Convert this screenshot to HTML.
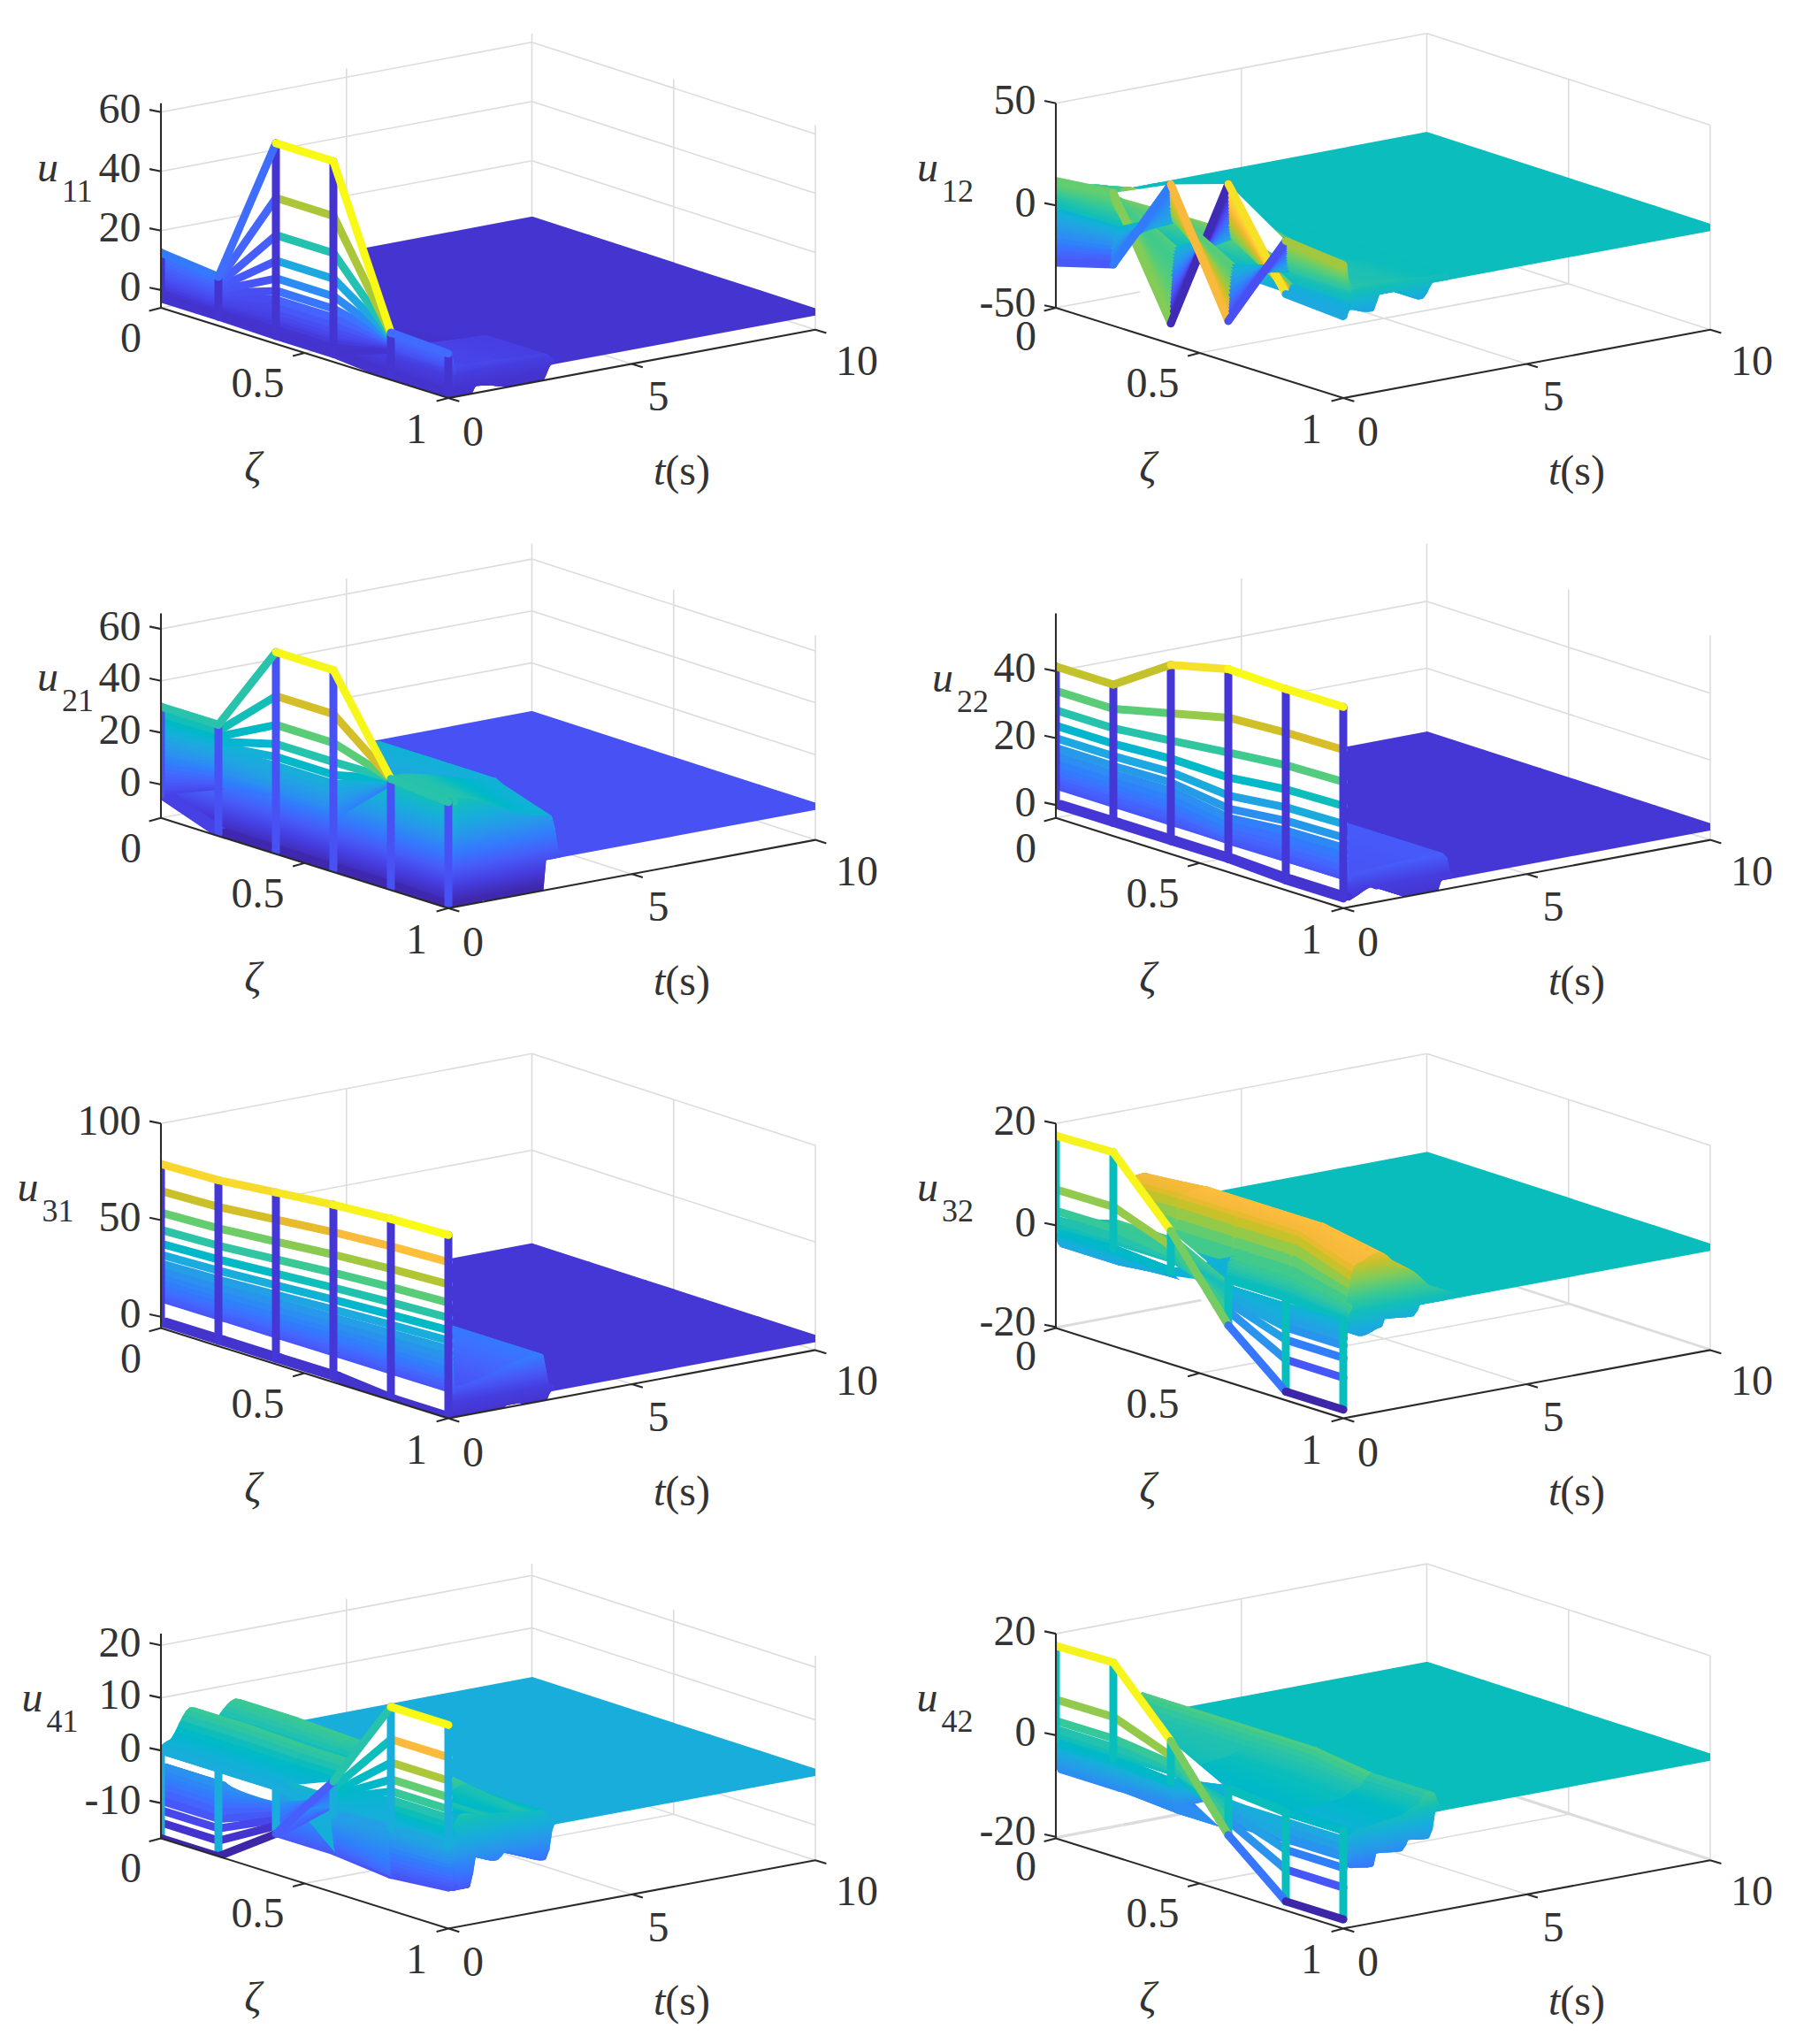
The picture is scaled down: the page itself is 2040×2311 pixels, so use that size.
<!DOCTYPE html><html><head><meta charset="utf-8"><title>figure</title><style>html,body{margin:0;padding:0;background:#fff}svg{display:block}text{font-family:"Liberation Serif",serif;font-size:48px;fill:#333}.g{fill:none;stroke:#dcdcdc;stroke-width:1.6}.a{fill:none;stroke:#2a2a2a;stroke-width:2.1}.s path{fill:currentColor;stroke:currentColor;stroke-width:8;stroke-linejoin:round}.r path{fill:none;stroke:currentColor;stroke-width:9;stroke-linecap:round;stroke-linejoin:round}</style></head><body><svg width="2040" height="2311" viewBox="0 0 2040 2311"><rect width="2040" height="2311" fill="#fff"/><defs><clipPath id="c00"><path d="M182,348L507,450L922,372.8L922,141.5L601.5,37.7L182,116.7Z"/></clipPath><clipPath id="c10"><path d="M1194,348L1519,450L1934,372.8L1934,141.5L1613.5,37.7L1194,116.7Z"/></clipPath><clipPath id="c01"><path d="M182,924.8L507,1026.8L922,949.6L922,718.3L601.5,614.5L182,693.5Z"/></clipPath><clipPath id="c11"><path d="M1194,924.8L1519,1026.8L1934,949.6L1934,718.3L1613.5,614.5L1194,693.5Z"/></clipPath><clipPath id="c02"><path d="M182,1501.6L507,1603.6L922,1526.4L922,1295.1L601.5,1191.3L182,1270.3Z"/></clipPath><clipPath id="c12"><path d="M1194,1501.6L1519,1603.6L1934,1526.4L1934,1295.1L1613.5,1191.3L1194,1270.3Z"/></clipPath><clipPath id="c03"><path d="M182,2078.4L507,2180.4L922,2103.2L922,1871.9L601.5,1768.1L182,1847.1Z"/></clipPath><clipPath id="c13"><path d="M1194,2078.4L1519,2180.4L1934,2103.2L1934,1871.9L1613.5,1768.1L1194,1847.1Z"/></clipPath><linearGradient id="g004" gradientUnits="userSpaceOnUse" x1="442" y1="422.2" x2="402.2" y2="209.1"><stop offset="0%" stop-color="#4433cc"/><stop offset="8.3%" stop-color="#463de0"/><stop offset="16.7%" stop-color="#475bf9"/><stop offset="25%" stop-color="#347afd"/><stop offset="33.3%" stop-color="#2797eb"/><stop offset="41.7%" stop-color="#17aeda"/><stop offset="50%" stop-color="#12beb9"/><stop offset="58.3%" stop-color="#3dc990"/><stop offset="66.7%" stop-color="#81cc59"/><stop offset="75%" stop-color="#c8c129"/><stop offset="83.3%" stop-color="#fbbc3d"/><stop offset="91.7%" stop-color="#f7db2b"/><stop offset="100%" stop-color="#f9fb15"/></linearGradient><linearGradient id="g005" gradientUnits="userSpaceOnUse" x1="507" y1="442.6" x2="467.3" y2="229.4"><stop offset="0%" stop-color="#4433cc"/><stop offset="8.3%" stop-color="#463de0"/><stop offset="16.7%" stop-color="#475bf9"/><stop offset="25%" stop-color="#347afd"/><stop offset="33.3%" stop-color="#2797eb"/><stop offset="41.7%" stop-color="#17aeda"/><stop offset="50%" stop-color="#12beb9"/><stop offset="58.3%" stop-color="#3dc990"/><stop offset="66.7%" stop-color="#81cc59"/><stop offset="75%" stop-color="#c8c129"/><stop offset="83.3%" stop-color="#fbbc3d"/><stop offset="91.7%" stop-color="#f7db2b"/><stop offset="100%" stop-color="#f9fb15"/></linearGradient><linearGradient id="f003" gradientUnits="userSpaceOnUse" x1="377" y1="401.8" x2="440" y2="201"><stop offset="0%" stop-color="#4433cc"/><stop offset="8.3%" stop-color="#463de0"/><stop offset="16.7%" stop-color="#475bf9"/><stop offset="25%" stop-color="#347afd"/><stop offset="33.3%" stop-color="#2797eb"/><stop offset="41.7%" stop-color="#17aeda"/><stop offset="50%" stop-color="#12beb9"/><stop offset="58.3%" stop-color="#3dc990"/><stop offset="66.7%" stop-color="#81cc59"/><stop offset="75%" stop-color="#c8c129"/><stop offset="83.3%" stop-color="#fbbc3d"/><stop offset="91.7%" stop-color="#f7db2b"/><stop offset="100%" stop-color="#f9fb15"/></linearGradient><linearGradient id="f004" gradientUnits="userSpaceOnUse" x1="442" y1="422.2" x2="505" y2="221.4"><stop offset="0%" stop-color="#4433cc"/><stop offset="8.3%" stop-color="#463de0"/><stop offset="16.7%" stop-color="#475bf9"/><stop offset="25%" stop-color="#347afd"/><stop offset="33.3%" stop-color="#2797eb"/><stop offset="41.7%" stop-color="#17aeda"/><stop offset="50%" stop-color="#12beb9"/><stop offset="58.3%" stop-color="#3dc990"/><stop offset="66.7%" stop-color="#81cc59"/><stop offset="75%" stop-color="#c8c129"/><stop offset="83.3%" stop-color="#fbbc3d"/><stop offset="91.7%" stop-color="#f7db2b"/><stop offset="100%" stop-color="#f9fb15"/></linearGradient><linearGradient id="g100" gradientUnits="userSpaceOnUse" x1="1194" y1="328.6" x2="1158.4" y2="139.6"><stop offset="0%" stop-color="#3e26a8"/><stop offset="8.3%" stop-color="#463de0"/><stop offset="16.7%" stop-color="#475bf9"/><stop offset="25%" stop-color="#347afd"/><stop offset="33.3%" stop-color="#2797eb"/><stop offset="41.7%" stop-color="#17aeda"/><stop offset="50%" stop-color="#12beb9"/><stop offset="58.3%" stop-color="#3dc990"/><stop offset="66.7%" stop-color="#81cc59"/><stop offset="75%" stop-color="#c8c129"/><stop offset="83.3%" stop-color="#fbbc3d"/><stop offset="91.7%" stop-color="#f7db2b"/><stop offset="100%" stop-color="#f9fb15"/></linearGradient><linearGradient id="g101" gradientUnits="userSpaceOnUse" x1="1259" y1="349" x2="1223.5" y2="160"><stop offset="0%" stop-color="#3e26a8"/><stop offset="8.3%" stop-color="#463de0"/><stop offset="16.7%" stop-color="#475bf9"/><stop offset="25%" stop-color="#347afd"/><stop offset="33.3%" stop-color="#2797eb"/><stop offset="41.7%" stop-color="#17aeda"/><stop offset="50%" stop-color="#12beb9"/><stop offset="58.3%" stop-color="#3dc990"/><stop offset="66.7%" stop-color="#81cc59"/><stop offset="75%" stop-color="#c8c129"/><stop offset="83.3%" stop-color="#fbbc3d"/><stop offset="91.7%" stop-color="#f7db2b"/><stop offset="100%" stop-color="#f9fb15"/></linearGradient><linearGradient id="g102" gradientUnits="userSpaceOnUse" x1="1324" y1="369.4" x2="1288.6" y2="180.3"><stop offset="0%" stop-color="#3e26a8"/><stop offset="8.3%" stop-color="#463de0"/><stop offset="16.7%" stop-color="#475bf9"/><stop offset="25%" stop-color="#347afd"/><stop offset="33.3%" stop-color="#2797eb"/><stop offset="41.7%" stop-color="#17aeda"/><stop offset="50%" stop-color="#12beb9"/><stop offset="58.3%" stop-color="#3dc990"/><stop offset="66.7%" stop-color="#81cc59"/><stop offset="75%" stop-color="#c8c129"/><stop offset="83.3%" stop-color="#fbbc3d"/><stop offset="91.7%" stop-color="#f7db2b"/><stop offset="100%" stop-color="#f9fb15"/></linearGradient><linearGradient id="g103" gradientUnits="userSpaceOnUse" x1="1389" y1="389.8" x2="1353.7" y2="200.7"><stop offset="0%" stop-color="#3e26a8"/><stop offset="8.3%" stop-color="#463de0"/><stop offset="16.7%" stop-color="#475bf9"/><stop offset="25%" stop-color="#347afd"/><stop offset="33.3%" stop-color="#2797eb"/><stop offset="41.7%" stop-color="#17aeda"/><stop offset="50%" stop-color="#12beb9"/><stop offset="58.3%" stop-color="#3dc990"/><stop offset="66.7%" stop-color="#81cc59"/><stop offset="75%" stop-color="#c8c129"/><stop offset="83.3%" stop-color="#fbbc3d"/><stop offset="91.7%" stop-color="#f7db2b"/><stop offset="100%" stop-color="#f9fb15"/></linearGradient><linearGradient id="g104" gradientUnits="userSpaceOnUse" x1="1454" y1="410.2" x2="1418.7" y2="221.1"><stop offset="0%" stop-color="#3e26a8"/><stop offset="8.3%" stop-color="#463de0"/><stop offset="16.7%" stop-color="#475bf9"/><stop offset="25%" stop-color="#347afd"/><stop offset="33.3%" stop-color="#2797eb"/><stop offset="41.7%" stop-color="#17aeda"/><stop offset="50%" stop-color="#12beb9"/><stop offset="58.3%" stop-color="#3dc990"/><stop offset="66.7%" stop-color="#81cc59"/><stop offset="75%" stop-color="#c8c129"/><stop offset="83.3%" stop-color="#fbbc3d"/><stop offset="91.7%" stop-color="#f7db2b"/><stop offset="100%" stop-color="#f9fb15"/></linearGradient><linearGradient id="g105" gradientUnits="userSpaceOnUse" x1="1519" y1="430.6" x2="1483.8" y2="241.4"><stop offset="0%" stop-color="#3e26a8"/><stop offset="8.3%" stop-color="#463de0"/><stop offset="16.7%" stop-color="#475bf9"/><stop offset="25%" stop-color="#347afd"/><stop offset="33.3%" stop-color="#2797eb"/><stop offset="41.7%" stop-color="#17aeda"/><stop offset="50%" stop-color="#12beb9"/><stop offset="58.3%" stop-color="#3dc990"/><stop offset="66.7%" stop-color="#81cc59"/><stop offset="75%" stop-color="#c8c129"/><stop offset="83.3%" stop-color="#fbbc3d"/><stop offset="91.7%" stop-color="#f7db2b"/><stop offset="100%" stop-color="#f9fb15"/></linearGradient><linearGradient id="f100" gradientUnits="userSpaceOnUse" x1="1194" y1="328.6" x2="1249.9" y2="150.4"><stop offset="0%" stop-color="#3e26a8"/><stop offset="8.3%" stop-color="#463de0"/><stop offset="16.7%" stop-color="#475bf9"/><stop offset="25%" stop-color="#347afd"/><stop offset="33.3%" stop-color="#2797eb"/><stop offset="41.7%" stop-color="#17aeda"/><stop offset="50%" stop-color="#12beb9"/><stop offset="58.3%" stop-color="#3dc990"/><stop offset="66.7%" stop-color="#81cc59"/><stop offset="75%" stop-color="#c8c129"/><stop offset="83.3%" stop-color="#fbbc3d"/><stop offset="91.7%" stop-color="#f7db2b"/><stop offset="100%" stop-color="#f9fb15"/></linearGradient><linearGradient id="f101" gradientUnits="userSpaceOnUse" x1="1259" y1="349" x2="1314.9" y2="170.8"><stop offset="0%" stop-color="#3e26a8"/><stop offset="8.3%" stop-color="#463de0"/><stop offset="16.7%" stop-color="#475bf9"/><stop offset="25%" stop-color="#347afd"/><stop offset="33.3%" stop-color="#2797eb"/><stop offset="41.7%" stop-color="#17aeda"/><stop offset="50%" stop-color="#12beb9"/><stop offset="58.3%" stop-color="#3dc990"/><stop offset="66.7%" stop-color="#81cc59"/><stop offset="75%" stop-color="#c8c129"/><stop offset="83.3%" stop-color="#fbbc3d"/><stop offset="91.7%" stop-color="#f7db2b"/><stop offset="100%" stop-color="#f9fb15"/></linearGradient><linearGradient id="f102" gradientUnits="userSpaceOnUse" x1="1324" y1="369.4" x2="1379.9" y2="191.2"><stop offset="0%" stop-color="#3e26a8"/><stop offset="8.3%" stop-color="#463de0"/><stop offset="16.7%" stop-color="#475bf9"/><stop offset="25%" stop-color="#347afd"/><stop offset="33.3%" stop-color="#2797eb"/><stop offset="41.7%" stop-color="#17aeda"/><stop offset="50%" stop-color="#12beb9"/><stop offset="58.3%" stop-color="#3dc990"/><stop offset="66.7%" stop-color="#81cc59"/><stop offset="75%" stop-color="#c8c129"/><stop offset="83.3%" stop-color="#fbbc3d"/><stop offset="91.7%" stop-color="#f7db2b"/><stop offset="100%" stop-color="#f9fb15"/></linearGradient><linearGradient id="f103" gradientUnits="userSpaceOnUse" x1="1389" y1="389.8" x2="1444.9" y2="211.6"><stop offset="0%" stop-color="#3e26a8"/><stop offset="8.3%" stop-color="#463de0"/><stop offset="16.7%" stop-color="#475bf9"/><stop offset="25%" stop-color="#347afd"/><stop offset="33.3%" stop-color="#2797eb"/><stop offset="41.7%" stop-color="#17aeda"/><stop offset="50%" stop-color="#12beb9"/><stop offset="58.3%" stop-color="#3dc990"/><stop offset="66.7%" stop-color="#81cc59"/><stop offset="75%" stop-color="#c8c129"/><stop offset="83.3%" stop-color="#fbbc3d"/><stop offset="91.7%" stop-color="#f7db2b"/><stop offset="100%" stop-color="#f9fb15"/></linearGradient><linearGradient id="f104" gradientUnits="userSpaceOnUse" x1="1454" y1="410.2" x2="1509.9" y2="232"><stop offset="0%" stop-color="#3e26a8"/><stop offset="8.3%" stop-color="#463de0"/><stop offset="16.7%" stop-color="#475bf9"/><stop offset="25%" stop-color="#347afd"/><stop offset="33.3%" stop-color="#2797eb"/><stop offset="41.7%" stop-color="#17aeda"/><stop offset="50%" stop-color="#12beb9"/><stop offset="58.3%" stop-color="#3dc990"/><stop offset="66.7%" stop-color="#81cc59"/><stop offset="75%" stop-color="#c8c129"/><stop offset="83.3%" stop-color="#fbbc3d"/><stop offset="91.7%" stop-color="#f7db2b"/><stop offset="100%" stop-color="#f9fb15"/></linearGradient><linearGradient id="g010" gradientUnits="userSpaceOnUse" x1="182" y1="919.2" x2="140.9" y2="701.2"><stop offset="0%" stop-color="#3f28ad"/><stop offset="8.3%" stop-color="#463de0"/><stop offset="16.7%" stop-color="#475bf9"/><stop offset="25%" stop-color="#347afd"/><stop offset="33.3%" stop-color="#2797eb"/><stop offset="41.7%" stop-color="#17aeda"/><stop offset="50%" stop-color="#12beb9"/><stop offset="58.3%" stop-color="#3dc990"/><stop offset="66.7%" stop-color="#81cc59"/><stop offset="75%" stop-color="#c8c129"/><stop offset="83.3%" stop-color="#fbbc3d"/><stop offset="91.7%" stop-color="#f7db2b"/><stop offset="100%" stop-color="#f9fb15"/></linearGradient><linearGradient id="g011" gradientUnits="userSpaceOnUse" x1="247" y1="939.6" x2="206" y2="721.6"><stop offset="0%" stop-color="#3f28ad"/><stop offset="8.3%" stop-color="#463de0"/><stop offset="16.7%" stop-color="#475bf9"/><stop offset="25%" stop-color="#347afd"/><stop offset="33.3%" stop-color="#2797eb"/><stop offset="41.7%" stop-color="#17aeda"/><stop offset="50%" stop-color="#12beb9"/><stop offset="58.3%" stop-color="#3dc990"/><stop offset="66.7%" stop-color="#81cc59"/><stop offset="75%" stop-color="#c8c129"/><stop offset="83.3%" stop-color="#fbbc3d"/><stop offset="91.7%" stop-color="#f7db2b"/><stop offset="100%" stop-color="#f9fb15"/></linearGradient><linearGradient id="g012" gradientUnits="userSpaceOnUse" x1="312" y1="960" x2="271.1" y2="742"><stop offset="0%" stop-color="#3f28ad"/><stop offset="8.3%" stop-color="#463de0"/><stop offset="16.7%" stop-color="#475bf9"/><stop offset="25%" stop-color="#347afd"/><stop offset="33.3%" stop-color="#2797eb"/><stop offset="41.7%" stop-color="#17aeda"/><stop offset="50%" stop-color="#12beb9"/><stop offset="58.3%" stop-color="#3dc990"/><stop offset="66.7%" stop-color="#81cc59"/><stop offset="75%" stop-color="#c8c129"/><stop offset="83.3%" stop-color="#fbbc3d"/><stop offset="91.7%" stop-color="#f7db2b"/><stop offset="100%" stop-color="#f9fb15"/></linearGradient><linearGradient id="g013" gradientUnits="userSpaceOnUse" x1="377" y1="980.4" x2="336.2" y2="762.3"><stop offset="0%" stop-color="#3f28ad"/><stop offset="8.3%" stop-color="#463de0"/><stop offset="16.7%" stop-color="#475bf9"/><stop offset="25%" stop-color="#347afd"/><stop offset="33.3%" stop-color="#2797eb"/><stop offset="41.7%" stop-color="#17aeda"/><stop offset="50%" stop-color="#12beb9"/><stop offset="58.3%" stop-color="#3dc990"/><stop offset="66.7%" stop-color="#81cc59"/><stop offset="75%" stop-color="#c8c129"/><stop offset="83.3%" stop-color="#fbbc3d"/><stop offset="91.7%" stop-color="#f7db2b"/><stop offset="100%" stop-color="#f9fb15"/></linearGradient><linearGradient id="g014" gradientUnits="userSpaceOnUse" x1="442" y1="1000.8" x2="401.3" y2="782.7"><stop offset="0%" stop-color="#3f28ad"/><stop offset="8.3%" stop-color="#463de0"/><stop offset="16.7%" stop-color="#475bf9"/><stop offset="25%" stop-color="#347afd"/><stop offset="33.3%" stop-color="#2797eb"/><stop offset="41.7%" stop-color="#17aeda"/><stop offset="50%" stop-color="#12beb9"/><stop offset="58.3%" stop-color="#3dc990"/><stop offset="66.7%" stop-color="#81cc59"/><stop offset="75%" stop-color="#c8c129"/><stop offset="83.3%" stop-color="#fbbc3d"/><stop offset="91.7%" stop-color="#f7db2b"/><stop offset="100%" stop-color="#f9fb15"/></linearGradient><linearGradient id="g015" gradientUnits="userSpaceOnUse" x1="507" y1="1021.2" x2="466.4" y2="803.1"><stop offset="0%" stop-color="#3f28ad"/><stop offset="8.3%" stop-color="#463de0"/><stop offset="16.7%" stop-color="#475bf9"/><stop offset="25%" stop-color="#347afd"/><stop offset="33.3%" stop-color="#2797eb"/><stop offset="41.7%" stop-color="#17aeda"/><stop offset="50%" stop-color="#12beb9"/><stop offset="58.3%" stop-color="#3dc990"/><stop offset="66.7%" stop-color="#81cc59"/><stop offset="75%" stop-color="#c8c129"/><stop offset="83.3%" stop-color="#fbbc3d"/><stop offset="91.7%" stop-color="#f7db2b"/><stop offset="100%" stop-color="#f9fb15"/></linearGradient><linearGradient id="f010" gradientUnits="userSpaceOnUse" x1="182" y1="919.2" x2="246.5" y2="713.7"><stop offset="0%" stop-color="#3f28ad"/><stop offset="8.3%" stop-color="#463de0"/><stop offset="16.7%" stop-color="#475bf9"/><stop offset="25%" stop-color="#347afd"/><stop offset="33.3%" stop-color="#2797eb"/><stop offset="41.7%" stop-color="#17aeda"/><stop offset="50%" stop-color="#12beb9"/><stop offset="58.3%" stop-color="#3dc990"/><stop offset="66.7%" stop-color="#81cc59"/><stop offset="75%" stop-color="#c8c129"/><stop offset="83.3%" stop-color="#fbbc3d"/><stop offset="91.7%" stop-color="#f7db2b"/><stop offset="100%" stop-color="#f9fb15"/></linearGradient><linearGradient id="f011" gradientUnits="userSpaceOnUse" x1="247" y1="939.6" x2="311.5" y2="734.1"><stop offset="0%" stop-color="#3f28ad"/><stop offset="8.3%" stop-color="#463de0"/><stop offset="16.7%" stop-color="#475bf9"/><stop offset="25%" stop-color="#347afd"/><stop offset="33.3%" stop-color="#2797eb"/><stop offset="41.7%" stop-color="#17aeda"/><stop offset="50%" stop-color="#12beb9"/><stop offset="58.3%" stop-color="#3dc990"/><stop offset="66.7%" stop-color="#81cc59"/><stop offset="75%" stop-color="#c8c129"/><stop offset="83.3%" stop-color="#fbbc3d"/><stop offset="91.7%" stop-color="#f7db2b"/><stop offset="100%" stop-color="#f9fb15"/></linearGradient><linearGradient id="f012" gradientUnits="userSpaceOnUse" x1="312" y1="960" x2="376.5" y2="754.5"><stop offset="0%" stop-color="#3f28ad"/><stop offset="8.3%" stop-color="#463de0"/><stop offset="16.7%" stop-color="#475bf9"/><stop offset="25%" stop-color="#347afd"/><stop offset="33.3%" stop-color="#2797eb"/><stop offset="41.7%" stop-color="#17aeda"/><stop offset="50%" stop-color="#12beb9"/><stop offset="58.3%" stop-color="#3dc990"/><stop offset="66.7%" stop-color="#81cc59"/><stop offset="75%" stop-color="#c8c129"/><stop offset="83.3%" stop-color="#fbbc3d"/><stop offset="91.7%" stop-color="#f7db2b"/><stop offset="100%" stop-color="#f9fb15"/></linearGradient><linearGradient id="f013" gradientUnits="userSpaceOnUse" x1="377" y1="980.4" x2="441.5" y2="774.9"><stop offset="0%" stop-color="#3f28ad"/><stop offset="8.3%" stop-color="#463de0"/><stop offset="16.7%" stop-color="#475bf9"/><stop offset="25%" stop-color="#347afd"/><stop offset="33.3%" stop-color="#2797eb"/><stop offset="41.7%" stop-color="#17aeda"/><stop offset="50%" stop-color="#12beb9"/><stop offset="58.3%" stop-color="#3dc990"/><stop offset="66.7%" stop-color="#81cc59"/><stop offset="75%" stop-color="#c8c129"/><stop offset="83.3%" stop-color="#fbbc3d"/><stop offset="91.7%" stop-color="#f7db2b"/><stop offset="100%" stop-color="#f9fb15"/></linearGradient><linearGradient id="f014" gradientUnits="userSpaceOnUse" x1="442" y1="1000.8" x2="506.5" y2="795.3"><stop offset="0%" stop-color="#3f28ad"/><stop offset="8.3%" stop-color="#463de0"/><stop offset="16.7%" stop-color="#475bf9"/><stop offset="25%" stop-color="#347afd"/><stop offset="33.3%" stop-color="#2797eb"/><stop offset="41.7%" stop-color="#17aeda"/><stop offset="50%" stop-color="#12beb9"/><stop offset="58.3%" stop-color="#3dc990"/><stop offset="66.7%" stop-color="#81cc59"/><stop offset="75%" stop-color="#c8c129"/><stop offset="83.3%" stop-color="#fbbc3d"/><stop offset="91.7%" stop-color="#f7db2b"/><stop offset="100%" stop-color="#f9fb15"/></linearGradient><linearGradient id="g110" gradientUnits="userSpaceOnUse" x1="1194" y1="924.8" x2="1152.1" y2="702.5"><stop offset="0%" stop-color="#4435d0"/><stop offset="8.3%" stop-color="#463de0"/><stop offset="16.7%" stop-color="#475bf9"/><stop offset="25%" stop-color="#347afd"/><stop offset="33.3%" stop-color="#2797eb"/><stop offset="41.7%" stop-color="#17aeda"/><stop offset="50%" stop-color="#12beb9"/><stop offset="58.3%" stop-color="#3dc990"/><stop offset="66.7%" stop-color="#81cc59"/><stop offset="75%" stop-color="#c8c129"/><stop offset="83.3%" stop-color="#fbbc3d"/><stop offset="91.7%" stop-color="#f7db2b"/><stop offset="100%" stop-color="#f9fb15"/></linearGradient><linearGradient id="g111" gradientUnits="userSpaceOnUse" x1="1259" y1="945.2" x2="1217.2" y2="722.9"><stop offset="0%" stop-color="#4435d0"/><stop offset="8.3%" stop-color="#463de0"/><stop offset="16.7%" stop-color="#475bf9"/><stop offset="25%" stop-color="#347afd"/><stop offset="33.3%" stop-color="#2797eb"/><stop offset="41.7%" stop-color="#17aeda"/><stop offset="50%" stop-color="#12beb9"/><stop offset="58.3%" stop-color="#3dc990"/><stop offset="66.7%" stop-color="#81cc59"/><stop offset="75%" stop-color="#c8c129"/><stop offset="83.3%" stop-color="#fbbc3d"/><stop offset="91.7%" stop-color="#f7db2b"/><stop offset="100%" stop-color="#f9fb15"/></linearGradient><linearGradient id="g112" gradientUnits="userSpaceOnUse" x1="1324" y1="965.6" x2="1282.3" y2="743.2"><stop offset="0%" stop-color="#4435d0"/><stop offset="8.3%" stop-color="#463de0"/><stop offset="16.7%" stop-color="#475bf9"/><stop offset="25%" stop-color="#347afd"/><stop offset="33.3%" stop-color="#2797eb"/><stop offset="41.7%" stop-color="#17aeda"/><stop offset="50%" stop-color="#12beb9"/><stop offset="58.3%" stop-color="#3dc990"/><stop offset="66.7%" stop-color="#81cc59"/><stop offset="75%" stop-color="#c8c129"/><stop offset="83.3%" stop-color="#fbbc3d"/><stop offset="91.7%" stop-color="#f7db2b"/><stop offset="100%" stop-color="#f9fb15"/></linearGradient><linearGradient id="g113" gradientUnits="userSpaceOnUse" x1="1389" y1="986" x2="1347.4" y2="763.6"><stop offset="0%" stop-color="#4435d0"/><stop offset="8.3%" stop-color="#463de0"/><stop offset="16.7%" stop-color="#475bf9"/><stop offset="25%" stop-color="#347afd"/><stop offset="33.3%" stop-color="#2797eb"/><stop offset="41.7%" stop-color="#17aeda"/><stop offset="50%" stop-color="#12beb9"/><stop offset="58.3%" stop-color="#3dc990"/><stop offset="66.7%" stop-color="#81cc59"/><stop offset="75%" stop-color="#c8c129"/><stop offset="83.3%" stop-color="#fbbc3d"/><stop offset="91.7%" stop-color="#f7db2b"/><stop offset="100%" stop-color="#f9fb15"/></linearGradient><linearGradient id="g114" gradientUnits="userSpaceOnUse" x1="1454" y1="1006.4" x2="1412.5" y2="784"><stop offset="0%" stop-color="#4435d0"/><stop offset="8.3%" stop-color="#463de0"/><stop offset="16.7%" stop-color="#475bf9"/><stop offset="25%" stop-color="#347afd"/><stop offset="33.3%" stop-color="#2797eb"/><stop offset="41.7%" stop-color="#17aeda"/><stop offset="50%" stop-color="#12beb9"/><stop offset="58.3%" stop-color="#3dc990"/><stop offset="66.7%" stop-color="#81cc59"/><stop offset="75%" stop-color="#c8c129"/><stop offset="83.3%" stop-color="#fbbc3d"/><stop offset="91.7%" stop-color="#f7db2b"/><stop offset="100%" stop-color="#f9fb15"/></linearGradient><linearGradient id="g115" gradientUnits="userSpaceOnUse" x1="1519" y1="1026.8" x2="1477.6" y2="804.3"><stop offset="0%" stop-color="#4435d0"/><stop offset="8.3%" stop-color="#463de0"/><stop offset="16.7%" stop-color="#475bf9"/><stop offset="25%" stop-color="#347afd"/><stop offset="33.3%" stop-color="#2797eb"/><stop offset="41.7%" stop-color="#17aeda"/><stop offset="50%" stop-color="#12beb9"/><stop offset="58.3%" stop-color="#3dc990"/><stop offset="66.7%" stop-color="#81cc59"/><stop offset="75%" stop-color="#c8c129"/><stop offset="83.3%" stop-color="#fbbc3d"/><stop offset="91.7%" stop-color="#f7db2b"/><stop offset="100%" stop-color="#f9fb15"/></linearGradient><linearGradient id="g020" gradientUnits="userSpaceOnUse" x1="182" y1="1501.6" x2="144.7" y2="1303.5"><stop offset="0%" stop-color="#4434ce"/><stop offset="8.3%" stop-color="#463de0"/><stop offset="16.7%" stop-color="#475bf9"/><stop offset="25%" stop-color="#347afd"/><stop offset="33.3%" stop-color="#2797eb"/><stop offset="41.7%" stop-color="#17aeda"/><stop offset="50%" stop-color="#12beb9"/><stop offset="58.3%" stop-color="#3dc990"/><stop offset="66.7%" stop-color="#81cc59"/><stop offset="75%" stop-color="#c8c129"/><stop offset="83.3%" stop-color="#fbbc3d"/><stop offset="91.7%" stop-color="#f7db2b"/><stop offset="100%" stop-color="#f9fb15"/></linearGradient><linearGradient id="g021" gradientUnits="userSpaceOnUse" x1="247" y1="1522" x2="209.8" y2="1323.9"><stop offset="0%" stop-color="#4434ce"/><stop offset="8.3%" stop-color="#463de0"/><stop offset="16.7%" stop-color="#475bf9"/><stop offset="25%" stop-color="#347afd"/><stop offset="33.3%" stop-color="#2797eb"/><stop offset="41.7%" stop-color="#17aeda"/><stop offset="50%" stop-color="#12beb9"/><stop offset="58.3%" stop-color="#3dc990"/><stop offset="66.7%" stop-color="#81cc59"/><stop offset="75%" stop-color="#c8c129"/><stop offset="83.3%" stop-color="#fbbc3d"/><stop offset="91.7%" stop-color="#f7db2b"/><stop offset="100%" stop-color="#f9fb15"/></linearGradient><linearGradient id="g022" gradientUnits="userSpaceOnUse" x1="312" y1="1542.4" x2="274.9" y2="1344.3"><stop offset="0%" stop-color="#4434ce"/><stop offset="8.3%" stop-color="#463de0"/><stop offset="16.7%" stop-color="#475bf9"/><stop offset="25%" stop-color="#347afd"/><stop offset="33.3%" stop-color="#2797eb"/><stop offset="41.7%" stop-color="#17aeda"/><stop offset="50%" stop-color="#12beb9"/><stop offset="58.3%" stop-color="#3dc990"/><stop offset="66.7%" stop-color="#81cc59"/><stop offset="75%" stop-color="#c8c129"/><stop offset="83.3%" stop-color="#fbbc3d"/><stop offset="91.7%" stop-color="#f7db2b"/><stop offset="100%" stop-color="#f9fb15"/></linearGradient><linearGradient id="g023" gradientUnits="userSpaceOnUse" x1="377" y1="1562.8" x2="340" y2="1364.6"><stop offset="0%" stop-color="#4434ce"/><stop offset="8.3%" stop-color="#463de0"/><stop offset="16.7%" stop-color="#475bf9"/><stop offset="25%" stop-color="#347afd"/><stop offset="33.3%" stop-color="#2797eb"/><stop offset="41.7%" stop-color="#17aeda"/><stop offset="50%" stop-color="#12beb9"/><stop offset="58.3%" stop-color="#3dc990"/><stop offset="66.7%" stop-color="#81cc59"/><stop offset="75%" stop-color="#c8c129"/><stop offset="83.3%" stop-color="#fbbc3d"/><stop offset="91.7%" stop-color="#f7db2b"/><stop offset="100%" stop-color="#f9fb15"/></linearGradient><linearGradient id="g024" gradientUnits="userSpaceOnUse" x1="442" y1="1583.2" x2="405" y2="1385"><stop offset="0%" stop-color="#4434ce"/><stop offset="8.3%" stop-color="#463de0"/><stop offset="16.7%" stop-color="#475bf9"/><stop offset="25%" stop-color="#347afd"/><stop offset="33.3%" stop-color="#2797eb"/><stop offset="41.7%" stop-color="#17aeda"/><stop offset="50%" stop-color="#12beb9"/><stop offset="58.3%" stop-color="#3dc990"/><stop offset="66.7%" stop-color="#81cc59"/><stop offset="75%" stop-color="#c8c129"/><stop offset="83.3%" stop-color="#fbbc3d"/><stop offset="91.7%" stop-color="#f7db2b"/><stop offset="100%" stop-color="#f9fb15"/></linearGradient><linearGradient id="g025" gradientUnits="userSpaceOnUse" x1="507" y1="1603.6" x2="470.1" y2="1405.4"><stop offset="0%" stop-color="#4434ce"/><stop offset="8.3%" stop-color="#463de0"/><stop offset="16.7%" stop-color="#475bf9"/><stop offset="25%" stop-color="#347afd"/><stop offset="33.3%" stop-color="#2797eb"/><stop offset="41.7%" stop-color="#17aeda"/><stop offset="50%" stop-color="#12beb9"/><stop offset="58.3%" stop-color="#3dc990"/><stop offset="66.7%" stop-color="#81cc59"/><stop offset="75%" stop-color="#c8c129"/><stop offset="83.3%" stop-color="#fbbc3d"/><stop offset="91.7%" stop-color="#f7db2b"/><stop offset="100%" stop-color="#f9fb15"/></linearGradient><linearGradient id="g120" gradientUnits="userSpaceOnUse" x1="1194" y1="1487.8" x2="1156" y2="1286.1"><stop offset="0%" stop-color="#3e26a8"/><stop offset="8.3%" stop-color="#463de0"/><stop offset="16.7%" stop-color="#475bf9"/><stop offset="25%" stop-color="#347afd"/><stop offset="33.3%" stop-color="#2797eb"/><stop offset="41.7%" stop-color="#17aeda"/><stop offset="50%" stop-color="#12beb9"/><stop offset="58.3%" stop-color="#3dc990"/><stop offset="66.7%" stop-color="#81cc59"/><stop offset="75%" stop-color="#c8c129"/><stop offset="83.3%" stop-color="#fbbc3d"/><stop offset="91.7%" stop-color="#f7db2b"/><stop offset="100%" stop-color="#f9fb15"/></linearGradient><linearGradient id="g121" gradientUnits="userSpaceOnUse" x1="1259" y1="1508.2" x2="1221.1" y2="1306.5"><stop offset="0%" stop-color="#3e26a8"/><stop offset="8.3%" stop-color="#463de0"/><stop offset="16.7%" stop-color="#475bf9"/><stop offset="25%" stop-color="#347afd"/><stop offset="33.3%" stop-color="#2797eb"/><stop offset="41.7%" stop-color="#17aeda"/><stop offset="50%" stop-color="#12beb9"/><stop offset="58.3%" stop-color="#3dc990"/><stop offset="66.7%" stop-color="#81cc59"/><stop offset="75%" stop-color="#c8c129"/><stop offset="83.3%" stop-color="#fbbc3d"/><stop offset="91.7%" stop-color="#f7db2b"/><stop offset="100%" stop-color="#f9fb15"/></linearGradient><linearGradient id="g122" gradientUnits="userSpaceOnUse" x1="1324" y1="1528.6" x2="1286.2" y2="1326.8"><stop offset="0%" stop-color="#3e26a8"/><stop offset="8.3%" stop-color="#463de0"/><stop offset="16.7%" stop-color="#475bf9"/><stop offset="25%" stop-color="#347afd"/><stop offset="33.3%" stop-color="#2797eb"/><stop offset="41.7%" stop-color="#17aeda"/><stop offset="50%" stop-color="#12beb9"/><stop offset="58.3%" stop-color="#3dc990"/><stop offset="66.7%" stop-color="#81cc59"/><stop offset="75%" stop-color="#c8c129"/><stop offset="83.3%" stop-color="#fbbc3d"/><stop offset="91.7%" stop-color="#f7db2b"/><stop offset="100%" stop-color="#f9fb15"/></linearGradient><linearGradient id="g123" gradientUnits="userSpaceOnUse" x1="1389" y1="1549" x2="1351.3" y2="1347.2"><stop offset="0%" stop-color="#3e26a8"/><stop offset="8.3%" stop-color="#463de0"/><stop offset="16.7%" stop-color="#475bf9"/><stop offset="25%" stop-color="#347afd"/><stop offset="33.3%" stop-color="#2797eb"/><stop offset="41.7%" stop-color="#17aeda"/><stop offset="50%" stop-color="#12beb9"/><stop offset="58.3%" stop-color="#3dc990"/><stop offset="66.7%" stop-color="#81cc59"/><stop offset="75%" stop-color="#c8c129"/><stop offset="83.3%" stop-color="#fbbc3d"/><stop offset="91.7%" stop-color="#f7db2b"/><stop offset="100%" stop-color="#f9fb15"/></linearGradient><linearGradient id="g124" gradientUnits="userSpaceOnUse" x1="1454" y1="1569.4" x2="1416.4" y2="1367.6"><stop offset="0%" stop-color="#3e26a8"/><stop offset="8.3%" stop-color="#463de0"/><stop offset="16.7%" stop-color="#475bf9"/><stop offset="25%" stop-color="#347afd"/><stop offset="33.3%" stop-color="#2797eb"/><stop offset="41.7%" stop-color="#17aeda"/><stop offset="50%" stop-color="#12beb9"/><stop offset="58.3%" stop-color="#3dc990"/><stop offset="66.7%" stop-color="#81cc59"/><stop offset="75%" stop-color="#c8c129"/><stop offset="83.3%" stop-color="#fbbc3d"/><stop offset="91.7%" stop-color="#f7db2b"/><stop offset="100%" stop-color="#f9fb15"/></linearGradient><linearGradient id="g125" gradientUnits="userSpaceOnUse" x1="1519" y1="1589.8" x2="1481.4" y2="1387.9"><stop offset="0%" stop-color="#3e26a8"/><stop offset="8.3%" stop-color="#463de0"/><stop offset="16.7%" stop-color="#475bf9"/><stop offset="25%" stop-color="#347afd"/><stop offset="33.3%" stop-color="#2797eb"/><stop offset="41.7%" stop-color="#17aeda"/><stop offset="50%" stop-color="#12beb9"/><stop offset="58.3%" stop-color="#3dc990"/><stop offset="66.7%" stop-color="#81cc59"/><stop offset="75%" stop-color="#c8c129"/><stop offset="83.3%" stop-color="#fbbc3d"/><stop offset="91.7%" stop-color="#f7db2b"/><stop offset="100%" stop-color="#f9fb15"/></linearGradient><linearGradient id="g030" gradientUnits="userSpaceOnUse" x1="182" y1="2071.9" x2="141.1" y2="1854.8"><stop offset="0%" stop-color="#3e26a8"/><stop offset="8.3%" stop-color="#463de0"/><stop offset="16.7%" stop-color="#475bf9"/><stop offset="25%" stop-color="#347afd"/><stop offset="33.3%" stop-color="#2797eb"/><stop offset="41.7%" stop-color="#17aeda"/><stop offset="50%" stop-color="#12beb9"/><stop offset="58.3%" stop-color="#3dc990"/><stop offset="66.7%" stop-color="#81cc59"/><stop offset="75%" stop-color="#c8c129"/><stop offset="83.3%" stop-color="#fbbc3d"/><stop offset="91.7%" stop-color="#f7db2b"/><stop offset="100%" stop-color="#f9fb15"/></linearGradient><linearGradient id="g031" gradientUnits="userSpaceOnUse" x1="247" y1="2092.3" x2="206.2" y2="1875.2"><stop offset="0%" stop-color="#3e26a8"/><stop offset="8.3%" stop-color="#463de0"/><stop offset="16.7%" stop-color="#475bf9"/><stop offset="25%" stop-color="#347afd"/><stop offset="33.3%" stop-color="#2797eb"/><stop offset="41.7%" stop-color="#17aeda"/><stop offset="50%" stop-color="#12beb9"/><stop offset="58.3%" stop-color="#3dc990"/><stop offset="66.7%" stop-color="#81cc59"/><stop offset="75%" stop-color="#c8c129"/><stop offset="83.3%" stop-color="#fbbc3d"/><stop offset="91.7%" stop-color="#f7db2b"/><stop offset="100%" stop-color="#f9fb15"/></linearGradient><linearGradient id="g032" gradientUnits="userSpaceOnUse" x1="312" y1="2112.7" x2="271.3" y2="1895.5"><stop offset="0%" stop-color="#3e26a8"/><stop offset="8.3%" stop-color="#463de0"/><stop offset="16.7%" stop-color="#475bf9"/><stop offset="25%" stop-color="#347afd"/><stop offset="33.3%" stop-color="#2797eb"/><stop offset="41.7%" stop-color="#17aeda"/><stop offset="50%" stop-color="#12beb9"/><stop offset="58.3%" stop-color="#3dc990"/><stop offset="66.7%" stop-color="#81cc59"/><stop offset="75%" stop-color="#c8c129"/><stop offset="83.3%" stop-color="#fbbc3d"/><stop offset="91.7%" stop-color="#f7db2b"/><stop offset="100%" stop-color="#f9fb15"/></linearGradient><linearGradient id="g033" gradientUnits="userSpaceOnUse" x1="377" y1="2133.1" x2="336.4" y2="1915.9"><stop offset="0%" stop-color="#3e26a8"/><stop offset="8.3%" stop-color="#463de0"/><stop offset="16.7%" stop-color="#475bf9"/><stop offset="25%" stop-color="#347afd"/><stop offset="33.3%" stop-color="#2797eb"/><stop offset="41.7%" stop-color="#17aeda"/><stop offset="50%" stop-color="#12beb9"/><stop offset="58.3%" stop-color="#3dc990"/><stop offset="66.7%" stop-color="#81cc59"/><stop offset="75%" stop-color="#c8c129"/><stop offset="83.3%" stop-color="#fbbc3d"/><stop offset="91.7%" stop-color="#f7db2b"/><stop offset="100%" stop-color="#f9fb15"/></linearGradient><linearGradient id="g034" gradientUnits="userSpaceOnUse" x1="442" y1="2153.5" x2="401.5" y2="1936.3"><stop offset="0%" stop-color="#3e26a8"/><stop offset="8.3%" stop-color="#463de0"/><stop offset="16.7%" stop-color="#475bf9"/><stop offset="25%" stop-color="#347afd"/><stop offset="33.3%" stop-color="#2797eb"/><stop offset="41.7%" stop-color="#17aeda"/><stop offset="50%" stop-color="#12beb9"/><stop offset="58.3%" stop-color="#3dc990"/><stop offset="66.7%" stop-color="#81cc59"/><stop offset="75%" stop-color="#c8c129"/><stop offset="83.3%" stop-color="#fbbc3d"/><stop offset="91.7%" stop-color="#f7db2b"/><stop offset="100%" stop-color="#f9fb15"/></linearGradient><linearGradient id="g035" gradientUnits="userSpaceOnUse" x1="507" y1="2173.9" x2="466.6" y2="1956.6"><stop offset="0%" stop-color="#3e26a8"/><stop offset="8.3%" stop-color="#463de0"/><stop offset="16.7%" stop-color="#475bf9"/><stop offset="25%" stop-color="#347afd"/><stop offset="33.3%" stop-color="#2797eb"/><stop offset="41.7%" stop-color="#17aeda"/><stop offset="50%" stop-color="#12beb9"/><stop offset="58.3%" stop-color="#3dc990"/><stop offset="66.7%" stop-color="#81cc59"/><stop offset="75%" stop-color="#c8c129"/><stop offset="83.3%" stop-color="#fbbc3d"/><stop offset="91.7%" stop-color="#f7db2b"/><stop offset="100%" stop-color="#f9fb15"/></linearGradient><linearGradient id="f032" gradientUnits="userSpaceOnUse" x1="312" y1="2112.7" x2="376.2" y2="1908.1"><stop offset="0%" stop-color="#3e26a8"/><stop offset="8.3%" stop-color="#463de0"/><stop offset="16.7%" stop-color="#475bf9"/><stop offset="25%" stop-color="#347afd"/><stop offset="33.3%" stop-color="#2797eb"/><stop offset="41.7%" stop-color="#17aeda"/><stop offset="50%" stop-color="#12beb9"/><stop offset="58.3%" stop-color="#3dc990"/><stop offset="66.7%" stop-color="#81cc59"/><stop offset="75%" stop-color="#c8c129"/><stop offset="83.3%" stop-color="#fbbc3d"/><stop offset="91.7%" stop-color="#f7db2b"/><stop offset="100%" stop-color="#f9fb15"/></linearGradient><linearGradient id="f033" gradientUnits="userSpaceOnUse" x1="377" y1="2133.1" x2="441.2" y2="1928.5"><stop offset="0%" stop-color="#3e26a8"/><stop offset="8.3%" stop-color="#463de0"/><stop offset="16.7%" stop-color="#475bf9"/><stop offset="25%" stop-color="#347afd"/><stop offset="33.3%" stop-color="#2797eb"/><stop offset="41.7%" stop-color="#17aeda"/><stop offset="50%" stop-color="#12beb9"/><stop offset="58.3%" stop-color="#3dc990"/><stop offset="66.7%" stop-color="#81cc59"/><stop offset="75%" stop-color="#c8c129"/><stop offset="83.3%" stop-color="#fbbc3d"/><stop offset="91.7%" stop-color="#f7db2b"/><stop offset="100%" stop-color="#f9fb15"/></linearGradient><linearGradient id="f034" gradientUnits="userSpaceOnUse" x1="442" y1="2153.5" x2="506.2" y2="1948.9"><stop offset="0%" stop-color="#3e26a8"/><stop offset="8.3%" stop-color="#463de0"/><stop offset="16.7%" stop-color="#475bf9"/><stop offset="25%" stop-color="#347afd"/><stop offset="33.3%" stop-color="#2797eb"/><stop offset="41.7%" stop-color="#17aeda"/><stop offset="50%" stop-color="#12beb9"/><stop offset="58.3%" stop-color="#3dc990"/><stop offset="66.7%" stop-color="#81cc59"/><stop offset="75%" stop-color="#c8c129"/><stop offset="83.3%" stop-color="#fbbc3d"/><stop offset="91.7%" stop-color="#f7db2b"/><stop offset="100%" stop-color="#f9fb15"/></linearGradient><linearGradient id="g130" gradientUnits="userSpaceOnUse" x1="1194" y1="2064.1" x2="1156.1" y2="1862.8"><stop offset="0%" stop-color="#3e26a8"/><stop offset="8.3%" stop-color="#463de0"/><stop offset="16.7%" stop-color="#475bf9"/><stop offset="25%" stop-color="#347afd"/><stop offset="33.3%" stop-color="#2797eb"/><stop offset="41.7%" stop-color="#17aeda"/><stop offset="50%" stop-color="#12beb9"/><stop offset="58.3%" stop-color="#3dc990"/><stop offset="66.7%" stop-color="#81cc59"/><stop offset="75%" stop-color="#c8c129"/><stop offset="83.3%" stop-color="#fbbc3d"/><stop offset="91.7%" stop-color="#f7db2b"/><stop offset="100%" stop-color="#f9fb15"/></linearGradient><linearGradient id="g131" gradientUnits="userSpaceOnUse" x1="1259" y1="2084.5" x2="1221.2" y2="1883.2"><stop offset="0%" stop-color="#3e26a8"/><stop offset="8.3%" stop-color="#463de0"/><stop offset="16.7%" stop-color="#475bf9"/><stop offset="25%" stop-color="#347afd"/><stop offset="33.3%" stop-color="#2797eb"/><stop offset="41.7%" stop-color="#17aeda"/><stop offset="50%" stop-color="#12beb9"/><stop offset="58.3%" stop-color="#3dc990"/><stop offset="66.7%" stop-color="#81cc59"/><stop offset="75%" stop-color="#c8c129"/><stop offset="83.3%" stop-color="#fbbc3d"/><stop offset="91.7%" stop-color="#f7db2b"/><stop offset="100%" stop-color="#f9fb15"/></linearGradient><linearGradient id="g132" gradientUnits="userSpaceOnUse" x1="1324" y1="2104.9" x2="1286.3" y2="1903.6"><stop offset="0%" stop-color="#3e26a8"/><stop offset="8.3%" stop-color="#463de0"/><stop offset="16.7%" stop-color="#475bf9"/><stop offset="25%" stop-color="#347afd"/><stop offset="33.3%" stop-color="#2797eb"/><stop offset="41.7%" stop-color="#17aeda"/><stop offset="50%" stop-color="#12beb9"/><stop offset="58.3%" stop-color="#3dc990"/><stop offset="66.7%" stop-color="#81cc59"/><stop offset="75%" stop-color="#c8c129"/><stop offset="83.3%" stop-color="#fbbc3d"/><stop offset="91.7%" stop-color="#f7db2b"/><stop offset="100%" stop-color="#f9fb15"/></linearGradient><linearGradient id="g133" gradientUnits="userSpaceOnUse" x1="1389" y1="2125.3" x2="1351.4" y2="1923.9"><stop offset="0%" stop-color="#3e26a8"/><stop offset="8.3%" stop-color="#463de0"/><stop offset="16.7%" stop-color="#475bf9"/><stop offset="25%" stop-color="#347afd"/><stop offset="33.3%" stop-color="#2797eb"/><stop offset="41.7%" stop-color="#17aeda"/><stop offset="50%" stop-color="#12beb9"/><stop offset="58.3%" stop-color="#3dc990"/><stop offset="66.7%" stop-color="#81cc59"/><stop offset="75%" stop-color="#c8c129"/><stop offset="83.3%" stop-color="#fbbc3d"/><stop offset="91.7%" stop-color="#f7db2b"/><stop offset="100%" stop-color="#f9fb15"/></linearGradient><linearGradient id="g134" gradientUnits="userSpaceOnUse" x1="1454" y1="2145.7" x2="1416.5" y2="1944.3"><stop offset="0%" stop-color="#3e26a8"/><stop offset="8.3%" stop-color="#463de0"/><stop offset="16.7%" stop-color="#475bf9"/><stop offset="25%" stop-color="#347afd"/><stop offset="33.3%" stop-color="#2797eb"/><stop offset="41.7%" stop-color="#17aeda"/><stop offset="50%" stop-color="#12beb9"/><stop offset="58.3%" stop-color="#3dc990"/><stop offset="66.7%" stop-color="#81cc59"/><stop offset="75%" stop-color="#c8c129"/><stop offset="83.3%" stop-color="#fbbc3d"/><stop offset="91.7%" stop-color="#f7db2b"/><stop offset="100%" stop-color="#f9fb15"/></linearGradient><linearGradient id="g135" gradientUnits="userSpaceOnUse" x1="1519" y1="2166.1" x2="1481.5" y2="1964.7"><stop offset="0%" stop-color="#3e26a8"/><stop offset="8.3%" stop-color="#463de0"/><stop offset="16.7%" stop-color="#475bf9"/><stop offset="25%" stop-color="#347afd"/><stop offset="33.3%" stop-color="#2797eb"/><stop offset="41.7%" stop-color="#17aeda"/><stop offset="50%" stop-color="#12beb9"/><stop offset="58.3%" stop-color="#3dc990"/><stop offset="66.7%" stop-color="#81cc59"/><stop offset="75%" stop-color="#c8c129"/><stop offset="83.3%" stop-color="#fbbc3d"/><stop offset="91.7%" stop-color="#f7db2b"/><stop offset="100%" stop-color="#f9fb15"/></linearGradient></defs><g><path class="g" d="M182,327.9L601.5,248.9M601.5,248.9L922,352.7M182,260.8L601.5,181.8M601.5,181.8L922,285.6M182,193.8L601.5,114.8M601.5,114.8L922,218.6M182,126.8L601.5,47.8M601.5,47.8L922,151.6M391.8,308.5L391.8,77.2M601.5,269L601.5,37.7M761.8,320.9L761.8,89.6M922,372.8L922,141.5M391.8,308.5L714.5,411.4M601.5,269L922,372.8M182,348L601.5,269M344.5,399L761.8,320.9"/><g class="s" clip-path="url(#c00)"><path color="#4435d1" d="M299.5,305.8L364.2,326.3L665.6,269.6L601.5,248.9Z"/><path color="#4435d1" d="M296.9,306.2L361.7,326.7L364.2,326.3L299.5,305.8Z"/><path color="#4435d1" d="M293.6,306.9L358.3,327.4L361.7,326.7L296.9,306.2Z"/><path color="#4435d1" d="M290.2,307.5L355,328L358.3,327.4L293.6,306.9Z"/><path color="#4435d1" d="M286.9,308.1L351.7,328.6L355,328L290.2,307.5Z"/><path color="#4435d1" d="M283.5,308.8L348.3,329.3L351.7,328.6L286.9,308.1Z"/><path color="#4435d1" d="M280.2,309.4L345,329.9L348.3,329.3L283.5,308.8Z"/><path color="#4435d1" d="M276.8,310L341.6,330.5L345,329.9L280.2,309.4Z"/><path color="#4435d1" d="M273.5,310.7L338.3,331.1L341.6,330.5L276.8,310Z"/><path color="#4435d1" d="M270.1,311.3L334.9,331.8L338.3,331.1L273.5,310.7Z"/><path color="#4435d1" d="M266.7,311.9L331.6,332.4L334.9,331.8L270.1,311.3Z"/><path color="#4435d1" d="M263.4,312.6L328.2,333.1L331.6,332.4L266.7,311.9Z"/><path color="#4435d0" d="M260,313.6L324.9,334.1L328.2,333.1L263.4,312.6Z"/><path color="#4434ce" d="M256.7,314.9L321.5,335.3L324.9,334.1L260,313.6Z"/><path color="#4433cc" d="M253.3,316.3L318.2,336.7L321.5,335.3L256.7,314.9Z"/><path color="#4433cc" d="M250,317.8L314.8,338.3L318.2,336.7L253.3,316.3Z"/><path color="#4433cc" d="M246.6,319.4L311.5,339.9L314.8,338.3L250,317.8Z"/><path color="#4433cc" d="M243.2,321L308.1,341.5L311.5,339.9L246.6,319.4Z"/><path color="#4433cc" d="M239.9,322.7L304.8,343.1L308.1,341.5L243.2,321Z"/><path color="#4433cc" d="M236.5,324.2L301.4,344.6L304.8,343.1L239.9,322.7Z"/><path color="#4433cc" d="M233.2,325.6L298.1,346L301.4,344.6L236.5,324.2Z"/><path color="#4433cc" d="M229.8,326.8L294.7,347.3L298.1,346L233.2,325.6Z"/><path color="#4433cc" d="M226.5,327.8L291.4,348.2L294.7,347.3L229.8,326.8Z"/><path color="#4433cc" d="M223.1,328.5L288,349L291.4,348.2L226.5,327.8Z"/><path color="#4433cc" d="M219.8,329.2L284.7,349.6L288,349L223.1,328.5Z"/><path color="#4433cc" d="M216.4,329.9L281.3,350.3L284.7,349.6L219.8,329.2Z"/><path color="#4433cc" d="M213,330.6L278,351.1L281.3,350.3L216.4,329.9Z"/><path color="#4433cc" d="M209.7,331.4L274.6,351.8L278,351.1L213,330.6Z"/><path color="#4433cc" d="M206.3,332.2L271.3,352.6L274.6,351.8L209.7,331.4Z"/><path color="#4433cc" d="M203,333L267.9,353.4L271.3,352.6L206.3,332.2Z"/><path color="#4433cc" d="M199.6,333.8L264.6,354.2L267.9,353.4L203,333Z"/><path color="#4433cc" d="M197.9,334.2L262.9,354.6L264.6,354.2L199.6,333.8Z"/><path color="#4433cc" d="M196.3,334.6L261.2,355L262.9,354.6L197.9,334.2Z"/><path color="#4433cc" d="M194.6,334.9L259.6,355.3L261.2,355L196.3,334.6Z"/><path color="#4433cc" d="M192.9,335.3L257.9,355.7L259.6,355.3L194.6,334.9Z"/><path color="#4433cc" d="M191.2,335.5L256.2,356L257.9,355.7L192.9,335.3Z"/><path color="#4433cc" d="M189.6,335.6L254.5,356.1L256.2,356L191.2,335.5Z"/><path color="#4433cc" d="M187.9,335.1L252.9,355.7L254.5,356.1L189.6,335.6Z"/><path color="#4435d1" d="M364.2,326.3L429,346.8L729.7,290.4L665.6,269.6Z"/><path color="#4435d1" d="M361.7,326.7L426.4,347.2L429,346.8L364.2,326.3Z"/><path color="#4435d1" d="M358.3,327.4L423.1,347.9L426.4,347.2L361.7,326.7Z"/><path color="#4435d1" d="M355,328L419.8,348.5L423.1,347.9L358.3,327.4Z"/><path color="#4435d1" d="M351.7,328.6L416.4,349.1L419.8,348.5L355,328Z"/><path color="#4435d1" d="M348.3,329.3L413.1,349.7L416.4,349.1L351.7,328.6Z"/><path color="#4435d1" d="M345,329.9L409.7,350.4L413.1,349.7L348.3,329.3Z"/><path color="#4435d1" d="M341.6,330.5L406.4,351L409.7,350.4L345,329.9Z"/><path color="#4435d1" d="M338.3,331.1L403.1,351.6L406.4,351L341.6,330.5Z"/><path color="#4435d1" d="M334.9,331.8L399.7,352.2L403.1,351.6L338.3,331.1Z"/><path color="#4435d1" d="M331.6,332.4L396.4,352.9L399.7,352.2L334.9,331.8Z"/><path color="#4435d1" d="M328.2,333.1L393,353.6L396.4,352.9L331.6,332.4Z"/><path color="#4435d0" d="M324.9,334.1L389.7,354.7L393,353.6L328.2,333.1Z"/><path color="#4434ce" d="M321.5,335.3L386.4,356L389.7,354.7L324.9,334.1Z"/><path color="#4433cc" d="M318.2,336.7L383,357.6L386.4,356L321.5,335.3Z"/><path color="#4433cc" d="M314.8,338.3L379.7,359.3L383,357.6L318.2,336.7Z"/><path color="#4433cc" d="M311.5,339.9L376.3,361.1L379.7,359.3L314.8,338.3Z"/><path color="#4433cc" d="M308.1,341.5L373,362.9L376.3,361.1L311.5,339.9Z"/><path color="#4433cc" d="M304.8,343.1L369.6,364.7L373,362.9L308.1,341.5Z"/><path color="#4433cc" d="M301.4,344.6L366.3,366.4L369.6,364.7L304.8,343.1Z"/><path color="#4433cc" d="M298.1,346L363,367.9L366.3,366.4L301.4,344.6Z"/><path color="#4433cc" d="M294.7,347.3L359.6,369.3L363,367.9L298.1,346Z"/><path color="#4433cc" d="M291.4,348.2L356.3,370.3L359.6,369.3L294.7,347.3Z"/><path color="#4433cc" d="M288,349L352.9,371.1L356.3,370.3L291.4,348.2Z"/><path color="#4433cc" d="M284.7,349.6L349.6,371.7L352.9,371.1L288,349Z"/><path color="#4433cc" d="M281.3,350.3L346.3,372.4L349.6,371.7L284.7,349.6Z"/><path color="#4433cc" d="M278,351.1L342.9,373.1L346.3,372.4L281.3,350.3Z"/><path color="#4433cc" d="M274.6,351.8L339.6,373.8L342.9,373.1L278,351.1Z"/><path color="#4433cc" d="M271.3,352.6L336.2,374.6L339.6,373.8L274.6,351.8Z"/><path color="#4433cc" d="M267.9,353.4L332.9,375.3L336.2,374.6L271.3,352.6Z"/><path color="#4433cc" d="M264.6,354.2L329.5,376.1L332.9,375.3L267.9,353.4Z"/><path color="#4433cc" d="M262.9,354.6L327.9,376.4L329.5,376.1L264.6,354.2Z"/><path color="#4433cc" d="M261.2,355L326.2,376.8L327.9,376.4L262.9,354.6Z"/><path color="#4433cc" d="M259.6,355.3L324.5,377.2L326.2,376.8L261.2,355Z"/><path color="#4433cc" d="M257.9,355.7L322.9,377.5L324.5,377.2L259.6,355.3Z"/><path color="#4433cc" d="M256.2,356L321.2,377.7L322.9,377.5L257.9,355.7Z"/><path color="#4433cc" d="M254.5,356.1L319.5,377.8L321.2,377.7L256.2,356Z"/><path color="#4433cc" d="M252.9,355.7L317.8,377.3L319.5,377.8L254.5,356.1Z"/><path color="#4435d1" d="M429,346.8L493.7,367.3L793.8,311.2L729.7,290.4Z"/><path color="#4435d1" d="M426.4,347.2L491.2,367.7L493.7,367.3L429,346.8Z"/><path color="#4435d1" d="M423.1,347.9L487.9,368.4L491.2,367.7L426.4,347.2Z"/><path color="#4435d1" d="M419.8,348.5L484.5,369L487.9,368.4L423.1,347.9Z"/><path color="#4435d1" d="M416.4,349.1L481.2,369.6L484.5,369L419.8,348.5Z"/><path color="#4435d1" d="M413.1,349.7L477.9,370.2L481.2,369.6L416.4,349.1Z"/><path color="#4435d1" d="M409.7,350.4L474.5,370.9L477.9,370.2L413.1,349.7Z"/><path color="#4435d1" d="M406.4,351L471.2,371.5L474.5,370.9L409.7,350.4Z"/><path color="#4435d1" d="M403.1,351.6L467.9,372.1L471.2,371.5L406.4,351Z"/><path color="#4435d1" d="M399.7,352.2L464.5,372.7L467.9,372.1L403.1,351.6Z"/><path color="#4435d1" d="M396.4,352.9L461.2,373.3L464.5,372.7L399.7,352.2Z"/><path color="#4435d1" d="M393,353.6L457.9,374.1L461.2,373.3L396.4,352.9Z"/><path color="#4435d0" d="M389.7,354.7L454.5,375.1L457.9,374.1L393,353.6Z"/><path color="#4434ce" d="M386.4,356L451.2,376.5L454.5,375.1L389.7,354.7Z"/><path color="#4433cc" d="M383,357.6L447.9,378L451.2,376.5L386.4,356Z"/><path color="#4433cc" d="M379.7,359.3L444.5,379.7L447.9,378L383,357.6Z"/><path color="#4433cc" d="M376.3,361.1L441.2,381.5L444.5,379.7L379.7,359.3Z"/><path color="#4433cc" d="M373,362.9L437.9,383.3L441.2,381.5L376.3,361.1Z"/><path color="#4433cc" d="M369.6,364.7L434.5,385.1L437.9,383.3L373,362.9Z"/><path color="#4433cc" d="M366.3,366.4L431.2,386.8L434.5,385.1L369.6,364.7Z"/><path color="#4433cc" d="M363,367.9L427.8,388.4L431.2,386.8L366.3,366.4Z"/><path color="#4433cc" d="M359.6,369.3L424.5,389.7L427.8,388.4L363,367.9Z"/><path color="#4433cc" d="M356.3,370.3L421.2,390.8L424.5,389.7L359.6,369.3Z"/><path color="#4433cc" d="M352.9,371.1L417.8,391.5L421.2,390.8L356.3,370.3Z"/><path color="#4433cc" d="M349.6,371.7L414.5,392.2L417.8,391.5L352.9,371.1Z"/><path color="#4433cc" d="M346.3,372.4L411.2,392.8L414.5,392.2L349.6,371.7Z"/><path color="#4433cc" d="M342.9,373.1L407.8,393.5L411.2,392.8L346.3,372.4Z"/><path color="#4433cc" d="M339.6,373.8L404.5,394.3L407.8,393.5L342.9,373.1Z"/><path color="#4433cc" d="M336.2,374.6L401.2,395L404.5,394.3L339.6,373.8Z"/><path color="#4433cc" d="M332.9,375.3L397.8,395.8L401.2,395L336.2,374.6Z"/><path color="#4433cc" d="M329.5,376.1L394.5,396.5L397.8,395.8L332.9,375.3Z"/><path color="#4433cc" d="M327.9,376.4L392.8,396.9L394.5,396.5L329.5,376.1Z"/><path color="#4433cc" d="M326.2,376.8L391.2,397.2L392.8,396.9L327.9,376.4Z"/><path color="#4433cc" d="M324.5,377.2L389.5,397.6L391.2,397.2L326.2,376.8Z"/><path color="#4433cc" d="M322.9,377.5L387.8,397.9L389.5,397.6L324.5,377.2Z"/><path color="#4433cc" d="M321.2,377.7L386.2,398.2L387.8,397.9L322.9,377.5Z"/><path color="#4433cc" d="M319.5,377.8L384.5,398.2L386.2,398.2L321.2,377.7Z"/><path color="#4433cc" d="M317.8,377.3L382.8,397.7L384.5,398.2L319.5,377.8Z"/><path color="#4435d1" d="M487.9,368.4L552.6,393.2L556,388.3L491.2,367.7Z"/><path color="#4435d1" d="M484.5,369L549.3,401.5L552.6,393.2L487.9,368.4Z"/><path color="#4435d1" d="M481.2,369.6L546,408.7L549.3,401.5L484.5,369Z"/><path color="#4435d1" d="M477.9,370.2L542.6,410.8L546,408.7L481.2,369.6Z"/><path color="#4435d1" d="M474.5,370.9L539.3,411.5L542.6,410.8L477.9,370.2Z"/><path color="#4435d1" d="M471.2,371.5L536,412.1L539.3,411.5L474.5,370.9Z"/><path color="#4435d1" d="M467.9,372.1L532.7,412.7L536,412.1L471.2,371.5Z"/><path color="#4435d1" d="M464.5,372.7L529.3,413.2L532.7,412.7L467.9,372.1Z"/><path color="#4435d1" d="M461.2,373.3L526,413.5L529.3,413.2L464.5,372.7Z"/><path color="#4435d1" d="M457.9,374.1L522.7,413.6L526,413.5L461.2,373.3Z"/><path color="#4435d0" d="M454.5,375.1L519.4,413.6L522.7,413.6L457.9,374.1Z"/><path color="#4434ce" d="M451.2,376.5L516,413.5L519.4,413.6L454.5,375.1Z"/><path color="#4433cc" d="M447.9,378L512.7,413.4L516,413.5L451.2,376.5Z"/><path color="#4433cc" d="M444.5,379.7L509.4,413.1L512.7,413.4L447.9,378Z"/><path color="#4433cc" d="M441.2,381.5L506,412.8L509.4,413.1L444.5,379.7Z"/><path color="#4433cc" d="M437.9,383.3L502.7,412.5L506,412.8L441.2,381.5Z"/><path color="#4433cc" d="M434.5,385.1L499.4,412.2L502.7,412.5L437.9,383.3Z"/><path color="#4433cc" d="M431.2,386.8L496.1,411.9L499.4,412.2L434.5,385.1Z"/><path color="#4433cc" d="M427.8,388.4L492.7,411.7L496.1,411.9L431.2,386.8Z"/><path color="#4433cc" d="M424.5,389.7L489.4,411.5L492.7,411.7L427.8,388.4Z"/><path color="#4433cc" d="M421.2,390.8L486.1,411.3L489.4,411.5L424.5,389.7Z"/><path color="#4433cc" d="M417.8,391.5L482.8,411.3L486.1,411.3L421.2,390.8Z"/><path color="#4433cc" d="M414.5,392.2L479.4,411.5L482.8,411.3L417.8,391.5Z"/><path color="#4433cc" d="M411.2,392.8L476.1,411.7L479.4,411.5L414.5,392.2Z"/><path color="#4433cc" d="M407.8,393.5L472.8,412.2L476.1,411.7L411.2,392.8Z"/><path color="#4433cc" d="M404.5,394.3L469.4,414.2L472.8,412.2L407.8,393.5Z"/><path color="#4433cc" d="M401.2,395L466.1,420.9L469.4,414.2L404.5,394.3Z"/><path color="#4433cc" d="M397.8,395.8L462.8,422.4L466.1,420.9L401.2,395Z"/><path color="#4433cc" d="M394.5,396.5L459.5,423L462.8,422.4L397.8,395.8Z"/><path color="#4433cc" d="M392.8,396.9L457.8,423.3L459.5,423L394.5,396.5Z"/><path color="#4433cc" d="M391.2,397.2L456.1,423.6L457.8,423.3L392.8,396.9Z"/><path color="#4433cc" d="M389.5,397.6L454.5,423.9L456.1,423.6L391.2,397.2Z"/><path color="#4433cc" d="M387.8,398L452.8,424.2L454.5,423.9L389.5,397.6Z"/><path color="#4433cc" d="M386.2,398.3L451.1,424.5L452.8,424.2L387.8,398Z"/><path color="#4433cc" d="M384.5,398.7L449.5,424.9L451.1,424.5L386.2,398.3Z"/><path color="#4433cc" d="M382.8,399L447.8,425.2L449.5,424.9L384.5,398.7Z"/><path color="#4435d1" d="M493.7,367.3L558.5,387.8L857.9,331.9L793.8,311.2Z"/><path color="#4435d1" d="M491.2,367.7L556,387.4L558.5,387.8L493.7,367.3Z"/><path color="#4435d1" d="M487.9,368.4L552.6,383.9L556,387.4L491.2,367.7Z"/><path color="#4435d1" d="M484.5,369L549.3,382.8L552.6,383.9L487.9,368.4Z"/><path color="#4435d1" d="M481.2,369.6L546,383.4L549.3,382.8L484.5,369Z"/><path color="#4435d1" d="M477.9,370.2L542.6,383.9L546,383.4L481.2,369.6Z"/><path color="#4435d1" d="M474.5,370.9L539.3,384.5L542.6,383.9L477.9,370.2Z"/><path color="#4435d1" d="M471.2,371.5L536,385L539.3,384.5L474.5,370.9Z"/><path color="#4435d1" d="M467.9,372.1L532.7,385.5L536,385L471.2,371.5Z"/><path color="#4435d1" d="M464.5,372.7L529.3,386L532.7,385.5L467.9,372.1Z"/><path color="#4435d1" d="M461.2,373.3L526,386.4L529.3,386L464.5,372.7Z"/><path color="#4435d1" d="M457.9,374.1L522.7,386.9L526,386.4L461.2,373.3Z"/><path color="#4435d0" d="M454.5,375.1L519.4,387.3L522.7,386.9L457.9,374.1Z"/><path color="#4434ce" d="M451.2,376.5L516,387.7L519.4,387.3L454.5,375.1Z"/><path color="#4433cc" d="M447.9,378L512.7,388.2L516,387.7L451.2,376.5Z"/><path color="#4433cc" d="M444.5,379.7L509.4,388.6L512.7,388.2L447.9,378Z"/><path color="#4433cc" d="M441.2,381.5L506,389L509.4,388.6L444.5,379.7Z"/><path color="#4433cc" d="M437.9,383.3L502.7,389.4L506,389L441.2,381.5Z"/><path color="#4433cc" d="M434.5,385.1L499.4,389.9L502.7,389.4L437.9,383.3Z"/><path color="#4433cc" d="M431.2,386.8L496.1,390.3L499.4,389.9L434.5,385.1Z"/><path color="#4433cc" d="M427.8,388.4L492.7,390.7L496.1,390.3L431.2,386.8Z"/><path color="#4433cc" d="M424.5,389.7L489.4,391.2L492.7,390.7L427.8,388.4Z"/><path color="#4433cc" d="M421.2,390.8L486.1,391.7L489.4,391.2L424.5,389.7Z"/><path color="#4433cc" d="M417.8,391.5L482.8,392.1L486.1,391.7L421.2,390.8Z"/><path color="#4433cc" d="M414.5,392.2L479.4,392.7L482.8,392.1L417.8,391.5Z"/><path color="#4433cc" d="M411.2,392.8L476.1,393.2L479.4,392.7L414.5,392.2Z"/><path color="#4433cc" d="M407.8,393.5L472.8,393.7L476.1,393.2L411.2,392.8Z"/><path color="#4433cc" d="M404.5,394.3L469.4,394.3L472.8,393.7L407.8,393.5Z"/><path color="#4433cc" d="M401.2,395L466.1,394.9L469.4,394.3L404.5,394.3Z"/><path color="#4433cc" d="M397.8,395.8L462.8,395.3L466.1,394.9L401.2,395Z"/><path color="#4433cc" d="M394.5,396.5L459.5,395.4L462.8,395.3L397.8,395.8Z"/><path color="#4433cc" d="M392.8,396.9L457.8,395.5L459.5,395.4L394.5,396.5Z"/><path color="#4433cc" d="M391.2,397.2L456.1,395.4L457.8,395.5L392.8,396.9Z"/><path color="#4433cc" d="M389.5,397.6L454.5,395.4L456.1,395.4L391.2,397.2Z"/><path color="#4433cc" d="M387.8,397.9L452.8,395.4L454.5,395.4L389.5,397.6Z"/><path color="#4433cc" d="M386.2,398.2L451.1,395.3L452.8,395.4L387.8,397.9Z"/><path color="#4433cc" d="M384.5,398.2L449.5,395.2L451.1,395.3L386.2,398.2Z"/><path color="#4433cc" d="M382.8,397.7L447.8,395L449.5,395.2L384.5,398.2Z"/><path style="fill:url(#g004);stroke:url(#g004)" d="M447.8,395L449.5,395.2L451.1,395.3L452.8,395.4L454.5,395.4L456.1,395.4L457.8,395.5L459.5,395.4L462.8,395.3L466.1,394.9L469.4,394.3L472.8,393.7L476.1,393.2L479.4,392.7L482.8,392.1L486.1,391.7L489.4,391.2L492.7,390.7L496.1,390.3L499.4,389.9L502.7,389.4L506,389L509.4,388.6L512.7,388.2L516,387.7L519.4,387.3L522.7,386.9L526,386.4L529.3,386L532.7,385.5L536,385L539.3,384.5L542.6,383.9L546,383.4L549.3,382.8L552.6,383.9L556,387.4L558.5,387.8L558.5,387.8L556,388.3L552.6,393.2L549.3,401.5L546,408.7L542.6,410.8L539.3,411.5L536,412.1L532.7,412.7L529.3,413.2L526,413.5L522.7,413.6L519.4,413.6L516,413.5L512.7,413.4L509.4,413.1L506,412.8L502.7,412.5L499.4,412.2L496.1,411.9L492.7,411.7L489.4,411.5L486.1,411.3L482.8,411.3L479.4,411.5L476.1,411.7L472.8,412.2L469.4,414.2L466.1,420.9L462.8,422.4L459.5,423L457.8,423.3L456.1,423.6L454.5,423.9L452.8,424.2L451.1,424.5L449.5,424.9L447.8,425.2Z"/><path color="#4433cc" d="M552.6,393.2L617.4,413.7L620.7,408.8L556,388.3Z"/><path color="#4433cc" d="M549.3,401.5L614.1,422L617.4,413.7L552.6,393.2Z"/><path color="#4433cc" d="M546,408.7L610.8,429.2L614.1,422L549.3,401.5Z"/><path color="#4433cc" d="M542.6,410.8L607.4,431.3L610.8,429.2L546,408.7Z"/><path color="#4433cc" d="M539.3,411.5L604.1,431.9L607.4,431.3L542.6,410.8Z"/><path color="#4433cc" d="M536,412.1L600.8,432.6L604.1,431.9L539.3,411.5Z"/><path color="#4433cc" d="M532.7,412.7L597.5,433.2L600.8,432.6L536,412.1Z"/><path color="#4433cc" d="M529.3,413.2L594.2,433.6L597.5,433.2L532.7,412.7Z"/><path color="#4433cc" d="M526,413.5L590.8,433.9L594.2,433.6L529.3,413.2Z"/><path color="#4433cc" d="M522.7,413.6L587.5,434.1L590.8,433.9L526,413.5Z"/><path color="#4433cc" d="M519.4,413.6L584.2,434.1L587.5,434.1L522.7,413.6Z"/><path color="#4433cc" d="M516,413.5L580.9,434L584.2,434.1L519.4,413.6Z"/><path color="#4433cc" d="M512.7,413.4L577.6,433.8L580.9,434L516,413.5Z"/><path color="#4433cc" d="M509.4,413.1L574.2,433.6L577.6,433.8L512.7,413.4Z"/><path color="#4433cc" d="M506,412.8L570.9,433.3L574.2,433.6L509.4,413.1Z"/><path color="#4433cc" d="M502.7,412.5L567.6,433L570.9,433.3L506,412.8Z"/><path color="#4433cc" d="M499.4,412.2L564.3,432.7L567.6,433L502.7,412.5Z"/><path color="#4433cc" d="M496.1,411.9L560.9,432.4L564.3,432.7L499.4,412.2Z"/><path color="#4433cc" d="M492.7,411.7L557.6,432.1L560.9,432.4L496.1,411.9Z"/><path color="#4433cc" d="M489.4,411.5L554.3,431.9L557.6,432.1L492.7,411.7Z"/><path color="#4433cc" d="M486.1,411.3L551,431.8L554.3,431.9L489.4,411.5Z"/><path color="#4433cc" d="M482.8,411.3L547.7,431.8L551,431.8L486.1,411.3Z"/><path color="#4433cc" d="M479.4,411.5L544.4,431.9L547.7,431.8L482.8,411.3Z"/><path color="#4433cc" d="M476.1,411.7L541,432.2L544.4,431.9L479.4,411.5Z"/><path color="#4433cc" d="M472.8,412.2L537.7,432.6L541,432.2L476.1,411.7Z"/><path color="#4433cc" d="M469.4,414.2L534.4,434.6L537.7,432.6L472.8,412.2Z"/><path color="#4433cc" d="M466.1,420.9L531.1,441.3L534.4,434.6L469.4,414.2Z"/><path color="#4433cc" d="M462.8,422.4L527.8,442.8L531.1,441.3L466.1,420.9Z"/><path color="#4433cc" d="M459.5,423L524.4,443.4L527.8,442.8L462.8,422.4Z"/><path color="#4433cc" d="M457.8,423.3L522.8,443.7L524.4,443.4L459.5,423Z"/><path color="#4433cc" d="M456.1,423.6L521.1,444L522.8,443.7L457.8,423.3Z"/><path color="#4433cc" d="M454.5,423.9L519.4,444.3L521.1,444L456.1,423.6Z"/><path color="#4433cc" d="M452.8,424.2L517.8,444.6L519.4,444.3L454.5,423.9Z"/><path color="#4433cc" d="M451.1,424.5L516.1,444.9L517.8,444.6L452.8,424.2Z"/><path color="#4433cc" d="M449.5,424.9L514.5,445.3L516.1,444.9L451.1,424.5Z"/><path color="#4433cc" d="M447.8,425.2L512.8,445.6L514.5,445.3L449.5,424.9Z"/><path color="#4435d1" d="M558.5,387.8L623.2,408.3L922,352.7L857.9,331.9Z"/><path color="#4536d4" d="M556,387.4L620.7,407.9L623.2,408.3L558.5,387.8Z"/><path color="#463cdf" d="M552.6,383.9L617.4,404.4L620.7,407.9L556,387.4Z"/><path color="#473fe2" d="M549.3,382.8L614.1,403.3L617.4,404.4L552.6,383.9Z"/><path color="#473fe2" d="M546,383.4L610.8,403.9L614.1,403.3L549.3,382.8Z"/><path color="#473fe2" d="M542.6,383.9L607.4,404.4L610.8,403.9L546,383.4Z"/><path color="#473fe2" d="M539.3,384.5L604.1,405L607.4,404.4L542.6,383.9Z"/><path color="#473fe3" d="M536,385L600.8,405.5L604.1,405L539.3,384.5Z"/><path color="#473fe3" d="M532.7,385.5L597.5,406L600.8,405.5L536,385Z"/><path color="#4740e3" d="M529.3,386L594.2,406.4L597.5,406L532.7,385.5Z"/><path color="#4740e3" d="M526,386.4L590.8,406.9L594.2,406.4L529.3,386Z"/><path color="#4740e4" d="M522.7,386.9L587.5,407.4L590.8,406.9L526,386.4Z"/><path color="#4740e4" d="M519.4,387.3L584.2,407.8L587.5,407.4L522.7,386.9Z"/><path color="#4741e5" d="M516,387.7L580.9,408.2L584.2,407.8L519.4,387.3Z"/><path color="#4741e5" d="M512.7,388.2L577.6,408.6L580.9,408.2L516,387.7Z"/><path color="#4741e5" d="M509.4,388.6L574.2,409.1L577.6,408.6L512.7,388.2Z"/><path color="#4742e6" d="M506,389L570.9,409.5L574.2,409.1L509.4,388.6Z"/><path color="#4742e6" d="M502.7,389.4L567.6,409.9L570.9,409.5L506,389Z"/><path color="#4742e6" d="M499.4,389.9L564.3,410.3L567.6,409.9L502.7,389.4Z"/><path color="#4743e7" d="M496.1,390.3L560.9,410.7L564.3,410.3L499.4,389.9Z"/><path color="#4743e7" d="M492.7,390.7L557.6,411.2L560.9,410.7L496.1,390.3Z"/><path color="#4743e7" d="M489.4,391.2L554.3,411.6L557.6,411.2L492.7,390.7Z"/><path color="#4743e8" d="M486.1,391.7L551,412.1L554.3,411.6L489.4,391.2Z"/><path color="#4744e8" d="M482.8,392.1L547.7,412.6L551,412.1L486.1,391.7Z"/><path color="#4744e8" d="M479.4,392.7L544.4,413.1L547.7,412.6L482.8,392.1Z"/><path color="#4744e8" d="M476.1,393.2L541,413.6L544.4,413.1L479.4,392.7Z"/><path color="#4744e8" d="M472.8,393.7L537.7,414.2L541,413.6L476.1,393.2Z"/><path color="#4744e8" d="M469.4,394.3L534.4,414.7L537.7,414.2L472.8,393.7Z"/><path color="#4744e8" d="M466.1,394.9L531.1,415.3L534.4,414.7L469.4,394.3Z"/><path color="#4745e9" d="M462.8,395.3L527.8,415.7L531.1,415.3L466.1,394.9Z"/><path color="#4745e9" d="M459.5,395.4L524.4,415.9L527.8,415.7L462.8,395.3Z"/><path color="#4746ea" d="M457.8,395.5L522.8,415.9L524.4,415.9L459.5,395.4Z"/><path color="#4746eb" d="M456.1,395.4L521.1,415.9L522.8,415.9L457.8,395.5Z"/><path color="#4747eb" d="M454.5,395.4L519.4,415.8L521.1,415.9L456.1,395.4Z"/><path color="#4747ec" d="M452.8,395.4L517.8,415.8L519.4,415.8L454.5,395.4Z"/><path color="#4848ec" d="M451.1,395.3L516.1,415.8L517.8,415.8L452.8,395.4Z"/><path color="#4849ed" d="M449.5,395.2L514.5,415.7L516.1,415.8L451.1,395.3Z"/><path color="#484aed" d="M447.8,395L512.8,415.4L514.5,415.7L449.5,395.2Z"/><path style="fill:url(#g005);stroke:url(#g005)" d="M512.8,415.4L514.5,415.7L516.1,415.8L517.8,415.8L519.4,415.8L521.1,415.9L522.8,415.9L524.4,415.9L527.8,415.7L531.1,415.3L534.4,414.7L537.7,414.2L541,413.6L544.4,413.1L547.7,412.6L551,412.1L554.3,411.6L557.6,411.2L560.9,410.7L564.3,410.3L567.6,409.9L570.9,409.5L574.2,409.1L577.6,408.6L580.9,408.2L584.2,407.8L587.5,407.4L590.8,406.9L594.2,406.4L597.5,406L600.8,405.5L604.1,405L607.4,404.4L610.8,403.9L614.1,403.3L617.4,404.4L620.7,407.9L623.2,408.3L623.2,408.3L620.7,408.8L617.4,413.7L614.1,422L610.8,429.2L607.4,431.3L604.1,431.9L600.8,432.6L597.5,433.2L594.2,433.6L590.8,433.9L587.5,434.1L584.2,434.1L580.9,434L577.6,433.8L574.2,433.6L570.9,433.3L567.6,433L564.3,432.7L560.9,432.4L557.6,432.1L554.3,431.9L551,431.8L547.7,431.8L544.4,431.9L541,432.2L537.7,432.6L534.4,434.6L531.1,441.3L527.8,442.8L524.4,443.4L522.8,443.7L521.1,444L519.4,444.3L517.8,444.6L516.1,444.9L514.5,445.3L512.8,445.6Z"/></g><path fill="#fff" d="M182,337.6L247,358L247,312.8L182,285.6ZM247,358L312,379.7L312,161.9L247,312.8ZM312,379.7L377,400.1L377,182.3L312,161.9ZM377,400.1L442,426.2L442,376L377,182.3ZM442,426.2L507,446.6L507,399.7L442,376Z"/><path style="fill:url(#f003);stroke:url(#f003);stroke-width:8;stroke-linejoin:round" clip-path="url(#c00)" d="M377,400.1L442,426.2L447.8,395L382.8,397.7Z"/><path style="fill:url(#f004);stroke:url(#f004);stroke-width:8;stroke-linejoin:round" clip-path="url(#c00)" d="M442,426.2L507,446.6L512.8,415.4L447.8,395Z"/><g class="r" clip-path="url(#c00)"><path color="#4433cc" d="M187.9,336.4L252.9,356.8"/><path color="#4433cc" d="M252.9,356.8L317.8,378.6"/><path color="#4433cc" d="M317.8,378.6L382.8,399"/><path color="#4433cc" d="M382.8,399L447.8,425.2"/><path color="#4433cc" d="M447.8,425.2L512.8,445.6"/><path color="#4433cc" d="M182,337.6L247,358"/><path color="#4433cc" d="M247,358L312,379.7"/><path color="#4433cc" d="M312,379.7L377,400.1"/><path color="#4433cc" d="M377,400.1L442,426.2"/><path color="#4433cc" d="M442,426.2L507,446.6"/><path color="#4433cc" d="M187.9,335.1L252.9,355.7"/><path color="#4433cc" d="M252.9,355.7L317.8,377.3"/><path color="#4433cc" d="M317.8,377.3L382.8,397.7"/><path color="#4433cc" d="M382.8,397.7L447.8,395"/><path color="#484aed" d="M447.8,395L512.8,415.4"/><path color="#4433cc" d="M185.9,332.2L250.9,353.2"/><path color="#4433cc" d="M250.9,353.2L315.8,374.5"/><path color="#4433cc" d="M315.8,374.5L380.8,394.9"/><path color="#4433cc" d="M380.8,394.9L445.8,393.8"/><path color="#484cf0" d="M445.8,393.8L510.8,414.5"/><path color="#4433cc" d="M185,329.2L250,350.6"/><path color="#4433cc" d="M250,350.6L315,371.5"/><path color="#4433cc" d="M315,371.5L380,391.9"/><path color="#4433cc" d="M380,391.9L445,392.6"/><path color="#484ef1" d="M445,392.6L510,413.5"/><path color="#4536d4" d="M184.5,326.4L249.5,348.2"/><path color="#4435d0" d="M249.5,348.2L314.5,368.6"/><path color="#4435d0" d="M314.5,368.6L379.5,389"/><path color="#4435d0" d="M379.5,389L444.5,391.6"/><path color="#4850f3" d="M444.5,391.6L509.5,412.7"/><path color="#463cdf" d="M184,322.5L249,344.8"/><path color="#4639da" d="M249,344.8L314,364"/><path color="#463bdd" d="M314,364L379,384.4"/><path color="#463bdd" d="M379,384.4L444,390.1"/><path color="#4853f5" d="M444,390.1L509,411.4"/><path color="#4741e5" d="M183.7,319.2L248.7,341.9"/><path color="#463ee1" d="M248.7,341.9L313.7,359.3"/><path color="#4743e7" d="M313.7,359.3L378.7,379.7"/><path color="#4743e7" d="M378.7,379.7L443.7,388.8"/><path color="#4755f6" d="M443.7,388.8L508.7,410.4"/><path color="#4745e9" d="M183.5,317.2L248.5,340.2"/><path color="#4741e4" d="M248.5,340.2L313.5,356"/><path color="#4848ec" d="M313.5,356L378.5,376.4"/><path color="#4848ec" d="M378.5,376.4L443.5,388"/><path color="#4756f7" d="M443.5,388L508.5,409.7"/><path color="#4848ec" d="M183.3,315L248.3,338.3"/><path color="#4744e8" d="M248.3,338.3L313.3,351.8"/><path color="#484ff2" d="M313.3,351.8L378.3,372.2"/><path color="#484ff2" d="M378.3,372.2L443.3,387.2"/><path color="#4758f8" d="M443.3,387.2L508.3,409"/><path color="#484cf0" d="M183.2,312.5L248.2,336.1"/><path color="#4747eb" d="M248.2,336.1L313.2,346.3"/><path color="#4758f8" d="M313.2,346.3L378.2,366.7"/><path color="#4758f8" d="M378.2,366.7L443.2,386.3"/><path color="#4759f8" d="M443.2,386.3L508.2,408.3"/><path color="#4851f3" d="M183,309.8L248,333.8"/><path color="#484bef" d="M248,333.8L313,339"/><path color="#4564fd" d="M313,339L378,359.4"/><path color="#4564fd" d="M378,359.4L443,385.2"/><path color="#475bf9" d="M443,385.2L508,407.4"/><path color="#4756f6" d="M182.8,306.8L247.8,331.1"/><path color="#484ff2" d="M247.8,331.1L312.8,328.9"/><path color="#3975fe" d="M312.8,328.9L377.8,349.3"/><path color="#3975fe" d="M377.8,349.3L442.8,384.1"/><path color="#475dfa" d="M442.8,384.1L507.8,406.4"/><path color="#475bf9" d="M182.7,303.4L247.7,328.2"/><path color="#4854f5" d="M247.7,328.2L312.7,314.8"/><path color="#2d8cf3" d="M312.7,314.8L377.7,335.2"/><path color="#2d8cf3" d="M377.7,335.2L442.7,382.8"/><path color="#465ffb" d="M442.7,382.8L507.7,405.4"/><path color="#4561fc" d="M182.5,299.6L247.5,324.9"/><path color="#4759f9" d="M247.5,324.9L312.5,294.8"/><path color="#1da8e0" d="M312.5,294.8L377.5,315.2"/><path color="#1da8e0" d="M377.5,315.2L442.5,381.3"/><path color="#4561fc" d="M442.5,381.3L507.5,404.2"/><path color="#4368fe" d="M182.3,295.5L247.3,321.3"/><path color="#465ffb" d="M247.3,321.3L312.3,265.9"/><path color="#24c1af" d="M312.3,265.9L377.3,286.3"/><path color="#24c1af" d="M377.3,286.3L442.3,379.7"/><path color="#4564fd" d="M442.3,379.7L507.3,402.8"/><path color="#3d70ff" d="M182.2,290.8L247.2,317.2"/><path color="#4466fd" d="M247.2,317.2L312.2,223.8"/><path color="#abc739" d="M312.2,223.8L377.2,244.2"/><path color="#abc739" d="M377.2,244.2L442.2,377.9"/><path color="#4367fd" d="M442.2,377.9L507.2,401.4"/><path color="#4435d1" d="M182,337.6L182,285.6"/><path color="#4435d1" d="M247,358L247,312.8"/><path color="#4435d1" d="M312,379.7L312,161.9"/><path color="#4435d1" d="M377,400.1L377,182.3"/><path color="#4435d1" d="M442,426.2L442,376"/><path color="#4435d1" d="M507,446.6L507,399.7"/><path color="#347afd" d="M182,285.6L247,312.8"/><path color="#3f6efe" d="M247,312.8L312,161.9"/><path color="#f9f916" d="M312,161.9L377,182.3"/><path color="#f9f916" d="M377,182.3L442,376"/><path color="#416afe" d="M442,376L507,399.7"/></g><path class="a" d="M182,116.7L182,348L507,450L922,372.8M182,327.9l-12.9,-2.7M182,260.8l-12.9,-2.7M182,193.8l-12.9,-2.7M182,126.8l-12.9,-2.7M182,348l-13.4,3.6M344.5,399l-13.4,3.6M507,450l-13.4,3.6M507,450l12.4,3.8M714.5,411.4l12.4,3.8M922,372.8l12.4,3.8"/><text x="159.5" y="340.4" text-anchor="end">0</text><text x="159.5" y="273.3" text-anchor="end">20</text><text x="159.5" y="206.3" text-anchor="end">40</text><text x="159.5" y="139.3" text-anchor="end">60</text><text x="148" y="398" text-anchor="middle">0</text><text x="291.5" y="449" text-anchor="middle">0.5</text><text x="471" y="501" text-anchor="middle">1</text><text x="535" y="504" text-anchor="middle">0</text><text x="744.5" y="464.4" text-anchor="middle">5</text><text x="969" y="423.8" text-anchor="middle">10</text><text x="286" y="544" text-anchor="middle" font-style="italic">ζ</text><text x="771" y="548" text-anchor="middle"><tspan font-style="italic">t</tspan>(s)</text><text x="42" y="205"><tspan font-style="italic">u</tspan><tspan dx="4" dy="23" font-size="36">11</tspan></text></g><g><path class="g" d="M1194,348L1613.5,269M1613.5,269L1934,372.8M1194,232.3L1613.5,153.3M1613.5,153.3L1934,257.1M1194,116.7L1613.5,37.7M1613.5,37.7L1934,141.5M1403.8,308.5L1403.8,77.2M1613.5,269L1613.5,37.7M1773.8,320.9L1773.8,89.6M1934,372.8L1934,141.5M1403.8,308.5L1726.5,411.4M1613.5,269L1934,372.8M1194,348L1613.5,269M1356.5,399L1773.8,320.9"/><g class="s" clip-path="url(#c10)"><path style="fill:url(#g100);stroke:url(#g100)" d="M1200.5,215.9L1202.2,214.3L1203.9,212.8L1205.6,211.7L1207.3,211.3L1208.9,211.1L1210.6,211.1L1212.3,211.1L1215.6,211.3L1219,211.8L1222.4,212.4L1225.7,212.9L1229.1,213.2L1232.4,213.3L1235.8,212.9L1239.1,212.6L1242.5,212.8L1245.9,213.4L1249.2,214.4L1252.6,215.5L1255.9,216.5L1259.3,217.5L1262.6,218.2L1266,218.4L1269.3,218.2L1272.7,217.5L1276.1,216.9L1279.4,216.3L1282.8,215.6L1286.1,215L1289.5,214.4L1292.8,213.7L1296.2,213.1L1299.5,212.5L1302.9,211.8L1306.3,211.2L1309.6,210.6L1311.5,210.2L1311.5,210.2L1309.6,210.6L1306.3,211.2L1302.9,211.8L1299.5,212.5L1296.2,213.1L1292.8,213.8L1289.5,214.6L1286.1,215.6L1282.8,216.7L1279.4,217.9L1276.1,219.2L1272.7,220.4L1269.3,221.6L1266,222.7L1262.6,223.8L1259.3,224.6L1255.9,225.3L1252.6,226L1249.2,226.7L1245.9,227.4L1242.5,228.2L1239.1,228.9L1235.8,229.7L1232.4,230.5L1229.1,231.3L1225.7,232.1L1222.4,233L1219,233.8L1215.6,234.6L1212.3,235.4L1210.6,235.8L1208.9,236.2L1207.3,236.7L1205.6,237.3L1203.9,238.1L1202.2,239.3L1200.5,241.4Z"/><path color="#02bbc3" d="M1272.7,220.4L1337.5,240.9L1340.9,239.6L1276.1,219.2Z"/><path color="#02bac4" d="M1269.3,221.6L1334.2,242.1L1337.5,240.9L1272.7,220.4Z"/><path color="#01bac5" d="M1266,222.7L1330.8,243.2L1334.2,242.1L1269.3,221.6Z"/><path color="#01b9c6" d="M1262.6,223.8L1327.5,244.2L1330.8,243.2L1266,222.7Z"/><path color="#01b9c7" d="M1259.3,224.6L1324.1,245.1L1327.5,244.2L1262.6,223.8Z"/><path color="#01b9c7" d="M1255.9,225.3L1320.8,245.8L1324.1,245.1L1259.3,224.6Z"/><path color="#01b9c7" d="M1252.6,226L1317.4,246.4L1320.8,245.8L1255.9,225.3Z"/><path color="#01b9c7" d="M1249.2,226.7L1314.1,247.1L1317.4,246.4L1252.6,226Z"/><path color="#01b9c7" d="M1245.9,227.4L1310.7,247.8L1314.1,247.1L1249.2,226.7Z"/><path color="#01b9c7" d="M1242.5,228.2L1307.4,248.6L1310.7,247.8L1245.9,227.4Z"/><path color="#01b9c8" d="M1239.1,228.9L1304,249.4L1307.4,248.6L1242.5,228.2Z"/><path color="#01b8c8" d="M1235.8,229.7L1300.7,250.2L1304,249.4L1239.1,228.9Z"/><path color="#01b8c8" d="M1232.4,230.5L1297.3,251L1300.7,250.2L1235.8,229.7Z"/><path color="#01b8c9" d="M1229.1,231.3L1294,251.8L1297.3,251L1232.4,230.5Z"/><path color="#01b8c9" d="M1225.7,232.1L1290.6,252.6L1294,251.8L1229.1,231.3Z"/><path color="#01b8c9" d="M1222.4,233L1287.3,253.4L1290.6,252.6L1225.7,232.1Z"/><path color="#01b8ca" d="M1219,233.8L1283.9,254.2L1287.3,253.4L1222.4,233Z"/><path color="#01b8ca" d="M1215.6,234.6L1280.6,255L1283.9,254.2L1219,233.8Z"/><path color="#02b7cb" d="M1212.3,235.4L1277.3,255.8L1280.6,255L1215.6,234.6Z"/><path color="#02b7cb" d="M1210.6,235.8L1275.6,256.2L1277.3,255.8L1212.3,235.4Z"/><path color="#02b7cb" d="M1208.9,236.2L1273.9,256.6L1275.6,256.2L1210.6,235.8Z"/><path color="#02b7cb" d="M1207.3,236.7L1272.2,257.1L1273.9,256.6L1208.9,236.2Z"/><path color="#03b7cc" d="M1205.6,237.3L1270.6,257.6L1272.2,257.1L1207.3,236.7Z"/><path color="#04b6cd" d="M1203.9,238.1L1268.9,258.2L1270.6,257.6L1205.6,237.3Z"/><path color="#06b5cf" d="M1202.2,239.3L1267.2,259.2L1268.9,258.2L1203.9,238.1Z"/><path color="#0bb3d2" d="M1200.5,241.4L1265.5,260.7L1267.2,259.2L1202.2,239.3Z"/><path color="#0bbdbd" d="M1311.5,210.2L1376.2,230.7L1677.6,174.1L1613.5,153.3Z"/><path color="#0bbdbd" d="M1309.6,210.6L1374.4,231.1L1376.2,230.7L1311.5,210.2Z"/><path color="#0bbdbd" d="M1306.3,211.2L1371,231.7L1374.4,231.1L1309.6,210.6Z"/><path color="#0bbdbd" d="M1302.9,211.8L1367.7,232.3L1371,231.7L1306.3,211.2Z"/><path color="#0bbdbd" d="M1299.5,212.5L1364.3,233L1367.7,232.3L1302.9,211.8Z"/><path color="#0bbdbd" d="M1296.2,213.1L1361,233.6L1364.3,233L1299.5,212.5Z"/><path color="#0bbdbd" d="M1292.8,213.7L1357.6,234.2L1361,233.6L1296.2,213.1Z"/><path color="#0bbdbd" d="M1289.5,214.4L1354.3,234.9L1357.6,234.2L1292.8,213.7Z"/><path color="#0bbdbd" d="M1286.1,215L1350.9,235.5L1354.3,234.9L1289.5,214.4Z"/><path color="#0bbdbd" d="M1282.8,215.6L1347.6,236.1L1350.9,235.5L1286.1,215Z"/><path color="#0bbdbd" d="M1279.4,216.3L1344.2,236.7L1347.6,236.1L1282.8,215.6Z"/><path color="#0bbdbd" d="M1276.1,216.9L1340.9,237.4L1344.2,236.7L1279.4,216.3Z"/><path color="#0bbdbd" d="M1272.7,217.5L1337.5,238L1340.9,237.4L1276.1,216.9Z"/><path color="#0bbdbd" d="M1269.3,218.2L1334.2,238.6L1337.5,238L1272.7,217.5Z"/><path color="#0cbdbc" d="M1266,218.4L1330.8,238.5L1334.2,238.6L1269.3,218.2Z"/><path color="#10beba" d="M1262.6,218.2L1327.5,237.1L1330.8,238.5L1266,218.4Z"/><path color="#16bfb7" d="M1259.3,217.5L1324.1,234.9L1327.5,237.1L1262.6,218.2Z"/><path color="#1cc0b3" d="M1255.9,216.5L1320.8,232L1324.1,234.9L1259.3,217.5Z"/><path color="#22c1af" d="M1252.6,215.5L1317.4,228.9L1320.8,232L1255.9,216.5Z"/><path color="#27c2ab" d="M1249.2,214.4L1314.1,225.7L1317.4,228.9L1252.6,215.5Z"/><path color="#2bc3a8" d="M1245.9,213.4L1310.7,222.9L1314.1,225.7L1249.2,214.4Z"/><path color="#2ec4a5" d="M1242.5,212.8L1307.4,220.7L1310.7,222.9L1245.9,213.4Z"/><path color="#2fc5a2" d="M1239.1,212.6L1304,219.5L1307.4,220.7L1242.5,212.8Z"/><path color="#30c5a2" d="M1235.8,212.9L1300.7,219.5L1304,219.5L1239.1,212.6Z"/><path color="#30c5a1" d="M1232.4,213.3L1297.3,219.7L1300.7,219.5L1235.8,212.9Z"/><path color="#31c69f" d="M1229.1,213.2L1294,219.4L1297.3,219.7L1232.4,213.3Z"/><path color="#33c79d" d="M1225.7,212.9L1290.6,218.8L1294,219.4L1229.1,213.2Z"/><path color="#35c79a" d="M1222.4,212.4L1287.3,217.9L1290.6,218.8L1225.7,212.9Z"/><path color="#38c896" d="M1219,211.8L1283.9,216.9L1287.3,217.9L1222.4,212.4Z"/><path color="#3ac993" d="M1215.6,211.3L1280.6,216.1L1283.9,216.9L1219,211.8Z"/><path color="#3dc991" d="M1212.3,211.1L1277.3,215.5L1280.6,216.1L1215.6,211.3Z"/><path color="#3eca90" d="M1210.6,211.1L1275.6,215.4L1277.3,215.5L1212.3,211.1Z"/><path color="#3eca8f" d="M1208.9,211.1L1273.9,215.4L1275.6,215.4L1210.6,211.1Z"/><path color="#3fca8e" d="M1207.3,211.3L1272.2,215.5L1273.9,215.4L1208.9,211.1Z"/><path color="#3eca8f" d="M1205.6,211.7L1270.6,216.2L1272.2,215.5L1207.3,211.3Z"/><path color="#3cc991" d="M1203.9,212.8L1268.9,218.8L1270.6,216.2L1205.6,211.7Z"/><path color="#39c994" d="M1202.2,214.3L1267.2,222.8L1268.9,218.8L1203.9,212.8Z"/><path color="#36c898" d="M1200.5,215.9L1265.5,227.3L1267.2,222.8L1202.2,214.3Z"/><path style="fill:url(#g101);stroke:url(#g101)" d="M1265.5,227.3L1267.2,222.8L1268.9,218.8L1270.6,216.2L1272.2,215.5L1273.9,215.4L1275.6,215.4L1277.3,215.5L1280.6,216.1L1283.9,216.9L1287.3,217.9L1290.6,218.8L1294,219.4L1297.3,219.7L1300.7,219.5L1304,219.5L1307.4,220.7L1310.7,222.9L1314.1,225.7L1317.4,228.9L1320.8,232L1324.1,234.9L1327.5,237.1L1330.8,238.5L1334.2,238.6L1337.5,238L1340.9,237.4L1344.2,236.7L1347.6,236.1L1350.9,235.5L1354.3,234.9L1357.6,234.2L1361,233.6L1364.3,233L1367.7,232.3L1371,231.7L1374.4,231.1L1376.2,230.7L1376.2,230.7L1374.4,231.1L1371,231.7L1367.7,232.3L1364.3,233L1361,233.6L1357.6,234.3L1354.3,235.1L1350.9,236.1L1347.6,237.2L1344.2,238.4L1340.9,239.6L1337.5,240.9L1334.2,242.1L1330.8,243.2L1327.5,244.2L1324.1,245.1L1320.8,245.8L1317.4,246.4L1314.1,247.1L1310.7,247.8L1307.4,248.6L1304,249.4L1300.7,250.2L1297.3,251L1294,251.8L1290.6,252.6L1287.3,253.4L1283.9,254.2L1280.6,255L1277.3,255.8L1275.6,256.2L1273.9,256.6L1272.2,257.1L1270.6,257.6L1268.9,258.2L1267.2,259.2L1265.5,260.7Z"/><path color="#02bbc3" d="M1337.5,240.9L1402.4,261.3L1405.7,260.1L1340.9,239.6Z"/><path color="#02bac4" d="M1334.2,242.1L1399,262.5L1402.4,261.3L1337.5,240.9Z"/><path color="#01bac5" d="M1330.8,243.2L1395.7,263.7L1399,262.5L1334.2,242.1Z"/><path color="#01b9c6" d="M1327.5,244.2L1392.3,264.7L1395.7,263.7L1330.8,243.2Z"/><path color="#01b9c7" d="M1324.1,245.1L1389,265.5L1392.3,264.7L1327.5,244.2Z"/><path color="#01b9c7" d="M1320.8,245.8L1385.7,266.2L1389,265.5L1324.1,245.1Z"/><path color="#01b9c7" d="M1317.4,246.4L1382.3,266.9L1385.7,266.2L1320.8,245.8Z"/><path color="#01b9c7" d="M1314.1,247.1L1379,267.6L1382.3,266.9L1317.4,246.4Z"/><path color="#01b9c7" d="M1310.7,247.8L1375.6,268.3L1379,267.6L1314.1,247.1Z"/><path color="#01b9c7" d="M1307.4,248.6L1372.3,269L1375.6,268.3L1310.7,247.8Z"/><path color="#01b9c8" d="M1304,249.4L1368.9,269.8L1372.3,269L1307.4,248.6Z"/><path color="#01b8c8" d="M1300.7,250.2L1365.6,270.6L1368.9,269.8L1304,249.4Z"/><path color="#01b8c8" d="M1297.3,251L1362.3,271.4L1365.6,270.6L1300.7,250.2Z"/><path color="#01b8c9" d="M1294,251.8L1358.9,272.2L1362.3,271.4L1297.3,251Z"/><path color="#01b8c9" d="M1290.6,252.6L1355.6,273L1358.9,272.2L1294,251.8Z"/><path color="#01b8c9" d="M1287.3,253.4L1352.2,273.8L1355.6,273L1290.6,252.6Z"/><path color="#01b8ca" d="M1283.9,254.2L1348.9,274.6L1352.2,273.8L1287.3,253.4Z"/><path color="#01b8ca" d="M1280.6,255L1345.6,275.4L1348.9,274.6L1283.9,254.2Z"/><path color="#02b7cb" d="M1277.3,255.8L1342.2,276.2L1345.6,275.4L1280.6,255Z"/><path color="#02b7cb" d="M1275.6,256.2L1340.5,276.7L1342.2,276.2L1277.3,255.8Z"/><path color="#02b7cb" d="M1273.9,256.6L1338.9,277.1L1340.5,276.7L1275.6,256.2Z"/><path color="#02b7cb" d="M1272.2,257.1L1337.2,277.6L1338.9,277.1L1273.9,256.6Z"/><path color="#03b7cc" d="M1270.6,257.6L1335.5,278.3L1337.2,277.6L1272.2,257.1Z"/><path color="#03b7cc" d="M1268.9,258.2L1333.9,279.3L1335.5,278.3L1270.6,257.6Z"/><path color="#05b6ce" d="M1267.2,259.2L1332.2,280.9L1333.9,279.3L1268.9,258.2Z"/><path color="#07b5d0" d="M1265.5,260.7L1330.5,283.8L1332.2,280.9L1267.2,259.2Z"/><path color="#0bbdbd" d="M1376.2,230.7L1441,251.2L1741.7,194.9L1677.6,174.1Z"/><path color="#0bbdbd" d="M1374.4,231.1L1439.1,251.6L1441,251.2L1376.2,230.7Z"/><path color="#0bbdbd" d="M1371,231.7L1435.8,252.2L1439.1,251.6L1374.4,231.1Z"/><path color="#0bbdbd" d="M1367.7,232.3L1432.4,252.8L1435.8,252.2L1371,231.7Z"/><path color="#0bbdbd" d="M1364.3,233L1429.1,253.5L1432.4,252.8L1367.7,232.3Z"/><path color="#0bbdbd" d="M1361,233.6L1425.8,254.1L1429.1,253.5L1364.3,233Z"/><path color="#0bbdbd" d="M1357.6,234.2L1422.4,254.7L1425.8,254.1L1361,233.6Z"/><path color="#0bbdbd" d="M1354.3,234.9L1419.1,255.3L1422.4,254.7L1357.6,234.2Z"/><path color="#0bbdbd" d="M1350.9,235.5L1415.7,256L1419.1,255.3L1354.3,234.9Z"/><path color="#0bbdbd" d="M1347.6,236.1L1412.4,256.6L1415.7,256L1350.9,235.5Z"/><path color="#0bbdbd" d="M1344.2,236.7L1409,257.2L1412.4,256.6L1347.6,236.1Z"/><path color="#0bbdbd" d="M1340.9,237.4L1405.7,257.8L1409,257.2L1344.2,236.7Z"/><path color="#0bbdbd" d="M1337.5,238L1402.4,258.5L1405.7,257.8L1340.9,237.4Z"/><path color="#0bbdbd" d="M1334.2,238.6L1399,259.1L1402.4,258.5L1337.5,238Z"/><path color="#0ebebb" d="M1330.8,238.5L1395.7,258.9L1399,259.1L1334.2,238.6Z"/><path color="#17bfb6" d="M1327.5,237.1L1392.3,257.6L1395.7,258.9L1330.8,238.5Z"/><path color="#22c1b0" d="M1324.1,234.9L1389,255.3L1392.3,257.6L1327.5,237.1Z"/><path color="#2bc3a8" d="M1320.8,232L1385.7,252.5L1389,255.3L1324.1,234.9Z"/><path color="#32c69e" d="M1317.4,228.9L1382.3,249.3L1385.7,252.5L1320.8,232Z"/><path color="#3ac994" d="M1314.1,225.7L1379,246.2L1382.3,249.3L1317.4,228.9Z"/><path color="#44cb8a" d="M1310.7,222.9L1375.6,243.4L1379,246.2L1314.1,225.7Z"/><path color="#4fcc81" d="M1307.4,220.7L1372.3,241.2L1375.6,243.4L1310.7,222.9Z"/><path color="#56cc7b" d="M1304,219.5L1368.9,239.9L1372.3,241.2L1307.4,220.7Z"/><path color="#59cc78" d="M1300.7,219.5L1365.6,239.9L1368.9,239.9L1304,219.5Z"/><path color="#5bcc77" d="M1297.3,219.7L1362.3,240.2L1365.6,239.9L1300.7,219.5Z"/><path color="#5ecd74" d="M1294,219.4L1358.9,239.9L1362.3,240.2L1297.3,219.7Z"/><path color="#64cd6f" d="M1290.6,218.8L1355.6,239.2L1358.9,239.9L1294,219.4Z"/><path color="#6bcd69" d="M1287.3,217.9L1352.2,238.3L1355.6,239.2L1290.6,218.8Z"/><path color="#72cd64" d="M1283.9,216.9L1348.9,237.4L1352.2,238.3L1287.3,217.9Z"/><path color="#79cc5e" d="M1280.6,216.1L1345.6,236.5L1348.9,237.4L1283.9,216.9Z"/><path color="#7ecc5a" d="M1277.3,215.5L1342.2,235.9L1345.6,236.5L1280.6,216.1Z"/><path color="#81cc59" d="M1275.6,215.4L1340.5,235.8L1342.2,235.9L1277.3,215.5Z"/><path color="#82cc58" d="M1273.9,215.4L1338.9,235.7L1340.5,235.8L1275.6,215.4Z"/><path color="#83cc57" d="M1272.2,215.5L1337.2,235.8L1338.9,235.7L1273.9,215.4Z"/><path color="#81cc58" d="M1270.6,216.2L1335.5,236.4L1337.2,235.8L1272.2,215.5Z"/><path color="#76cc60" d="M1268.9,218.8L1333.9,238.8L1335.5,236.4L1270.6,216.2Z"/><path color="#65cd6e" d="M1267.2,222.8L1332.2,242.4L1333.9,238.8L1268.9,218.8Z"/><path color="#54cc7c" d="M1265.5,227.3L1330.5,245.9L1332.2,242.4L1267.2,222.8Z"/><path style="fill:url(#g102);stroke:url(#g102)" d="M1330.5,245.9L1332.2,242.4L1333.9,238.8L1335.5,236.4L1337.2,235.8L1338.9,235.7L1340.5,235.8L1342.2,235.9L1345.6,236.5L1348.9,237.4L1352.2,238.3L1355.6,239.2L1358.9,239.9L1362.3,240.2L1365.6,239.9L1368.9,239.9L1372.3,241.2L1375.6,243.4L1379,246.2L1382.3,249.3L1385.7,252.5L1389,255.3L1392.3,257.6L1395.7,258.9L1399,259.1L1402.4,258.5L1405.7,257.8L1409,257.2L1412.4,256.6L1415.7,256L1419.1,255.3L1422.4,254.7L1425.8,254.1L1429.1,253.5L1432.4,252.8L1435.8,252.2L1439.1,251.6L1441,251.2L1441,251.2L1439.1,251.6L1435.8,252.2L1432.4,252.8L1429.1,253.5L1425.8,254.1L1422.4,254.7L1419.1,255.6L1415.7,256.6L1412.4,257.7L1409,258.9L1405.7,260.1L1402.4,261.3L1399,262.5L1395.7,263.7L1392.3,264.7L1389,265.5L1385.7,266.2L1382.3,266.9L1379,267.6L1375.6,268.3L1372.3,269L1368.9,269.8L1365.6,270.6L1362.3,271.4L1358.9,272.2L1355.6,273L1352.2,273.8L1348.9,274.6L1345.6,275.4L1342.2,276.2L1340.5,276.7L1338.9,277.1L1337.2,277.6L1335.5,278.3L1333.9,279.3L1332.2,280.9L1330.5,283.8Z"/><path color="#02bbc3" d="M1402.4,261.3L1467.2,281.8L1470.5,280.6L1405.7,260.1Z"/><path color="#02bac4" d="M1399,262.5L1463.9,283L1467.2,281.8L1402.4,261.3Z"/><path color="#01bac5" d="M1395.7,263.7L1460.5,284.1L1463.9,283L1399,262.5Z"/><path color="#01b9c6" d="M1392.3,264.7L1457.2,285.1L1460.5,284.1L1395.7,263.7Z"/><path color="#01b9c7" d="M1389,265.5L1453.9,286L1457.2,285.1L1392.3,264.7Z"/><path color="#01b9c7" d="M1385.7,266.2L1450.5,286.7L1453.9,286L1389,265.5Z"/><path color="#01b9c7" d="M1382.3,266.9L1447.2,287.3L1450.5,286.7L1385.7,266.2Z"/><path color="#01b9c7" d="M1379,267.6L1443.9,288L1447.2,287.3L1382.3,266.9Z"/><path color="#01b9c7" d="M1375.6,268.3L1440.5,288.7L1443.9,288L1379,267.6Z"/><path color="#01b9c7" d="M1372.3,269L1437.2,289.5L1440.5,288.7L1375.6,268.3Z"/><path color="#01b9c8" d="M1368.9,269.8L1433.8,290.2L1437.2,289.5L1372.3,269Z"/><path color="#01b8c8" d="M1365.6,270.6L1430.5,291L1433.8,290.2L1368.9,269.8Z"/><path color="#01b8c8" d="M1362.3,271.4L1427.2,291.8L1430.5,291L1365.6,270.6Z"/><path color="#01b8c9" d="M1358.9,272.2L1423.8,292.6L1427.2,291.8L1362.3,271.4Z"/><path color="#01b8c9" d="M1355.6,273L1420.5,293.4L1423.8,292.6L1358.9,272.2Z"/><path color="#01b8c9" d="M1352.2,273.8L1417.2,294.2L1420.5,293.4L1355.6,273Z"/><path color="#01b8ca" d="M1348.9,274.6L1413.8,295L1417.2,294.2L1352.2,273.8Z"/><path color="#01b8ca" d="M1345.6,275.4L1410.5,295.8L1413.8,295L1348.9,274.6Z"/><path color="#02b7cb" d="M1342.2,276.2L1407.2,296.6L1410.5,295.8L1345.6,275.4Z"/><path color="#02b7cb" d="M1340.5,276.7L1405.5,297.1L1407.2,296.6L1342.2,276.2Z"/><path color="#02b7cb" d="M1338.9,277.1L1403.8,297.5L1405.5,297.1L1340.5,276.7Z"/><path color="#03b7cc" d="M1337.2,277.6L1402.2,298L1403.8,297.5L1338.9,277.1Z"/><path color="#03b7cc" d="M1335.5,278.3L1400.5,298.5L1402.2,298L1337.2,277.6Z"/><path color="#05b6ce" d="M1333.9,279.3L1398.8,299.4L1400.5,298.5L1335.5,278.3Z"/><path color="#08b5d0" d="M1332.2,280.9L1397.2,300.6L1398.8,299.4L1333.9,279.3Z"/><path color="#10b2d5" d="M1330.5,283.8L1395.5,302.9L1397.2,300.6L1332.2,280.9Z"/><path color="#0bbdbd" d="M1441,251.2L1505.7,271.7L1805.8,215.6L1741.7,194.9Z"/><path color="#0bbdbd" d="M1439.1,251.6L1503.9,272.1L1505.7,271.7L1441,251.2Z"/><path color="#0bbdbd" d="M1435.8,252.2L1500.5,272.7L1503.9,272.1L1439.1,251.6Z"/><path color="#0bbdbd" d="M1432.4,252.8L1497.2,273.3L1500.5,272.7L1435.8,252.2Z"/><path color="#0bbdbd" d="M1429.1,253.5L1493.9,273.9L1497.2,273.3L1432.4,252.8Z"/><path color="#0bbdbd" d="M1425.8,254.1L1490.5,274.6L1493.9,273.9L1429.1,253.5Z"/><path color="#0bbdbd" d="M1422.4,254.7L1487.2,275.2L1490.5,274.6L1425.8,254.1Z"/><path color="#0bbdbd" d="M1419.1,255.3L1483.9,275.8L1487.2,275.2L1422.4,254.7Z"/><path color="#0bbdbd" d="M1415.7,256L1480.5,276.4L1483.9,275.8L1419.1,255.3Z"/><path color="#0bbdbd" d="M1412.4,256.6L1477.2,277.1L1480.5,276.4L1415.7,256Z"/><path color="#0bbdbd" d="M1409,257.2L1473.9,277.7L1477.2,277.1L1412.4,256.6Z"/><path color="#0bbdbd" d="M1405.7,257.8L1470.5,278.3L1473.9,277.7L1409,257.2Z"/><path color="#0bbdbd" d="M1402.4,258.5L1467.2,278.9L1470.5,278.3L1405.7,257.8Z"/><path color="#0bbdbd" d="M1399,259.1L1463.9,279.6L1467.2,278.9L1402.4,258.5Z"/><path color="#0ebebb" d="M1395.7,258.9L1460.5,279.4L1463.9,279.6L1399,259.1Z"/><path color="#17bfb6" d="M1392.3,257.6L1457.2,278L1460.5,279.4L1395.7,258.9Z"/><path color="#22c1b0" d="M1389,255.3L1453.9,275.8L1457.2,278L1392.3,257.6Z"/><path color="#2bc3a8" d="M1385.7,252.5L1450.5,272.9L1453.9,275.8L1389,255.3Z"/><path color="#32c69e" d="M1382.3,249.3L1447.2,269.8L1450.5,272.9L1385.7,252.5Z"/><path color="#3ac994" d="M1379,246.2L1443.9,266.6L1447.2,269.8L1382.3,249.3Z"/><path color="#44cb8a" d="M1375.6,243.4L1440.5,263.8L1443.9,266.6L1379,246.2Z"/><path color="#4fcc81" d="M1372.3,241.2L1437.2,261.6L1440.5,263.8L1375.6,243.4Z"/><path color="#56cc7b" d="M1368.9,239.9L1433.8,260.4L1437.2,261.6L1372.3,241.2Z"/><path color="#59cc78" d="M1365.6,239.9L1430.5,260.3L1433.8,260.4L1368.9,239.9Z"/><path color="#5bcc77" d="M1362.3,240.2L1427.2,260.6L1430.5,260.3L1365.6,239.9Z"/><path color="#5ecd74" d="M1358.9,239.9L1423.8,260.3L1427.2,260.6L1362.3,240.2Z"/><path color="#64cd6f" d="M1355.6,239.2L1420.5,259.6L1423.8,260.3L1358.9,239.9Z"/><path color="#6bcd69" d="M1352.2,238.3L1417.2,258.7L1420.5,259.6L1355.6,239.2Z"/><path color="#72cd64" d="M1348.9,237.4L1413.8,257.8L1417.2,258.7L1352.2,238.3Z"/><path color="#79cc5e" d="M1345.6,236.5L1410.5,256.9L1413.8,257.8L1348.9,237.4Z"/><path color="#7fcc5a" d="M1342.2,235.9L1407.2,256.3L1410.5,256.9L1345.6,236.5Z"/><path color="#81cc59" d="M1340.5,235.8L1405.5,256.2L1407.2,256.3L1342.2,235.9Z"/><path color="#82cc57" d="M1338.9,235.7L1403.8,256.1L1405.5,256.2L1340.5,235.8Z"/><path color="#84cc56" d="M1337.2,235.8L1402.2,256.2L1403.8,256.1L1338.9,235.7Z"/><path color="#82cc57" d="M1335.5,236.4L1400.5,256.7L1402.2,256.2L1337.2,235.8Z"/><path color="#78cc5f" d="M1333.9,238.8L1398.8,258.9L1400.5,256.7L1335.5,236.4Z"/><path color="#69cd6b" d="M1332.2,242.4L1397.2,262.2L1398.8,258.9L1333.9,238.8Z"/><path color="#5bcc76" d="M1330.5,245.9L1395.5,265.1L1397.2,262.2L1332.2,242.4Z"/><path style="fill:url(#g103);stroke:url(#g103)" d="M1395.5,265.1L1397.2,262.2L1398.8,258.9L1400.5,256.7L1402.2,256.2L1403.8,256.1L1405.5,256.2L1407.2,256.3L1410.5,256.9L1413.8,257.8L1417.2,258.7L1420.5,259.6L1423.8,260.3L1427.2,260.6L1430.5,260.3L1433.8,260.4L1437.2,261.6L1440.5,263.8L1443.9,266.6L1447.2,269.8L1450.5,272.9L1453.9,275.8L1457.2,278L1460.5,279.4L1463.9,279.6L1467.2,278.9L1470.5,278.3L1473.9,277.7L1477.2,277.1L1480.5,276.4L1483.9,275.8L1487.2,275.2L1490.5,274.6L1493.9,273.9L1497.2,273.3L1500.5,272.7L1503.9,272.1L1505.7,271.7L1505.7,271.7L1503.9,272.1L1500.5,272.7L1497.2,273.3L1493.9,273.9L1490.5,274.6L1487.2,275.2L1483.9,276.1L1480.5,277L1477.2,278.2L1473.9,279.3L1470.5,280.6L1467.2,281.8L1463.9,283L1460.5,284.1L1457.2,285.1L1453.9,286L1450.5,286.7L1447.2,287.3L1443.9,288L1440.5,288.7L1437.2,289.5L1433.8,290.2L1430.5,291L1427.2,291.8L1423.8,292.6L1420.5,293.4L1417.2,294.2L1413.8,295L1410.5,295.8L1407.2,296.6L1405.5,297.1L1403.8,297.5L1402.2,298L1400.5,298.5L1398.8,299.4L1397.2,300.6L1395.5,302.9Z"/><path color="#0abdbd" d="M1483.9,276.1L1548.7,302.3L1552,296.6L1487.2,275.2Z"/><path color="#09bcbe" d="M1480.5,277L1545.3,309.2L1548.7,302.3L1483.9,276.1Z"/><path color="#08bcbf" d="M1477.2,278.2L1542,313.6L1545.3,309.2L1480.5,277Z"/><path color="#06bcc0" d="M1473.9,279.3L1538.7,313.9L1542,313.6L1477.2,278.2Z"/><path color="#04bbc2" d="M1470.5,280.6L1535.4,313L1538.7,313.9L1473.9,279.3Z"/><path color="#02bbc3" d="M1467.2,281.8L1532,311.2L1535.4,313L1470.5,280.6Z"/><path color="#02bac4" d="M1463.9,283L1528.7,309.1L1532,311.2L1467.2,281.8Z"/><path color="#01bac5" d="M1460.5,284.1L1525.4,307.1L1528.7,309.1L1463.9,283Z"/><path color="#01b9c6" d="M1457.2,285.1L1522,305.4L1525.4,307.1L1460.5,284.1Z"/><path color="#01b9c7" d="M1453.9,286L1518.7,304.5L1522,305.4L1457.2,285.1Z"/><path color="#01b9c7" d="M1450.5,286.7L1515.4,304.8L1518.7,304.5L1453.9,286Z"/><path color="#01b9c7" d="M1447.2,287.3L1512.1,305.4L1515.4,304.8L1450.5,286.7Z"/><path color="#01b9c7" d="M1443.9,288L1508.7,306.1L1512.1,305.4L1447.2,287.3Z"/><path color="#01b9c7" d="M1440.5,288.7L1505.4,306.7L1508.7,306.1L1443.9,288Z"/><path color="#01b9c7" d="M1437.2,289.5L1502.1,307.3L1505.4,306.7L1440.5,288.7Z"/><path color="#01b9c8" d="M1433.8,290.2L1498.8,307.9L1502.1,307.3L1437.2,289.5Z"/><path color="#01b8c8" d="M1430.5,291L1495.4,308.5L1498.8,307.9L1433.8,290.2Z"/><path color="#01b8c8" d="M1427.2,291.8L1492.1,309.2L1495.4,308.5L1430.5,291Z"/><path color="#01b8c9" d="M1423.8,292.6L1488.8,318.3L1492.1,309.2L1427.2,291.8Z"/><path color="#01b8c9" d="M1420.5,293.4L1485.4,327.7L1488.8,318.3L1423.8,292.6Z"/><path color="#01b8c9" d="M1417.2,294.2L1482.1,328.1L1485.4,327.7L1420.5,293.4Z"/><path color="#01b8ca" d="M1413.8,295L1478.8,328.1L1482.1,328.1L1417.2,294.2Z"/><path color="#01b8ca" d="M1410.5,295.8L1475.5,327.7L1478.8,328.1L1413.8,295Z"/><path color="#02b7cb" d="M1407.2,296.6L1472.1,327.2L1475.5,327.7L1410.5,295.8Z"/><path color="#02b7cb" d="M1405.5,297.1L1470.5,326.8L1472.1,327.2L1407.2,296.6Z"/><path color="#02b7cb" d="M1403.8,297.5L1468.8,326.5L1470.5,326.8L1405.5,297.1Z"/><path color="#02b7cb" d="M1402.2,298L1467.1,326.2L1468.8,326.5L1403.8,297.5Z"/><path color="#03b7cc" d="M1400.5,298.5L1465.5,325.9L1467.1,326.2L1402.2,298Z"/><path color="#04b6cd" d="M1398.8,299.4L1463.8,325.7L1465.5,325.9L1400.5,298.5Z"/><path color="#06b5cf" d="M1397.2,300.6L1462.2,325.6L1463.8,325.7L1398.8,299.4Z"/><path color="#0cb3d3" d="M1395.5,302.9L1460.5,325.6L1462.2,325.6L1397.2,300.6Z"/><path color="#0bbdbd" d="M1505.7,271.7L1570.5,292.2L1869.9,236.4L1805.8,215.6Z"/><path color="#0bbdbd" d="M1503.9,272.1L1568.6,292.6L1570.5,292.2L1505.7,271.7Z"/><path color="#0bbdbd" d="M1500.5,272.7L1565.3,293.2L1568.6,292.6L1503.9,272.1Z"/><path color="#0bbdbd" d="M1497.2,273.3L1562,293.8L1565.3,293.2L1500.5,272.7Z"/><path color="#0bbdbd" d="M1493.9,273.9L1558.6,294.4L1562,293.8L1497.2,273.3Z"/><path color="#0bbdbd" d="M1490.5,274.6L1555.3,295.1L1558.6,294.4L1493.9,273.9Z"/><path color="#0bbdbd" d="M1487.2,275.2L1552,295.7L1555.3,295.1L1490.5,274.6Z"/><path color="#0bbdbd" d="M1483.9,275.8L1548.7,296.2L1552,295.7L1487.2,275.2Z"/><path color="#0bbdbd" d="M1480.5,276.4L1545.3,296.7L1548.7,296.2L1483.9,275.8Z"/><path color="#0bbdbd" d="M1477.2,277.1L1542,297L1545.3,296.7L1480.5,276.4Z"/><path color="#0bbdbd" d="M1473.9,277.7L1538.7,297.4L1542,297L1477.2,277.1Z"/><path color="#0bbdbd" d="M1470.5,278.3L1535.4,297.7L1538.7,297.4L1473.9,277.7Z"/><path color="#0bbdbd" d="M1467.2,278.9L1532,297.9L1535.4,297.7L1470.5,278.3Z"/><path color="#0bbdbd" d="M1463.9,279.6L1528.7,298.2L1532,297.9L1467.2,278.9Z"/><path color="#0ebebb" d="M1460.5,279.4L1525.4,298.4L1528.7,298.2L1463.9,279.6Z"/><path color="#17bfb6" d="M1457.2,278L1522,298.6L1525.4,298.4L1460.5,279.4Z"/><path color="#22c1b0" d="M1453.9,275.8L1518.7,298.9L1522,298.6L1457.2,278Z"/><path color="#2bc3a8" d="M1450.5,272.9L1515.4,299.1L1518.7,298.9L1453.9,275.8Z"/><path color="#32c69e" d="M1447.2,269.8L1512.1,299.4L1515.4,299.1L1450.5,272.9Z"/><path color="#3ac994" d="M1443.9,266.6L1508.7,299.7L1512.1,299.4L1447.2,269.8Z"/><path color="#44cb8a" d="M1440.5,263.8L1505.4,300.1L1508.7,299.7L1443.9,266.6Z"/><path color="#4fcc81" d="M1437.2,261.6L1502.1,300.5L1505.4,300.1L1440.5,263.8Z"/><path color="#56cc7b" d="M1433.8,260.4L1498.8,301L1502.1,300.5L1437.2,261.6Z"/><path color="#59cc78" d="M1430.5,260.3L1495.4,301.6L1498.8,301L1433.8,260.4Z"/><path color="#5bcc77" d="M1427.2,260.6L1492.1,302.2L1495.4,301.6L1430.5,260.3Z"/><path color="#5ecd74" d="M1423.8,260.3L1488.8,302.7L1492.1,302.2L1427.2,260.6Z"/><path color="#64cd6f" d="M1420.5,259.6L1485.4,303.1L1488.8,302.7L1423.8,260.3Z"/><path color="#6bcd69" d="M1417.2,258.7L1482.1,303.5L1485.4,303.1L1420.5,259.6Z"/><path color="#72cd64" d="M1413.8,257.8L1478.8,303.9L1482.1,303.5L1417.2,258.7Z"/><path color="#79cc5e" d="M1410.5,256.9L1475.5,304.2L1478.8,303.9L1413.8,257.8Z"/><path color="#7fcc5a" d="M1407.2,256.3L1472.1,304.6L1475.5,304.2L1410.5,256.9Z"/><path color="#81cc59" d="M1405.5,256.2L1470.5,304.7L1472.1,304.6L1407.2,256.3Z"/><path color="#83cc57" d="M1403.8,256.1L1468.8,304.9L1470.5,304.7L1405.5,256.2Z"/><path color="#84cc56" d="M1402.2,256.2L1467.1,305L1468.8,304.9L1403.8,256.1Z"/><path color="#83cc57" d="M1400.5,256.7L1465.5,305.1L1467.1,305L1402.2,256.2Z"/><path color="#7acc5e" d="M1398.8,258.9L1463.8,305L1465.5,305.1L1400.5,256.7Z"/><path color="#6ccd68" d="M1397.2,262.2L1462.2,304.7L1463.8,305L1398.8,258.9Z"/><path color="#60cd72" d="M1395.5,265.1L1460.5,303.9L1462.2,304.7L1397.2,262.2Z"/><path style="fill:url(#g104);stroke:url(#g104)" d="M1460.5,303.9L1462.2,304.7L1463.8,305L1465.5,305.1L1467.1,305L1468.8,304.9L1470.5,304.7L1472.1,304.6L1475.5,304.2L1478.8,303.9L1482.1,303.5L1485.4,303.1L1488.8,302.7L1492.1,302.2L1495.4,301.6L1498.8,301L1502.1,300.5L1505.4,300.1L1508.7,299.7L1512.1,299.4L1515.4,299.1L1518.7,298.9L1522,298.6L1525.4,298.4L1528.7,298.2L1532,297.9L1535.4,297.7L1538.7,297.4L1542,297L1545.3,296.7L1548.7,296.2L1552,295.7L1555.3,295.1L1558.6,294.4L1562,293.8L1565.3,293.2L1568.6,292.6L1570.5,292.2L1570.5,292.2L1568.6,292.6L1565.3,293.2L1562,293.8L1558.6,294.4L1555.3,295.1L1552,296.6L1548.7,302.3L1545.3,309.2L1542,313.6L1538.7,313.9L1535.4,313L1532,311.2L1528.7,309.1L1525.4,307.1L1522,305.4L1518.7,304.5L1515.4,304.8L1512.1,305.4L1508.7,306.1L1505.4,306.7L1502.1,307.3L1498.8,307.9L1495.4,308.5L1492.1,309.2L1488.8,318.3L1485.4,327.7L1482.1,328.1L1478.8,328.1L1475.5,327.7L1472.1,327.2L1470.5,326.8L1468.8,326.5L1467.1,326.2L1465.5,325.9L1463.8,325.7L1462.2,325.6L1460.5,325.6Z"/><path color="#01b8ca" d="M1548.7,302.3L1613.5,322.8L1616.8,317.1L1552,296.6Z"/><path color="#11b1d6" d="M1545.3,309.2L1610.1,329.7L1613.5,322.8L1548.7,302.3Z"/><path color="#19addc" d="M1542,313.6L1606.8,334.1L1610.1,329.7L1545.3,309.2Z"/><path color="#19addc" d="M1538.7,313.9L1603.5,334.4L1606.8,334.1L1542,313.6Z"/><path color="#15afd9" d="M1535.4,313L1600.2,333.4L1603.5,334.4L1538.7,313.9Z"/><path color="#10b2d5" d="M1532,311.2L1596.9,331.7L1600.2,333.4L1535.4,313Z"/><path color="#07b5d0" d="M1528.7,309.1L1593.5,329.6L1596.9,331.7L1532,311.2Z"/><path color="#01b7ca" d="M1525.4,307.1L1590.2,327.5L1593.5,329.6L1528.7,309.1Z"/><path color="#01b9c6" d="M1522,305.4L1586.9,325.8L1590.2,327.5L1525.4,307.1Z"/><path color="#03bbc2" d="M1518.7,304.5L1583.6,325L1586.9,325.8L1522,305.4Z"/><path color="#04bbc2" d="M1515.4,304.8L1580.3,325.3L1583.6,325L1518.7,304.5Z"/><path color="#04bbc2" d="M1512.1,305.4L1576.9,325.9L1580.3,325.3L1515.4,304.8Z"/><path color="#04bbc2" d="M1508.7,306.1L1573.6,326.5L1576.9,325.9L1512.1,305.4Z"/><path color="#04bbc2" d="M1505.4,306.7L1570.3,327.1L1573.6,326.5L1508.7,306.1Z"/><path color="#04bbc2" d="M1502.1,307.3L1567,327.7L1570.3,327.1L1505.4,306.7Z"/><path color="#04bbc2" d="M1498.8,307.9L1563.7,328.4L1567,327.7L1502.1,307.3Z"/><path color="#04bbc2" d="M1495.4,308.5L1560.3,329L1563.7,328.4L1498.8,307.9Z"/><path color="#04bbc2" d="M1492.1,309.2L1557,329.6L1560.3,329L1495.4,308.5Z"/><path color="#0db3d3" d="M1488.8,318.3L1553.7,338.7L1557,329.6L1492.1,309.2Z"/><path color="#1ea8e0" d="M1485.4,327.7L1550.4,348.1L1553.7,338.7L1488.8,318.3Z"/><path color="#1da8e0" d="M1482.1,328.1L1547.1,348.6L1550.4,348.1L1485.4,327.7Z"/><path color="#1da9e0" d="M1478.8,328.1L1543.7,348.5L1547.1,348.6L1482.1,328.1Z"/><path color="#1baade" d="M1475.5,327.7L1540.4,348.2L1543.7,348.5L1478.8,328.1Z"/><path color="#1aacdd" d="M1472.1,327.2L1537.1,347.6L1540.4,348.2L1475.5,327.7Z"/><path color="#19addc" d="M1470.5,326.8L1535.4,347.3L1537.1,347.6L1472.1,327.2Z"/><path color="#18aedb" d="M1468.8,326.5L1533.8,346.9L1535.4,347.3L1470.5,326.8Z"/><path color="#17aeda" d="M1467.1,326.2L1532.1,346.6L1533.8,346.9L1468.8,326.5Z"/><path color="#15afd9" d="M1465.5,325.9L1530.5,346.3L1532.1,346.6L1467.1,326.2Z"/><path color="#14b0d8" d="M1463.8,325.7L1528.8,346.2L1530.5,346.3L1465.5,325.9Z"/><path color="#13b0d7" d="M1462.2,325.6L1527.1,346.1L1528.8,346.2L1463.8,325.7Z"/><path color="#13b1d7" d="M1460.5,325.6L1525.5,346.3L1527.1,346.1L1462.2,325.6Z"/><path color="#0bbdbd" d="M1570.5,292.2L1635.2,312.7L1934,257.1L1869.9,236.4Z"/><path color="#0bbdbd" d="M1568.6,292.6L1633.4,313.1L1635.2,312.7L1570.5,292.2Z"/><path color="#0bbdbd" d="M1565.3,293.2L1630.1,313.7L1633.4,313.1L1568.6,292.6Z"/><path color="#0bbdbd" d="M1562,293.8L1626.7,314.3L1630.1,313.7L1565.3,293.2Z"/><path color="#0bbdbd" d="M1558.6,294.4L1623.4,314.9L1626.7,314.3L1562,293.8Z"/><path color="#0bbdbd" d="M1555.3,295.1L1620.1,315.5L1623.4,314.9L1558.6,294.4Z"/><path color="#0bbdbd" d="M1552,295.7L1616.8,316.1L1620.1,315.5L1555.3,295.1Z"/><path color="#0bbdbc" d="M1548.7,296.2L1613.5,316.7L1616.8,316.1L1552,295.7Z"/><path color="#0cbdbc" d="M1545.3,296.7L1610.1,317.1L1613.5,316.7L1548.7,296.2Z"/><path color="#0dbdbc" d="M1542,297L1606.8,317.5L1610.1,317.1L1545.3,296.7Z"/><path color="#0ebdbb" d="M1538.7,297.4L1603.5,317.9L1606.8,317.5L1542,297Z"/><path color="#10beba" d="M1535.4,297.7L1600.2,318.1L1603.5,317.9L1538.7,297.4Z"/><path color="#11beb9" d="M1532,297.9L1596.9,318.4L1600.2,318.1L1535.4,297.7Z"/><path color="#13beb9" d="M1528.7,298.2L1593.5,318.6L1596.9,318.4L1532,297.9Z"/><path color="#14bfb8" d="M1525.4,298.4L1590.2,318.9L1593.5,318.6L1528.7,298.2Z"/><path color="#16bfb7" d="M1522,298.6L1586.9,319.1L1590.2,318.9L1525.4,298.4Z"/><path color="#18bfb6" d="M1518.7,298.9L1583.6,319.3L1586.9,319.1L1522,298.6Z"/><path color="#19bfb5" d="M1515.4,299.1L1580.3,319.6L1583.6,319.3L1518.7,298.9Z"/><path color="#1bc0b4" d="M1512.1,299.4L1576.9,319.8L1580.3,319.6L1515.4,299.1Z"/><path color="#1cc0b4" d="M1508.7,299.7L1573.6,320.2L1576.9,319.8L1512.1,299.4Z"/><path color="#1dc0b3" d="M1505.4,300.1L1570.3,320.5L1573.6,320.2L1508.7,299.7Z"/><path color="#1dc0b3" d="M1502.1,300.5L1567,321L1570.3,320.5L1505.4,300.1Z"/><path color="#1ec0b2" d="M1498.8,301L1563.7,321.5L1567,321L1502.1,300.5Z"/><path color="#1ec0b2" d="M1495.4,301.6L1560.3,322L1563.7,321.5L1498.8,301Z"/><path color="#1ec0b2" d="M1492.1,302.2L1557,322.6L1560.3,322L1495.4,301.6Z"/><path color="#1ec0b2" d="M1488.8,302.7L1553.7,323.1L1557,322.6L1492.1,302.2Z"/><path color="#1fc0b1" d="M1485.4,303.1L1550.4,323.5L1553.7,323.1L1488.8,302.7Z"/><path color="#20c1b1" d="M1482.1,303.5L1547.1,323.9L1550.4,323.5L1485.4,303.1Z"/><path color="#21c1b0" d="M1478.8,303.9L1543.7,324.3L1547.1,323.9L1482.1,303.5Z"/><path color="#22c1b0" d="M1475.5,304.2L1540.4,324.6L1543.7,324.3L1478.8,303.9Z"/><path color="#23c1af" d="M1472.1,304.6L1537.1,325L1540.4,324.6L1475.5,304.2Z"/><path color="#23c1af" d="M1470.5,304.7L1535.4,325.1L1537.1,325L1472.1,304.6Z"/><path color="#24c1ae" d="M1468.8,304.9L1533.8,325.3L1535.4,325.1L1470.5,304.7Z"/><path color="#24c2ae" d="M1467.1,305L1532.1,325.4L1533.8,325.3L1468.8,304.9Z"/><path color="#25c2ad" d="M1465.5,305.1L1530.5,325.5L1532.1,325.4L1467.1,305Z"/><path color="#26c2ad" d="M1463.8,305L1528.8,325.5L1530.5,325.5L1465.5,305.1Z"/><path color="#28c2ab" d="M1462.2,304.7L1527.1,325.3L1528.8,325.5L1463.8,305Z"/><path color="#2ac3a8" d="M1460.5,303.9L1525.5,324.7L1527.1,325.3L1462.2,304.7Z"/><path style="fill:url(#g105);stroke:url(#g105)" d="M1525.5,324.7L1527.1,325.3L1528.8,325.5L1530.5,325.5L1532.1,325.4L1533.8,325.3L1535.4,325.1L1537.1,325L1540.4,324.6L1543.7,324.3L1547.1,323.9L1550.4,323.5L1553.7,323.1L1557,322.6L1560.3,322L1563.7,321.5L1567,321L1570.3,320.5L1573.6,320.2L1576.9,319.8L1580.3,319.6L1583.6,319.3L1586.9,319.1L1590.2,318.9L1593.5,318.6L1596.9,318.4L1600.2,318.1L1603.5,317.9L1606.8,317.5L1610.1,317.1L1613.5,316.7L1616.8,316.1L1620.1,315.5L1623.4,314.9L1626.7,314.3L1630.1,313.7L1633.4,313.1L1635.2,312.7L1635.2,312.7L1633.4,313.1L1630.1,313.7L1626.7,314.3L1623.4,314.9L1620.1,315.5L1616.8,317.1L1613.5,322.8L1610.1,329.7L1606.8,334.1L1603.5,334.4L1600.2,333.4L1596.9,331.7L1593.5,329.6L1590.2,327.5L1586.9,325.8L1583.6,325L1580.3,325.3L1576.9,325.9L1573.6,326.5L1570.3,327.1L1567,327.7L1563.7,328.4L1560.3,329L1557,329.6L1553.7,338.7L1550.4,348.1L1547.1,348.6L1543.7,348.5L1540.4,348.2L1537.1,347.6L1535.4,347.3L1533.8,346.9L1532.1,346.6L1530.5,346.3L1528.8,346.2L1527.1,346.1L1525.5,346.3Z"/></g><path fill="#fff" d="M1194,297.1L1259,299L1259,218.1L1194,204.6ZM1259,299L1324,365.7L1324,208.4L1259,218.1ZM1324,365.7L1389,362.9L1389,208L1324,208.4ZM1389,362.9L1454,332.5L1454,272.3L1389,208ZM1454,332.5L1519,357.5L1519,299.7L1454,272.3Z"/><path style="fill:url(#f100);stroke:url(#f100);stroke-width:8;stroke-linejoin:round" clip-path="url(#c10)" d="M1194,242.6L1259,261.9L1265.5,227.3L1200.5,215.9Z"/><path style="fill:url(#f101);stroke:url(#f101);stroke-width:8;stroke-linejoin:round" clip-path="url(#c10)" d="M1259,261.9L1324,285.1L1330.5,245.9L1265.5,227.3Z"/><path style="fill:url(#f102);stroke:url(#f102);stroke-width:8;stroke-linejoin:round" clip-path="url(#c10)" d="M1324,285.1L1389,304.1L1395.5,265.1L1330.5,245.9Z"/><path style="fill:url(#f103);stroke:url(#f103);stroke-width:8;stroke-linejoin:round" clip-path="url(#c10)" d="M1389,304.1L1454,326.8L1460.5,303.9L1395.5,265.1Z"/><path style="fill:url(#f104);stroke:url(#f104);stroke-width:8;stroke-linejoin:round" clip-path="url(#c10)" d="M1454,326.8L1519,347.5L1525.5,324.7L1460.5,303.9Z"/><g class="r" clip-path="url(#c10)"><path color="#36c898" d="M1200.5,215.9L1265.5,227.3"/><path color="#54cc7c" d="M1265.5,227.3L1330.5,283.8"/><path color="#10b2d5" d="M1330.5,283.8L1395.5,265.1"/><path color="#60cd72" d="M1395.5,265.1L1460.5,325.6"/><path color="#13b1d7" d="M1460.5,325.6L1525.5,346.3"/><path color="#35c799" d="M1199.4,216.7L1264.4,230.1"/><path color="#4acb85" d="M1264.4,230.1L1329.3,287.4"/><path color="#18aedb" d="M1329.3,287.4L1394.3,265.9"/><path color="#5ecd74" d="M1394.3,265.9L1459.3,325.8"/><path color="#13b1d7" d="M1459.3,325.8L1524.3,346.7"/><path color="#35c79a" d="M1198.5,216.9L1263.5,231.5"/><path color="#45cb89" d="M1263.5,231.5L1328.5,291.3"/><path color="#1da9e0" d="M1328.5,291.3L1393.5,265.2"/><path color="#62cd71" d="M1393.5,265.2L1458.5,326.1"/><path color="#13b0d7" d="M1458.5,326.1L1523.5,347.2"/><path color="#36c799" d="M1197.9,216.8L1262.9,232.3"/><path color="#43ca8b" d="M1262.9,232.3L1327.8,295.5"/><path color="#21a3e4" d="M1327.8,295.5L1392.8,263.5"/><path color="#6acd6a" d="M1392.8,263.5L1457.8,326.4"/><path color="#13b0d7" d="M1457.8,326.4L1522.8,347.7"/><path color="#36c898" d="M1197.4,216.5L1262.3,232.4"/><path color="#42ca8b" d="M1262.3,232.4L1327.3,299.5"/><path color="#259de7" d="M1327.3,299.5L1392.3,261.3"/><path color="#74cc62" d="M1392.3,261.3L1457.3,326.8"/><path color="#14b0d8" d="M1457.3,326.8L1522.3,348.3"/><path color="#37c897" d="M1197,216.2L1262,232.3"/><path color="#43ca8a" d="M1262,232.3L1327,302.7"/><path color="#2798ea" d="M1327,302.7L1392,259.4"/><path color="#7ecc5b" d="M1392,259.4L1457,327"/><path color="#14b0d8" d="M1457,327L1522,348.7"/><path color="#38c895" d="M1196.7,215.7L1261.7,232"/><path color="#44cb89" d="M1261.7,232L1326.7,306.4"/><path color="#2b92ee" d="M1326.7,306.4L1391.7,256.9"/><path color="#8acb52" d="M1391.7,256.9L1456.7,327.4"/><path color="#15afd9" d="M1456.7,327.4L1521.7,349.2"/><path color="#3ac994" d="M1196.3,215.1L1261.3,231.5"/><path color="#46cb87" d="M1261.3,231.5L1326.3,310.6"/><path color="#2d8bf4" d="M1326.3,310.6L1391.3,253.9"/><path color="#98ca47" d="M1391.3,253.9L1456.3,327.7"/><path color="#16afd9" d="M1456.3,327.7L1521.3,349.8"/><path color="#3cc991" d="M1196,214.3L1261,230.7"/><path color="#4acb85" d="M1261,230.7L1326,315.5"/><path color="#2f83f9" d="M1326,315.5L1391,250.2"/><path color="#a9c73b" d="M1391,250.2L1456,328.1"/><path color="#16aeda" d="M1456,328.1L1521,350.5"/><path color="#3fca8e" d="M1195.7,213.4L1260.7,229.6"/><path color="#4ecc81" d="M1260.7,229.6L1325.7,321.2"/><path color="#3678fd" d="M1325.7,321.2L1390.7,245.8"/><path color="#bcc42f" d="M1390.7,245.8L1455.7,328.6"/><path color="#17aeda" d="M1455.7,328.6L1520.7,351.3"/><path color="#41ca8c" d="M1195.5,212.8L1260.5,229"/><path color="#51cc7f" d="M1260.5,229L1325.5,324.3"/><path color="#3c72ff" d="M1325.5,324.3L1390.5,243.3"/><path color="#c6c22a" d="M1390.5,243.3L1455.5,328.9"/><path color="#18aedb" d="M1455.5,328.9L1520.5,351.7"/><path color="#43ca8a" d="M1195.3,212.2L1260.3,228.2"/><path color="#54cc7c" d="M1260.3,228.2L1325.3,327.7"/><path color="#416bfe" d="M1325.3,327.7L1390.3,240.5"/><path color="#d1bf27" d="M1390.3,240.5L1455.3,329.2"/><path color="#18addb" d="M1455.3,329.2L1520.3,352.2"/><path color="#46cb88" d="M1195.2,211.5L1260.2,227.3"/><path color="#58cc79" d="M1260.2,227.3L1325.2,331.4"/><path color="#4464fd" d="M1325.2,331.4L1390.2,237.5"/><path color="#dcbd29" d="M1390.2,237.5L1455.2,329.5"/><path color="#19addc" d="M1455.2,329.5L1520.2,352.7"/><path color="#49cb86" d="M1195,210.8L1260,226.4"/><path color="#5ccc76" d="M1260,226.4L1325,335.3"/><path color="#465dfa" d="M1325,335.3L1390,234.3"/><path color="#e6bb2d" d="M1390,234.3L1455,329.8"/><path color="#19addc" d="M1455,329.8L1520,353.2"/><path color="#4ccb83" d="M1194.8,209.9L1259.8,225.3"/><path color="#61cd72" d="M1259.8,225.3L1324.8,339.5"/><path color="#4756f6" d="M1324.8,339.5L1389.8,230.7"/><path color="#f1ba37" d="M1389.8,230.7L1454.8,330.2"/><path color="#1aacdd" d="M1454.8,330.2L1519.8,353.8"/><path color="#50cc80" d="M1194.7,209.1L1259.7,224.1"/><path color="#66cd6d" d="M1259.7,224.1L1324.7,344"/><path color="#484df1" d="M1324.7,344L1389.7,226.9"/><path color="#fabc3d" d="M1389.7,226.9L1454.7,330.6"/><path color="#1aacdd" d="M1454.7,330.6L1519.7,354.5"/><path color="#54cc7d" d="M1194.5,208.1L1259.5,222.8"/><path color="#6ccd68" d="M1259.5,222.8L1324.5,348.8"/><path color="#4745e9" d="M1324.5,348.8L1389.5,222.7"/><path color="#fec239" d="M1389.5,222.7L1454.5,331"/><path color="#1babde" d="M1454.5,331L1519.5,355.1"/><path color="#58cc79" d="M1194.3,207L1259.3,221.4"/><path color="#73cd63" d="M1259.3,221.4L1324.3,354"/><path color="#463bdd" d="M1324.3,354L1389.3,218.2"/><path color="#fdcb33" d="M1389.3,218.2L1454.3,331.5"/><path color="#1babde" d="M1454.3,331.5L1519.3,355.9"/><path color="#5dcc75" d="M1194.2,205.9L1259.2,219.8"/><path color="#7acc5d" d="M1259.2,219.8L1324.2,359.6"/><path color="#4433cc" d="M1324.2,359.6L1389.2,213.3"/><path color="#fad52e" d="M1389.2,213.3L1454.2,331.9"/><path color="#1caadf" d="M1454.2,331.9L1519.2,356.6"/><path color="#63cd70" d="M1194,204.6L1259,218.1"/><path color="#83cc57" d="M1259,218.1L1324,365.7"/><path color="#402bb7" d="M1324,365.7L1389,208"/><path color="#f6e028" d="M1389,208L1454,332.5"/><path color="#1ca9df" d="M1454,332.5L1519,357.5"/><path color="#0bb3d2" d="M1200.5,241.4L1265.5,260.7"/><path color="#07b5d0" d="M1265.5,260.7L1330.5,245.9"/><path color="#5bcc76" d="M1330.5,245.9L1395.5,302.9"/><path color="#0cb3d3" d="M1395.5,302.9L1460.5,303.9"/><path color="#2ac3a8" d="M1460.5,303.9L1525.5,324.7"/><path color="#14b0d8" d="M1199,244.9L1264,263.2"/><path color="#0eb2d4" d="M1264,263.2L1329,247.7"/><path color="#55cc7b" d="M1329,247.7L1394,306.6"/><path color="#15afd9" d="M1394,306.6L1459,302.2"/><path color="#2ec5a4" d="M1459,302.2L1524,323.4"/><path color="#19acdc" d="M1198.2,247.9L1263.2,265.3"/><path color="#14b0d8" d="M1263.2,265.3L1328.2,247.5"/><path color="#57cc7a" d="M1328.2,247.5L1393.2,309.9"/><path color="#1aabdd" d="M1393.2,309.9L1458.2,300.6"/><path color="#31c69f" d="M1458.2,300.6L1523.2,322.2"/><path color="#1da8e0" d="M1197.5,251.2L1262.5,267.6"/><path color="#18addb" d="M1262.5,267.6L1327.5,246.3"/><path color="#5ccc75" d="M1327.5,246.3L1392.5,313.4"/><path color="#1fa6e1" d="M1392.5,313.4L1457.5,298.8"/><path color="#35c79a" d="M1457.5,298.8L1522.5,320.8"/><path color="#21a3e3" d="M1197,254.4L1262,269.8"/><path color="#1babde" d="M1262,269.8L1327,244.6"/><path color="#64cd6f" d="M1327,244.6L1392,316.8"/><path color="#22a1e4" d="M1392,316.8L1457,297.1"/><path color="#39c895" d="M1457,297.1L1522,319.4"/><path color="#249ee6" d="M1196.5,258.3L1261.5,272.4"/><path color="#1ea7e1" d="M1261.5,272.4L1326.5,242.1"/><path color="#6fcd66" d="M1326.5,242.1L1391.5,321"/><path color="#259be8" d="M1391.5,321L1456.5,294.9"/><path color="#3fca8e" d="M1456.5,294.9L1521.5,317.6"/><path color="#2699e9" d="M1196.2,261.4L1261.2,274.6"/><path color="#20a4e3" d="M1261.2,274.6L1326.2,239.9"/><path color="#7acc5d" d="M1326.2,239.9L1391.2,324.4"/><path color="#2896eb" d="M1391.2,324.4L1456.2,293.1"/><path color="#45cb89" d="M1456.2,293.1L1521.2,316.2"/><path color="#2a93ed" d="M1195.8,265L1260.8,277"/><path color="#23a0e5" d="M1260.8,277L1325.8,237.1"/><path color="#88cb53" d="M1325.8,237.1L1390.8,328.2"/><path color="#2c90f0" d="M1390.8,328.2L1455.8,291.1"/><path color="#4dcc82" d="M1455.8,291.1L1520.8,314.6"/><path color="#2d8df3" d="M1195.5,269.1L1260.5,279.9"/><path color="#259ce7" d="M1260.5,279.9L1325.5,233.7"/><path color="#98ca47" d="M1325.5,233.7L1390.5,332.7"/><path color="#2d88f6" d="M1390.5,332.7L1455.5,288.7"/><path color="#57cc7a" d="M1455.5,288.7L1520.5,312.7"/><path color="#2e84f8" d="M1195.2,273.9L1260.2,283.1"/><path color="#2797eb" d="M1260.2,283.1L1325.2,229.7"/><path color="#aac73a" d="M1325.2,229.7L1390.2,337.8"/><path color="#307ffb" d="M1390.2,337.8L1455.2,285.9"/><path color="#63cd70" d="M1455.2,285.9L1520.2,310.5"/><path color="#337afd" d="M1194.8,279.4L1259.8,286.9"/><path color="#2b91ef" d="M1259.8,286.9L1324.8,224.8"/><path color="#bfc32d" d="M1324.8,224.8L1389.8,343.8"/><path color="#3a74fe" d="M1389.8,343.8L1454.8,282.7"/><path color="#71cd64" d="M1454.8,282.7L1519.8,307.9"/><path color="#3974fe" d="M1194.7,282.4L1259.7,289"/><path color="#2c8ef2" d="M1259.7,289L1324.7,222"/><path color="#cac129" d="M1324.7,222L1389.7,347.1"/><path color="#3f6dfe" d="M1389.7,347.1L1454.7,280.9"/><path color="#7acc5d" d="M1454.7,280.9L1519.7,306.5"/><path color="#3f6efe" d="M1194.5,285.7L1259.5,291.2"/><path color="#2d8af5" d="M1259.5,291.2L1324.5,219"/><path color="#d5be28" d="M1324.5,219L1389.5,350.6"/><path color="#4367fd" d="M1389.5,350.6L1454.5,279"/><path color="#83cc57" d="M1454.5,279L1519.5,305"/><path color="#4367fd" d="M1194.3,289.2L1259.3,293.6"/><path color="#2e86f7" d="M1259.3,293.6L1324.3,215.8"/><path color="#e1bc2b" d="M1324.3,215.8L1389.3,354.4"/><path color="#4660fb" d="M1389.3,354.4L1454.3,276.9"/><path color="#8dcb4f" d="M1454.3,276.9L1519.3,303.3"/><path color="#4660fb" d="M1194.2,293L1259.2,296.2"/><path color="#2f81fa" d="M1259.2,296.2L1324.2,212.2"/><path color="#ecba32" d="M1324.2,212.2L1389.2,358.5"/><path color="#4758f8" d="M1389.2,358.5L1454.2,274.7"/><path color="#98ca47" d="M1454.2,274.7L1519.2,301.6"/><path color="#4759f8" d="M1194,297.1L1259,299"/><path color="#327cfc" d="M1259,299L1324,208.4"/><path color="#f7ba3c" d="M1324,208.4L1389,362.9"/><path color="#4850f3" d="M1389,362.9L1454,272.3"/><path color="#a3c83f" d="M1454,272.3L1519,299.7"/></g><path class="a" d="M1194,116.7L1194,348L1519,450L1934,372.8M1194,348l-12.9,-2.7M1194,232.3l-12.9,-2.7M1194,116.7l-12.9,-2.7M1194,348l-13.4,3.6M1356.5,399l-13.4,3.6M1519,450l-13.4,3.6M1519,450l12.4,3.8M1726.5,411.4l12.4,3.8M1934,372.8l12.4,3.8"/><text x="1171.5" y="357.5" text-anchor="end">-50</text><text x="1171.5" y="244.8" text-anchor="end">0</text><text x="1171.5" y="129.2" text-anchor="end">50</text><text x="1160" y="395.5" text-anchor="middle">0</text><text x="1303.5" y="449" text-anchor="middle">0.5</text><text x="1483" y="501" text-anchor="middle">1</text><text x="1547" y="504" text-anchor="middle">0</text><text x="1756.5" y="464.4" text-anchor="middle">5</text><text x="1981" y="423.8" text-anchor="middle">10</text><text x="1298" y="544" text-anchor="middle" font-style="italic">ζ</text><text x="1783" y="548" text-anchor="middle"><tspan font-style="italic">t</tspan>(s)</text><text x="1037" y="204.5"><tspan font-style="italic">u</tspan><tspan dx="4" dy="23" font-size="36">12</tspan></text></g><g><path class="g" d="M182,887L601.5,808M601.5,808L922,911.8M182,828.4L601.5,749.4M601.5,749.4L922,853.2M182,769.7L601.5,690.7M601.5,690.7L922,794.5M182,711.1L601.5,632.1M601.5,632.1L922,735.9M391.8,885.3L391.8,654M601.5,845.8L601.5,614.5M761.8,897.7L761.8,666.4M922,949.6L922,718.3M391.8,885.3L714.5,988.2M601.5,845.8L922,949.6M182,924.8L601.5,845.8M344.5,975.8L761.8,897.7"/><g class="s" clip-path="url(#c01)"><path style="fill:url(#g010);stroke:url(#g010)" d="M189.2,893.8L190.9,895.3L192.6,895.8L194.2,895.8L195.9,895.6L197.6,895.2L199.3,894.9L202.6,894.1L206,893.2L209.4,892.4L212.7,891.5L216.1,890.6L219.4,889.8L222.8,888.9L226.1,888.1L229.5,887.3L232.8,886.5L236.2,885.7L239.6,885L242.9,884.3L246.3,883.7L249.6,882.8L253,881.7L256.3,880.4L259.7,879L263,877.5L266.4,875.9L269.8,874.4L273.1,872.8L276.5,871.3L279.8,869.9L283.2,868.6L286.5,867.5L289.9,866.7L293.3,866L296.6,865.4L300,864.8L303.3,864.1L306.7,863.5L307.8,863.3L307.8,863.3L306.7,863.5L303.3,864.1L300,864.8L296.6,865.4L293.3,866L289.9,866.7L286.5,867.5L283.2,868.6L279.8,869.9L276.5,871.3L273.1,872.8L269.8,874.4L266.4,875.9L263,877.5L259.7,879L256.3,880.4L253,881.7L249.6,882.8L246.3,883.7L242.9,884.3L239.6,885L236.2,885.7L232.8,886.5L229.5,887.3L226.1,888.1L222.8,888.9L219.4,889.8L216.1,890.6L212.7,891.5L209.4,892.4L206,893.2L202.6,894.1L199.3,894.9L197.6,895.3L195.9,895.7L194.2,896.1L192.6,896.5L190.9,896.9L189.2,897.2Z"/><path color="#4852f4" d="M303.3,864.1L368.1,884.6L371.4,884L306.7,863.5Z"/><path color="#4852f4" d="M300,864.8L364.7,885.3L368.1,884.6L303.3,864.1Z"/><path color="#4852f4" d="M296.6,865.4L361.4,885.9L364.7,885.3L300,864.8Z"/><path color="#4852f4" d="M293.3,866L358,886.5L361.4,885.9L296.6,865.4Z"/><path color="#4852f4" d="M289.9,866.7L354.7,888L358,886.5L293.3,866Z"/><path color="#4852f4" d="M286.5,867.5L351.3,898.2L354.7,888L289.9,866.7Z"/><path color="#4851f3" d="M283.2,868.6L348,912.5L351.3,898.2L286.5,867.5Z"/><path color="#4850f3" d="M279.8,869.9L344.6,923.1L348,912.5L283.2,868.6Z"/><path color="#484ff2" d="M276.5,871.3L341.3,924.9L344.6,923.1L279.8,869.9Z"/><path color="#484ef1" d="M273.1,872.8L337.9,925.5L341.3,924.9L276.5,871.3Z"/><path color="#484cf0" d="M269.8,874.4L334.6,926.1L337.9,925.5L273.1,872.8Z"/><path color="#484bee" d="M266.4,875.9L331.2,926.7L334.6,926.1L269.8,874.4Z"/><path color="#4849ed" d="M263,877.5L327.9,927.4L331.2,926.7L266.4,875.9Z"/><path color="#4848ec" d="M259.7,879L324.5,928L327.9,927.4L263,877.5Z"/><path color="#4746eb" d="M256.3,880.4L321.2,928.6L324.5,928L259.7,879Z"/><path color="#4745ea" d="M253,881.7L317.8,929.3L321.2,928.6L256.3,880.4Z"/><path color="#4745e9" d="M249.6,882.8L314.5,929.9L317.8,929.3L253,881.7Z"/><path color="#4744e9" d="M246.3,883.7L311.1,930.5L314.5,929.9L249.6,882.8Z"/><path color="#4744e8" d="M242.9,884.3L307.8,931.1L311.1,930.5L246.3,883.7Z"/><path color="#4744e8" d="M239.6,885L304.4,931.8L307.8,931.1L242.9,884.3Z"/><path color="#4744e8" d="M236.2,885.7L301.1,932.4L304.4,931.8L239.6,885Z"/><path color="#4744e8" d="M232.8,886.5L297.7,933L301.1,932.4L236.2,885.7Z"/><path color="#4744e8" d="M229.5,887.3L294.4,933.7L297.7,933L232.8,886.5Z"/><path color="#4743e7" d="M226.1,888.1L291,934.3L294.4,933.7L229.5,887.3Z"/><path color="#4743e7" d="M222.8,888.9L287.7,934.9L291,934.3L226.1,888.1Z"/><path color="#4743e7" d="M219.4,889.8L284.3,935.5L287.7,934.9L222.8,888.9Z"/><path color="#4742e6" d="M216.1,890.6L281,936.2L284.3,935.5L219.4,889.8Z"/><path color="#4742e6" d="M212.7,891.5L277.6,936.8L281,936.2L216.1,890.6Z"/><path color="#4742e6" d="M209.4,892.4L274.3,937.4L277.6,936.8L212.7,891.5Z"/><path color="#4741e5" d="M206,893.2L270.9,938.1L274.3,937.4L209.4,892.4Z"/><path color="#4741e5" d="M202.6,894.1L267.6,938.7L270.9,938.1L206,893.2Z"/><path color="#4741e4" d="M199.3,894.9L264.2,939.3L267.6,938.7L202.6,894.1Z"/><path color="#4740e4" d="M197.6,895.3L262.6,939.6L264.2,939.3L199.3,894.9Z"/><path color="#4740e4" d="M195.9,895.7L260.9,940L262.6,939.6L197.6,895.3Z"/><path color="#4740e4" d="M194.2,896.1L259.2,940.3L260.9,940L195.9,895.7Z"/><path color="#4740e4" d="M192.6,896.5L257.5,940.6L259.2,940.3L194.2,896.1Z"/><path color="#4740e4" d="M190.9,896.9L255.9,940.9L257.5,940.6L192.6,896.5Z"/><path color="#4740e4" d="M189.2,897.2L254.2,941.2L255.9,940.9L190.9,896.9Z"/><path color="#4852f4" d="M307.8,863.3L372.6,883.8L665.6,828.7L601.5,808Z"/><path color="#4852f4" d="M306.7,863.5L371.4,884L372.6,883.8L307.8,863.3Z"/><path color="#4852f4" d="M303.3,864.1L368.1,874.9L371.4,884L306.7,863.5Z"/><path color="#4852f4" d="M300,864.8L364.7,856.5L368.1,874.9L303.3,864.1Z"/><path color="#4852f4" d="M296.6,865.4L361.4,856.6L364.7,856.5L300,864.8Z"/><path color="#4852f4" d="M293.3,866L358,857.3L361.4,856.6L296.6,865.4Z"/><path color="#4852f4" d="M289.9,866.7L354.7,858.1L358,857.3L293.3,866Z"/><path color="#4852f4" d="M286.5,867.5L351.3,858.9L354.7,858.1L289.9,866.7Z"/><path color="#4851f3" d="M283.2,868.6L348,859.8L351.3,858.9L286.5,867.5Z"/><path color="#4850f3" d="M279.8,869.9L344.6,860.7L348,859.8L283.2,868.6Z"/><path color="#484ff2" d="M276.5,871.3L341.3,861.7L344.6,860.7L279.8,869.9Z"/><path color="#484ef1" d="M273.1,872.8L337.9,862.6L341.3,861.7L276.5,871.3Z"/><path color="#484cf0" d="M269.8,874.4L334.6,863.6L337.9,862.6L273.1,872.8Z"/><path color="#484bee" d="M266.4,875.9L331.2,864.6L334.6,863.6L269.8,874.4Z"/><path color="#4849ed" d="M263,877.5L327.9,865.6L331.2,864.6L266.4,875.9Z"/><path color="#4848ec" d="M259.7,879L324.5,866.7L327.9,865.6L263,877.5Z"/><path color="#4746eb" d="M256.3,880.4L321.2,867.7L324.5,866.7L259.7,879Z"/><path color="#4745ea" d="M253,881.7L317.8,868.7L321.2,867.7L256.3,880.4Z"/><path color="#4745e9" d="M249.6,882.8L314.5,869.7L317.8,868.7L253,881.7Z"/><path color="#4744e9" d="M246.3,883.7L311.1,870.6L314.5,869.7L249.6,882.8Z"/><path color="#4744e8" d="M242.9,884.3L307.8,871.6L311.1,870.6L246.3,883.7Z"/><path color="#4744e8" d="M239.6,885L304.4,872.5L307.8,871.6L242.9,884.3Z"/><path color="#4744e8" d="M236.2,885.7L301.1,873.4L304.4,872.5L239.6,885Z"/><path color="#4744e8" d="M232.8,886.5L297.7,874.2L301.1,873.4L236.2,885.7Z"/><path color="#4744e8" d="M229.5,887.3L294.4,874.9L297.7,874.2L232.8,886.5Z"/><path color="#4743e7" d="M226.1,888.1L291,875.6L294.4,874.9L229.5,887.3Z"/><path color="#4743e7" d="M222.8,888.9L287.7,876.3L291,875.6L226.1,888.1Z"/><path color="#4743e7" d="M219.4,889.8L284.3,877.3L287.7,876.3L222.8,888.9Z"/><path color="#4742e6" d="M216.1,890.6L281,878.6L284.3,877.3L219.4,889.8Z"/><path color="#4742e6" d="M212.7,891.5L277.6,880.1L281,878.6L216.1,890.6Z"/><path color="#4742e6" d="M209.4,892.4L274.3,881.7L277.6,880.1L212.7,891.5Z"/><path color="#4741e5" d="M206,893.2L270.9,883.3L274.3,881.7L209.4,892.4Z"/><path color="#4741e5" d="M202.6,894.1L267.6,884.8L270.9,883.3L206,893.2Z"/><path color="#4741e4" d="M199.3,894.9L264.2,886.1L267.6,884.8L202.6,894.1Z"/><path color="#4741e4" d="M197.6,895.2L262.6,886.7L264.2,886.1L199.3,894.9Z"/><path color="#4741e4" d="M195.9,895.6L260.9,887.1L262.6,886.7L197.6,895.2Z"/><path color="#4741e5" d="M194.2,895.8L259.2,887.5L260.9,887.1L195.9,895.6Z"/><path color="#4741e5" d="M192.6,895.8L257.5,887.7L259.2,887.5L194.2,895.8Z"/><path color="#4742e7" d="M190.9,895.3L255.9,887.9L257.5,887.7L192.6,895.8Z"/><path color="#4745ea" d="M189.2,893.8L254.2,887.7L255.9,887.9L190.9,895.3Z"/><path style="fill:url(#g011);stroke:url(#g011)" d="M254.2,887.7L255.9,887.9L257.5,887.7L259.2,887.5L260.9,887.1L262.6,886.7L264.2,886.1L267.6,884.8L270.9,883.3L274.3,881.7L277.6,880.1L281,878.6L284.3,877.3L287.7,876.3L291,875.6L294.4,874.9L297.7,874.2L301.1,873.4L304.4,872.5L307.8,871.6L311.1,870.6L314.5,869.7L317.8,868.7L321.2,867.7L324.5,866.7L327.9,865.6L331.2,864.6L334.6,863.6L337.9,862.6L341.3,861.7L344.6,860.7L348,859.8L351.3,858.9L354.7,858.1L358,857.3L361.4,856.6L364.7,856.5L368.1,874.9L371.4,884L372.6,883.8L372.6,883.8L371.4,884L368.1,884.6L364.7,885.3L361.4,885.9L358,886.5L354.7,888L351.3,898.2L348,912.5L344.6,923.1L341.3,924.9L337.9,925.5L334.6,926.1L331.2,926.7L327.9,927.4L324.5,928L321.2,928.6L317.8,929.3L314.5,929.9L311.1,930.5L307.8,931.1L304.4,931.8L301.1,932.4L297.7,933L294.4,933.7L291,934.3L287.7,934.9L284.3,935.5L281,936.2L277.6,936.8L274.3,937.4L270.9,938.1L267.6,938.7L264.2,939.3L262.6,939.6L260.9,940L259.2,940.3L257.5,940.6L255.9,940.9L254.2,941.2Z"/><path color="#4852f4" d="M368.1,884.6L432.8,905.1L436.1,904.5L371.4,884Z"/><path color="#4852f4" d="M364.7,885.3L429.5,905.8L432.8,905.1L368.1,884.6Z"/><path color="#4852f4" d="M361.4,885.9L426.1,906.4L429.5,905.8L364.7,885.3Z"/><path color="#4852f4" d="M358,886.5L422.8,907L426.1,906.4L361.4,885.9Z"/><path color="#4851f3" d="M354.7,888L419.4,908.5L422.8,907L358,886.5Z"/><path color="#4742e6" d="M351.3,898.2L416.1,918.7L419.4,908.5L354.7,888Z"/><path color="#422fc3" d="M348,912.5L412.7,933L416.1,918.7L351.3,898.2Z"/><path color="#3f28ad" d="M344.6,923.1L409.4,943.6L412.7,933L348,912.5Z"/><path color="#3f28ad" d="M341.3,924.9L406.1,945.3L409.4,943.6L344.6,923.1Z"/><path color="#3f28ad" d="M337.9,925.5L402.7,946L406.1,945.3L341.3,924.9Z"/><path color="#3f28ad" d="M334.6,926.1L399.4,946.6L402.7,946L337.9,925.5Z"/><path color="#3f28ad" d="M331.2,926.7L396,947.2L399.4,946.6L334.6,926.1Z"/><path color="#3f28ad" d="M327.9,927.4L392.7,947.8L396,947.2L331.2,926.7Z"/><path color="#3f28ad" d="M324.5,928L389.4,948.5L392.7,947.8L327.9,927.4Z"/><path color="#3f28ad" d="M321.2,928.6L386,949.1L389.4,948.5L324.5,928Z"/><path color="#3f28ad" d="M317.8,929.3L382.7,949.7L386,949.1L321.2,928.6Z"/><path color="#3f28ad" d="M314.5,929.9L379.3,950.3L382.7,949.7L317.8,929.3Z"/><path color="#3f28ad" d="M311.1,930.5L376,951L379.3,950.3L314.5,929.9Z"/><path color="#3f28ad" d="M307.8,931.1L372.7,951.6L376,951L311.1,930.5Z"/><path color="#3f28ad" d="M304.4,931.8L369.3,952.2L372.7,951.6L307.8,931.1Z"/><path color="#3f28ad" d="M301.1,932.4L366,952.8L369.3,952.2L304.4,931.8Z"/><path color="#3f28ad" d="M297.7,933L362.6,953.5L366,952.8L301.1,932.4Z"/><path color="#3f28ad" d="M294.4,933.7L359.3,954.1L362.6,953.5L297.7,933Z"/><path color="#3f28ad" d="M291,934.3L355.9,954.7L359.3,954.1L294.4,933.7Z"/><path color="#3f28ad" d="M287.7,934.9L352.6,955.4L355.9,954.7L291,934.3Z"/><path color="#3f28ad" d="M284.3,935.5L349.3,956L352.6,955.4L287.7,934.9Z"/><path color="#3f28ad" d="M281,936.2L345.9,956.6L349.3,956L284.3,935.5Z"/><path color="#3f28ad" d="M277.6,936.8L342.6,957.2L345.9,956.6L281,936.2Z"/><path color="#3f28ad" d="M274.3,937.4L339.2,957.9L342.6,957.2L277.6,936.8Z"/><path color="#3f28ad" d="M270.9,938.1L335.9,958.5L339.2,957.9L274.3,937.4Z"/><path color="#3f28ad" d="M267.6,938.7L332.6,959.1L335.9,958.5L270.9,938.1Z"/><path color="#3f28ad" d="M264.2,939.3L329.2,959.7L332.6,959.1L267.6,938.7Z"/><path color="#3f28ad" d="M262.6,939.6L327.5,960L329.2,959.7L264.2,939.3Z"/><path color="#3f28ad" d="M260.9,940L325.9,960.4L327.5,960L262.6,939.6Z"/><path color="#3f28ad" d="M259.2,940.3L324.2,960.7L325.9,960.4L260.9,940Z"/><path color="#3f28ad" d="M257.5,940.6L322.5,961L324.2,960.7L259.2,940.3Z"/><path color="#3f28ad" d="M255.9,940.9L320.9,961.3L322.5,961L257.5,940.6Z"/><path color="#3f28ad" d="M254.2,941.2L319.2,961.6L320.9,961.3L255.9,940.9Z"/><path color="#4852f4" d="M372.6,883.8L437.3,904.3L729.7,849.5L665.6,828.7Z"/><path color="#4852f4" d="M371.4,884L436.1,904.5L437.3,904.3L372.6,883.8Z"/><path color="#4562fc" d="M368.1,874.9L432.8,883.7L436.1,904.5L371.4,884Z"/><path color="#2f82fa" d="M364.7,856.5L429.5,842.4L432.8,883.7L368.1,874.9Z"/><path color="#2f82f9" d="M361.4,856.6L426.1,842L429.5,842.4L364.7,856.5Z"/><path color="#2f82f9" d="M358,857.3L422.8,842.8L426.1,842L361.4,856.6Z"/><path color="#2f82fa" d="M354.7,858.1L419.4,843.7L422.8,842.8L358,857.3Z"/><path color="#2f82fa" d="M351.3,858.9L416.1,844.7L419.4,843.7L354.7,858.1Z"/><path color="#2f81fa" d="M348,859.8L412.7,845.8L416.1,844.7L351.3,858.9Z"/><path color="#2f81fa" d="M344.6,860.7L409.4,847L412.7,845.8L348,859.8Z"/><path color="#2f80fa" d="M341.3,861.7L406.1,848.3L409.4,847L344.6,860.7Z"/><path color="#3080fb" d="M337.9,862.6L402.7,849.6L406.1,848.3L341.3,861.7Z"/><path color="#307ffb" d="M334.6,863.6L399.4,850.9L402.7,849.6L337.9,862.6Z"/><path color="#307ffb" d="M331.2,864.6L396,852.3L399.4,850.9L334.6,863.6Z"/><path color="#317efb" d="M327.9,865.6L392.7,853.7L396,852.3L331.2,864.6Z"/><path color="#317dfc" d="M324.5,866.7L389.4,855.1L392.7,853.7L327.9,865.6Z"/><path color="#317dfc" d="M321.2,867.7L386,856.5L389.4,855.1L324.5,866.7Z"/><path color="#327cfc" d="M317.8,868.7L382.7,857.9L386,856.5L321.2,867.7Z"/><path color="#327cfc" d="M314.5,869.7L379.3,859.3L382.7,857.9L317.8,868.7Z"/><path color="#337bfc" d="M311.1,870.6L376,860.6L379.3,859.3L314.5,869.7Z"/><path color="#337afd" d="M307.8,871.6L372.7,861.8L376,860.6L311.1,870.6Z"/><path color="#347afd" d="M304.4,872.5L369.3,863L372.7,861.8L307.8,871.6Z"/><path color="#3479fd" d="M301.1,873.4L366,864.1L369.3,863L304.4,872.5Z"/><path color="#3479fd" d="M297.7,874.2L362.6,865.1L366,864.1L301.1,873.4Z"/><path color="#3579fd" d="M294.4,874.9L359.3,866L362.6,865.1L297.7,874.2Z"/><path color="#3579fd" d="M291,875.6L355.9,866.8L359.3,866L294.4,874.9Z"/><path color="#3579fd" d="M287.7,876.3L352.6,867.5L355.9,866.8L291,875.6Z"/><path color="#3678fd" d="M284.3,877.3L349.3,869.2L352.6,867.5L287.7,876.3Z"/><path color="#3777fe" d="M281,878.6L345.9,871.9L349.3,869.2L284.3,877.3Z"/><path color="#3875fe" d="M277.6,880.1L342.6,875.4L345.9,871.9L281,878.6Z"/><path color="#3a74fe" d="M274.3,881.7L339.2,879.4L342.6,875.4L277.6,880.1Z"/><path color="#3b72ff" d="M270.9,883.3L335.9,883.5L339.2,879.4L274.3,881.7Z"/><path color="#3d70ff" d="M267.6,884.8L332.6,887.5L335.9,883.5L270.9,883.3Z"/><path color="#3e6fff" d="M264.2,886.1L329.2,891.2L332.6,887.5L267.6,884.8Z"/><path color="#3e6fff" d="M262.6,886.7L327.5,892.8L329.2,891.2L264.2,886.1Z"/><path color="#3f6fff" d="M260.9,887.1L325.9,894.2L327.5,892.8L262.6,886.7Z"/><path color="#3f6fff" d="M259.2,887.5L324.2,895.3L325.9,894.2L260.9,887.1Z"/><path color="#3e6fff" d="M257.5,887.7L322.5,896.2L324.2,895.3L259.2,887.5Z"/><path color="#3e6fff" d="M255.9,887.9L320.9,896.8L322.5,896.2L257.5,887.7Z"/><path color="#3d70ff" d="M254.2,887.7L319.2,897.1L320.9,896.8L255.9,887.9Z"/><path style="fill:url(#g012);stroke:url(#g012)" d="M319.2,897.1L320.9,896.8L322.5,896.2L324.2,895.3L325.9,894.2L327.5,892.8L329.2,891.2L332.6,887.5L335.9,883.5L339.2,879.4L342.6,875.4L345.9,871.9L349.3,869.2L352.6,867.5L355.9,866.8L359.3,866L362.6,865.1L366,864.1L369.3,863L372.7,861.8L376,860.6L379.3,859.3L382.7,857.9L386,856.5L389.4,855.1L392.7,853.7L396,852.3L399.4,850.9L402.7,849.6L406.1,848.3L409.4,847L412.7,845.8L416.1,844.7L419.4,843.7L422.8,842.8L426.1,842L429.5,842.4L432.8,883.7L436.1,904.5L437.3,904.3L437.3,904.3L436.1,904.5L432.8,905.1L429.5,905.8L426.1,906.4L422.8,907L419.4,908.5L416.1,918.7L412.7,933L409.4,943.6L406.1,945.3L402.7,946L399.4,946.6L396,947.2L392.7,947.8L389.4,948.5L386,949.1L382.7,949.7L379.3,950.3L376,951L372.7,951.6L369.3,952.2L366,952.8L362.6,953.5L359.3,954.1L355.9,954.7L352.6,955.4L349.3,956L345.9,956.6L342.6,957.2L339.2,957.9L335.9,958.5L332.6,959.1L329.2,959.7L327.5,960L325.9,960.4L324.2,960.7L322.5,961L320.9,961.3L319.2,961.6Z"/><path color="#4852f4" d="M432.8,905.1L497.5,925.6L500.9,925L436.1,904.5Z"/><path color="#4852f4" d="M429.5,905.8L494.2,926.3L497.5,925.6L432.8,905.1Z"/><path color="#4852f4" d="M426.1,906.4L490.9,926.9L494.2,926.3L429.5,905.8Z"/><path color="#4852f4" d="M422.8,907L487.5,927.5L490.9,926.9L426.1,906.4Z"/><path color="#4851f3" d="M419.4,908.5L484.2,929L487.5,927.5L422.8,907Z"/><path color="#4742e6" d="M416.1,918.7L480.9,939.2L484.2,929L419.4,908.5Z"/><path color="#422fc3" d="M412.7,933L477.5,953.5L480.9,939.2L416.1,918.7Z"/><path color="#3f28ad" d="M409.4,943.6L474.2,964.1L477.5,953.5L412.7,933Z"/><path color="#3f28ad" d="M406.1,945.3L470.9,965.8L474.2,964.1L409.4,943.6Z"/><path color="#3f28ad" d="M402.7,946L467.5,966.4L470.9,965.8L406.1,945.3Z"/><path color="#3f28ad" d="M399.4,946.6L464.2,967.1L467.5,966.4L402.7,946Z"/><path color="#3f28ad" d="M396,947.2L460.9,967.7L464.2,967.1L399.4,946.6Z"/><path color="#3f28ad" d="M392.7,947.8L457.5,968.3L460.9,967.7L396,947.2Z"/><path color="#3f28ad" d="M389.4,948.5L454.2,968.9L457.5,968.3L392.7,947.8Z"/><path color="#3f28ad" d="M386,949.1L450.9,969.6L454.2,968.9L389.4,948.5Z"/><path color="#3f28ad" d="M382.7,949.7L447.5,970.2L450.9,969.6L386,949.1Z"/><path color="#3f28ad" d="M379.3,950.3L444.2,970.8L447.5,970.2L382.7,949.7Z"/><path color="#3f28ad" d="M376,951L440.9,971.4L444.2,970.8L379.3,950.3Z"/><path color="#3f28ad" d="M372.7,951.6L437.5,972L440.9,971.4L376,951Z"/><path color="#3f28ad" d="M369.3,952.2L434.2,972.7L437.5,972L372.7,951.6Z"/><path color="#3f28ad" d="M366,952.8L430.9,973.3L434.2,972.7L369.3,952.2Z"/><path color="#3f28ad" d="M362.6,953.5L427.5,973.9L430.9,973.3L366,952.8Z"/><path color="#3f28ad" d="M359.3,954.1L424.2,974.5L427.5,973.9L362.6,953.5Z"/><path color="#3f28ad" d="M355.9,954.7L420.8,975.2L424.2,974.5L359.3,954.1Z"/><path color="#3f28ad" d="M352.6,955.4L417.5,975.8L420.8,975.2L355.9,954.7Z"/><path color="#3f28ad" d="M349.3,956L414.2,976.4L417.5,975.8L352.6,955.4Z"/><path color="#3f28ad" d="M345.9,956.6L410.8,977L414.2,976.4L349.3,956Z"/><path color="#3f28ad" d="M342.6,957.2L407.5,977.7L410.8,977L345.9,956.6Z"/><path color="#3f28ad" d="M339.2,957.9L404.2,978.3L407.5,977.7L342.6,957.2Z"/><path color="#3f28ad" d="M335.9,958.5L400.8,978.9L404.2,978.3L339.2,957.9Z"/><path color="#3f28ad" d="M332.6,959.1L397.5,979.5L400.8,978.9L335.9,958.5Z"/><path color="#3f28ad" d="M329.2,959.7L394.2,980.2L397.5,979.5L332.6,959.1Z"/><path color="#3f28ad" d="M327.5,960L392.5,980.5L394.2,980.2L329.2,959.7Z"/><path color="#3f28ad" d="M325.9,960.4L390.8,980.8L392.5,980.5L327.5,960Z"/><path color="#3f28ad" d="M324.2,960.7L389.2,981.1L390.8,980.8L325.9,960.4Z"/><path color="#3f28ad" d="M322.5,961L387.5,981.4L389.2,981.1L324.2,960.7Z"/><path color="#3f28ad" d="M320.9,961.3L385.8,981.7L387.5,981.4L322.5,961Z"/><path color="#3f28ad" d="M319.2,961.6L384.2,982L385.8,981.7L320.9,961.3Z"/><path color="#4852f4" d="M437.3,904.3L502,924.8L793.8,870.3L729.7,849.5Z"/><path color="#4852f4" d="M436.1,904.5L500.9,925L502,924.8L437.3,904.3Z"/><path color="#3875fe" d="M432.8,883.7L497.5,904.2L500.9,925L436.1,904.5Z"/><path color="#14b0d8" d="M429.5,842.4L494.2,862.9L497.5,904.2L432.8,883.7Z"/><path color="#12b1d6" d="M426.1,842L490.9,862.4L494.2,862.9L429.5,842.4Z"/><path color="#12b1d6" d="M422.8,842.8L487.5,863.2L490.9,862.4L426.1,842Z"/><path color="#13b1d7" d="M419.4,843.7L484.2,864.2L487.5,863.2L422.8,842.8Z"/><path color="#13b0d7" d="M416.1,844.7L480.9,865.2L484.2,864.2L419.4,843.7Z"/><path color="#14b0d8" d="M412.7,845.8L477.5,866.3L480.9,865.2L416.1,844.7Z"/><path color="#15afd9" d="M409.4,847L474.2,867.5L477.5,866.3L412.7,845.8Z"/><path color="#16aeda" d="M406.1,848.3L470.9,868.7L474.2,867.5L409.4,847Z"/><path color="#18aedb" d="M402.7,849.6L467.5,870.1L470.9,868.7L406.1,848.3Z"/><path color="#19addc" d="M399.4,850.9L464.2,871.4L467.5,870.1L402.7,849.6Z"/><path color="#1aacdd" d="M396,852.3L460.9,872.8L464.2,871.4L399.4,850.9Z"/><path color="#1babde" d="M392.7,853.7L457.5,874.2L460.9,872.8L396,852.3Z"/><path color="#1baade" d="M389.4,855.1L454.2,875.6L457.5,874.2L392.7,853.7Z"/><path color="#1ca9df" d="M386,856.5L450.9,877L454.2,875.6L389.4,855.1Z"/><path color="#1da8e0" d="M382.7,857.9L447.5,878.4L450.9,877L386,856.5Z"/><path color="#1ea7e1" d="M379.3,859.3L444.2,879.7L447.5,878.4L382.7,857.9Z"/><path color="#1ea7e1" d="M376,860.6L440.9,881L444.2,879.7L379.3,859.3Z"/><path color="#1fa6e2" d="M372.7,861.8L437.5,882.3L440.9,881L376,860.6Z"/><path color="#20a5e2" d="M369.3,863L434.2,883.4L437.5,882.3L372.7,861.8Z"/><path color="#20a5e3" d="M366,864.1L430.9,884.5L434.2,883.4L369.3,863Z"/><path color="#20a4e3" d="M362.6,865.1L427.5,885.5L430.9,884.5L366,864.1Z"/><path color="#21a4e3" d="M359.3,866L424.2,886.4L427.5,885.5L362.6,865.1Z"/><path color="#21a3e3" d="M355.9,866.8L420.8,887.2L424.2,886.4L359.3,866Z"/><path color="#21a3e3" d="M352.6,867.5L417.5,887.9L420.8,887.2L355.9,866.8Z"/><path color="#22a2e4" d="M349.3,869.2L414.2,889.6L417.5,887.9L352.6,867.5Z"/><path color="#249fe5" d="M345.9,871.9L410.8,892.4L414.2,889.6L349.3,869.2Z"/><path color="#259be7" d="M342.6,875.4L407.5,895.8L410.8,892.4L345.9,871.9Z"/><path color="#2797eb" d="M339.2,879.4L404.2,899.8L407.5,895.8L342.6,875.4Z"/><path color="#2b92ee" d="M335.9,883.5L400.8,903.9L404.2,899.8L339.2,879.4Z"/><path color="#2d8df2" d="M332.6,887.5L397.5,907.9L400.8,903.9L335.9,883.5Z"/><path color="#2d89f6" d="M329.2,891.2L394.2,911.6L397.5,907.9L332.6,887.5Z"/><path color="#2e87f7" d="M327.5,892.8L392.5,913.2L394.2,911.6L329.2,891.2Z"/><path color="#2e85f8" d="M325.9,894.2L390.8,914.6L392.5,913.2L327.5,892.8Z"/><path color="#2e84f9" d="M324.2,895.3L389.2,915.7L390.8,914.6L325.9,894.2Z"/><path color="#2e83f9" d="M322.5,896.2L387.5,916.6L389.2,915.7L324.2,895.3Z"/><path color="#2f82f9" d="M320.9,896.8L385.8,917.2L387.5,916.6L322.5,896.2Z"/><path color="#2f82f9" d="M319.2,897.1L384.2,917.5L385.8,917.2L320.9,896.8Z"/><path style="fill:url(#g013);stroke:url(#g013)" d="M384.2,917.5L385.8,917.2L387.5,916.6L389.2,915.7L390.8,914.6L392.5,913.2L394.2,911.6L397.5,907.9L400.8,903.9L404.2,899.8L407.5,895.8L410.8,892.4L414.2,889.6L417.5,887.9L420.8,887.2L424.2,886.4L427.5,885.5L430.9,884.5L434.2,883.4L437.5,882.3L440.9,881L444.2,879.7L447.5,878.4L450.9,877L454.2,875.6L457.5,874.2L460.9,872.8L464.2,871.4L467.5,870.1L470.9,868.7L474.2,867.5L477.5,866.3L480.9,865.2L484.2,864.2L487.5,863.2L490.9,862.4L494.2,862.9L497.5,904.2L500.9,925L502,924.8L502,924.8L500.9,925L497.5,925.6L494.2,926.3L490.9,926.9L487.5,927.5L484.2,929L480.9,939.2L477.5,953.5L474.2,964.1L470.9,965.8L467.5,966.4L464.2,967.1L460.9,967.7L457.5,968.3L454.2,968.9L450.9,969.6L447.5,970.2L444.2,970.8L440.9,971.4L437.5,972L434.2,972.7L430.9,973.3L427.5,973.9L424.2,974.5L420.8,975.2L417.5,975.8L414.2,976.4L410.8,977L407.5,977.7L404.2,978.3L400.8,978.9L397.5,979.5L394.2,980.2L392.5,980.5L390.8,980.8L389.2,981.1L387.5,981.4L385.8,981.7L384.2,982Z"/><path color="#4852f4" d="M497.5,925.6L562.3,946.2L565.6,945.5L500.9,925Z"/><path color="#4852f4" d="M494.2,926.3L559,946.8L562.3,946.2L497.5,925.6Z"/><path color="#4852f4" d="M490.9,926.9L555.6,947.4L559,946.8L494.2,926.3Z"/><path color="#4852f4" d="M487.5,927.5L552.3,948L555.6,947.4L490.9,926.9Z"/><path color="#4851f3" d="M484.2,929L549,949.5L552.3,948L487.5,927.5Z"/><path color="#4742e6" d="M480.9,939.2L545.6,959.6L549,949.5L484.2,929Z"/><path color="#422fc3" d="M477.5,953.5L542.3,974L545.6,959.6L480.9,939.2Z"/><path color="#3f28ad" d="M474.2,964.1L539,984.6L542.3,974L477.5,953.5Z"/><path color="#3f28ad" d="M470.9,965.8L535.7,986.3L539,984.6L474.2,964.1Z"/><path color="#3f28ad" d="M467.5,966.4L532.3,986.9L535.7,986.3L470.9,965.8Z"/><path color="#3f28ad" d="M464.2,967.1L529,987.5L532.3,986.9L467.5,966.4Z"/><path color="#3f28ad" d="M460.9,967.7L525.7,988.2L529,987.5L464.2,967.1Z"/><path color="#3f28ad" d="M457.5,968.3L522.4,988.8L525.7,988.2L460.9,967.7Z"/><path color="#3f28ad" d="M454.2,968.9L519,989.4L522.4,988.8L457.5,968.3Z"/><path color="#3f28ad" d="M450.9,969.6L515.7,990L519,989.4L454.2,968.9Z"/><path color="#3f28ad" d="M447.5,970.2L512.4,990.6L515.7,990L450.9,969.6Z"/><path color="#3f28ad" d="M444.2,970.8L509,991.3L512.4,990.6L447.5,970.2Z"/><path color="#3f28ad" d="M440.9,971.4L505.7,991.9L509,991.3L444.2,970.8Z"/><path color="#3f28ad" d="M437.5,972L502.4,992.5L505.7,991.9L440.9,971.4Z"/><path color="#3f28ad" d="M434.2,972.7L499.1,993.1L502.4,992.5L437.5,972Z"/><path color="#3f28ad" d="M430.9,973.3L495.7,993.7L499.1,993.1L434.2,972.7Z"/><path color="#3f28ad" d="M427.5,973.9L492.4,994.4L495.7,993.7L430.9,973.3Z"/><path color="#3f28ad" d="M424.2,974.5L489.1,995L492.4,994.4L427.5,973.9Z"/><path color="#3f28ad" d="M420.8,975.2L485.8,995.6L489.1,995L424.2,974.5Z"/><path color="#3f28ad" d="M417.5,975.8L482.4,996.2L485.8,995.6L420.8,975.2Z"/><path color="#3f28ad" d="M414.2,976.4L479.1,996.8L482.4,996.2L417.5,975.8Z"/><path color="#3f28ad" d="M410.8,977L475.8,997.5L479.1,996.8L414.2,976.4Z"/><path color="#3f28ad" d="M407.5,977.7L472.4,998.1L475.8,997.5L410.8,977Z"/><path color="#3f28ad" d="M404.2,978.3L469.1,998.7L472.4,998.1L407.5,977.7Z"/><path color="#3f28ad" d="M400.8,978.9L465.8,999.3L469.1,998.7L404.2,978.3Z"/><path color="#3f28ad" d="M397.5,979.5L462.5,999.9L465.8,999.3L400.8,978.9Z"/><path color="#3f28ad" d="M394.2,980.2L459.1,1000.6L462.5,999.9L397.5,979.5Z"/><path color="#3f28ad" d="M392.5,980.5L457.5,1000.9L459.1,1000.6L394.2,980.2Z"/><path color="#3f28ad" d="M390.8,980.8L455.8,1001.2L457.5,1000.9L392.5,980.5Z"/><path color="#3f28ad" d="M389.2,981.1L454.1,1001.5L455.8,1001.2L390.8,980.8Z"/><path color="#3f28ad" d="M387.5,981.4L452.5,1001.8L454.1,1001.5L389.2,981.1Z"/><path color="#3f28ad" d="M385.8,981.7L450.8,1002.1L452.5,1001.8L387.5,981.4Z"/><path color="#3f28ad" d="M384.2,982L449.2,1002.4L450.8,1002.1L385.8,981.7Z"/><path color="#4852f4" d="M502,924.8L566.8,945.3L857.9,891L793.8,870.3Z"/><path color="#4852f4" d="M500.9,925L565.6,945.5L566.8,945.3L502,924.8Z"/><path color="#3875fe" d="M497.5,904.2L562.3,924.7L565.6,945.5L500.9,925Z"/><path color="#14b0d8" d="M494.2,862.9L559,883.5L562.3,924.7L497.5,904.2Z"/><path color="#12b1d6" d="M490.9,862.4L555.6,882.9L559,883.5L494.2,862.9Z"/><path color="#12b1d6" d="M487.5,863.2L552.3,883.3L555.6,882.9L490.9,862.4Z"/><path color="#13b1d7" d="M484.2,864.2L549,883.7L552.3,883.3L487.5,863.2Z"/><path color="#13b0d7" d="M480.9,865.2L545.6,884L549,883.7L484.2,864.2Z"/><path color="#14b0d8" d="M477.5,866.3L542.3,884.2L545.6,884L480.9,865.2Z"/><path color="#15afd9" d="M474.2,867.5L539,884.3L542.3,884.2L477.5,866.3Z"/><path color="#16aeda" d="M470.9,868.7L535.7,884.3L539,884.3L474.2,867.5Z"/><path color="#18aedb" d="M467.5,870.1L532.3,884.2L535.7,884.3L470.9,868.7Z"/><path color="#19addc" d="M464.2,871.4L529,884.1L532.3,884.2L467.5,870.1Z"/><path color="#1aacdd" d="M460.9,872.8L525.7,884L529,884.1L464.2,871.4Z"/><path color="#1babde" d="M457.5,874.2L522.4,883.7L525.7,884L460.9,872.8Z"/><path color="#1baade" d="M454.2,875.6L519,883.5L522.4,883.7L457.5,874.2Z"/><path color="#1ca9df" d="M450.9,877L515.7,883.2L519,883.5L454.2,875.6Z"/><path color="#1da8e0" d="M447.5,878.4L512.4,882.9L515.7,883.2L450.9,877Z"/><path color="#1ea7e1" d="M444.2,879.7L509,882.5L512.4,882.9L447.5,878.4Z"/><path color="#1ea7e1" d="M440.9,881L505.7,882.1L509,882.5L444.2,879.7Z"/><path color="#1fa6e2" d="M437.5,882.3L502.4,881.8L505.7,882.1L440.9,881Z"/><path color="#20a5e2" d="M434.2,883.4L499.1,881.4L502.4,881.8L437.5,882.3Z"/><path color="#20a5e3" d="M430.9,884.5L495.7,881L499.1,881.4L434.2,883.4Z"/><path color="#20a4e3" d="M427.5,885.5L492.4,880.6L495.7,881L430.9,884.5Z"/><path color="#21a4e3" d="M424.2,886.4L489.1,880.3L492.4,880.6L427.5,885.5Z"/><path color="#21a3e3" d="M420.8,887.2L485.8,879.9L489.1,880.3L424.2,886.4Z"/><path color="#21a3e3" d="M417.5,887.9L482.4,879.6L485.8,879.9L420.8,887.2Z"/><path color="#22a2e4" d="M414.2,889.6L479.1,879.3L482.4,879.6L417.5,887.9Z"/><path color="#249fe5" d="M410.8,892.4L475.8,879.1L479.1,879.3L414.2,889.6Z"/><path color="#259be7" d="M407.5,895.8L472.4,878.9L475.8,879.1L410.8,892.4Z"/><path color="#2797eb" d="M404.2,899.8L469.1,878.8L472.4,878.9L407.5,895.8Z"/><path color="#2b92ee" d="M400.8,903.9L465.8,878.7L469.1,878.8L404.2,899.8Z"/><path color="#2d8df2" d="M397.5,907.9L462.5,878.7L465.8,878.7L400.8,903.9Z"/><path color="#2d89f6" d="M394.2,911.6L459.1,878.8L462.5,878.7L397.5,907.9Z"/><path color="#2e87f7" d="M392.5,913.2L457.5,878.9L459.1,878.8L394.2,911.6Z"/><path color="#2e85f8" d="M390.8,914.6L455.8,879L457.5,878.9L392.5,913.2Z"/><path color="#2e84f9" d="M389.2,915.7L454.1,879.1L455.8,879L390.8,914.6Z"/><path color="#2e83f9" d="M387.5,916.6L452.5,879.2L454.1,879.1L389.2,915.7Z"/><path color="#2f82f9" d="M385.8,917.2L450.8,879.4L452.5,879.2L387.5,916.6Z"/><path color="#2f82f9" d="M384.2,917.5L449.2,879.6L450.8,879.4L385.8,917.2Z"/><path style="fill:url(#g014);stroke:url(#g014)" d="M449.2,879.6L450.8,879.4L452.5,879.2L454.1,879.1L455.8,879L457.5,878.9L459.1,878.8L462.5,878.7L465.8,878.7L469.1,878.8L472.4,878.9L475.8,879.1L479.1,879.3L482.4,879.6L485.8,879.9L489.1,880.3L492.4,880.6L495.7,881L499.1,881.4L502.4,881.8L505.7,882.1L509,882.5L512.4,882.9L515.7,883.2L519,883.5L522.4,883.7L525.7,884L529,884.1L532.3,884.2L535.7,884.3L539,884.3L542.3,884.2L545.6,884L549,883.7L552.3,883.3L555.6,882.9L559,883.5L562.3,924.7L565.6,945.5L566.8,945.3L566.8,945.3L565.6,945.5L562.3,946.2L559,946.8L555.6,947.4L552.3,948L549,949.5L545.6,959.6L542.3,974L539,984.6L535.7,986.3L532.3,986.9L529,987.5L525.7,988.2L522.4,988.8L519,989.4L515.7,990L512.4,990.6L509,991.3L505.7,991.9L502.4,992.5L499.1,993.1L495.7,993.7L492.4,994.4L489.1,995L485.8,995.6L482.4,996.2L479.1,996.8L475.8,997.5L472.4,998.1L469.1,998.7L465.8,999.3L462.5,999.9L459.1,1000.6L457.5,1000.9L455.8,1001.2L454.1,1001.5L452.5,1001.8L450.8,1002.1L449.2,1002.4Z"/><path color="#4852f4" d="M562.3,946.2L627,966.7L630.3,966L565.6,945.5Z"/><path color="#4852f4" d="M559,946.8L623.7,967.3L627,966.7L562.3,946.2Z"/><path color="#4852f4" d="M555.6,947.4L620.4,967.9L623.7,967.3L559,946.8Z"/><path color="#4852f4" d="M552.3,948L617.1,968.5L620.4,967.9L555.6,947.4Z"/><path color="#4851f3" d="M549,949.5L613.7,970.2L617.1,968.5L552.3,948Z"/><path color="#4742e6" d="M545.6,959.6L610.4,1007.6L613.7,970.2L549,949.5Z"/><path color="#422fc3" d="M542.3,974L607.1,1008.2L610.4,1007.6L545.6,959.6Z"/><path color="#3f28ad" d="M539,984.6L603.8,1008.8L607.1,1008.2L542.3,974Z"/><path color="#3f28ad" d="M535.7,986.3L600.5,1009.4L603.8,1008.8L539,984.6Z"/><path color="#3f28ad" d="M532.3,986.9L597.1,1010L600.5,1009.4L535.7,986.3Z"/><path color="#3f28ad" d="M529,987.5L593.8,1010.6L597.1,1010L532.3,986.9Z"/><path color="#3f28ad" d="M525.7,988.2L590.5,1011.3L593.8,1010.6L529,987.5Z"/><path color="#3f28ad" d="M522.4,988.8L587.2,1011.9L590.5,1011.3L525.7,988.2Z"/><path color="#3f28ad" d="M519,989.4L583.9,1012.5L587.2,1011.9L522.4,988.8Z"/><path color="#3f28ad" d="M515.7,990L580.5,1013.1L583.9,1012.5L519,989.4Z"/><path color="#3f28ad" d="M512.4,990.6L577.2,1013.7L580.5,1013.1L515.7,990Z"/><path color="#3f28ad" d="M509,991.3L573.9,1014.4L577.2,1013.7L512.4,990.6Z"/><path color="#3f28ad" d="M505.7,991.9L570.6,1015L573.9,1014.4L509,991.3Z"/><path color="#3f28ad" d="M502.4,992.5L567.3,1015.6L570.6,1015L505.7,991.9Z"/><path color="#3f28ad" d="M499.1,993.1L563.9,1016.2L567.3,1015.6L502.4,992.5Z"/><path color="#3f28ad" d="M495.7,993.7L560.6,1016.8L563.9,1016.2L499.1,993.1Z"/><path color="#3f28ad" d="M492.4,994.4L557.3,1017.4L560.6,1016.8L495.7,993.7Z"/><path color="#3f28ad" d="M489.1,995L554,1015.5L557.3,1017.4L492.4,994.4Z"/><path color="#3f28ad" d="M485.8,995.6L550.7,1009.3L554,1015.5L489.1,995Z"/><path color="#3f28ad" d="M482.4,996.2L547.3,1003.6L550.7,1009.3L485.8,995.6Z"/><path color="#3f28ad" d="M479.1,996.8L544,1010.4L547.3,1003.6L482.4,996.2Z"/><path color="#3f28ad" d="M475.8,997.5L540.7,1020.5L544,1010.4L479.1,996.8Z"/><path color="#3f28ad" d="M472.4,998.1L537.4,1021.1L540.7,1020.5L475.8,997.5Z"/><path color="#3f28ad" d="M469.1,998.7L534.1,1021.8L537.4,1021.1L472.4,998.1Z"/><path color="#3f28ad" d="M465.8,999.3L530.7,1022.4L534.1,1021.8L469.1,998.7Z"/><path color="#3f28ad" d="M462.5,999.9L527.4,1023L530.7,1022.4L465.8,999.3Z"/><path color="#3f28ad" d="M459.1,1000.6L524.1,1023.6L527.4,1023L462.5,999.9Z"/><path color="#3f28ad" d="M457.5,1000.9L522.4,1023.9L524.1,1023.6L459.1,1000.6Z"/><path color="#3f28ad" d="M455.8,1001.2L520.8,1024.2L522.4,1023.9L457.5,1000.9Z"/><path color="#3f28ad" d="M454.1,1001.5L519.1,1024.5L520.8,1024.2L455.8,1001.2Z"/><path color="#3f28ad" d="M452.5,1001.8L517.5,1024.9L519.1,1024.5L454.1,1001.5Z"/><path color="#3f28ad" d="M450.8,1002.1L515.8,1025.2L517.5,1024.9L452.5,1001.8Z"/><path color="#3f28ad" d="M449.2,1002.4L514.1,1025.5L515.8,1025.2L450.8,1002.1Z"/><path color="#4852f4" d="M566.8,945.3L631.5,965.8L922,911.8L857.9,891Z"/><path color="#4852f4" d="M565.6,945.5L630.3,966L631.5,965.8L566.8,945.3Z"/><path color="#3875fe" d="M562.3,924.7L627,963.6L630.3,966L565.6,945.5Z"/><path color="#14b0d8" d="M559,883.5L623.7,937.4L627,963.6L562.3,924.7Z"/><path color="#11b1d6" d="M555.6,882.9L620.4,925.1L623.7,937.4L559,883.5Z"/><path color="#11b1d6" d="M552.3,883.3L617.1,925.6L620.4,925.1L555.6,882.9Z"/><path color="#10b2d5" d="M549,883.7L613.7,925.9L617.1,925.6L552.3,883.3Z"/><path color="#0fb2d5" d="M545.6,884L610.4,926L613.7,925.9L549,883.7Z"/><path color="#0eb2d4" d="M542.3,884.2L607.1,925.9L610.4,926L545.6,884Z"/><path color="#0db3d3" d="M539,884.3L603.8,925.7L607.1,925.9L542.3,884.2Z"/><path color="#0bb3d2" d="M535.7,884.3L600.5,925.4L603.8,925.7L539,884.3Z"/><path color="#09b4d1" d="M532.3,884.2L597.1,924.9L600.5,925.4L535.7,884.3Z"/><path color="#07b5d0" d="M529,884.1L593.8,924.4L597.1,924.9L532.3,884.2Z"/><path color="#06b5cf" d="M525.7,884L590.5,923.7L593.8,924.4L529,884.1Z"/><path color="#04b6cd" d="M522.4,883.7L587.2,922.9L590.5,923.7L525.7,884Z"/><path color="#03b7cb" d="M519,883.5L583.9,922.1L587.2,922.9L522.4,883.7Z"/><path color="#01b8ca" d="M515.7,883.2L580.5,921.1L583.9,922.1L519,883.5Z"/><path color="#01b8c8" d="M512.4,882.9L577.2,920.2L580.5,921.1L515.7,883.2Z"/><path color="#01b9c6" d="M509,882.5L573.9,919.1L577.2,920.2L512.4,882.9Z"/><path color="#02bac5" d="M505.7,882.1L570.6,918.1L573.9,919.1L509,882.5Z"/><path color="#03bbc3" d="M502.4,881.8L567.3,917L570.6,918.1L505.7,882.1Z"/><path color="#05bbc1" d="M499.1,881.4L563.9,915.9L567.3,917L502.4,881.8Z"/><path color="#08bcbf" d="M495.7,881L560.6,914.8L563.9,915.9L499.1,881.4Z"/><path color="#0abdbd" d="M492.4,880.6L557.3,913.7L560.6,914.8L495.7,881Z"/><path color="#0ebdbb" d="M489.1,880.3L554,912.6L557.3,913.7L492.4,880.6Z"/><path color="#11beb9" d="M485.8,879.9L550.7,911.6L554,912.6L489.1,880.3Z"/><path color="#15bfb7" d="M482.4,879.6L547.3,910.6L550.7,911.6L485.8,879.9Z"/><path color="#18bfb6" d="M479.1,879.3L544,909.7L547.3,910.6L482.4,879.6Z"/><path color="#1bc0b4" d="M475.8,879.1L540.7,908.9L544,909.7L479.1,879.3Z"/><path color="#1ec0b2" d="M472.4,878.9L537.4,908.1L540.7,908.9L475.8,879.1Z"/><path color="#20c1b1" d="M469.1,878.8L534.1,907.4L537.4,908.1L472.4,878.9Z"/><path color="#22c1b0" d="M465.8,878.7L530.7,906.9L534.1,907.4L469.1,878.8Z"/><path color="#24c1ae" d="M462.5,878.7L527.4,906.4L530.7,906.9L465.8,878.7Z"/><path color="#25c2ad" d="M459.1,878.8L524.1,906.1L527.4,906.4L462.5,878.7Z"/><path color="#26c2ad" d="M457.5,878.9L522.4,906L524.1,906.1L459.1,878.8Z"/><path color="#26c2ac" d="M455.8,879L520.8,905.9L522.4,906L457.5,878.9Z"/><path color="#27c2ac" d="M454.1,879.1L519.1,905.9L520.8,905.9L455.8,879Z"/><path color="#27c2ac" d="M452.5,879.2L517.5,905.9L519.1,905.9L454.1,879.1Z"/><path color="#27c2ab" d="M450.8,879.4L515.8,905.9L517.5,905.9L452.5,879.2Z"/><path color="#28c2ab" d="M449.2,879.6L514.1,906L515.8,905.9L450.8,879.4Z"/><path style="fill:url(#g015);stroke:url(#g015)" d="M514.1,906L515.8,905.9L517.5,905.9L519.1,905.9L520.8,905.9L522.4,906L524.1,906.1L527.4,906.4L530.7,906.9L534.1,907.4L537.4,908.1L540.7,908.9L544,909.7L547.3,910.6L550.7,911.6L554,912.6L557.3,913.7L560.6,914.8L563.9,915.9L567.3,917L570.6,918.1L573.9,919.1L577.2,920.2L580.5,921.1L583.9,922.1L587.2,922.9L590.5,923.7L593.8,924.4L597.1,924.9L600.5,925.4L603.8,925.7L607.1,925.9L610.4,926L613.7,925.9L617.1,925.6L620.4,925.1L623.7,937.4L627,963.6L630.3,966L631.5,965.8L631.5,965.8L630.3,966L627,966.7L623.7,967.3L620.4,967.9L617.1,968.5L613.7,970.2L610.4,1007.6L607.1,1008.2L603.8,1008.8L600.5,1009.4L597.1,1010L593.8,1010.6L590.5,1011.3L587.2,1011.9L583.9,1012.5L580.5,1013.1L577.2,1013.7L573.9,1014.4L570.6,1015L567.3,1015.6L563.9,1016.2L560.6,1016.8L557.3,1017.4L554,1015.5L550.7,1009.3L547.3,1003.6L544,1010.4L540.7,1020.5L537.4,1021.1L534.1,1021.8L530.7,1022.4L527.4,1023L524.1,1023.6L522.4,1023.9L520.8,1024.2L519.1,1024.5L517.5,1024.9L515.8,1025.2L514.1,1025.5Z"/></g><path fill="#fff" d="M182,898.7L247,942.6L247,819.4L182,799ZM247,942.6L312,963L312,737.2L247,819.4ZM312,963L377,983.4L377,757.6L312,737.2ZM377,983.4L442,1003.8L442,880.6L377,757.6ZM442,1003.8L507,1026.8L507,906.9L442,880.6Z"/><path style="fill:url(#f010);stroke:url(#f010);stroke-width:8;stroke-linejoin:round" clip-path="url(#c01)" d="M182,898.6L247,942.6L254.2,887.7L189.2,893.8Z"/><path style="fill:url(#f011);stroke:url(#f011);stroke-width:8;stroke-linejoin:round" clip-path="url(#c01)" d="M247,942.6L312,963L319.2,897.1L254.2,887.7Z"/><path style="fill:url(#f012);stroke:url(#f012);stroke-width:8;stroke-linejoin:round" clip-path="url(#c01)" d="M312,963L377,983.4L384.2,917.5L319.2,897.1Z"/><path style="fill:url(#f013);stroke:url(#f013);stroke-width:8;stroke-linejoin:round" clip-path="url(#c01)" d="M377,983.4L442,1003.8L449.2,879.6L384.2,917.5Z"/><path style="fill:url(#f014);stroke:url(#f014);stroke-width:8;stroke-linejoin:round" clip-path="url(#c01)" d="M442,1003.8L507,1026.8L514.1,906L449.2,879.6Z"/><g class="r" clip-path="url(#c01)"><path color="#4740e4" d="M189.2,897.2L254.2,941.2"/><path color="#3f28ad" d="M254.2,941.2L319.2,961.6"/><path color="#3f28ad" d="M319.2,961.6L384.2,982"/><path color="#3f28ad" d="M384.2,982L449.2,1002.4"/><path color="#3f28ad" d="M449.2,1002.4L514.1,1025.5"/><path color="#4740e3" d="M182,898.7L247,942.6"/><path color="#3f28ad" d="M247,942.6L312,963"/><path color="#3f28ad" d="M312,963L377,983.4"/><path color="#3f28ad" d="M377,983.4L442,1003.8"/><path color="#3f28ad" d="M442,1003.8L507,1026.8"/><path color="#4745ea" d="M189.2,893.8L254.2,887.7"/><path color="#3d70ff" d="M254.2,887.7L319.2,897.1"/><path color="#2f82f9" d="M319.2,897.1L384.2,917.5"/><path color="#2f82f9" d="M384.2,917.5L449.2,879.6"/><path color="#28c2ab" d="M449.2,879.6L514.1,906"/><path color="#484bef" d="M187.7,890.5L252.7,886.8"/><path color="#3c72ff" d="M252.7,886.8L317.7,897.2"/><path color="#2e83f9" d="M317.7,897.2L382.7,917.6"/><path color="#2e83f9" d="M382.7,917.6L447.7,879.7"/><path color="#28c2ab" d="M447.7,879.7L512.6,906.1"/><path color="#4850f3" d="M186.9,887.4L251.9,885.6"/><path color="#3974fe" d="M251.9,885.6L316.8,897.1"/><path color="#2e83f9" d="M316.8,897.1L381.8,917.5"/><path color="#2e83f9" d="M381.8,917.5L446.8,879.9"/><path color="#28c3ab" d="M446.8,879.9L511.8,906.2"/><path color="#4756f7" d="M186.2,883.7L251.2,884"/><path color="#3677fe" d="M251.2,884L316.2,896.8"/><path color="#2e84f9" d="M316.2,896.8L381.2,917.2"/><path color="#2e84f9" d="M381.2,917.2L446.2,879.9"/><path color="#28c3ab" d="M446.2,879.9L511.2,906.3"/><path color="#475cfa" d="M185.7,880.1L250.7,882.2"/><path color="#337bfd" d="M250.7,882.2L315.7,896.4"/><path color="#2e85f8" d="M315.7,896.4L380.7,916.8"/><path color="#2e85f8" d="M380.7,916.8L445.7,880"/><path color="#28c3ab" d="M445.7,880L510.7,906.3"/><path color="#4561fc" d="M185.4,877.1L250.3,880.6"/><path color="#317dfc" d="M250.3,880.6L315.3,895.9"/><path color="#2e85f8" d="M315.3,895.9L380.3,916.3"/><path color="#2e85f8" d="M380.3,916.3L445.3,880.1"/><path color="#28c3ab" d="M445.3,880.1L510.3,906.4"/><path color="#4367fd" d="M185,873.6L250,878.7"/><path color="#2f81fa" d="M250,878.7L315,895.2"/><path color="#2e87f7" d="M315,895.2L380,915.6"/><path color="#2e87f7" d="M380,915.6L445,880.1"/><path color="#28c3ab" d="M445,880.1L510,906.4"/><path color="#3f6dfe" d="M184.7,869.6L249.7,876.3"/><path color="#2e84f8" d="M249.7,876.3L314.7,894.2"/><path color="#2d88f6" d="M314.7,894.2L379.7,914.6"/><path color="#2d88f6" d="M379.7,914.6L444.7,880.2"/><path color="#28c3ab" d="M444.7,880.2L509.7,906.5"/><path color="#3876fe" d="M184.3,864.8L249.3,873.3"/><path color="#2d89f5" d="M249.3,873.3L314.3,892.8"/><path color="#2d8af4" d="M314.3,892.8L379.3,913.2"/><path color="#2d8af4" d="M379.3,913.2L444.3,880.2"/><path color="#28c3ab" d="M444.3,880.2L509.3,906.5"/><path color="#307ffb" d="M184,859.2L249,869.5"/><path color="#2c8ff1" d="M249,869.5L314,890.6"/><path color="#2c8ef2" d="M314,890.6L379,911"/><path color="#2c8ef2" d="M379,911L444,880.3"/><path color="#28c3ab" d="M444,880.3L509,906.6"/><path color="#2e84f8" d="M183.8,856.1L248.8,867.4"/><path color="#2b92ee" d="M248.8,867.4L313.8,889.2"/><path color="#2c90f0" d="M313.8,889.2L378.8,909.6"/><path color="#2c90f0" d="M378.8,909.6L443.8,880.3"/><path color="#28c3ab" d="M443.8,880.3L508.8,906.6"/><path color="#2d89f5" d="M183.7,852.7L248.7,864.9"/><path color="#2895ec" d="M248.7,864.9L313.7,887.4"/><path color="#2a92ee" d="M313.7,887.4L378.7,907.8"/><path color="#2a92ee" d="M378.7,907.8L443.7,880.3"/><path color="#28c3aa" d="M443.7,880.3L508.7,906.6"/><path color="#2c8ff1" d="M183.5,849L248.5,862.3"/><path color="#2699e9" d="M248.5,862.3L313.5,885.1"/><path color="#2896ec" d="M313.5,885.1L378.5,905.5"/><path color="#2896ec" d="M378.5,905.5L443.5,880.4"/><path color="#28c3aa" d="M443.5,880.4L508.5,906.6"/><path color="#2995ec" d="M183.3,845L248.3,859.3"/><path color="#249de7" d="M248.3,859.3L313.3,882.2"/><path color="#269ae9" d="M313.3,882.2L378.3,902.6"/><path color="#269ae9" d="M378.3,902.6L443.3,880.4"/><path color="#28c3aa" d="M443.3,880.4L508.3,906.7"/><path color="#269be8" d="M183.2,840.7L248.2,855.9"/><path color="#22a1e4" d="M248.2,855.9L313.2,878.3"/><path color="#249fe6" d="M313.2,878.3L378.2,898.7"/><path color="#249fe6" d="M378.2,898.7L443.2,880.4"/><path color="#28c3aa" d="M443.2,880.4L508.2,906.7"/><path color="#23a1e4" d="M183,836.1L248,852.2"/><path color="#1fa6e1" d="M248,852.2L313,873.2"/><path color="#1fa6e2" d="M313,873.2L378,893.6"/><path color="#1fa6e2" d="M378,893.6L443,880.5"/><path color="#28c3aa" d="M443,880.5L508,906.7"/><path color="#1ea7e1" d="M182.8,831.1L247.8,848.1"/><path color="#1aabdd" d="M247.8,848.1L312.8,866"/><path color="#17aeda" d="M312.8,866L377.8,886.4"/><path color="#17aeda" d="M377.8,886.4L442.8,880.5"/><path color="#28c3aa" d="M442.8,880.5L507.8,906.8"/><path color="#18aedb" d="M182.7,825.6L247.7,843.5"/><path color="#13b0d7" d="M247.7,843.5L312.7,855.9"/><path color="#01b8ca" d="M312.7,855.9L377.7,876.3"/><path color="#01b8ca" d="M377.7,876.3L442.7,880.5"/><path color="#28c3aa" d="M442.7,880.5L507.7,906.8"/><path color="#0ab4d2" d="M182.5,819.7L247.5,838.4"/><path color="#06b5cf" d="M247.5,838.4L312.5,841.2"/><path color="#25c2ad" d="M312.5,841.2L377.5,861.6"/><path color="#25c2ad" d="M377.5,861.6L442.5,880.5"/><path color="#28c3aa" d="M442.5,880.5L507.5,906.8"/><path color="#01b9c6" d="M182.3,813.4L247.3,832.7"/><path color="#02bac5" d="M247.3,832.7L312.3,819.6"/><path color="#59cc78" d="M312.3,819.6L377.3,840"/><path color="#59cc78" d="M377.3,840L442.3,880.6"/><path color="#28c3aa" d="M442.3,880.6L507.3,906.8"/><path color="#11beb9" d="M182.2,806.5L247.2,826.4"/><path color="#13beb8" d="M247.2,826.4L312.2,787"/><path color="#d4bf28" d="M312.2,787L377.2,807.4"/><path color="#d4bf28" d="M377.2,807.4L442.2,880.6"/><path color="#28c3aa" d="M442.2,880.6L507.2,906.9"/><path color="#4852f4" d="M182,898.7L182,799"/><path color="#4852f4" d="M247,942.6L247,819.4"/><path color="#4852f4" d="M312,963L312,737.2"/><path color="#4852f4" d="M377,983.4L377,757.6"/><path color="#4852f4" d="M442,1003.8L442,880.6"/><path color="#4852f4" d="M507,1026.8L507,906.9"/><path color="#28c3aa" d="M182,799L247,819.4"/><path color="#28c3aa" d="M247,819.4L312,737.2"/><path color="#f7f61a" d="M312,737.2L377,757.6"/><path color="#f7f61a" d="M377,757.6L442,880.6"/><path color="#28c3aa" d="M442,880.6L507,906.9"/></g><path class="a" d="M182,693.5L182,924.8L507,1026.8L922,949.6M182,887l-12.9,-2.7M182,828.4l-12.9,-2.7M182,769.7l-12.9,-2.7M182,711.1l-12.9,-2.7M182,924.8l-13.4,3.6M344.5,975.8l-13.4,3.6M507,1026.8l-13.4,3.6M507,1026.8l12.4,3.8M714.5,988.2l12.4,3.8M922,949.6l12.4,3.8"/><text x="159.5" y="899.5" text-anchor="end">0</text><text x="159.5" y="840.9" text-anchor="end">20</text><text x="159.5" y="782.2" text-anchor="end">40</text><text x="159.5" y="723.6" text-anchor="end">60</text><text x="148" y="974.8" text-anchor="middle">0</text><text x="291.5" y="1025.8" text-anchor="middle">0.5</text><text x="471" y="1077.8" text-anchor="middle">1</text><text x="535" y="1080.8" text-anchor="middle">0</text><text x="744.5" y="1041.2" text-anchor="middle">5</text><text x="969" y="1000.6" text-anchor="middle">10</text><text x="286" y="1120.8" text-anchor="middle" font-style="italic">ζ</text><text x="771" y="1124.8" text-anchor="middle"><tspan font-style="italic">t</tspan>(s)</text><text x="42" y="781.4"><tspan font-style="italic">u</tspan><tspan dx="4" dy="23" font-size="36">21</tspan></text></g><g><path class="g" d="M1194,910.1L1613.5,831.1M1613.5,831.1L1934,934.9M1194,834.5L1613.5,755.5M1613.5,755.5L1934,859.3M1194,758.9L1613.5,679.9M1613.5,679.9L1934,783.7M1403.8,885.3L1403.8,654M1613.5,845.8L1613.5,614.5M1773.8,897.7L1773.8,666.4M1934,949.6L1934,718.3M1403.8,885.3L1726.5,988.2M1613.5,845.8L1934,949.6M1194,924.8L1613.5,845.8M1356.5,975.8L1773.8,897.7"/><g class="s" clip-path="url(#c11)"><path style="fill:url(#g110);stroke:url(#g110)" d="M1199.9,890L1201.6,889.7L1203.2,889.3L1204.9,889L1206.6,888.6L1208.3,888.3L1209.9,887.9L1211.6,887.6L1215,886.8L1218.3,886L1221.7,885.3L1225,884.5L1228.4,883.7L1231.8,882.9L1235.1,882.1L1238.5,881.2L1241.8,880.4L1245.2,879.6L1248.5,878.8L1251.9,877.9L1255.2,877.1L1258.6,876.3L1262,875.4L1265.3,874.6L1268.7,873.8L1272,873L1275.4,872.2L1278.7,871.4L1282.1,870.6L1285.5,869.8L1288.8,869.1L1292.2,868.4L1295.5,867.6L1298.9,866.9L1302.2,866.3L1305.6,865.6L1308.9,869.1L1312.3,885.3L1315.7,887.2L1315.7,887.2L1312.3,887.8L1308.9,888.4L1305.6,889L1302.2,889.7L1298.9,890.3L1295.5,890.9L1292.2,891.6L1288.8,892.2L1285.5,892.8L1282.1,893.5L1278.7,894.1L1275.4,894.7L1272,895.4L1268.7,896L1265.3,896.6L1262,897.3L1258.6,897.9L1255.2,898.5L1251.9,899.2L1248.5,899.8L1245.2,900.4L1241.8,901.1L1238.5,901.7L1235.1,902.3L1231.8,903L1228.4,903.6L1225,904.2L1221.7,904.8L1218.3,905.5L1215,906.1L1211.6,906.7L1209.9,907.1L1208.3,907.4L1206.6,907.7L1204.9,908L1203.2,908.3L1201.6,908.6L1199.9,909Z"/><path color="#4537d6" d="M1308.9,888.4L1373.7,908.9L1377,908.3L1312.3,887.8Z"/><path color="#4537d6" d="M1305.6,889L1370.3,909.5L1373.7,908.9L1308.9,888.4Z"/><path color="#4537d6" d="M1302.2,889.7L1367,910.2L1370.3,909.5L1305.6,889Z"/><path color="#4537d6" d="M1298.9,890.3L1363.7,910.8L1367,910.2L1302.2,889.7Z"/><path color="#4537d6" d="M1295.5,890.9L1360.3,911.4L1363.7,910.8L1298.9,890.3Z"/><path color="#4537d6" d="M1292.2,891.6L1357,912.1L1360.3,911.4L1295.5,890.9Z"/><path color="#4537d6" d="M1288.8,892.2L1353.6,912.7L1357,912.1L1292.2,891.6Z"/><path color="#4537d6" d="M1285.5,892.8L1350.3,913.3L1353.6,912.7L1288.8,892.2Z"/><path color="#4537d6" d="M1282.1,893.5L1346.9,913.9L1350.3,913.3L1285.5,892.8Z"/><path color="#4537d6" d="M1278.7,894.1L1343.6,914.6L1346.9,913.9L1282.1,893.5Z"/><path color="#4537d6" d="M1275.4,894.7L1340.2,915.2L1343.6,914.6L1278.7,894.1Z"/><path color="#4537d6" d="M1272,895.4L1336.9,915.8L1340.2,915.2L1275.4,894.7Z"/><path color="#4537d6" d="M1268.7,896L1333.5,916.5L1336.9,915.8L1272,895.4Z"/><path color="#4537d6" d="M1265.3,896.6L1330.2,917.1L1333.5,916.5L1268.7,896Z"/><path color="#4537d6" d="M1262,897.3L1326.8,917.7L1330.2,917.1L1265.3,896.6Z"/><path color="#4537d6" d="M1258.6,897.9L1323.5,918.3L1326.8,917.7L1262,897.3Z"/><path color="#4537d6" d="M1255.2,898.5L1320.1,919L1323.5,918.3L1258.6,897.9Z"/><path color="#4537d6" d="M1251.9,899.2L1316.8,919.6L1320.1,919L1255.2,898.5Z"/><path color="#4537d6" d="M1248.5,899.8L1313.4,920.2L1316.8,919.6L1251.9,899.2Z"/><path color="#4537d6" d="M1245.2,900.4L1310.1,920.9L1313.4,920.2L1248.5,899.8Z"/><path color="#4537d6" d="M1241.8,901.1L1306.7,921.5L1310.1,920.9L1245.2,900.4Z"/><path color="#4537d6" d="M1238.5,901.7L1303.4,922.1L1306.7,921.5L1241.8,901.1Z"/><path color="#4537d6" d="M1235.1,902.3L1300,922.8L1303.4,922.1L1238.5,901.7Z"/><path color="#4537d6" d="M1231.8,903L1296.7,923.4L1300,922.8L1235.1,902.3Z"/><path color="#4537d6" d="M1228.4,903.6L1293.3,924L1296.7,923.4L1231.8,903Z"/><path color="#4537d6" d="M1225,904.2L1290,924.6L1293.3,924L1228.4,903.6Z"/><path color="#4537d6" d="M1221.7,904.8L1286.6,925.3L1290,924.6L1225,904.2Z"/><path color="#4537d6" d="M1218.3,905.5L1283.3,925.9L1286.6,925.3L1221.7,904.8Z"/><path color="#4537d6" d="M1215,906.1L1279.9,926.5L1283.3,925.9L1218.3,905.5Z"/><path color="#4537d6" d="M1211.6,906.7L1276.6,927.2L1279.9,926.5L1215,906.1Z"/><path color="#4537d6" d="M1209.9,907.1L1274.9,927.5L1276.6,927.2L1211.6,906.7Z"/><path color="#4537d6" d="M1208.3,907.4L1273.2,927.8L1274.9,927.5L1209.9,907.1Z"/><path color="#4537d6" d="M1206.6,907.7L1271.6,928.1L1273.2,927.8L1208.3,907.4Z"/><path color="#4537d6" d="M1204.9,908L1269.9,928.4L1271.6,928.1L1206.6,907.7Z"/><path color="#4537d6" d="M1203.2,908.3L1268.2,928.7L1269.9,928.4L1204.9,908Z"/><path color="#4537d6" d="M1201.6,908.6L1266.5,929L1268.2,928.7L1203.2,908.3Z"/><path color="#4537d6" d="M1199.9,909L1264.9,929.4L1266.5,929L1201.6,908.6Z"/><path color="#4537d6" d="M1315.7,887.2L1380.4,907.7L1677.6,851.8L1613.5,831.1Z"/><path color="#463adb" d="M1312.3,885.3L1377,905.8L1380.4,907.7L1315.7,887.2Z"/><path color="#4854f5" d="M1308.9,869.1L1373.7,889.6L1377,905.8L1312.3,885.3Z"/><path color="#475af9" d="M1305.6,865.6L1370.3,886.1L1373.7,889.6L1308.9,869.1Z"/><path color="#475af9" d="M1302.2,866.3L1367,886.8L1370.3,886.1L1305.6,865.6Z"/><path color="#475af9" d="M1298.9,866.9L1363.7,887.4L1367,886.8L1302.2,866.3Z"/><path color="#475af9" d="M1295.5,867.6L1360.3,888.1L1363.7,887.4L1298.9,866.9Z"/><path color="#475af9" d="M1292.2,868.4L1357,888.8L1360.3,888.1L1295.5,867.6Z"/><path color="#475af9" d="M1288.8,869.1L1353.6,889.6L1357,888.8L1292.2,868.4Z"/><path color="#475af9" d="M1285.5,869.8L1350.3,890.3L1353.6,889.6L1288.8,869.1Z"/><path color="#475af9" d="M1282.1,870.6L1346.9,891.1L1350.3,890.3L1285.5,869.8Z"/><path color="#4759f9" d="M1278.7,871.4L1343.6,891.9L1346.9,891.1L1282.1,870.6Z"/><path color="#4759f8" d="M1275.4,872.2L1340.2,892.6L1343.6,891.9L1278.7,871.4Z"/><path color="#4759f8" d="M1272,873L1336.9,893.4L1340.2,892.6L1275.4,872.2Z"/><path color="#4759f8" d="M1268.7,873.8L1333.5,894.3L1336.9,893.4L1272,873Z"/><path color="#4758f8" d="M1265.3,874.6L1330.2,895.1L1333.5,894.3L1268.7,873.8Z"/><path color="#4758f8" d="M1262,875.4L1326.8,895.9L1330.2,895.1L1265.3,874.6Z"/><path color="#4758f8" d="M1258.6,876.3L1323.5,896.7L1326.8,895.9L1262,875.4Z"/><path color="#4757f7" d="M1255.2,877.1L1320.1,897.5L1323.5,896.7L1258.6,876.3Z"/><path color="#4757f7" d="M1251.9,877.9L1316.8,898.4L1320.1,897.5L1255.2,877.1Z"/><path color="#4757f7" d="M1248.5,878.8L1313.4,899.2L1316.8,898.4L1251.9,877.9Z"/><path color="#4756f7" d="M1245.2,879.6L1310.1,900L1313.4,899.2L1248.5,878.8Z"/><path color="#4756f7" d="M1241.8,880.4L1306.7,900.9L1310.1,900L1245.2,879.6Z"/><path color="#4756f6" d="M1238.5,881.2L1303.4,901.7L1306.7,900.9L1241.8,880.4Z"/><path color="#4756f6" d="M1235.1,882.1L1300,902.5L1303.4,901.7L1238.5,881.2Z"/><path color="#4755f6" d="M1231.8,882.9L1296.7,903.3L1300,902.5L1235.1,882.1Z"/><path color="#4755f6" d="M1228.4,883.7L1293.3,904.1L1296.7,903.3L1231.8,882.9Z"/><path color="#4755f6" d="M1225,884.5L1290,904.9L1293.3,904.1L1228.4,883.7Z"/><path color="#4855f6" d="M1221.7,885.3L1286.6,905.7L1290,904.9L1225,884.5Z"/><path color="#4854f6" d="M1218.3,886L1283.3,906.5L1286.6,905.7L1221.7,885.3Z"/><path color="#4854f5" d="M1215,886.8L1279.9,907.2L1283.3,906.5L1218.3,886Z"/><path color="#4854f5" d="M1211.6,887.6L1276.6,908L1279.9,907.2L1215,886.8Z"/><path color="#4854f5" d="M1209.9,887.9L1274.9,908.3L1276.6,908L1211.6,887.6Z"/><path color="#4854f5" d="M1208.3,888.3L1273.2,908.7L1274.9,908.3L1209.9,887.9Z"/><path color="#4854f5" d="M1206.6,888.6L1271.6,909L1273.2,908.7L1208.3,888.3Z"/><path color="#4854f5" d="M1204.9,889L1269.9,909.4L1271.6,909L1206.6,888.6Z"/><path color="#4854f5" d="M1203.2,889.3L1268.2,909.7L1269.9,909.4L1204.9,889Z"/><path color="#4854f5" d="M1201.6,889.7L1266.5,910.1L1268.2,909.7L1203.2,889.3Z"/><path color="#4854f5" d="M1199.9,890L1264.9,910.4L1266.5,910.1L1201.6,889.7Z"/><path style="fill:url(#g111);stroke:url(#g111)" d="M1264.9,910.4L1266.5,910.1L1268.2,909.7L1269.9,909.4L1271.6,909L1273.2,908.7L1274.9,908.3L1276.6,908L1279.9,907.2L1283.3,906.5L1286.6,905.7L1290,904.9L1293.3,904.1L1296.7,903.3L1300,902.5L1303.4,901.7L1306.7,900.9L1310.1,900L1313.4,899.2L1316.8,898.4L1320.1,897.5L1323.5,896.7L1326.8,895.9L1330.2,895.1L1333.5,894.3L1336.9,893.4L1340.2,892.6L1343.6,891.9L1346.9,891.1L1350.3,890.3L1353.6,889.6L1357,888.8L1360.3,888.1L1363.7,887.4L1367,886.8L1370.3,886.1L1373.7,889.6L1377,905.8L1380.4,907.7L1380.4,907.7L1377,908.3L1373.7,908.9L1370.3,909.5L1367,910.2L1363.7,910.8L1360.3,911.4L1357,912.1L1353.6,912.7L1350.3,913.3L1346.9,913.9L1343.6,914.6L1340.2,915.2L1336.9,915.8L1333.5,916.5L1330.2,917.1L1326.8,917.7L1323.5,918.3L1320.1,919L1316.8,919.6L1313.4,920.2L1310.1,920.9L1306.7,921.5L1303.4,922.1L1300,922.8L1296.7,923.4L1293.3,924L1290,924.6L1286.6,925.3L1283.3,925.9L1279.9,926.5L1276.6,927.2L1274.9,927.5L1273.2,927.8L1271.6,928.1L1269.9,928.4L1268.2,928.7L1266.5,929L1264.9,929.4Z"/><path color="#4537d6" d="M1373.7,908.9L1438.4,929.4L1441.8,928.8L1377,908.3Z"/><path color="#4537d6" d="M1370.3,909.5L1435.1,930L1438.4,929.4L1373.7,908.9Z"/><path color="#4537d6" d="M1367,910.2L1431.8,930.7L1435.1,930L1370.3,909.5Z"/><path color="#4537d6" d="M1363.7,910.8L1428.4,931.3L1431.8,930.7L1367,910.2Z"/><path color="#4537d6" d="M1360.3,911.4L1425.1,931.9L1428.4,931.3L1363.7,910.8Z"/><path color="#4537d6" d="M1357,912.1L1421.7,932.5L1425.1,931.9L1360.3,911.4Z"/><path color="#4537d6" d="M1353.6,912.7L1418.4,933.2L1421.7,932.5L1357,912.1Z"/><path color="#4537d6" d="M1350.3,913.3L1415.1,933.8L1418.4,933.2L1353.6,912.7Z"/><path color="#4537d6" d="M1346.9,913.9L1411.7,934.4L1415.1,933.8L1350.3,913.3Z"/><path color="#4537d6" d="M1343.6,914.6L1408.4,935L1411.7,934.4L1346.9,913.9Z"/><path color="#4537d6" d="M1340.2,915.2L1405,935.7L1408.4,935L1343.6,914.6Z"/><path color="#4537d6" d="M1336.9,915.8L1401.7,936.3L1405,935.7L1340.2,915.2Z"/><path color="#4537d6" d="M1333.5,916.5L1398.4,936.9L1401.7,936.3L1336.9,915.8Z"/><path color="#4537d6" d="M1330.2,917.1L1395,937.6L1398.4,936.9L1333.5,916.5Z"/><path color="#4537d6" d="M1326.8,917.7L1391.7,938.2L1395,937.6L1330.2,917.1Z"/><path color="#4537d6" d="M1323.5,918.3L1388.3,938.8L1391.7,938.2L1326.8,917.7Z"/><path color="#4537d6" d="M1320.1,919L1385,939.4L1388.3,938.8L1323.5,918.3Z"/><path color="#4537d6" d="M1316.8,919.6L1381.6,940.1L1385,939.4L1320.1,919Z"/><path color="#4537d6" d="M1313.4,920.2L1378.3,940.7L1381.6,940.1L1316.8,919.6Z"/><path color="#4537d6" d="M1310.1,920.9L1375,941.3L1378.3,940.7L1313.4,920.2Z"/><path color="#4537d6" d="M1306.7,921.5L1371.6,941.9L1375,941.3L1310.1,920.9Z"/><path color="#4537d6" d="M1303.4,922.1L1368.3,942.6L1371.6,941.9L1306.7,921.5Z"/><path color="#4537d6" d="M1300,922.8L1364.9,943.2L1368.3,942.6L1303.4,922.1Z"/><path color="#4537d6" d="M1296.7,923.4L1361.6,943.8L1364.9,943.2L1300,922.8Z"/><path color="#4537d6" d="M1293.3,924L1358.3,944.4L1361.6,943.8L1296.7,923.4Z"/><path color="#4537d6" d="M1290,924.6L1354.9,945.1L1358.3,944.4L1293.3,924Z"/><path color="#4537d6" d="M1286.6,925.3L1351.6,945.7L1354.9,945.1L1290,924.6Z"/><path color="#4537d6" d="M1283.3,925.9L1348.2,946.3L1351.6,945.7L1286.6,925.3Z"/><path color="#4537d6" d="M1279.9,926.5L1344.9,946.9L1348.2,946.3L1283.3,925.9Z"/><path color="#4537d6" d="M1276.6,927.2L1341.5,947.6L1344.9,946.9L1279.9,926.5Z"/><path color="#4537d6" d="M1274.9,927.5L1339.9,947.9L1341.5,947.6L1276.6,927.2Z"/><path color="#4537d6" d="M1273.2,927.8L1338.2,948.2L1339.9,947.9L1274.9,927.5Z"/><path color="#4537d6" d="M1271.6,928.1L1336.5,948.5L1338.2,948.2L1273.2,927.8Z"/><path color="#4537d6" d="M1269.9,928.4L1334.9,948.8L1336.5,948.5L1271.6,928.1Z"/><path color="#4537d6" d="M1268.2,928.7L1333.2,949.1L1334.9,948.8L1269.9,928.4Z"/><path color="#4537d6" d="M1266.5,929L1331.5,949.5L1333.2,949.1L1268.2,928.7Z"/><path color="#4537d6" d="M1264.9,929.4L1329.8,949.8L1331.5,949.5L1266.5,929Z"/><path color="#4537d6" d="M1380.4,907.7L1445.1,928.2L1741.7,872.6L1677.6,851.8Z"/><path color="#463adb" d="M1377,905.8L1441.8,926.3L1445.1,928.2L1380.4,907.7Z"/><path color="#4854f5" d="M1373.7,889.6L1438.4,910.1L1441.8,926.3L1377,905.8Z"/><path color="#475af9" d="M1370.3,886.1L1435.1,906.6L1438.4,910.1L1373.7,889.6Z"/><path color="#475af9" d="M1367,886.8L1431.8,907.3L1435.1,906.6L1370.3,886.1Z"/><path color="#475af9" d="M1363.7,887.4L1428.4,907.9L1431.8,907.3L1367,886.8Z"/><path color="#475af9" d="M1360.3,888.1L1425.1,908.6L1428.4,907.9L1363.7,887.4Z"/><path color="#475af9" d="M1357,888.8L1421.7,909.3L1425.1,908.6L1360.3,888.1Z"/><path color="#475af9" d="M1353.6,889.6L1418.4,910.1L1421.7,909.3L1357,888.8Z"/><path color="#475af9" d="M1350.3,890.3L1415.1,910.8L1418.4,910.1L1353.6,889.6Z"/><path color="#475af9" d="M1346.9,891.1L1411.7,911.6L1415.1,910.8L1350.3,890.3Z"/><path color="#4759f9" d="M1343.6,891.9L1408.4,912.3L1411.7,911.6L1346.9,891.1Z"/><path color="#4759f8" d="M1340.2,892.6L1405,913.1L1408.4,912.3L1343.6,891.9Z"/><path color="#4759f8" d="M1336.9,893.4L1401.7,913.9L1405,913.1L1340.2,892.6Z"/><path color="#4759f8" d="M1333.5,894.3L1398.4,914.7L1401.7,913.9L1336.9,893.4Z"/><path color="#4758f8" d="M1330.2,895.1L1395,915.5L1398.4,914.7L1333.5,894.3Z"/><path color="#4758f8" d="M1326.8,895.9L1391.7,916.3L1395,915.5L1330.2,895.1Z"/><path color="#4758f8" d="M1323.5,896.7L1388.3,917.2L1391.7,916.3L1326.8,895.9Z"/><path color="#4757f7" d="M1320.1,897.5L1385,918L1388.3,917.2L1323.5,896.7Z"/><path color="#4757f7" d="M1316.8,898.4L1381.6,918.8L1385,918L1320.1,897.5Z"/><path color="#4757f7" d="M1313.4,899.2L1378.3,919.6L1381.6,918.8L1316.8,898.4Z"/><path color="#4756f7" d="M1310.1,900L1375,920.5L1378.3,919.6L1313.4,899.2Z"/><path color="#4756f7" d="M1306.7,900.9L1371.6,921.3L1375,920.5L1310.1,900Z"/><path color="#4756f6" d="M1303.4,901.7L1368.3,922.1L1371.6,921.3L1306.7,900.9Z"/><path color="#4756f6" d="M1300,902.5L1364.9,922.9L1368.3,922.1L1303.4,901.7Z"/><path color="#4755f6" d="M1296.7,903.3L1361.6,923.7L1364.9,922.9L1300,902.5Z"/><path color="#4755f6" d="M1293.3,904.1L1358.3,924.5L1361.6,923.7L1296.7,903.3Z"/><path color="#4755f6" d="M1290,904.9L1354.9,925.3L1358.3,924.5L1293.3,904.1Z"/><path color="#4855f6" d="M1286.6,905.7L1351.6,926.1L1354.9,925.3L1290,904.9Z"/><path color="#4854f6" d="M1283.3,906.5L1348.2,926.9L1351.6,926.1L1286.6,905.7Z"/><path color="#4854f5" d="M1279.9,907.2L1344.9,927.6L1348.2,926.9L1283.3,906.5Z"/><path color="#4854f5" d="M1276.6,908L1341.5,928.4L1344.9,927.6L1279.9,907.2Z"/><path color="#4854f5" d="M1274.9,908.3L1339.9,928.7L1341.5,928.4L1276.6,908Z"/><path color="#4854f5" d="M1273.2,908.7L1338.2,929.1L1339.9,928.7L1274.9,908.3Z"/><path color="#4854f5" d="M1271.6,909L1336.5,929.5L1338.2,929.1L1273.2,908.7Z"/><path color="#4854f5" d="M1269.9,909.4L1334.9,929.8L1336.5,929.5L1271.6,909Z"/><path color="#4854f5" d="M1268.2,909.7L1333.2,930.2L1334.9,929.8L1269.9,909.4Z"/><path color="#4854f5" d="M1266.5,910.1L1331.5,930.5L1333.2,930.2L1268.2,909.7Z"/><path color="#4854f5" d="M1264.9,910.4L1329.8,930.8L1331.5,930.5L1266.5,910.1Z"/><path style="fill:url(#g112);stroke:url(#g112)" d="M1329.8,930.8L1331.5,930.5L1333.2,930.2L1334.9,929.8L1336.5,929.5L1338.2,929.1L1339.9,928.7L1341.5,928.4L1344.9,927.6L1348.2,926.9L1351.6,926.1L1354.9,925.3L1358.3,924.5L1361.6,923.7L1364.9,922.9L1368.3,922.1L1371.6,921.3L1375,920.5L1378.3,919.6L1381.6,918.8L1385,918L1388.3,917.2L1391.7,916.3L1395,915.5L1398.4,914.7L1401.7,913.9L1405,913.1L1408.4,912.3L1411.7,911.6L1415.1,910.8L1418.4,910.1L1421.7,909.3L1425.1,908.6L1428.4,907.9L1431.8,907.3L1435.1,906.6L1438.4,910.1L1441.8,926.3L1445.1,928.2L1445.1,928.2L1441.8,928.8L1438.4,929.4L1435.1,930L1431.8,930.7L1428.4,931.3L1425.1,931.9L1421.7,932.5L1418.4,933.2L1415.1,933.8L1411.7,934.4L1408.4,935L1405,935.7L1401.7,936.3L1398.4,936.9L1395,937.6L1391.7,938.2L1388.3,938.8L1385,939.4L1381.6,940.1L1378.3,940.7L1375,941.3L1371.6,941.9L1368.3,942.6L1364.9,943.2L1361.6,943.8L1358.3,944.4L1354.9,945.1L1351.6,945.7L1348.2,946.3L1344.9,946.9L1341.5,947.6L1339.9,947.9L1338.2,948.2L1336.5,948.5L1334.9,948.8L1333.2,949.1L1331.5,949.5L1329.8,949.8Z"/><path color="#4537d6" d="M1438.4,929.4L1503.2,949.9L1506.5,949.3L1441.8,928.8Z"/><path color="#4537d6" d="M1435.1,930L1499.9,950.5L1503.2,949.9L1438.4,929.4Z"/><path color="#4537d6" d="M1431.8,930.7L1496.5,951.2L1499.9,950.5L1435.1,930Z"/><path color="#4537d6" d="M1428.4,931.3L1493.2,951.8L1496.5,951.2L1431.8,930.7Z"/><path color="#4537d6" d="M1425.1,931.9L1489.9,952.4L1493.2,951.8L1428.4,931.3Z"/><path color="#4537d6" d="M1421.7,932.5L1486.5,953L1489.9,952.4L1425.1,931.9Z"/><path color="#4537d6" d="M1418.4,933.2L1483.2,953.7L1486.5,953L1421.7,932.5Z"/><path color="#4537d6" d="M1415.1,933.8L1479.9,954.3L1483.2,953.7L1418.4,933.2Z"/><path color="#4537d6" d="M1411.7,934.4L1476.5,954.9L1479.9,954.3L1415.1,933.8Z"/><path color="#4537d6" d="M1408.4,935L1473.2,955.5L1476.5,954.9L1411.7,934.4Z"/><path color="#4537d6" d="M1405,935.7L1469.9,956.1L1473.2,955.5L1408.4,935Z"/><path color="#4537d6" d="M1401.7,936.3L1466.5,956.8L1469.9,956.1L1405,935.7Z"/><path color="#4537d6" d="M1398.4,936.9L1463.2,957.4L1466.5,956.8L1401.7,936.3Z"/><path color="#4537d6" d="M1395,937.6L1459.9,958L1463.2,957.4L1398.4,936.9Z"/><path color="#4537d6" d="M1391.7,938.2L1456.5,958.6L1459.9,958L1395,937.6Z"/><path color="#4537d6" d="M1388.3,938.8L1453.2,959.3L1456.5,958.6L1391.7,938.2Z"/><path color="#4537d6" d="M1385,939.4L1449.9,959.9L1453.2,959.3L1388.3,938.8Z"/><path color="#4537d6" d="M1381.6,940.1L1446.5,960.5L1449.9,959.9L1385,939.4Z"/><path color="#4537d6" d="M1378.3,940.7L1443.2,961.1L1446.5,960.5L1381.6,940.1Z"/><path color="#4537d6" d="M1375,941.3L1439.8,961.8L1443.2,961.1L1378.3,940.7Z"/><path color="#4537d6" d="M1371.6,941.9L1436.5,962.4L1439.8,961.8L1375,941.3Z"/><path color="#4537d6" d="M1368.3,942.6L1433.2,963L1436.5,962.4L1371.6,941.9Z"/><path color="#4537d6" d="M1364.9,943.2L1429.8,963.6L1433.2,963L1368.3,942.6Z"/><path color="#4537d6" d="M1361.6,943.8L1426.5,964.2L1429.8,963.6L1364.9,943.2Z"/><path color="#4537d6" d="M1358.3,944.4L1423.2,964.9L1426.5,964.2L1361.6,943.8Z"/><path color="#4537d6" d="M1354.9,945.1L1419.8,965.5L1423.2,964.9L1358.3,944.4Z"/><path color="#4537d6" d="M1351.6,945.7L1416.5,966.1L1419.8,965.5L1354.9,945.1Z"/><path color="#4537d6" d="M1348.2,946.3L1413.2,966.7L1416.5,966.1L1351.6,945.7Z"/><path color="#4537d6" d="M1344.9,946.9L1409.8,967.4L1413.2,966.7L1348.2,946.3Z"/><path color="#4537d6" d="M1341.5,947.6L1406.5,968L1409.8,967.4L1344.9,946.9Z"/><path color="#4537d6" d="M1339.9,947.9L1404.8,968.3L1406.5,968L1341.5,947.6Z"/><path color="#4537d6" d="M1338.2,948.2L1403.2,968.6L1404.8,968.3L1339.9,947.9Z"/><path color="#4537d6" d="M1336.5,948.5L1401.5,968.9L1403.2,968.6L1338.2,948.2Z"/><path color="#4537d6" d="M1334.9,948.8L1399.8,969.2L1401.5,968.9L1336.5,948.5Z"/><path color="#4537d6" d="M1333.2,949.1L1398.2,969.5L1399.8,969.2L1334.9,948.8Z"/><path color="#4537d6" d="M1331.5,949.5L1396.5,969.9L1398.2,969.5L1333.2,949.1Z"/><path color="#4537d6" d="M1329.8,949.8L1394.8,970.2L1396.5,969.9L1331.5,949.5Z"/><path color="#4537d6" d="M1445.1,928.2L1509.9,948.7L1805.8,893.3L1741.7,872.6Z"/><path color="#463adb" d="M1441.8,926.3L1506.5,946.8L1509.9,948.7L1445.1,928.2Z"/><path color="#4854f5" d="M1438.4,910.1L1503.2,930.6L1506.5,946.8L1441.8,926.3Z"/><path color="#475af9" d="M1435.1,906.6L1499.9,927.1L1503.2,930.6L1438.4,910.1Z"/><path color="#475af9" d="M1431.8,907.3L1496.5,927.8L1499.9,927.1L1435.1,906.6Z"/><path color="#475af9" d="M1428.4,907.9L1493.2,928.4L1496.5,927.8L1431.8,907.3Z"/><path color="#475af9" d="M1425.1,908.6L1489.9,929.1L1493.2,928.4L1428.4,907.9Z"/><path color="#475af9" d="M1421.7,909.3L1486.5,929.8L1489.9,929.1L1425.1,908.6Z"/><path color="#475af9" d="M1418.4,910.1L1483.2,930.5L1486.5,929.8L1421.7,909.3Z"/><path color="#475af9" d="M1415.1,910.8L1479.9,931.3L1483.2,930.5L1418.4,910.1Z"/><path color="#475af9" d="M1411.7,911.6L1476.5,932L1479.9,931.3L1415.1,910.8Z"/><path color="#4759f9" d="M1408.4,912.3L1473.2,932.8L1476.5,932L1411.7,911.6Z"/><path color="#4759f8" d="M1405,913.1L1469.9,933.6L1473.2,932.8L1408.4,912.3Z"/><path color="#4759f8" d="M1401.7,913.9L1466.5,934.4L1469.9,933.6L1405,913.1Z"/><path color="#4759f8" d="M1398.4,914.7L1463.2,935.2L1466.5,934.4L1401.7,913.9Z"/><path color="#4758f8" d="M1395,915.5L1459.9,936L1463.2,935.2L1398.4,914.7Z"/><path color="#4758f8" d="M1391.7,916.3L1456.5,936.8L1459.9,936L1395,915.5Z"/><path color="#4758f8" d="M1388.3,917.2L1453.2,937.6L1456.5,936.8L1391.7,916.3Z"/><path color="#4757f7" d="M1385,918L1449.9,938.4L1453.2,937.6L1388.3,917.2Z"/><path color="#4757f7" d="M1381.6,918.8L1446.5,939.3L1449.9,938.4L1385,918Z"/><path color="#4757f7" d="M1378.3,919.6L1443.2,940.1L1446.5,939.3L1381.6,918.8Z"/><path color="#4756f7" d="M1375,920.5L1439.8,940.9L1443.2,940.1L1378.3,919.6Z"/><path color="#4756f7" d="M1371.6,921.3L1436.5,941.7L1439.8,940.9L1375,920.5Z"/><path color="#4756f6" d="M1368.3,922.1L1433.2,942.6L1436.5,941.7L1371.6,921.3Z"/><path color="#4756f6" d="M1364.9,922.9L1429.8,943.4L1433.2,942.6L1368.3,922.1Z"/><path color="#4755f6" d="M1361.6,923.7L1426.5,944.2L1429.8,943.4L1364.9,922.9Z"/><path color="#4755f6" d="M1358.3,924.5L1423.2,945L1426.5,944.2L1361.6,923.7Z"/><path color="#4755f6" d="M1354.9,925.3L1419.8,945.8L1423.2,945L1358.3,924.5Z"/><path color="#4855f6" d="M1351.6,926.1L1416.5,946.5L1419.8,945.8L1354.9,925.3Z"/><path color="#4854f6" d="M1348.2,926.9L1413.2,947.3L1416.5,946.5L1351.6,926.1Z"/><path color="#4854f5" d="M1344.9,927.6L1409.8,948.1L1413.2,947.3L1348.2,926.9Z"/><path color="#4854f5" d="M1341.5,928.4L1406.5,948.8L1409.8,948.1L1344.9,927.6Z"/><path color="#4854f5" d="M1339.9,928.7L1404.8,949.2L1406.5,948.8L1341.5,928.4Z"/><path color="#4854f5" d="M1338.2,929.1L1403.2,949.5L1404.8,949.2L1339.9,928.7Z"/><path color="#4854f5" d="M1336.5,929.5L1401.5,949.9L1403.2,949.5L1338.2,929.1Z"/><path color="#4854f5" d="M1334.9,929.8L1399.8,950.2L1401.5,949.9L1336.5,929.5Z"/><path color="#4854f5" d="M1333.2,930.2L1398.2,950.6L1399.8,950.2L1334.9,929.8Z"/><path color="#4854f5" d="M1331.5,930.5L1396.5,950.9L1398.2,950.6L1333.2,930.2Z"/><path color="#4854f5" d="M1329.8,930.8L1394.8,951.2L1396.5,950.9L1331.5,930.5Z"/><path style="fill:url(#g113);stroke:url(#g113)" d="M1394.8,951.2L1396.5,950.9L1398.2,950.6L1399.8,950.2L1401.5,949.9L1403.2,949.5L1404.8,949.2L1406.5,948.8L1409.8,948.1L1413.2,947.3L1416.5,946.5L1419.8,945.8L1423.2,945L1426.5,944.2L1429.8,943.4L1433.2,942.6L1436.5,941.7L1439.8,940.9L1443.2,940.1L1446.5,939.3L1449.9,938.4L1453.2,937.6L1456.5,936.8L1459.9,936L1463.2,935.2L1466.5,934.4L1469.9,933.6L1473.2,932.8L1476.5,932L1479.9,931.3L1483.2,930.5L1486.5,929.8L1489.9,929.1L1493.2,928.4L1496.5,927.8L1499.9,927.1L1503.2,930.6L1506.5,946.8L1509.9,948.7L1509.9,948.7L1506.5,949.3L1503.2,949.9L1499.9,950.5L1496.5,951.2L1493.2,951.8L1489.9,952.4L1486.5,953L1483.2,953.7L1479.9,954.3L1476.5,954.9L1473.2,955.5L1469.9,956.1L1466.5,956.8L1463.2,957.4L1459.9,958L1456.5,958.6L1453.2,959.3L1449.9,959.9L1446.5,960.5L1443.2,961.1L1439.8,961.8L1436.5,962.4L1433.2,963L1429.8,963.6L1426.5,964.2L1423.2,964.9L1419.8,965.5L1416.5,966.1L1413.2,966.7L1409.8,967.4L1406.5,968L1404.8,968.3L1403.2,968.6L1401.5,968.9L1399.8,969.2L1398.2,969.5L1396.5,969.9L1394.8,970.2Z"/><path color="#4537d6" d="M1503.2,949.9L1568,970.4L1571.3,969.8L1506.5,949.3Z"/><path color="#4537d6" d="M1499.9,950.5L1564.6,971L1568,970.4L1503.2,949.9Z"/><path color="#4537d6" d="M1496.5,951.2L1561.3,973.7L1564.6,971L1499.9,950.5Z"/><path color="#4537d6" d="M1493.2,951.8L1558,983.9L1561.3,973.7L1496.5,951.2Z"/><path color="#4537d6" d="M1489.9,952.4L1554.6,987.6L1558,983.9L1493.2,951.8Z"/><path color="#4537d6" d="M1486.5,953L1551.3,988.3L1554.6,987.6L1489.9,952.4Z"/><path color="#4537d6" d="M1483.2,953.7L1548,988.9L1551.3,988.3L1486.5,953Z"/><path color="#4537d6" d="M1479.9,954.3L1544.7,989.5L1548,988.9L1483.2,953.7Z"/><path color="#4537d6" d="M1476.5,954.9L1541.3,990.1L1544.7,989.5L1479.9,954.3Z"/><path color="#4537d6" d="M1473.2,955.5L1538,990.7L1541.3,990.1L1476.5,954.9Z"/><path color="#4537d6" d="M1469.9,956.1L1534.7,991.2L1538,990.7L1473.2,955.5Z"/><path color="#4537d6" d="M1466.5,956.8L1531.4,991.2L1534.7,991.2L1469.9,956.1Z"/><path color="#4537d6" d="M1463.2,957.4L1528,990.7L1531.4,991.2L1466.5,956.8Z"/><path color="#4537d6" d="M1459.9,958L1524.7,989.8L1528,990.7L1463.2,957.4Z"/><path color="#4537d6" d="M1456.5,958.6L1521.4,988.7L1524.7,989.8L1459.9,958Z"/><path color="#4537d6" d="M1453.2,959.3L1518,987.4L1521.4,988.7L1456.5,958.6Z"/><path color="#4537d6" d="M1449.9,959.9L1514.7,986.1L1518,987.4L1453.2,959.3Z"/><path color="#4537d6" d="M1446.5,960.5L1511.4,984.7L1514.7,986.1L1449.9,959.9Z"/><path color="#4537d6" d="M1443.2,961.1L1508.1,983.4L1511.4,984.7L1446.5,960.5Z"/><path color="#4537d6" d="M1439.8,961.8L1504.7,982.2L1508.1,983.4L1443.2,961.1Z"/><path color="#4537d6" d="M1436.5,962.4L1501.4,981.3L1504.7,982.2L1439.8,961.8Z"/><path color="#4537d6" d="M1433.2,963L1498.1,980.7L1501.4,981.3L1436.5,962.4Z"/><path color="#4537d6" d="M1429.8,963.6L1494.8,980.6L1498.1,980.7L1433.2,963Z"/><path color="#4537d6" d="M1426.5,964.2L1491.4,980.9L1494.8,980.6L1429.8,963.6Z"/><path color="#4537d6" d="M1423.2,964.9L1488.1,978.1L1491.4,980.9L1426.5,964.2Z"/><path color="#4537d6" d="M1419.8,965.5L1484.8,978.5L1488.1,978.1L1423.2,964.9Z"/><path color="#4537d6" d="M1416.5,966.1L1481.4,979.9L1484.8,978.5L1419.8,965.5Z"/><path color="#4537d6" d="M1413.2,966.7L1478.1,981.7L1481.4,979.9L1416.5,966.1Z"/><path color="#4537d6" d="M1409.8,967.4L1474.8,983.8L1478.1,981.7L1413.2,966.7Z"/><path color="#4537d6" d="M1406.5,968L1471.5,986.1L1474.8,983.8L1409.8,967.4Z"/><path color="#4537d6" d="M1404.8,968.3L1469.8,987.2L1471.5,986.1L1406.5,968Z"/><path color="#4537d6" d="M1403.2,968.6L1468.1,988.4L1469.8,987.2L1404.8,968.3Z"/><path color="#4537d6" d="M1401.5,968.9L1466.5,989.5L1468.1,988.4L1403.2,968.6Z"/><path color="#4537d6" d="M1399.8,969.2L1464.8,990.6L1466.5,989.5L1401.5,968.9Z"/><path color="#4537d6" d="M1398.2,969.5L1463.1,991.6L1464.8,990.6L1399.8,969.2Z"/><path color="#4537d6" d="M1396.5,969.9L1461.5,992.6L1463.1,991.6L1398.2,969.5Z"/><path color="#4537d6" d="M1394.8,970.2L1459.8,993.4L1461.5,992.6L1396.5,969.9Z"/><path color="#4537d6" d="M1509.9,948.7L1574.6,969.2L1869.9,914.1L1805.8,893.3Z"/><path color="#463adb" d="M1506.5,946.8L1571.3,967.4L1574.6,969.2L1509.9,948.7Z"/><path color="#4854f5" d="M1503.2,930.6L1568,951.1L1571.3,967.4L1506.5,946.8Z"/><path color="#475af9" d="M1499.9,927.1L1564.6,947.6L1568,951.1L1503.2,930.6Z"/><path color="#475af9" d="M1496.5,927.8L1561.3,948.2L1564.6,947.6L1499.9,927.1Z"/><path color="#475af9" d="M1493.2,928.4L1558,948.9L1561.3,948.2L1496.5,927.8Z"/><path color="#475af9" d="M1489.9,929.1L1554.6,949.6L1558,948.9L1493.2,928.4Z"/><path color="#475af9" d="M1486.5,929.8L1551.3,950.3L1554.6,949.6L1489.9,929.1Z"/><path color="#475af9" d="M1483.2,930.5L1548,951L1551.3,950.3L1486.5,929.8Z"/><path color="#475af9" d="M1479.9,931.3L1544.7,951.8L1548,951L1483.2,930.5Z"/><path color="#475af9" d="M1476.5,932L1541.3,952.5L1544.7,951.8L1479.9,931.3Z"/><path color="#4759f9" d="M1473.2,932.8L1538,953.3L1541.3,952.5L1476.5,932Z"/><path color="#4759f8" d="M1469.9,933.6L1534.7,954.1L1538,953.3L1473.2,932.8Z"/><path color="#4759f8" d="M1466.5,934.4L1531.4,954.8L1534.7,954.1L1469.9,933.6Z"/><path color="#4759f8" d="M1463.2,935.2L1528,955.6L1531.4,954.8L1466.5,934.4Z"/><path color="#4758f8" d="M1459.9,936L1524.7,956.4L1528,955.6L1463.2,935.2Z"/><path color="#4758f8" d="M1456.5,936.8L1521.4,957.3L1524.7,956.4L1459.9,936Z"/><path color="#4758f8" d="M1453.2,937.6L1518,958.1L1521.4,957.3L1456.5,936.8Z"/><path color="#4757f7" d="M1449.9,938.4L1514.7,958.9L1518,958.1L1453.2,937.6Z"/><path color="#4757f7" d="M1446.5,939.3L1511.4,959.7L1514.7,958.9L1449.9,938.4Z"/><path color="#4757f7" d="M1443.2,940.1L1508.1,960.5L1511.4,959.7L1446.5,939.3Z"/><path color="#4756f7" d="M1439.8,940.9L1504.7,961.4L1508.1,960.5L1443.2,940.1Z"/><path color="#4756f7" d="M1436.5,941.7L1501.4,962.2L1504.7,961.4L1439.8,940.9Z"/><path color="#4756f6" d="M1433.2,942.6L1498.1,963L1501.4,962.2L1436.5,941.7Z"/><path color="#4756f6" d="M1429.8,943.4L1494.8,963.8L1498.1,963L1433.2,942.6Z"/><path color="#4755f6" d="M1426.5,944.2L1491.4,964.6L1494.8,963.8L1429.8,943.4Z"/><path color="#4755f6" d="M1423.2,945L1488.1,965.4L1491.4,964.6L1426.5,944.2Z"/><path color="#4755f6" d="M1419.8,945.8L1484.8,966.2L1488.1,965.4L1423.2,945Z"/><path color="#4855f6" d="M1416.5,946.5L1481.4,967L1484.8,966.2L1419.8,945.8Z"/><path color="#4854f6" d="M1413.2,947.3L1478.1,967.7L1481.4,967L1416.5,946.5Z"/><path color="#4854f5" d="M1409.8,948.1L1474.8,968.5L1478.1,967.7L1413.2,947.3Z"/><path color="#4854f5" d="M1406.5,948.8L1471.5,969.2L1474.8,968.5L1409.8,948.1Z"/><path color="#4854f5" d="M1404.8,949.2L1469.8,969.6L1471.5,969.2L1406.5,948.8Z"/><path color="#4854f5" d="M1403.2,949.5L1468.1,969.9L1469.8,969.6L1404.8,949.2Z"/><path color="#4854f5" d="M1401.5,949.9L1466.5,970.3L1468.1,969.9L1403.2,949.5Z"/><path color="#4854f5" d="M1399.8,950.2L1464.8,970.6L1466.5,970.3L1401.5,949.9Z"/><path color="#4854f5" d="M1398.2,950.6L1463.1,971L1464.8,970.6L1399.8,950.2Z"/><path color="#4854f5" d="M1396.5,950.9L1461.5,971.3L1463.1,971L1398.2,950.6Z"/><path color="#4854f5" d="M1394.8,951.2L1459.8,971.6L1461.5,971.3L1396.5,950.9Z"/><path style="fill:url(#g114);stroke:url(#g114)" d="M1459.8,971.6L1461.5,971.3L1463.1,971L1464.8,970.6L1466.5,970.3L1468.1,969.9L1469.8,969.6L1471.5,969.2L1474.8,968.5L1478.1,967.7L1481.4,967L1484.8,966.2L1488.1,965.4L1491.4,964.6L1494.8,963.8L1498.1,963L1501.4,962.2L1504.7,961.4L1508.1,960.5L1511.4,959.7L1514.7,958.9L1518,958.1L1521.4,957.3L1524.7,956.4L1528,955.6L1531.4,954.8L1534.7,954.1L1538,953.3L1541.3,952.5L1544.7,951.8L1548,951L1551.3,950.3L1554.6,949.6L1558,948.9L1561.3,948.2L1564.6,947.6L1568,951.1L1571.3,967.4L1574.6,969.2L1574.6,969.2L1571.3,969.8L1568,970.4L1564.6,971L1561.3,973.7L1558,983.9L1554.6,987.6L1551.3,988.3L1548,988.9L1544.7,989.5L1541.3,990.1L1538,990.7L1534.7,991.2L1531.4,991.2L1528,990.7L1524.7,989.8L1521.4,988.7L1518,987.4L1514.7,986.1L1511.4,984.7L1508.1,983.4L1504.7,982.2L1501.4,981.3L1498.1,980.7L1494.8,980.6L1491.4,980.9L1488.1,978.1L1484.8,978.5L1481.4,979.9L1478.1,981.7L1474.8,983.8L1471.5,986.1L1469.8,987.2L1468.1,988.4L1466.5,989.5L1464.8,990.6L1463.1,991.6L1461.5,992.6L1459.8,993.4Z"/><path color="#4537d6" d="M1568,970.4L1632.7,990.9L1636,990.3L1571.3,969.8Z"/><path color="#4537d6" d="M1564.6,971L1629.4,991.5L1632.7,990.9L1568,970.4Z"/><path color="#4435d0" d="M1561.3,973.7L1626.1,994.2L1629.4,991.5L1564.6,971Z"/><path color="#4435d0" d="M1558,983.9L1622.8,1004.4L1626.1,994.2L1561.3,973.7Z"/><path color="#4435d0" d="M1554.6,987.6L1619.4,1008.1L1622.8,1004.4L1558,983.9Z"/><path color="#4435d0" d="M1551.3,988.3L1616.1,1008.7L1619.4,1008.1L1554.6,987.6Z"/><path color="#4435d0" d="M1548,988.9L1612.8,1009.4L1616.1,1008.7L1551.3,988.3Z"/><path color="#4435d0" d="M1544.7,989.5L1609.5,1010L1612.8,1009.4L1548,988.9Z"/><path color="#4435d0" d="M1541.3,990.1L1606.2,1010.6L1609.5,1010L1544.7,989.5Z"/><path color="#4435d0" d="M1538,990.7L1602.8,1011.2L1606.2,1010.6L1541.3,990.1Z"/><path color="#4435d0" d="M1534.7,991.2L1599.5,1011.7L1602.8,1011.2L1538,990.7Z"/><path color="#4435d0" d="M1531.4,991.2L1596.2,1011.6L1599.5,1011.7L1534.7,991.2Z"/><path color="#4435d0" d="M1528,990.7L1592.9,1011.1L1596.2,1011.6L1531.4,991.2Z"/><path color="#4435d0" d="M1524.7,989.8L1589.6,1010.3L1592.9,1011.1L1528,990.7Z"/><path color="#4435d0" d="M1521.4,988.7L1586.2,1009.2L1589.6,1010.3L1524.7,989.8Z"/><path color="#4435d0" d="M1518,987.4L1582.9,1007.9L1586.2,1009.2L1521.4,988.7Z"/><path color="#4435d0" d="M1514.7,986.1L1579.6,1006.5L1582.9,1007.9L1518,987.4Z"/><path color="#4435d0" d="M1511.4,984.7L1576.3,1005.1L1579.6,1006.5L1514.7,986.1Z"/><path color="#4435d1" d="M1508.1,983.4L1572.9,1003.8L1576.3,1005.1L1511.4,984.7Z"/><path color="#4537d6" d="M1504.7,982.2L1569.6,1002.7L1572.9,1003.8L1508.1,983.4Z"/><path color="#4639d9" d="M1501.4,981.3L1566.3,1001.7L1569.6,1002.7L1504.7,982.2Z"/><path color="#463bdc" d="M1498.1,980.7L1563,1001.2L1566.3,1001.7L1501.4,981.3Z"/><path color="#463cde" d="M1494.8,980.6L1559.7,1001L1563,1001.2L1498.1,980.7Z"/><path color="#463cdf" d="M1491.4,980.9L1556.3,1001.3L1559.7,1001L1494.8,980.6Z"/><path color="#4741e5" d="M1488.1,978.1L1553,998.6L1556.3,1001.3L1491.4,980.9Z"/><path color="#4742e6" d="M1484.8,978.5L1549.7,999L1553,998.6L1488.1,978.1Z"/><path color="#4740e4" d="M1481.4,979.9L1546.4,1000.3L1549.7,999L1484.8,978.5Z"/><path color="#473fe2" d="M1478.1,981.7L1543.1,1002.1L1546.4,1000.3L1481.4,979.9Z"/><path color="#463cdf" d="M1474.8,983.8L1539.8,1004.2L1543.1,1002.1L1478.1,981.7Z"/><path color="#463adb" d="M1471.5,986.1L1536.4,1006.5L1539.8,1004.2L1474.8,983.8Z"/><path color="#4639d9" d="M1469.8,987.2L1534.8,1007.7L1536.4,1006.5L1471.5,986.1Z"/><path color="#4538d7" d="M1468.1,988.4L1533.1,1008.8L1534.8,1007.7L1469.8,987.2Z"/><path color="#4537d5" d="M1466.5,989.5L1531.4,1009.9L1533.1,1008.8L1468.1,988.4Z"/><path color="#4536d3" d="M1464.8,990.6L1529.8,1011L1531.4,1009.9L1466.5,989.5Z"/><path color="#4435d1" d="M1463.1,991.6L1528.1,1012L1529.8,1011L1464.8,990.6Z"/><path color="#4435d0" d="M1461.5,992.6L1526.5,1013L1528.1,1012L1463.1,991.6Z"/><path color="#4435d0" d="M1459.8,993.4L1524.8,1013.8L1526.5,1013L1461.5,992.6Z"/><path color="#4537d6" d="M1574.6,969.2L1639.3,989.7L1934,934.9L1869.9,914.1Z"/><path color="#463adb" d="M1571.3,967.4L1636,987.9L1639.3,989.7L1574.6,969.2Z"/><path color="#4854f5" d="M1568,951.1L1632.7,971.6L1636,987.9L1571.3,967.4Z"/><path color="#475af9" d="M1564.6,947.6L1629.4,968.1L1632.7,971.6L1568,951.1Z"/><path color="#475af9" d="M1561.3,948.2L1626.1,968.7L1629.4,968.1L1564.6,947.6Z"/><path color="#475af9" d="M1558,948.9L1622.8,969.4L1626.1,968.7L1561.3,948.2Z"/><path color="#475af9" d="M1554.6,949.6L1619.4,970.1L1622.8,969.4L1558,948.9Z"/><path color="#475af9" d="M1551.3,950.3L1616.1,970.8L1619.4,970.1L1554.6,949.6Z"/><path color="#475af9" d="M1548,951L1612.8,971.5L1616.1,970.8L1551.3,950.3Z"/><path color="#475af9" d="M1544.7,951.8L1609.5,972.2L1612.8,971.5L1548,951Z"/><path color="#475af9" d="M1541.3,952.5L1606.2,973L1609.5,972.2L1544.7,951.8Z"/><path color="#4759f9" d="M1538,953.3L1602.8,973.8L1606.2,973L1541.3,952.5Z"/><path color="#4759f8" d="M1534.7,954.1L1599.5,974.5L1602.8,973.8L1538,953.3Z"/><path color="#4759f8" d="M1531.4,954.8L1596.2,975.3L1599.5,974.5L1534.7,954.1Z"/><path color="#4759f8" d="M1528,955.6L1592.9,976.1L1596.2,975.3L1531.4,954.8Z"/><path color="#4758f8" d="M1524.7,956.4L1589.6,976.9L1592.9,976.1L1528,955.6Z"/><path color="#4758f8" d="M1521.4,957.3L1586.2,977.7L1589.6,976.9L1524.7,956.4Z"/><path color="#4758f8" d="M1518,958.1L1582.9,978.5L1586.2,977.7L1521.4,957.3Z"/><path color="#4757f7" d="M1514.7,958.9L1579.6,979.3L1582.9,978.5L1518,958.1Z"/><path color="#4757f7" d="M1511.4,959.7L1576.3,980.2L1579.6,979.3L1514.7,958.9Z"/><path color="#4757f7" d="M1508.1,960.5L1572.9,981L1576.3,980.2L1511.4,959.7Z"/><path color="#4756f7" d="M1504.7,961.4L1569.6,981.8L1572.9,981L1508.1,960.5Z"/><path color="#4756f7" d="M1501.4,962.2L1566.3,982.6L1569.6,981.8L1504.7,961.4Z"/><path color="#4756f6" d="M1498.1,963L1563,983.4L1566.3,982.6L1501.4,962.2Z"/><path color="#4756f6" d="M1494.8,963.8L1559.7,984.2L1563,983.4L1498.1,963Z"/><path color="#4755f6" d="M1491.4,964.6L1556.3,985L1559.7,984.2L1494.8,963.8Z"/><path color="#4755f6" d="M1488.1,965.4L1553,985.8L1556.3,985L1491.4,964.6Z"/><path color="#4755f6" d="M1484.8,966.2L1549.7,986.6L1553,985.8L1488.1,965.4Z"/><path color="#4855f6" d="M1481.4,967L1546.4,987.4L1549.7,986.6L1484.8,966.2Z"/><path color="#4854f6" d="M1478.1,967.7L1543.1,988.1L1546.4,987.4L1481.4,967Z"/><path color="#4854f5" d="M1474.8,968.5L1539.8,988.9L1543.1,988.1L1478.1,967.7Z"/><path color="#4854f5" d="M1471.5,969.2L1536.4,989.6L1539.8,988.9L1474.8,968.5Z"/><path color="#4854f5" d="M1469.8,969.6L1534.8,990L1536.4,989.6L1471.5,969.2Z"/><path color="#4854f5" d="M1468.1,969.9L1533.1,990.3L1534.8,990L1469.8,969.6Z"/><path color="#4854f5" d="M1466.5,970.3L1531.4,990.7L1533.1,990.3L1468.1,969.9Z"/><path color="#4854f5" d="M1464.8,970.6L1529.8,991L1531.4,990.7L1466.5,970.3Z"/><path color="#4854f5" d="M1463.1,971L1528.1,991.4L1529.8,991L1464.8,970.6Z"/><path color="#4854f5" d="M1461.5,971.3L1526.5,991.7L1528.1,991.4L1463.1,971Z"/><path color="#4854f5" d="M1459.8,971.6L1524.8,992L1526.5,991.7L1461.5,971.3Z"/><path style="fill:url(#g115);stroke:url(#g115)" d="M1524.8,992L1526.5,991.7L1528.1,991.4L1529.8,991L1531.4,990.7L1533.1,990.3L1534.8,990L1536.4,989.6L1539.8,988.9L1543.1,988.1L1546.4,987.4L1549.7,986.6L1553,985.8L1556.3,985L1559.7,984.2L1563,983.4L1566.3,982.6L1569.6,981.8L1572.9,981L1576.3,980.2L1579.6,979.3L1582.9,978.5L1586.2,977.7L1589.6,976.9L1592.9,976.1L1596.2,975.3L1599.5,974.5L1602.8,973.8L1606.2,973L1609.5,972.2L1612.8,971.5L1616.1,970.8L1619.4,970.1L1622.8,969.4L1626.1,968.7L1629.4,968.1L1632.7,971.6L1636,987.9L1639.3,989.7L1639.3,989.7L1636,990.3L1632.7,990.9L1629.4,991.5L1626.1,994.2L1622.8,1004.4L1619.4,1008.1L1616.1,1008.7L1612.8,1009.4L1609.5,1010L1606.2,1010.6L1602.8,1011.2L1599.5,1011.7L1596.2,1011.6L1592.9,1011.1L1589.6,1010.3L1586.2,1009.2L1582.9,1007.9L1579.6,1006.5L1576.3,1005.1L1572.9,1003.8L1569.6,1002.7L1566.3,1001.7L1563,1001.2L1559.7,1001L1556.3,1001.3L1553,998.6L1549.7,999L1546.4,1000.3L1543.1,1002.1L1539.8,1004.2L1536.4,1006.5L1534.8,1007.7L1533.1,1008.8L1531.4,1009.9L1529.8,1011L1528.1,1012L1526.5,1013L1524.8,1013.8Z"/></g><path fill="#fff" d="M1194,910.1L1259,930.5L1259,774L1194,753.6ZM1259,930.5L1324,950.9L1324,751.7L1259,774ZM1324,950.9L1389,971.3L1389,756.6L1324,751.7ZM1389,971.3L1454,995.4L1454,778.9L1389,756.6ZM1454,995.4L1519,1015.8L1519,799.3L1454,778.9Z"/><g class="r" clip-path="url(#c11)"><path color="#4537d6" d="M1199.9,909L1264.9,929.4"/><path color="#4537d6" d="M1264.9,929.4L1329.8,949.8"/><path color="#4537d6" d="M1329.8,949.8L1394.8,970.2"/><path color="#4537d6" d="M1394.8,970.2L1459.8,993.4"/><path color="#4435d0" d="M1459.8,993.4L1524.8,1013.8"/><path color="#4537d6" d="M1194,910.1L1259,930.5"/><path color="#4537d6" d="M1259,930.5L1324,950.9"/><path color="#4537d6" d="M1324,950.9L1389,971.3"/><path color="#4537d6" d="M1389,971.3L1454,995.4"/><path color="#4435d0" d="M1454,995.4L1519,1015.8"/><path color="#4854f5" d="M1199.9,890L1264.9,910.4"/><path color="#4854f5" d="M1264.9,910.4L1329.8,930.8"/><path color="#4854f5" d="M1329.8,930.8L1394.8,951.2"/><path color="#4854f5" d="M1394.8,951.2L1459.8,971.6"/><path color="#4854f5" d="M1459.8,971.6L1524.8,992"/><path color="#4758f8" d="M1196.9,887.5L1261.8,907.9"/><path color="#4758f8" d="M1261.8,907.9L1326.8,928.2"/><path color="#4758f8" d="M1326.8,928.2L1391.8,951.1"/><path color="#4755f6" d="M1391.8,951.1L1456.8,970.9"/><path color="#4755f6" d="M1456.8,970.9L1521.8,991.2"/><path color="#475dfa" d="M1196.3,884.7L1261.3,905.1"/><path color="#475dfa" d="M1261.3,905.1L1326.3,925.3"/><path color="#465dfa" d="M1326.3,925.3L1391.3,950"/><path color="#4756f7" d="M1391.3,950L1456.3,969.2"/><path color="#4758f8" d="M1456.3,969.2L1521.3,989.3"/><path color="#4562fc" d="M1196,881.3L1261,901.7"/><path color="#4562fc" d="M1261,901.7L1326,921.8"/><path color="#4563fc" d="M1326,921.8L1391,948.2"/><path color="#4759f8" d="M1391,948.2L1456,966.7"/><path color="#475cfa" d="M1456,966.7L1521,986.6"/><path color="#416bfe" d="M1195.7,876.1L1260.7,896.5"/><path color="#416bfe" d="M1260.7,896.5L1325.7,916.3"/><path color="#416cfe" d="M1325.7,916.3L1390.7,944.7"/><path color="#465ffb" d="M1390.7,944.7L1455.7,962.2"/><path color="#4563fd" d="M1455.7,962.2L1520.7,981.9"/><path color="#3d71ff" d="M1195.5,872.4L1260.5,892.8"/><path color="#3d71ff" d="M1260.5,892.8L1325.5,912.6"/><path color="#3c72ff" d="M1325.5,912.6L1390.5,941.9"/><path color="#4563fd" d="M1390.5,941.9L1455.5,958.8"/><path color="#4269fe" d="M1455.5,958.8L1520.5,978.3"/><path color="#3579fd" d="M1195.3,867.8L1260.3,888.2"/><path color="#3579fd" d="M1260.3,888.2L1325.3,907.8"/><path color="#347afd" d="M1325.3,907.8L1390.3,938"/><path color="#426afe" d="M1390.3,938L1455.3,954.1"/><path color="#3d71ff" d="M1455.3,954.1L1520.3,973.5"/><path color="#2f82fa" d="M1195.2,862.1L1260.2,882.5"/><path color="#2f82fa" d="M1260.2,882.5L1325.2,901.9"/><path color="#2e84f9" d="M1325.2,901.9L1390.2,932.5"/><path color="#3b73fe" d="M1390.2,932.5L1455.2,947.8"/><path color="#327bfc" d="M1455.2,947.8L1520.2,967.1"/><path color="#2d8df2" d="M1195,854.9L1260,875.3"/><path color="#2d8df2" d="M1260,875.3L1325,894.4"/><path color="#2c8ff1" d="M1325,894.4L1390,924.9"/><path color="#307ffb" d="M1390,924.9L1455,939.4"/><path color="#2d88f6" d="M1455,939.4L1520,958.5"/><path color="#2699e9" d="M1194.8,845.9L1259.8,866.3"/><path color="#2699e9" d="M1259.8,866.3L1324.8,885"/><path color="#259be7" d="M1324.8,885L1389.8,914.3"/><path color="#2c8ff0" d="M1389.8,914.3L1454.8,928.1"/><path color="#2698ea" d="M1454.8,928.1L1519.8,947"/><path color="#1ea8e1" d="M1194.7,834.7L1259.7,855.1"/><path color="#1ea8e1" d="M1259.7,855.1L1324.7,873.2"/><path color="#1baade" d="M1324.7,873.2L1389.7,899.6"/><path color="#21a3e3" d="M1389.7,899.6L1454.7,912.9"/><path color="#1aabdd" d="M1454.7,912.9L1519.7,931.7"/><path color="#04b6cd" d="M1194.5,820.6L1259.5,841"/><path color="#04b6cd" d="M1259.5,841L1324.5,857.9"/><path color="#01b9c7" d="M1324.5,857.9L1389.5,879.2"/><path color="#01b8c9" d="M1389.5,879.2L1454.5,892.5"/><path color="#0dbdbb" d="M1454.5,892.5L1519.5,911.3"/><path color="#26c2ac" d="M1194.3,803.1L1259.3,823.5"/><path color="#26c2ac" d="M1259.3,823.5L1324.3,837.3"/><path color="#32c69f" d="M1324.3,837.3L1389.3,850.8"/><path color="#3fca8e" d="M1389.3,850.8L1454.3,865.1"/><path color="#53cc7e" d="M1454.3,865.1L1519.3,884"/><path color="#5bcc76" d="M1194.2,781.1L1259.2,801.5"/><path color="#5bcc76" d="M1259.2,801.5L1324.2,806.6"/><path color="#96ca48" d="M1324.2,806.6L1389.2,811.4"/><path color="#cfc028" d="M1389.2,811.4L1454.2,828.3"/><path color="#d9bd28" d="M1454.2,828.3L1519.2,847.7"/><path color="#4537d6" d="M1194,910.1L1194,753.6"/><path color="#4537d6" d="M1259,930.5L1259,774"/><path color="#4537d6" d="M1324,950.9L1324,751.7"/><path color="#4537d6" d="M1389,971.3L1389,756.6"/><path color="#4537d6" d="M1454,995.4L1454,778.9"/><path color="#4537d6" d="M1519,1015.8L1519,799.3"/><path color="#c4c22b" d="M1194,753.6L1259,774"/><path color="#c4c22b" d="M1259,774L1324,751.7"/><path color="#f6e028" d="M1324,751.7L1389,756.6"/><path color="#f9fa16" d="M1389,756.6L1454,778.9"/><path color="#f8f719" d="M1454,778.9L1519,799.3"/></g><path class="a" d="M1194,693.5L1194,924.8L1519,1026.8L1934,949.6M1194,910.1l-12.9,-2.7M1194,834.5l-12.9,-2.7M1194,758.9l-12.9,-2.7M1194,924.8l-13.4,3.6M1356.5,975.8l-13.4,3.6M1519,1026.8l-13.4,3.6M1519,1026.8l12.4,3.8M1726.5,988.2l12.4,3.8M1934,949.6l12.4,3.8"/><text x="1171.5" y="922.6" text-anchor="end">0</text><text x="1171.5" y="847" text-anchor="end">20</text><text x="1171.5" y="771.4" text-anchor="end">40</text><text x="1160" y="974.8" text-anchor="middle">0</text><text x="1303.5" y="1025.8" text-anchor="middle">0.5</text><text x="1483" y="1077.8" text-anchor="middle">1</text><text x="1547" y="1080.8" text-anchor="middle">0</text><text x="1756.5" y="1041.2" text-anchor="middle">5</text><text x="1981" y="1000.6" text-anchor="middle">10</text><text x="1298" y="1120.8" text-anchor="middle" font-style="italic">ζ</text><text x="1783" y="1124.8" text-anchor="middle"><tspan font-style="italic">t</tspan>(s)</text><text x="1054" y="781.5"><tspan font-style="italic">u</tspan><tspan dx="4" dy="23" font-size="36">22</tspan></text></g><g><path class="g" d="M182,1488.7L601.5,1409.7M601.5,1409.7L922,1513.5M182,1379.5L601.5,1300.5M601.5,1300.5L922,1404.3M182,1270.3L601.5,1191.3M601.5,1191.3L922,1295.1M391.8,1462.1L391.8,1230.8M601.5,1422.6L601.5,1191.3M761.8,1474.5L761.8,1243.2M922,1526.4L922,1295.1M391.8,1462.1L714.5,1565M601.5,1422.6L922,1526.4M182,1501.6L601.5,1422.6M344.5,1552.6L761.8,1474.5"/><g class="s" clip-path="url(#c02)"><path style="fill:url(#g020);stroke:url(#g020)" d="M187.9,1469.6L189.6,1469.8L191.2,1469.5L192.9,1469.1L194.6,1468.8L196.3,1468.3L197.9,1467.9L199.6,1467.4L203,1466.4L206.3,1465.2L209.7,1464L213,1462.7L216.4,1461.2L219.8,1459.8L223.1,1458.2L226.5,1456.7L229.8,1455.1L233.2,1453.4L236.5,1451.8L239.9,1450.1L243.2,1448.5L246.6,1446.8L250,1445.2L253.3,1443.6L256.7,1442.1L260,1440.6L263.4,1439.2L266.7,1437.8L270.1,1436.6L273.5,1435.4L276.8,1434.3L280.2,1433.4L283.5,1432.5L286.9,1431.8L290.2,1449.8L293.6,1467.7L296.9,1467.1L299.5,1466.6L299.5,1473.1L296.9,1473.6L293.6,1474.3L290.2,1474.9L286.9,1475.5L283.5,1476.1L280.2,1476.8L276.8,1477.4L273.5,1478L270.1,1478.7L266.7,1479.3L263.4,1479.9L260,1480.6L256.7,1481.2L253.3,1481.8L250,1482.5L246.6,1483.1L243.2,1483.7L239.9,1484.4L236.5,1485L233.2,1485.6L229.8,1486.3L226.5,1486.9L223.1,1487.5L219.8,1488.2L216.4,1488.8L213,1489.4L209.7,1490.1L206.3,1490.7L203,1491.3L199.6,1491.9L197.9,1492.3L196.3,1492.6L194.6,1492.9L192.9,1493.2L191.2,1493.5L189.6,1493.8L187.9,1494.2Z"/><path color="#4434ce" d="M299.5,1473.1L364.2,1493.6L665.6,1437L601.5,1416.3Z"/><path color="#4434ce" d="M296.9,1473.6L361.7,1494.1L364.2,1493.6L299.5,1473.1Z"/><path color="#4434ce" d="M293.6,1474.3L358.3,1494.7L361.7,1494.1L296.9,1473.6Z"/><path color="#4434ce" d="M290.2,1474.9L355,1495.4L358.3,1494.7L293.6,1474.3Z"/><path color="#4434ce" d="M286.9,1475.5L351.7,1496L355,1495.4L290.2,1474.9Z"/><path color="#4434ce" d="M283.5,1476.1L348.3,1496.6L351.7,1496L286.9,1475.5Z"/><path color="#4434ce" d="M280.2,1476.8L345,1497.3L348.3,1496.6L283.5,1476.1Z"/><path color="#4434ce" d="M276.8,1477.4L341.6,1497.9L345,1497.3L280.2,1476.8Z"/><path color="#4434ce" d="M273.5,1478L338.3,1498.5L341.6,1497.9L276.8,1477.4Z"/><path color="#4434ce" d="M270.1,1478.7L334.9,1499.2L338.3,1498.5L273.5,1478Z"/><path color="#4434ce" d="M266.7,1479.3L331.6,1499.8L334.9,1499.2L270.1,1478.7Z"/><path color="#4434ce" d="M263.4,1479.9L328.2,1500.4L331.6,1499.8L266.7,1479.3Z"/><path color="#4434ce" d="M260,1480.6L324.9,1501L328.2,1500.4L263.4,1479.9Z"/><path color="#4434ce" d="M256.7,1481.2L321.5,1501.7L324.9,1501L260,1480.6Z"/><path color="#4434ce" d="M253.3,1481.8L318.2,1502.3L321.5,1501.7L256.7,1481.2Z"/><path color="#4434ce" d="M250,1482.5L314.8,1502.9L318.2,1502.3L253.3,1481.8Z"/><path color="#4434ce" d="M246.6,1483.1L311.5,1503.6L314.8,1502.9L250,1482.5Z"/><path color="#4434ce" d="M243.2,1483.7L308.1,1504.2L311.5,1503.6L246.6,1483.1Z"/><path color="#4434ce" d="M239.9,1484.4L304.8,1504.8L308.1,1504.2L243.2,1483.7Z"/><path color="#4434ce" d="M236.5,1485L301.4,1505.4L304.8,1504.8L239.9,1484.4Z"/><path color="#4434ce" d="M233.2,1485.6L298.1,1506.1L301.4,1505.4L236.5,1485Z"/><path color="#4434ce" d="M229.8,1486.3L294.7,1506.7L298.1,1506.1L233.2,1485.6Z"/><path color="#4434ce" d="M226.5,1486.9L291.4,1507.3L294.7,1506.7L229.8,1486.3Z"/><path color="#4434ce" d="M223.1,1487.5L288,1508L291.4,1507.3L226.5,1486.9Z"/><path color="#4434ce" d="M219.8,1488.2L284.7,1508.6L288,1508L223.1,1487.5Z"/><path color="#4434ce" d="M216.4,1488.8L281.3,1509.2L284.7,1508.6L219.8,1488.2Z"/><path color="#4434ce" d="M213,1489.4L278,1509.8L281.3,1509.2L216.4,1488.8Z"/><path color="#4434ce" d="M209.7,1490.1L274.6,1510.5L278,1509.8L213,1489.4Z"/><path color="#4434ce" d="M206.3,1490.7L271.3,1511.1L274.6,1510.5L209.7,1490.1Z"/><path color="#4434ce" d="M203,1491.3L267.9,1511.7L271.3,1511.1L206.3,1490.7Z"/><path color="#4434ce" d="M199.6,1491.9L264.6,1512.4L267.9,1511.7L203,1491.3Z"/><path color="#4434ce" d="M197.9,1492.3L262.9,1512.7L264.6,1512.4L199.6,1491.9Z"/><path color="#4434ce" d="M196.3,1492.6L261.2,1513L262.9,1512.7L197.9,1492.3Z"/><path color="#4434ce" d="M194.6,1492.9L259.6,1513.3L261.2,1513L196.3,1492.6Z"/><path color="#4434ce" d="M192.9,1493.2L257.9,1513.6L259.6,1513.3L194.6,1492.9Z"/><path color="#4434ce" d="M191.2,1493.5L256.2,1513.9L257.9,1513.6L192.9,1493.2Z"/><path color="#4434ce" d="M189.6,1493.8L254.5,1514.3L256.2,1513.9L191.2,1493.5Z"/><path color="#4434ce" d="M187.9,1494.2L252.9,1514.6L254.5,1514.3L189.6,1493.8Z"/><path color="#4537d5" d="M299.5,1466.6L364.2,1487.1L665.6,1430.5L601.5,1409.7Z"/><path color="#4537d5" d="M296.9,1467.1L361.7,1487.6L364.2,1487.1L299.5,1466.6Z"/><path color="#4537d5" d="M293.6,1467.7L358.3,1488.2L361.7,1487.6L296.9,1467.1Z"/><path color="#4756f7" d="M290.2,1449.8L355,1470.3L358.3,1488.2L293.6,1467.7Z"/><path color="#3678fe" d="M286.9,1431.8L351.7,1452.3L355,1470.3L290.2,1449.8Z"/><path color="#3678fe" d="M283.5,1432.5L348.3,1453L351.7,1452.3L286.9,1431.8Z"/><path color="#3777fe" d="M280.2,1433.4L345,1453.9L348.3,1453L283.5,1432.5Z"/><path color="#3777fe" d="M276.8,1434.3L341.6,1454.8L345,1453.9L280.2,1433.4Z"/><path color="#3876fe" d="M273.5,1435.4L338.3,1455.9L341.6,1454.8L276.8,1434.3Z"/><path color="#3975fe" d="M270.1,1436.6L334.9,1457L338.3,1455.9L273.5,1435.4Z"/><path color="#3a73fe" d="M266.7,1437.8L331.6,1458.3L334.9,1457L270.1,1436.6Z"/><path color="#3b72ff" d="M263.4,1439.2L328.2,1459.7L331.6,1458.3L266.7,1437.8Z"/><path color="#3d71ff" d="M260,1440.6L324.9,1461.1L328.2,1459.7L263.4,1439.2Z"/><path color="#3e6fff" d="M256.7,1442.1L321.5,1462.6L324.9,1461.1L260,1440.6Z"/><path color="#406dfe" d="M253.3,1443.6L318.2,1464.1L321.5,1462.6L256.7,1442.1Z"/><path color="#416bfe" d="M250,1445.2L314.8,1465.7L318.2,1464.1L253.3,1443.6Z"/><path color="#426afe" d="M246.6,1446.8L311.5,1467.3L314.8,1465.7L250,1445.2Z"/><path color="#4368fe" d="M243.2,1448.5L308.1,1468.9L311.5,1467.3L246.6,1446.8Z"/><path color="#4466fd" d="M239.9,1450.1L304.8,1470.6L308.1,1468.9L243.2,1448.5Z"/><path color="#4464fd" d="M236.5,1451.8L301.4,1472.2L304.8,1470.6L239.9,1450.1Z"/><path color="#4562fc" d="M233.2,1453.4L298.1,1473.9L301.4,1472.2L236.5,1451.8Z"/><path color="#4661fc" d="M229.8,1455.1L294.7,1475.5L298.1,1473.9L233.2,1453.4Z"/><path color="#465ffb" d="M226.5,1456.7L291.4,1477.1L294.7,1475.5L229.8,1455.1Z"/><path color="#465dfa" d="M223.1,1458.2L288,1478.7L291.4,1477.1L226.5,1456.7Z"/><path color="#475cfa" d="M219.8,1459.8L284.7,1480.2L288,1478.7L223.1,1458.2Z"/><path color="#475af9" d="M216.4,1461.2L281.3,1481.7L284.7,1480.2L219.8,1459.8Z"/><path color="#4759f8" d="M213,1462.7L278,1483.1L281.3,1481.7L216.4,1461.2Z"/><path color="#4758f8" d="M209.7,1464L274.6,1484.4L278,1483.1L213,1462.7Z"/><path color="#4757f7" d="M206.3,1465.2L271.3,1485.6L274.6,1484.4L209.7,1464Z"/><path color="#4756f6" d="M203,1466.4L267.9,1486.8L271.3,1485.6L206.3,1465.2Z"/><path color="#4755f6" d="M199.6,1467.4L264.6,1487.8L267.9,1486.8L203,1466.4Z"/><path color="#4755f6" d="M197.9,1467.9L262.9,1488.3L264.6,1487.8L199.6,1467.4Z"/><path color="#4854f6" d="M196.3,1468.3L261.2,1488.8L262.9,1488.3L197.9,1467.9Z"/><path color="#4854f6" d="M194.6,1468.8L259.6,1489.2L261.2,1488.8L196.3,1468.3Z"/><path color="#4854f5" d="M192.9,1469.1L257.9,1489.6L259.6,1489.2L194.6,1468.8Z"/><path color="#4854f5" d="M191.2,1469.5L256.2,1489.9L257.9,1489.6L192.9,1469.1Z"/><path color="#4854f5" d="M189.6,1469.8L254.5,1490.2L256.2,1489.9L191.2,1469.5Z"/><path color="#4755f6" d="M187.9,1469.6L252.9,1490L254.5,1490.2L189.6,1469.8Z"/><path style="fill:url(#g021);stroke:url(#g021)" d="M252.9,1490L254.5,1490.2L256.2,1489.9L257.9,1489.6L259.6,1489.2L261.2,1488.8L262.9,1488.3L264.6,1487.8L267.9,1486.8L271.3,1485.6L274.6,1484.4L278,1483.1L281.3,1481.7L284.7,1480.2L288,1478.7L291.4,1477.1L294.7,1475.5L298.1,1473.9L301.4,1472.2L304.8,1470.6L308.1,1468.9L311.5,1467.3L314.8,1465.7L318.2,1464.1L321.5,1462.6L324.9,1461.1L328.2,1459.7L331.6,1458.3L334.9,1457L338.3,1455.9L341.6,1454.8L345,1453.9L348.3,1453L351.7,1452.3L355,1470.3L358.3,1488.2L361.7,1487.6L364.2,1487.1L364.2,1493.6L361.7,1494.1L358.3,1494.7L355,1495.4L351.7,1496L348.3,1496.6L345,1497.3L341.6,1497.9L338.3,1498.5L334.9,1499.2L331.6,1499.8L328.2,1500.4L324.9,1501L321.5,1501.7L318.2,1502.3L314.8,1502.9L311.5,1503.6L308.1,1504.2L304.8,1504.8L301.4,1505.4L298.1,1506.1L294.7,1506.7L291.4,1507.3L288,1508L284.7,1508.6L281.3,1509.2L278,1509.8L274.6,1510.5L271.3,1511.1L267.9,1511.7L264.6,1512.4L262.9,1512.7L261.2,1513L259.6,1513.3L257.9,1513.6L256.2,1513.9L254.5,1514.3L252.9,1514.6Z"/><path color="#4434ce" d="M364.2,1493.6L429,1514.1L729.7,1457.8L665.6,1437Z"/><path color="#4434ce" d="M361.7,1494.1L426.4,1514.6L429,1514.1L364.2,1493.6Z"/><path color="#4434ce" d="M358.3,1494.7L423.1,1515.2L426.4,1514.6L361.7,1494.1Z"/><path color="#4434ce" d="M355,1495.4L419.8,1515.9L423.1,1515.2L358.3,1494.7Z"/><path color="#4434ce" d="M351.7,1496L416.4,1516.5L419.8,1515.9L355,1495.4Z"/><path color="#4434ce" d="M348.3,1496.6L413.1,1517.1L416.4,1516.5L351.7,1496Z"/><path color="#4434ce" d="M345,1497.3L409.7,1517.7L413.1,1517.1L348.3,1496.6Z"/><path color="#4434ce" d="M341.6,1497.9L406.4,1518.4L409.7,1517.7L345,1497.3Z"/><path color="#4434ce" d="M338.3,1498.5L403.1,1519L406.4,1518.4L341.6,1497.9Z"/><path color="#4434ce" d="M334.9,1499.2L399.7,1519.6L403.1,1519L338.3,1498.5Z"/><path color="#4434ce" d="M331.6,1499.8L396.4,1520.3L399.7,1519.6L334.9,1499.2Z"/><path color="#4434ce" d="M328.2,1500.4L393,1520.9L396.4,1520.3L331.6,1499.8Z"/><path color="#4434ce" d="M324.9,1501L389.7,1521.5L393,1520.9L328.2,1500.4Z"/><path color="#4434ce" d="M321.5,1501.7L386.4,1522.1L389.7,1521.5L324.9,1501Z"/><path color="#4434ce" d="M318.2,1502.3L383,1522.8L386.4,1522.1L321.5,1501.7Z"/><path color="#4434ce" d="M314.8,1502.9L379.7,1523.4L383,1522.8L318.2,1502.3Z"/><path color="#4434ce" d="M311.5,1503.6L376.3,1524L379.7,1523.4L314.8,1502.9Z"/><path color="#4434ce" d="M308.1,1504.2L373,1524.6L376.3,1524L311.5,1503.6Z"/><path color="#4434ce" d="M304.8,1504.8L369.6,1525.3L373,1524.6L308.1,1504.2Z"/><path color="#4434ce" d="M301.4,1505.4L366.3,1525.9L369.6,1525.3L304.8,1504.8Z"/><path color="#4434ce" d="M298.1,1506.1L363,1526.5L366.3,1525.9L301.4,1505.4Z"/><path color="#4434ce" d="M294.7,1506.7L359.6,1527.1L363,1526.5L298.1,1506.1Z"/><path color="#4434ce" d="M291.4,1507.3L356.3,1527.8L359.6,1527.1L294.7,1506.7Z"/><path color="#4434ce" d="M288,1508L352.9,1528.4L356.3,1527.8L291.4,1507.3Z"/><path color="#4434ce" d="M284.7,1508.6L349.6,1529L352.9,1528.4L288,1508Z"/><path color="#4434ce" d="M281.3,1509.2L346.3,1529.6L349.6,1529L284.7,1508.6Z"/><path color="#4434ce" d="M278,1509.8L342.9,1530.3L346.3,1529.6L281.3,1509.2Z"/><path color="#4434ce" d="M274.6,1510.5L339.6,1530.9L342.9,1530.3L278,1509.8Z"/><path color="#4434ce" d="M271.3,1511.1L336.2,1531.5L339.6,1530.9L274.6,1510.5Z"/><path color="#4434ce" d="M267.9,1511.7L332.9,1532.2L336.2,1531.5L271.3,1511.1Z"/><path color="#4434ce" d="M264.6,1512.4L329.5,1532.8L332.9,1532.2L267.9,1511.7Z"/><path color="#4434ce" d="M262.9,1512.7L327.9,1533.1L329.5,1532.8L264.6,1512.4Z"/><path color="#4434ce" d="M261.2,1513L326.2,1533.4L327.9,1533.1L262.9,1512.7Z"/><path color="#4434ce" d="M259.6,1513.3L324.5,1533.7L326.2,1533.4L261.2,1513Z"/><path color="#4434ce" d="M257.9,1513.6L322.9,1534L324.5,1533.7L259.6,1513.3Z"/><path color="#4434ce" d="M256.2,1513.9L321.2,1534.3L322.9,1534L257.9,1513.6Z"/><path color="#4434ce" d="M254.5,1514.3L319.5,1534.7L321.2,1534.3L256.2,1513.9Z"/><path color="#4434ce" d="M252.9,1514.6L317.8,1535L319.5,1534.7L254.5,1514.3Z"/><path color="#4537d5" d="M364.2,1487.1L429,1507.6L729.7,1451.2L665.6,1430.5Z"/><path color="#4537d5" d="M361.7,1487.6L426.4,1508.1L429,1507.6L364.2,1487.1Z"/><path color="#4537d5" d="M358.3,1488.2L423.1,1508.7L426.4,1508.1L361.7,1487.6Z"/><path color="#4756f7" d="M355,1470.3L419.8,1490.8L423.1,1508.7L358.3,1488.2Z"/><path color="#3678fe" d="M351.7,1452.3L416.4,1472.8L419.8,1490.8L355,1470.3Z"/><path color="#3678fe" d="M348.3,1453L413.1,1473.5L416.4,1472.8L351.7,1452.3Z"/><path color="#3777fe" d="M345,1453.9L409.7,1474.3L413.1,1473.5L348.3,1453Z"/><path color="#3777fe" d="M341.6,1454.8L406.4,1475.3L409.7,1474.3L345,1453.9Z"/><path color="#3876fe" d="M338.3,1455.9L403.1,1476.4L406.4,1475.3L341.6,1454.8Z"/><path color="#3975fe" d="M334.9,1457L399.7,1477.5L403.1,1476.4L338.3,1455.9Z"/><path color="#3a73fe" d="M331.6,1458.3L396.4,1478.8L399.7,1477.5L334.9,1457Z"/><path color="#3b72ff" d="M328.2,1459.7L393,1480.1L396.4,1478.8L331.6,1458.3Z"/><path color="#3d71ff" d="M324.9,1461.1L389.7,1481.5L393,1480.1L328.2,1459.7Z"/><path color="#3e6fff" d="M321.5,1462.6L386.4,1483L389.7,1481.5L324.9,1461.1Z"/><path color="#406dfe" d="M318.2,1464.1L383,1484.6L386.4,1483L321.5,1462.6Z"/><path color="#416bfe" d="M314.8,1465.7L379.7,1486.1L383,1484.6L318.2,1464.1Z"/><path color="#426afe" d="M311.5,1467.3L376.3,1487.7L379.7,1486.1L314.8,1465.7Z"/><path color="#4368fe" d="M308.1,1468.9L373,1489.4L376.3,1487.7L311.5,1467.3Z"/><path color="#4466fd" d="M304.8,1470.6L369.6,1491L373,1489.4L308.1,1468.9Z"/><path color="#4464fd" d="M301.4,1472.2L366.3,1492.7L369.6,1491L304.8,1470.6Z"/><path color="#4562fc" d="M298.1,1473.9L363,1494.3L366.3,1492.7L301.4,1472.2Z"/><path color="#4661fc" d="M294.7,1475.5L359.6,1496L363,1494.3L298.1,1473.9Z"/><path color="#465ffb" d="M291.4,1477.1L356.3,1497.6L359.6,1496L294.7,1475.5Z"/><path color="#465dfa" d="M288,1478.7L352.9,1499.1L356.3,1497.6L291.4,1477.1Z"/><path color="#475cfa" d="M284.7,1480.2L349.6,1500.6L352.9,1499.1L288,1478.7Z"/><path color="#475af9" d="M281.3,1481.7L346.3,1502.1L349.6,1500.6L284.7,1480.2Z"/><path color="#4759f8" d="M278,1483.1L342.9,1503.5L346.3,1502.1L281.3,1481.7Z"/><path color="#4758f8" d="M274.6,1484.4L339.6,1504.8L342.9,1503.5L278,1483.1Z"/><path color="#4757f7" d="M271.3,1485.6L336.2,1506.1L339.6,1504.8L274.6,1484.4Z"/><path color="#4756f6" d="M267.9,1486.8L332.9,1507.2L336.2,1506.1L271.3,1485.6Z"/><path color="#4755f6" d="M264.6,1487.8L329.5,1508.2L332.9,1507.2L267.9,1486.8Z"/><path color="#4755f6" d="M262.9,1488.3L327.9,1508.7L329.5,1508.2L264.6,1487.8Z"/><path color="#4854f6" d="M261.2,1488.8L326.2,1509.2L327.9,1508.7L262.9,1488.3Z"/><path color="#4854f6" d="M259.6,1489.2L324.5,1509.6L326.2,1509.2L261.2,1488.8Z"/><path color="#4854f5" d="M257.9,1489.6L322.9,1510L324.5,1509.6L259.6,1489.2Z"/><path color="#4854f5" d="M256.2,1489.9L321.2,1510.3L322.9,1510L257.9,1489.6Z"/><path color="#4854f5" d="M254.5,1490.2L319.5,1510.6L321.2,1510.3L256.2,1489.9Z"/><path color="#4755f6" d="M252.9,1490L317.8,1510.4L319.5,1510.6L254.5,1490.2Z"/><path style="fill:url(#g022);stroke:url(#g022)" d="M317.8,1510.4L319.5,1510.6L321.2,1510.3L322.9,1510L324.5,1509.6L326.2,1509.2L327.9,1508.7L329.5,1508.2L332.9,1507.2L336.2,1506.1L339.6,1504.8L342.9,1503.5L346.3,1502.1L349.6,1500.6L352.9,1499.1L356.3,1497.6L359.6,1496L363,1494.3L366.3,1492.7L369.6,1491L373,1489.4L376.3,1487.7L379.7,1486.1L383,1484.6L386.4,1483L389.7,1481.5L393,1480.1L396.4,1478.8L399.7,1477.5L403.1,1476.4L406.4,1475.3L409.7,1474.3L413.1,1473.5L416.4,1472.8L419.8,1490.8L423.1,1508.7L426.4,1508.1L429,1507.6L429,1514.1L426.4,1514.6L423.1,1515.2L419.8,1515.9L416.4,1516.5L413.1,1517.1L409.7,1517.7L406.4,1518.4L403.1,1519L399.7,1519.6L396.4,1520.3L393,1520.9L389.7,1521.5L386.4,1522.1L383,1522.8L379.7,1523.4L376.3,1524L373,1524.6L369.6,1525.3L366.3,1525.9L363,1526.5L359.6,1527.1L356.3,1527.8L352.9,1528.4L349.6,1529L346.3,1529.6L342.9,1530.3L339.6,1530.9L336.2,1531.5L332.9,1532.2L329.5,1532.8L327.9,1533.1L326.2,1533.4L324.5,1533.7L322.9,1534L321.2,1534.3L319.5,1534.7L317.8,1535Z"/><path color="#4434ce" d="M429,1514.1L493.7,1534.6L793.8,1478.5L729.7,1457.8Z"/><path color="#4434ce" d="M426.4,1514.6L491.2,1535.1L493.7,1534.6L429,1514.1Z"/><path color="#4434ce" d="M423.1,1515.2L487.9,1535.7L491.2,1535.1L426.4,1514.6Z"/><path color="#4434ce" d="M419.8,1515.9L484.5,1536.4L487.9,1535.7L423.1,1515.2Z"/><path color="#4434ce" d="M416.4,1516.5L481.2,1537L484.5,1536.4L419.8,1515.9Z"/><path color="#4434ce" d="M413.1,1517.1L477.9,1537.6L481.2,1537L416.4,1516.5Z"/><path color="#4434ce" d="M409.7,1517.7L474.5,1538.2L477.9,1537.6L413.1,1517.1Z"/><path color="#4434ce" d="M406.4,1518.4L471.2,1538.9L474.5,1538.2L409.7,1517.7Z"/><path color="#4434ce" d="M403.1,1519L467.9,1539.5L471.2,1538.9L406.4,1518.4Z"/><path color="#4434ce" d="M399.7,1519.6L464.5,1540.1L467.9,1539.5L403.1,1519Z"/><path color="#4434ce" d="M396.4,1520.3L461.2,1540.7L464.5,1540.1L399.7,1519.6Z"/><path color="#4434ce" d="M393,1520.9L457.9,1541.3L461.2,1540.7L396.4,1520.3Z"/><path color="#4434ce" d="M389.7,1521.5L454.5,1542L457.9,1541.3L393,1520.9Z"/><path color="#4434ce" d="M386.4,1522.1L451.2,1542.6L454.5,1542L389.7,1521.5Z"/><path color="#4434ce" d="M383,1522.8L447.9,1543.2L451.2,1542.6L386.4,1522.1Z"/><path color="#4434ce" d="M379.7,1523.4L444.5,1543.8L447.9,1543.2L383,1522.8Z"/><path color="#4434ce" d="M376.3,1524L441.2,1544.5L444.5,1543.8L379.7,1523.4Z"/><path color="#4434ce" d="M373,1524.6L437.9,1545.1L441.2,1544.5L376.3,1524Z"/><path color="#4434ce" d="M369.6,1525.3L434.5,1545.7L437.9,1545.1L373,1524.6Z"/><path color="#4434ce" d="M366.3,1525.9L431.2,1546.3L434.5,1545.7L369.6,1525.3Z"/><path color="#4434ce" d="M363,1526.5L427.8,1547L431.2,1546.3L366.3,1525.9Z"/><path color="#4434ce" d="M359.6,1527.1L424.5,1547.6L427.8,1547L363,1526.5Z"/><path color="#4434ce" d="M356.3,1527.8L421.2,1548.2L424.5,1547.6L359.6,1527.1Z"/><path color="#4434ce" d="M352.9,1528.4L417.8,1548.8L421.2,1548.2L356.3,1527.8Z"/><path color="#4434ce" d="M349.6,1529L414.5,1549.5L417.8,1548.8L352.9,1528.4Z"/><path color="#4434ce" d="M346.3,1529.6L411.2,1550.1L414.5,1549.5L349.6,1529Z"/><path color="#4434ce" d="M342.9,1530.3L407.8,1550.7L411.2,1550.1L346.3,1529.6Z"/><path color="#4434ce" d="M339.6,1530.9L404.5,1551.3L407.8,1550.7L342.9,1530.3Z"/><path color="#4434ce" d="M336.2,1531.5L401.2,1551.9L404.5,1551.3L339.6,1530.9Z"/><path color="#4434ce" d="M332.9,1532.2L397.8,1552.6L401.2,1551.9L336.2,1531.5Z"/><path color="#4434ce" d="M329.5,1532.8L394.5,1553.2L397.8,1552.6L332.9,1532.2Z"/><path color="#4434ce" d="M327.9,1533.1L392.8,1553.5L394.5,1553.2L329.5,1532.8Z"/><path color="#4434ce" d="M326.2,1533.4L391.2,1553.8L392.8,1553.5L327.9,1533.1Z"/><path color="#4434ce" d="M324.5,1533.7L389.5,1554.1L391.2,1553.8L326.2,1533.4Z"/><path color="#4434ce" d="M322.9,1534L387.8,1554.4L389.5,1554.1L324.5,1533.7Z"/><path color="#4434ce" d="M321.2,1534.3L386.2,1554.8L387.8,1554.4L322.9,1534Z"/><path color="#4434ce" d="M319.5,1534.7L384.5,1555.1L386.2,1554.8L321.2,1534.3Z"/><path color="#4434ce" d="M317.8,1535L382.8,1555.4L384.5,1555.1L319.5,1534.7Z"/><path color="#4537d5" d="M429,1507.6L493.7,1528.1L793.8,1472L729.7,1451.2Z"/><path color="#4537d5" d="M426.4,1508.1L491.2,1528.6L493.7,1528.1L429,1507.6Z"/><path color="#4537d5" d="M423.1,1508.7L487.9,1529.2L491.2,1528.6L426.4,1508.1Z"/><path color="#4756f7" d="M419.8,1490.8L484.5,1511.2L487.9,1529.2L423.1,1508.7Z"/><path color="#3678fe" d="M416.4,1472.8L481.2,1493.3L484.5,1511.2L419.8,1490.8Z"/><path color="#3678fe" d="M413.1,1473.5L477.9,1494L481.2,1493.3L416.4,1472.8Z"/><path color="#3777fe" d="M409.7,1474.3L474.5,1494.8L477.9,1494L413.1,1473.5Z"/><path color="#3777fe" d="M406.4,1475.3L471.2,1495.8L474.5,1494.8L409.7,1474.3Z"/><path color="#3876fe" d="M403.1,1476.4L467.9,1496.8L471.2,1495.8L406.4,1475.3Z"/><path color="#3975fe" d="M399.7,1477.5L464.5,1498L467.9,1496.8L403.1,1476.4Z"/><path color="#3a73fe" d="M396.4,1478.8L461.2,1499.3L464.5,1498L399.7,1477.5Z"/><path color="#3b72ff" d="M393,1480.1L457.9,1500.6L461.2,1499.3L396.4,1478.8Z"/><path color="#3d71ff" d="M389.7,1481.5L454.5,1502L457.9,1500.6L393,1480.1Z"/><path color="#3e6fff" d="M386.4,1483L451.2,1503.5L454.5,1502L389.7,1481.5Z"/><path color="#406dfe" d="M383,1484.6L447.9,1505L451.2,1503.5L386.4,1483Z"/><path color="#416bfe" d="M379.7,1486.1L444.5,1506.6L447.9,1505L383,1484.6Z"/><path color="#426afe" d="M376.3,1487.7L441.2,1508.2L444.5,1506.6L379.7,1486.1Z"/><path color="#4368fe" d="M373,1489.4L437.9,1509.8L441.2,1508.2L376.3,1487.7Z"/><path color="#4466fd" d="M369.6,1491L434.5,1511.5L437.9,1509.8L373,1489.4Z"/><path color="#4464fd" d="M366.3,1492.7L431.2,1513.1L434.5,1511.5L369.6,1491Z"/><path color="#4562fc" d="M363,1494.3L427.8,1514.8L431.2,1513.1L366.3,1492.7Z"/><path color="#4661fc" d="M359.6,1496L424.5,1516.4L427.8,1514.8L363,1494.3Z"/><path color="#465ffb" d="M356.3,1497.6L421.2,1518L424.5,1516.4L359.6,1496Z"/><path color="#465dfa" d="M352.9,1499.1L417.8,1519.6L421.2,1518L356.3,1497.6Z"/><path color="#475cfa" d="M349.6,1500.6L414.5,1521.1L417.8,1519.6L352.9,1499.1Z"/><path color="#475af9" d="M346.3,1502.1L411.2,1522.5L414.5,1521.1L349.6,1500.6Z"/><path color="#4759f8" d="M342.9,1503.5L407.8,1523.9L411.2,1522.5L346.3,1502.1Z"/><path color="#4758f8" d="M339.6,1504.8L404.5,1525.3L407.8,1523.9L342.9,1503.5Z"/><path color="#4757f7" d="M336.2,1506.1L401.2,1526.5L404.5,1525.3L339.6,1504.8Z"/><path color="#4756f6" d="M332.9,1507.2L397.8,1527.6L401.2,1526.5L336.2,1506.1Z"/><path color="#4755f6" d="M329.5,1508.2L394.5,1528.7L397.8,1527.6L332.9,1507.2Z"/><path color="#4755f6" d="M327.9,1508.7L392.8,1529.1L394.5,1528.7L329.5,1508.2Z"/><path color="#4854f6" d="M326.2,1509.2L391.2,1529.6L392.8,1529.1L327.9,1508.7Z"/><path color="#4854f6" d="M324.5,1509.6L389.5,1530L391.2,1529.6L326.2,1509.2Z"/><path color="#4854f5" d="M322.9,1510L387.8,1530.4L389.5,1530L324.5,1509.6Z"/><path color="#4854f5" d="M321.2,1510.3L386.2,1530.7L387.8,1530.4L322.9,1510Z"/><path color="#4854f5" d="M319.5,1510.6L384.5,1531L386.2,1530.7L321.2,1510.3Z"/><path color="#4755f6" d="M317.8,1510.4L382.8,1530.7L384.5,1531L319.5,1510.6Z"/><path style="fill:url(#g023);stroke:url(#g023)" d="M382.8,1530.7L384.5,1531L386.2,1530.7L387.8,1530.4L389.5,1530L391.2,1529.6L392.8,1529.1L394.5,1528.7L397.8,1527.6L401.2,1526.5L404.5,1525.3L407.8,1523.9L411.2,1522.5L414.5,1521.1L417.8,1519.6L421.2,1518L424.5,1516.4L427.8,1514.8L431.2,1513.1L434.5,1511.5L437.9,1509.8L441.2,1508.2L444.5,1506.6L447.9,1505L451.2,1503.5L454.5,1502L457.9,1500.6L461.2,1499.3L464.5,1498L467.9,1496.8L471.2,1495.8L474.5,1494.8L477.9,1494L481.2,1493.3L484.5,1511.2L487.9,1529.2L491.2,1528.6L493.7,1528.1L493.7,1534.6L491.2,1535.1L487.9,1535.7L484.5,1536.4L481.2,1537L477.9,1537.6L474.5,1538.2L471.2,1538.9L467.9,1539.5L464.5,1540.1L461.2,1540.7L457.9,1541.3L454.5,1542L451.2,1542.6L447.9,1543.2L444.5,1543.8L441.2,1544.5L437.9,1545.1L434.5,1545.7L431.2,1546.3L427.8,1547L424.5,1547.6L421.2,1548.2L417.8,1548.8L414.5,1549.5L411.2,1550.1L407.8,1550.7L404.5,1551.3L401.2,1551.9L397.8,1552.6L394.5,1553.2L392.8,1553.5L391.2,1553.8L389.5,1554.1L387.8,1554.4L386.2,1554.8L384.5,1555.1L382.8,1555.4Z"/><path color="#4434ce" d="M493.7,1534.6L558.5,1548.6L857.9,1492.8L793.8,1478.5Z"/><path color="#4434ce" d="M491.2,1535.1L556,1549.1L558.5,1548.6L493.7,1534.6Z"/><path color="#4434ce" d="M487.9,1535.7L552.6,1554.2L556,1549.1L491.2,1535.1Z"/><path color="#4434ce" d="M484.5,1536.4L549.3,1563.2L552.6,1554.2L487.9,1535.7Z"/><path color="#4434ce" d="M481.2,1537L546,1563.8L549.3,1563.2L484.5,1536.4Z"/><path color="#4434ce" d="M477.9,1537.6L542.6,1564.4L546,1563.8L481.2,1537Z"/><path color="#4434ce" d="M474.5,1538.2L539.3,1565.1L542.6,1564.4L477.9,1537.6Z"/><path color="#4434ce" d="M471.2,1538.9L536,1565.7L539.3,1565.1L474.5,1538.2Z"/><path color="#4434ce" d="M467.9,1539.5L532.7,1561.3L536,1565.7L471.2,1538.9Z"/><path color="#4434ce" d="M464.5,1540.1L529.3,1560.6L532.7,1561.3L467.9,1539.5Z"/><path color="#4434ce" d="M461.2,1540.7L526,1561.2L529.3,1560.6L464.5,1540.1Z"/><path color="#4434ce" d="M457.9,1541.3L522.7,1561.8L526,1561.2L461.2,1540.7Z"/><path color="#4434ce" d="M454.5,1542L519.4,1562.4L522.7,1561.8L457.9,1541.3Z"/><path color="#4434ce" d="M451.2,1542.6L516,1563.1L519.4,1562.4L454.5,1542Z"/><path color="#4434ce" d="M447.9,1543.2L512.7,1563.7L516,1563.1L451.2,1542.6Z"/><path color="#4434ce" d="M444.5,1543.8L509.4,1564.3L512.7,1563.7L447.9,1543.2Z"/><path color="#4434ce" d="M441.2,1544.5L506,1564.9L509.4,1564.3L444.5,1543.8Z"/><path color="#4434ce" d="M437.9,1545.1L502.7,1567.8L506,1564.9L441.2,1544.5Z"/><path color="#4434ce" d="M434.5,1545.7L499.4,1572.5L502.7,1567.8L437.9,1545.1Z"/><path color="#4434ce" d="M431.2,1546.3L496.1,1573.1L499.4,1572.5L434.5,1545.7Z"/><path color="#4434ce" d="M427.8,1547L492.7,1573.7L496.1,1573.1L431.2,1546.3Z"/><path color="#4434ce" d="M424.5,1547.6L489.4,1574.4L492.7,1573.7L427.8,1547Z"/><path color="#4434ce" d="M421.2,1548.2L486.1,1575L489.4,1574.4L424.5,1547.6Z"/><path color="#4434ce" d="M417.8,1548.8L482.8,1575.6L486.1,1575L421.2,1548.2Z"/><path color="#4434ce" d="M414.5,1549.5L479.4,1576.2L482.8,1575.6L417.8,1548.8Z"/><path color="#4434ce" d="M411.2,1550.1L476.1,1576.8L479.4,1576.2L414.5,1549.5Z"/><path color="#4434ce" d="M407.8,1550.7L472.8,1577.5L476.1,1576.8L411.2,1550.1Z"/><path color="#4434ce" d="M404.5,1551.3L469.4,1578.1L472.8,1577.5L407.8,1550.7Z"/><path color="#4434ce" d="M401.2,1551.9L466.1,1578.7L469.4,1578.1L404.5,1551.3Z"/><path color="#4434ce" d="M397.8,1552.6L462.8,1579.3L466.1,1578.7L401.2,1551.9Z"/><path color="#4434ce" d="M394.5,1553.2L459.5,1579.9L462.8,1579.3L397.8,1552.6Z"/><path color="#4434ce" d="M392.8,1553.5L457.8,1580.3L459.5,1579.9L394.5,1553.2Z"/><path color="#4434ce" d="M391.2,1553.8L456.1,1580.6L457.8,1580.3L392.8,1553.5Z"/><path color="#4434ce" d="M389.5,1554.1L454.5,1580.9L456.1,1580.6L391.2,1553.8Z"/><path color="#4434ce" d="M387.8,1554.4L452.8,1581.2L454.5,1580.9L389.5,1554.1Z"/><path color="#4434ce" d="M386.2,1554.8L451.1,1581.5L452.8,1581.2L387.8,1554.4Z"/><path color="#4434ce" d="M384.5,1555.1L449.5,1581.8L451.1,1581.5L386.2,1554.8Z"/><path color="#4434ce" d="M382.8,1555.4L447.8,1582.1L449.5,1581.8L384.5,1555.1Z"/><path color="#4537d5" d="M493.7,1528.1L558.5,1548.6L857.9,1492.8L793.8,1472Z"/><path color="#4537d5" d="M491.2,1528.6L556,1549.1L558.5,1548.6L493.7,1528.1Z"/><path color="#4537d5" d="M487.9,1529.2L552.6,1549.7L556,1549.1L491.2,1528.6Z"/><path color="#4756f7" d="M484.5,1511.2L549.3,1531.7L552.6,1549.7L487.9,1529.2Z"/><path color="#3678fe" d="M481.2,1493.3L546,1513.8L549.3,1531.7L484.5,1511.2Z"/><path color="#3678fe" d="M477.9,1494L542.6,1514.5L546,1513.8L481.2,1493.3Z"/><path color="#3777fe" d="M474.5,1494.8L539.3,1515.3L542.6,1514.5L477.9,1494Z"/><path color="#3777fe" d="M471.2,1495.8L536,1516.3L539.3,1515.3L474.5,1494.8Z"/><path color="#3876fe" d="M467.9,1496.8L532.7,1517.3L536,1516.3L471.2,1495.8Z"/><path color="#3975fe" d="M464.5,1498L529.3,1518.5L532.7,1517.3L467.9,1496.8Z"/><path color="#3a73fe" d="M461.2,1499.3L526,1519.7L529.3,1518.5L464.5,1498Z"/><path color="#3b72ff" d="M457.9,1500.6L522.7,1521.1L526,1519.7L461.2,1499.3Z"/><path color="#3d71ff" d="M454.5,1502L519.4,1522.5L522.7,1521.1L457.9,1500.6Z"/><path color="#3e6fff" d="M451.2,1503.5L516,1524L519.4,1522.5L454.5,1502Z"/><path color="#406dfe" d="M447.9,1505L512.7,1525.5L516,1524L451.2,1503.5Z"/><path color="#416bfe" d="M444.5,1506.6L509.4,1527L512.7,1525.5L447.9,1505Z"/><path color="#426afe" d="M441.2,1508.2L506,1528.7L509.4,1527L444.5,1506.6Z"/><path color="#4368fe" d="M437.9,1509.8L502.7,1530.3L506,1528.7L441.2,1508.2Z"/><path color="#4466fd" d="M434.5,1511.5L499.4,1531.9L502.7,1530.3L437.9,1509.8Z"/><path color="#4464fd" d="M431.2,1513.1L496.1,1533.6L499.4,1531.9L434.5,1511.5Z"/><path color="#4562fc" d="M427.8,1514.8L492.7,1535.2L496.1,1533.6L431.2,1513.1Z"/><path color="#4661fc" d="M424.5,1516.4L489.4,1536.8L492.7,1535.2L427.8,1514.8Z"/><path color="#465ffb" d="M421.2,1518L486.1,1538.4L489.4,1536.8L424.5,1516.4Z"/><path color="#465dfa" d="M417.8,1519.6L482.8,1540L486.1,1538.4L421.2,1518Z"/><path color="#475cfa" d="M414.5,1521.1L479.4,1541.5L482.8,1540L417.8,1519.6Z"/><path color="#475af9" d="M411.2,1522.5L476.1,1543L479.4,1541.5L414.5,1521.1Z"/><path color="#4759f8" d="M407.8,1523.9L472.8,1544.4L476.1,1543L411.2,1522.5Z"/><path color="#4758f8" d="M404.5,1525.3L469.4,1545.7L472.8,1544.4L407.8,1523.9Z"/><path color="#4757f7" d="M401.2,1526.5L466.1,1546.9L469.4,1545.7L404.5,1525.3Z"/><path color="#4756f6" d="M397.8,1527.6L462.8,1548L466.1,1546.9L401.2,1526.5Z"/><path color="#4755f6" d="M394.5,1528.7L459.5,1549.1L462.8,1548L397.8,1527.6Z"/><path color="#4755f6" d="M392.8,1529.1L457.8,1549.6L459.5,1549.1L394.5,1528.7Z"/><path color="#4854f6" d="M391.2,1529.6L456.1,1550L457.8,1549.6L392.8,1529.1Z"/><path color="#4854f6" d="M389.5,1530L454.5,1550.4L456.1,1550L391.2,1529.6Z"/><path color="#4854f5" d="M387.8,1530.4L452.8,1550.8L454.5,1550.4L389.5,1530Z"/><path color="#4854f5" d="M386.2,1530.7L451.1,1551.1L452.8,1550.8L387.8,1530.4Z"/><path color="#4854f5" d="M384.5,1531L449.5,1551.4L451.1,1551.1L386.2,1530.7Z"/><path color="#4755f6" d="M382.8,1530.7L447.8,1551.1L449.5,1551.4L384.5,1531Z"/><path style="fill:url(#g024);stroke:url(#g024)" d="M447.8,1551.1L449.5,1551.4L451.1,1551.1L452.8,1550.8L454.5,1550.4L456.1,1550L457.8,1549.6L459.5,1549.1L462.8,1548L466.1,1546.9L469.4,1545.7L472.8,1544.4L476.1,1543L479.4,1541.5L482.8,1540L486.1,1538.4L489.4,1536.8L492.7,1535.2L496.1,1533.6L499.4,1531.9L502.7,1530.3L506,1528.7L509.4,1527L512.7,1525.5L516,1524L519.4,1522.5L522.7,1521.1L526,1519.7L529.3,1518.5L532.7,1517.3L536,1516.3L539.3,1515.3L542.6,1514.5L546,1513.8L549.3,1531.7L552.6,1549.7L556,1549.1L558.5,1548.6L558.5,1548.6L556,1549.1L552.6,1554.2L549.3,1563.2L546,1563.8L542.6,1564.4L539.3,1565.1L536,1565.7L532.7,1561.3L529.3,1560.6L526,1561.2L522.7,1561.8L519.4,1562.4L516,1563.1L512.7,1563.7L509.4,1564.3L506,1564.9L502.7,1567.8L499.4,1572.5L496.1,1573.1L492.7,1573.7L489.4,1574.4L486.1,1575L482.8,1575.6L479.4,1576.2L476.1,1576.8L472.8,1577.5L469.4,1578.1L466.1,1578.7L462.8,1579.3L459.5,1579.9L457.8,1580.3L456.1,1580.6L454.5,1580.9L452.8,1581.2L451.1,1581.5L449.5,1581.8L447.8,1582.1Z"/><path color="#4434ce" d="M552.6,1554.2L617.4,1574.7L620.7,1569.6L556,1549.1Z"/><path color="#4434ce" d="M549.3,1563.2L614.1,1583.7L617.4,1574.7L552.6,1554.2Z"/><path color="#4434ce" d="M546,1563.8L610.8,1584.3L614.1,1583.7L549.3,1563.2Z"/><path color="#4434ce" d="M542.6,1564.4L607.4,1584.9L610.8,1584.3L546,1563.8Z"/><path color="#4434ce" d="M539.3,1565.1L604.1,1585.5L607.4,1584.9L542.6,1564.4Z"/><path color="#4434ce" d="M536,1565.7L600.8,1586.2L604.1,1585.5L539.3,1565.1Z"/><path color="#4434ce" d="M532.7,1561.3L597.5,1581.8L600.8,1586.2L536,1565.7Z"/><path color="#4434ce" d="M529.3,1560.6L594.2,1581.1L597.5,1581.8L532.7,1561.3Z"/><path color="#4434ce" d="M526,1561.2L590.8,1581.7L594.2,1581.1L529.3,1560.6Z"/><path color="#4434ce" d="M522.7,1561.8L587.5,1582.3L590.8,1581.7L526,1561.2Z"/><path color="#4434ce" d="M519.4,1562.4L584.2,1582.9L587.5,1582.3L522.7,1561.8Z"/><path color="#4434ce" d="M516,1563.1L580.9,1583.5L584.2,1582.9L519.4,1562.4Z"/><path color="#4434ce" d="M512.7,1563.7L577.6,1584.1L580.9,1583.5L516,1563.1Z"/><path color="#4434ce" d="M509.4,1564.3L574.2,1584.8L577.6,1584.1L512.7,1563.7Z"/><path color="#4434ce" d="M506,1564.9L570.9,1585.4L574.2,1584.8L509.4,1564.3Z"/><path color="#4434ce" d="M502.7,1567.8L567.6,1588.2L570.9,1585.4L506,1564.9Z"/><path color="#4434ce" d="M499.4,1572.5L564.3,1592.9L567.6,1588.2L502.7,1567.8Z"/><path color="#4434ce" d="M496.1,1573.1L560.9,1593.6L564.3,1592.9L499.4,1572.5Z"/><path color="#4434ce" d="M492.7,1573.7L557.6,1594.2L560.9,1593.6L496.1,1573.1Z"/><path color="#4434ce" d="M489.4,1574.4L554.3,1594.8L557.6,1594.2L492.7,1573.7Z"/><path color="#4434ce" d="M486.1,1575L551,1595.4L554.3,1594.8L489.4,1574.4Z"/><path color="#4434ce" d="M482.8,1575.6L547.7,1596L551,1595.4L486.1,1575Z"/><path color="#4434ce" d="M479.4,1576.2L544.4,1596.7L547.7,1596L482.8,1575.6Z"/><path color="#4434ce" d="M476.1,1576.8L541,1597.3L544.4,1596.7L479.4,1576.2Z"/><path color="#4434ce" d="M472.8,1577.5L537.7,1597.9L541,1597.3L476.1,1576.8Z"/><path color="#4434ce" d="M469.4,1578.1L534.4,1598.5L537.7,1597.9L472.8,1577.5Z"/><path color="#4434ce" d="M466.1,1578.7L531.1,1599.1L534.4,1598.5L469.4,1578.1Z"/><path color="#4434ce" d="M462.8,1579.3L527.8,1599.7L531.1,1599.1L466.1,1578.7Z"/><path color="#4434ce" d="M459.5,1579.9L524.4,1600.4L527.8,1599.7L462.8,1579.3Z"/><path color="#4434ce" d="M457.8,1580.3L522.8,1600.7L524.4,1600.4L459.5,1579.9Z"/><path color="#4434ce" d="M456.1,1580.6L521.1,1601L522.8,1600.7L457.8,1580.3Z"/><path color="#4434ce" d="M454.5,1580.9L519.4,1601.3L521.1,1601L456.1,1580.6Z"/><path color="#4434ce" d="M452.8,1581.2L517.8,1601.6L519.4,1601.3L454.5,1580.9Z"/><path color="#4434ce" d="M451.1,1581.5L516.1,1601.9L517.8,1601.6L452.8,1581.2Z"/><path color="#4434ce" d="M449.5,1581.8L514.5,1602.2L516.1,1601.9L451.1,1581.5Z"/><path color="#4434ce" d="M447.8,1582.1L512.8,1602.5L514.5,1602.2L449.5,1581.8Z"/><path color="#4537d5" d="M558.5,1548.6L623.2,1569.1L922,1513.5L857.9,1492.8Z"/><path color="#4537d5" d="M556,1549.1L620.7,1569.6L623.2,1569.1L558.5,1548.6Z"/><path color="#4537d5" d="M552.6,1549.7L617.4,1570.2L620.7,1569.6L556,1549.1Z"/><path color="#4756f7" d="M549.3,1531.7L614.1,1552.2L617.4,1570.2L552.6,1549.7Z"/><path color="#3678fe" d="M546,1513.8L610.8,1534.3L614.1,1552.2L549.3,1531.7Z"/><path color="#3678fe" d="M542.6,1514.5L607.4,1535L610.8,1534.3L546,1513.8Z"/><path color="#3777fe" d="M539.3,1515.3L604.1,1535.8L607.4,1535L542.6,1514.5Z"/><path color="#3777fe" d="M536,1516.3L600.8,1536.7L604.1,1535.8L539.3,1515.3Z"/><path color="#3876fe" d="M532.7,1517.3L597.5,1537.8L600.8,1536.7L536,1516.3Z"/><path color="#3975fe" d="M529.3,1518.5L594.2,1538.9L597.5,1537.8L532.7,1517.3Z"/><path color="#3a73fe" d="M526,1519.7L590.8,1540.2L594.2,1538.9L529.3,1518.5Z"/><path color="#3b72ff" d="M522.7,1521.1L587.5,1541.5L590.8,1540.2L526,1519.7Z"/><path color="#3d71ff" d="M519.4,1522.5L584.2,1542.9L587.5,1541.5L522.7,1521.1Z"/><path color="#3e6fff" d="M516,1524L580.9,1544.4L584.2,1542.9L519.4,1522.5Z"/><path color="#406dfe" d="M512.7,1525.5L577.6,1545.9L580.9,1544.4L516,1524Z"/><path color="#416bfe" d="M509.4,1527L574.2,1547.5L577.6,1545.9L512.7,1525.5Z"/><path color="#426afe" d="M506,1528.7L570.9,1549.1L574.2,1547.5L509.4,1527Z"/><path color="#4368fe" d="M502.7,1530.3L567.6,1550.7L570.9,1549.1L506,1528.7Z"/><path color="#4466fd" d="M499.4,1531.9L564.3,1552.4L567.6,1550.7L502.7,1530.3Z"/><path color="#4464fd" d="M496.1,1533.6L560.9,1554L564.3,1552.4L499.4,1531.9Z"/><path color="#4562fc" d="M492.7,1535.2L557.6,1555.7L560.9,1554L496.1,1533.6Z"/><path color="#4661fc" d="M489.4,1536.8L554.3,1557.3L557.6,1555.7L492.7,1535.2Z"/><path color="#465ffb" d="M486.1,1538.4L551,1558.9L554.3,1557.3L489.4,1536.8Z"/><path color="#465dfa" d="M482.8,1540L547.7,1560.4L551,1558.9L486.1,1538.4Z"/><path color="#475cfa" d="M479.4,1541.5L544.4,1561.9L547.7,1560.4L482.8,1540Z"/><path color="#475af9" d="M476.1,1543L541,1563.4L544.4,1561.9L479.4,1541.5Z"/><path color="#4759f8" d="M472.8,1544.4L537.7,1564.8L541,1563.4L476.1,1543Z"/><path color="#4758f8" d="M469.4,1545.7L534.4,1566.1L537.7,1564.8L472.8,1544.4Z"/><path color="#4757f7" d="M466.1,1546.9L531.1,1567.3L534.4,1566.1L469.4,1545.7Z"/><path color="#4756f6" d="M462.8,1548L527.8,1568.5L531.1,1567.3L466.1,1546.9Z"/><path color="#4755f6" d="M459.5,1549.1L524.4,1569.5L527.8,1568.5L462.8,1548Z"/><path color="#4755f6" d="M457.8,1549.6L522.8,1570L524.4,1569.5L459.5,1549.1Z"/><path color="#4854f6" d="M456.1,1550L521.1,1570.4L522.8,1570L457.8,1549.6Z"/><path color="#4854f6" d="M454.5,1550.4L519.4,1570.8L521.1,1570.4L456.1,1550Z"/><path color="#4854f5" d="M452.8,1550.8L517.8,1571.2L519.4,1570.8L454.5,1550.4Z"/><path color="#4854f5" d="M451.1,1551.1L516.1,1571.5L517.8,1571.2L452.8,1550.8Z"/><path color="#4854f6" d="M449.5,1551.4L514.5,1571.8L516.1,1571.5L451.1,1551.1Z"/><path color="#4755f6" d="M447.8,1551.1L512.8,1571.5L514.5,1571.8L449.5,1551.4Z"/><path style="fill:url(#g025);stroke:url(#g025)" d="M512.8,1571.5L514.5,1571.8L516.1,1571.5L517.8,1571.2L519.4,1570.8L521.1,1570.4L522.8,1570L524.4,1569.5L527.8,1568.5L531.1,1567.3L534.4,1566.1L537.7,1564.8L541,1563.4L544.4,1561.9L547.7,1560.4L551,1558.9L554.3,1557.3L557.6,1555.7L560.9,1554L564.3,1552.4L567.6,1550.7L570.9,1549.1L574.2,1547.5L577.6,1545.9L580.9,1544.4L584.2,1542.9L587.5,1541.5L590.8,1540.2L594.2,1538.9L597.5,1537.8L600.8,1536.7L604.1,1535.8L607.4,1535L610.8,1534.3L614.1,1552.2L617.4,1570.2L620.7,1569.6L623.2,1569.1L623.2,1569.1L620.7,1569.6L617.4,1574.7L614.1,1583.7L610.8,1584.3L607.4,1584.9L604.1,1585.5L600.8,1586.2L597.5,1581.8L594.2,1581.1L590.8,1581.7L587.5,1582.3L584.2,1582.9L580.9,1583.5L577.6,1584.1L574.2,1584.8L570.9,1585.4L567.6,1588.2L564.3,1592.9L560.9,1593.6L557.6,1594.2L554.3,1594.8L551,1595.4L547.7,1596L544.4,1596.7L541,1597.3L537.7,1597.9L534.4,1598.5L531.1,1599.1L527.8,1599.7L524.4,1600.4L522.8,1600.7L521.1,1601L519.4,1601.3L517.8,1601.6L516.1,1601.9L514.5,1602.2L512.8,1602.5Z"/></g><path fill="#fff" d="M182,1495.3L247,1515.7L247,1334.4L182,1316.2ZM247,1515.7L312,1536.1L312,1348.2L247,1334.4ZM312,1536.1L377,1556.5L377,1362.1L312,1348.2ZM377,1556.5L442,1583.2L442,1378.1L377,1362.1ZM442,1583.2L507,1603.6L507,1396.3L442,1378.1Z"/><g class="r" clip-path="url(#c02)"><path color="#4434ce" d="M187.9,1494.2L252.9,1514.6"/><path color="#4434ce" d="M252.9,1514.6L317.8,1535"/><path color="#4434ce" d="M317.8,1535L382.8,1555.4"/><path color="#4434ce" d="M382.8,1555.4L447.8,1582.1"/><path color="#4434ce" d="M447.8,1582.1L512.8,1602.5"/><path color="#4434ce" d="M182,1495.3L247,1515.7"/><path color="#4434ce" d="M247,1515.7L312,1536.1"/><path color="#4434ce" d="M312,1536.1L377,1556.5"/><path color="#4434ce" d="M377,1556.5L442,1583.2"/><path color="#4434ce" d="M442,1583.2L507,1603.6"/><path color="#4755f6" d="M187.9,1469.6L252.9,1490"/><path color="#4755f6" d="M252.9,1490L317.8,1510.4"/><path color="#4755f6" d="M317.8,1510.4L382.8,1530.7"/><path color="#4755f6" d="M382.8,1530.7L447.8,1551.1"/><path color="#4755f6" d="M447.8,1551.1L512.8,1571.5"/><path color="#4758f8" d="M185.7,1468.1L250.7,1488.3"/><path color="#4759f8" d="M250.7,1488.3L315.7,1508.5"/><path color="#4759f8" d="M315.7,1508.5L380.7,1528.6"/><path color="#475af9" d="M380.7,1528.6L445.7,1548.7"/><path color="#475af9" d="M445.7,1548.7L510.7,1568.7"/><path color="#475cfa" d="M185,1466.4L250,1486.4"/><path color="#475cfa" d="M250,1486.4L315,1506.3"/><path color="#465dfa" d="M315,1506.3L380,1526.1"/><path color="#465efb" d="M380,1526.1L445,1545.9"/><path color="#465ffb" d="M445,1545.9L510,1565.7"/><path color="#4660fc" d="M184.5,1463.7L249.5,1483.5"/><path color="#4561fc" d="M249.5,1483.5L314.5,1503"/><path color="#4563fd" d="M314.5,1503L379.5,1522.4"/><path color="#4465fd" d="M379.5,1522.4L444.5,1541.9"/><path color="#4367fd" d="M444.5,1541.9L509.5,1561.3"/><path color="#4466fd" d="M184.2,1460.6L249.2,1480.2"/><path color="#4368fd" d="M249.2,1480.2L314.2,1499.4"/><path color="#426afe" d="M314.2,1499.4L379.2,1518.4"/><path color="#406cfe" d="M379.2,1518.4L444.2,1537.5"/><path color="#3f6fff" d="M444.2,1537.5L509.2,1556.7"/><path color="#426afe" d="M184,1458.5L249,1477.9"/><path color="#416cfe" d="M249,1477.9L314,1496.9"/><path color="#3f6eff" d="M314,1496.9L379,1515.8"/><path color="#3c71ff" d="M379,1515.8L444,1534.7"/><path color="#3974fe" d="M444,1534.7L509,1553.6"/><path color="#3e6fff" d="M183.8,1455.8L248.8,1475.1"/><path color="#3c71ff" d="M248.8,1475.1L313.8,1493.9"/><path color="#3974fe" d="M313.8,1493.9L378.8,1512.5"/><path color="#3678fe" d="M378.8,1512.5L443.8,1531.1"/><path color="#337bfc" d="M443.8,1531.1L508.8,1549.9"/><path color="#3875fe" d="M183.7,1452.6L248.7,1471.6"/><path color="#3678fe" d="M248.7,1471.6L313.7,1490.1"/><path color="#327bfc" d="M313.7,1490.1L378.7,1508.4"/><path color="#307ffb" d="M378.7,1508.4L443.7,1526.9"/><path color="#2f83f9" d="M443.7,1526.9L508.7,1545.5"/><path color="#317dfc" d="M183.5,1448.4L248.5,1467.3"/><path color="#3080fb" d="M248.5,1467.3L313.5,1485.5"/><path color="#2e84f9" d="M313.5,1485.5L378.5,1503.5"/><path color="#2d88f6" d="M378.5,1503.5L443.5,1521.6"/><path color="#2d8bf3" d="M443.5,1521.6L508.5,1540"/><path color="#2e86f7" d="M183.3,1443.3L248.3,1462"/><path color="#2d89f5" d="M248.3,1462L313.3,1479.8"/><path color="#2d8df2" d="M313.3,1479.8L378.3,1497.4"/><path color="#2b91ef" d="M378.3,1497.4L443.3,1515.3"/><path color="#2895ec" d="M443.3,1515.3L508.3,1533.5"/><path color="#2b90ef" d="M183.2,1436.9L248.2,1455.4"/><path color="#2a93ed" d="M248.2,1455.4L313.2,1472.8"/><path color="#2798ea" d="M313.2,1472.8L378.2,1490"/><path color="#259de7" d="M378.2,1490L443.2,1507.5"/><path color="#23a1e4" d="M443.2,1507.5L508.2,1525.5"/><path color="#259de7" d="M183,1428.9L248,1447.2"/><path color="#23a0e5" d="M248,1447.2L313,1464.1"/><path color="#20a5e3" d="M313,1464.1L378,1480.9"/><path color="#1caadf" d="M378,1480.9L443,1498.1"/><path color="#18aedb" d="M443,1498.1L508,1515.9"/><path color="#1babde" d="M182.8,1418.9L247.8,1436.9"/><path color="#18aedb" d="M247.8,1436.9L312.8,1453.4"/><path color="#0fb2d4" d="M312.8,1453.4L377.8,1469.7"/><path color="#04b6cd" d="M377.8,1469.7L442.8,1486.6"/><path color="#01b9c6" d="M442.8,1486.6L507.8,1504.2"/><path color="#01b8c8" d="M182.7,1406.3L247.7,1424.2"/><path color="#02bac3" d="M247.7,1424.2L312.7,1440.2"/><path color="#10beba" d="M312.7,1440.2L377.7,1456"/><path color="#21c1b0" d="M377.7,1456L442.7,1472.6"/><path color="#2bc3a8" d="M442.7,1472.6L507.7,1490"/><path color="#2cc4a7" d="M182.5,1390.7L247.5,1408.5"/><path color="#31c5a1" d="M247.5,1408.5L312.5,1423.9"/><path color="#3ac994" d="M312.5,1423.9L377.5,1439.1"/><path color="#4acb85" d="M377.5,1439.1L442.5,1455.4"/><path color="#5acc78" d="M442.5,1455.4L507.5,1472.9"/><path color="#64cd6e" d="M182.3,1371.2L247.3,1388.9"/><path color="#70cd65" d="M247.3,1388.9L312.3,1403.8"/><path color="#89cb52" d="M312.3,1403.8L377.3,1418.5"/><path color="#a2c840" d="M377.3,1418.5L442.3,1434.6"/><path color="#b4c534" d="M442.3,1434.6L507.3,1452.1"/><path color="#ccc028" d="M182.2,1346.7L247.2,1364.6"/><path color="#d5be28" d="M247.2,1364.6L312.2,1378.9"/><path color="#e8bb2f" d="M312.2,1378.9L377.2,1393.2"/><path color="#f9ba3d" d="M377.2,1393.2L442.2,1409.1"/><path color="#fec03a" d="M442.2,1409.1L507.2,1426.9"/><path color="#4537d5" d="M182,1495.3L182,1316.2"/><path color="#4537d5" d="M247,1515.7L247,1334.4"/><path color="#4537d5" d="M312,1536.1L312,1348.2"/><path color="#4537d5" d="M377,1556.5L377,1362.1"/><path color="#4537d5" d="M442,1583.2L442,1378.1"/><path color="#4537d5" d="M507,1603.6L507,1396.3"/><path color="#fad62d" d="M182,1316.2L247,1334.4"/><path color="#f8da2b" d="M247,1334.4L312,1348.2"/><path color="#f5e725" d="M312,1348.2L377,1362.1"/><path color="#f7f31d" d="M377,1362.1L442,1378.1"/><path color="#f9fb15" d="M442,1378.1L507,1396.3"/></g><path class="a" d="M182,1270.3L182,1501.6L507,1603.6L922,1526.4M182,1488.7l-12.9,-2.7M182,1379.5l-12.9,-2.7M182,1270.3l-12.9,-2.7M182,1501.6l-13.4,3.6M344.5,1552.6l-13.4,3.6M507,1603.6l-13.4,3.6M507,1603.6l12.4,3.8M714.5,1565l12.4,3.8M922,1526.4l12.4,3.8"/><text x="159.5" y="1501.2" text-anchor="end">0</text><text x="159.5" y="1392" text-anchor="end">50</text><text x="159.5" y="1282.8" text-anchor="end">100</text><text x="148" y="1551.6" text-anchor="middle">0</text><text x="291.5" y="1602.6" text-anchor="middle">0.5</text><text x="471" y="1654.6" text-anchor="middle">1</text><text x="535" y="1657.6" text-anchor="middle">0</text><text x="744.5" y="1618" text-anchor="middle">5</text><text x="969" y="1577.4" text-anchor="middle">10</text><text x="286" y="1697.6" text-anchor="middle" font-style="italic">ζ</text><text x="771" y="1701.6" text-anchor="middle"><tspan font-style="italic">t</tspan>(s)</text><text x="19.5" y="1357.9"><tspan font-style="italic">u</tspan><tspan dx="4" dy="23" font-size="36">31</tspan></text></g><g><path class="g" d="M1194,1500.4L1613.5,1421.4M1613.5,1421.4L1934,1525.2M1194,1385.4L1613.5,1306.4M1613.5,1306.4L1934,1410.2M1194,1270.3L1613.5,1191.3M1613.5,1191.3L1934,1295.1M1403.8,1462.1L1403.8,1230.8M1613.5,1422.6L1613.5,1191.3M1773.8,1474.5L1773.8,1243.2M1934,1526.4L1934,1295.1M1403.8,1462.1L1726.5,1565M1613.5,1422.6L1934,1526.4M1194,1501.6L1613.5,1422.6M1356.5,1552.6L1773.8,1474.5"/><g class="s" clip-path="url(#c12)"><path style="fill:url(#g120);stroke:url(#g120)" d="M1199.9,1381.7L1201.6,1380.2L1203.2,1378.9L1204.9,1377.8L1206.6,1377.3L1208.3,1377L1209.9,1376.8L1211.6,1376.8L1215,1376.8L1218.3,1377.1L1221.7,1377.4L1225,1377.7L1228.4,1378L1231.8,1377.9L1235.1,1377.6L1238.5,1377L1241.8,1376.4L1245.2,1375.7L1248.5,1375.1L1251.9,1374.5L1255.2,1373.8L1258.6,1373.2L1262,1372.6L1265.3,1371.9L1268.7,1371.3L1272,1370.7L1275.4,1370L1278.7,1369.4L1282.1,1368.8L1285.5,1368.2L1288.8,1367.5L1292.2,1366.9L1295.5,1366.3L1298.9,1365.6L1302.2,1365L1305.6,1364.4L1308.9,1363.7L1312.3,1363.1L1315.7,1362.5L1319,1361.8L1319.8,1361.7L1319.8,1361.7L1319,1361.8L1315.7,1362.5L1312.3,1363.1L1308.9,1363.7L1305.6,1364.4L1302.2,1365L1298.9,1365.6L1295.5,1366.3L1292.2,1367.1L1288.8,1368.6L1285.5,1370.7L1282.1,1373.3L1278.7,1376L1275.4,1379L1272,1381.9L1268.7,1384.6L1265.3,1387L1262,1389L1258.6,1390.4L1255.2,1391.1L1251.9,1391.9L1248.5,1392.7L1245.2,1393.7L1241.8,1394.7L1238.5,1395.8L1235.1,1396.9L1231.8,1398.1L1228.4,1399.2L1225,1400.4L1221.7,1401.5L1218.3,1402.6L1215,1403.7L1211.6,1404.6L1209.9,1405.1L1208.3,1405.5L1206.6,1405.9L1204.9,1406.3L1203.2,1406.6L1201.6,1406.5L1199.9,1403.6Z"/><path color="#0abdbd" d="M1302.2,1365L1367,1385.5L1370.3,1384.9L1305.6,1364.4Z"/><path color="#0abdbd" d="M1298.9,1365.6L1363.7,1386.1L1367,1385.5L1302.2,1365Z"/><path color="#0abdbd" d="M1295.5,1366.3L1360.3,1386.7L1363.7,1386.1L1298.9,1365.6Z"/><path color="#09bdbe" d="M1292.2,1367.1L1357,1387.6L1360.3,1386.7L1295.5,1366.3Z"/><path color="#07bcc0" d="M1288.8,1368.6L1353.6,1389.1L1357,1387.6L1292.2,1367.1Z"/><path color="#03bbc3" d="M1285.5,1370.7L1350.3,1391.2L1353.6,1389.1L1288.8,1368.6Z"/><path color="#01b9c6" d="M1282.1,1373.3L1346.9,1393.7L1350.3,1391.2L1285.5,1370.7Z"/><path color="#02b7cb" d="M1278.7,1376L1343.6,1396.5L1346.9,1393.7L1282.1,1373.3Z"/><path color="#06b5cf" d="M1275.4,1379L1340.2,1399.4L1343.6,1396.5L1278.7,1376Z"/><path color="#0cb3d3" d="M1272,1381.9L1336.9,1402.3L1340.2,1399.4L1275.4,1379Z"/><path color="#12b1d7" d="M1268.7,1384.6L1333.5,1405.1L1336.9,1402.3L1272,1381.9Z"/><path color="#16afd9" d="M1265.3,1387L1330.2,1407.5L1333.5,1405.1L1268.7,1384.6Z"/><path color="#19addc" d="M1262,1389L1326.8,1409.5L1330.2,1407.5L1265.3,1387Z"/><path color="#19acdc" d="M1258.6,1390.4L1323.5,1410.8L1326.8,1409.5L1262,1389Z"/><path color="#1aacdd" d="M1255.2,1391.1L1320.1,1411.6L1323.5,1410.8L1258.6,1390.4Z"/><path color="#1aacdd" d="M1251.9,1391.9L1316.8,1412.3L1320.1,1411.6L1255.2,1391.1Z"/><path color="#1aacdd" d="M1248.5,1392.7L1313.4,1413.2L1316.8,1412.3L1251.9,1391.9Z"/><path color="#1aabdd" d="M1245.2,1393.7L1310.1,1414.1L1313.4,1413.2L1248.5,1392.7Z"/><path color="#1babde" d="M1241.8,1394.7L1306.7,1415.2L1310.1,1414.1L1245.2,1393.7Z"/><path color="#1baadf" d="M1238.5,1395.8L1303.4,1416.2L1306.7,1415.2L1241.8,1394.7Z"/><path color="#1caadf" d="M1235.1,1396.9L1300,1417.4L1303.4,1416.2L1238.5,1395.8Z"/><path color="#1da9e0" d="M1231.8,1398.1L1296.7,1418.5L1300,1417.4L1235.1,1396.9Z"/><path color="#1da8e0" d="M1228.4,1399.2L1293.3,1419.7L1296.7,1418.5L1231.8,1398.1Z"/><path color="#1ea7e1" d="M1225,1400.4L1290,1420.8L1293.3,1419.7L1228.4,1399.2Z"/><path color="#1ea7e1" d="M1221.7,1401.5L1286.6,1421.9L1290,1420.8L1225,1400.4Z"/><path color="#1fa6e2" d="M1218.3,1402.6L1283.3,1423L1286.6,1421.9L1221.7,1401.5Z"/><path color="#1fa6e2" d="M1215,1403.7L1279.9,1424.1L1283.3,1423L1218.3,1402.6Z"/><path color="#20a5e2" d="M1211.6,1404.6L1276.6,1425L1279.9,1424.1L1215,1403.7Z"/><path color="#20a5e2" d="M1209.9,1405.1L1274.9,1425.5L1276.6,1425L1211.6,1404.6Z"/><path color="#20a5e2" d="M1208.3,1405.5L1273.2,1425.9L1274.9,1425.5L1209.9,1405.1Z"/><path color="#20a5e3" d="M1206.6,1405.9L1271.6,1426.3L1273.2,1425.9L1208.3,1405.5Z"/><path color="#20a5e3" d="M1204.9,1406.3L1269.9,1426.7L1271.6,1426.3L1206.6,1405.9Z"/><path color="#20a4e3" d="M1203.2,1406.6L1268.2,1427.1L1269.9,1426.7L1204.9,1406.3Z"/><path color="#1fa5e2" d="M1201.6,1406.5L1266.5,1426.9L1268.2,1427.1L1203.2,1406.6Z"/><path color="#1caadf" d="M1199.9,1403.6L1264.9,1424L1266.5,1426.9L1201.6,1406.5Z"/><path color="#0abdbd" d="M1319.8,1361.7L1384.6,1382.2L1677.6,1327.1L1613.5,1306.4Z"/><path color="#0abdbd" d="M1319,1361.8L1383.7,1382.3L1384.6,1382.2L1319.8,1361.7Z"/><path color="#0abdbd" d="M1315.7,1362.5L1380.4,1383L1383.7,1382.3L1319,1361.8Z"/><path color="#0abdbd" d="M1312.3,1363.1L1377,1383.6L1380.4,1383L1315.7,1362.5Z"/><path color="#0abdbd" d="M1308.9,1363.7L1373.7,1383.9L1377,1383.6L1312.3,1363.1Z"/><path color="#0abdbd" d="M1305.6,1364.4L1370.3,1383.2L1373.7,1383.9L1308.9,1363.7Z"/><path color="#0abdbd" d="M1302.2,1365L1367,1382.2L1370.3,1383.2L1305.6,1364.4Z"/><path color="#0abdbd" d="M1298.9,1365.6L1363.7,1381.3L1367,1382.2L1302.2,1365Z"/><path color="#0abdbd" d="M1295.5,1366.3L1360.3,1381L1363.7,1381.3L1298.9,1365.6Z"/><path color="#0abdbd" d="M1292.2,1366.9L1357,1381L1360.3,1381L1295.5,1366.3Z"/><path color="#0abdbd" d="M1288.8,1367.5L1353.6,1379L1357,1381L1292.2,1366.9Z"/><path color="#0abdbd" d="M1285.5,1368.2L1350.3,1375.4L1353.6,1379L1288.8,1367.5Z"/><path color="#0abdbd" d="M1282.1,1368.8L1346.9,1370.8L1350.3,1375.4L1285.5,1368.2Z"/><path color="#0abdbd" d="M1278.7,1369.4L1343.6,1365.5L1346.9,1370.8L1282.1,1368.8Z"/><path color="#0abdbd" d="M1275.4,1370L1340.2,1360.1L1343.6,1365.5L1278.7,1369.4Z"/><path color="#0abdbd" d="M1272,1370.7L1336.9,1355.1L1340.2,1360.1L1275.4,1370Z"/><path color="#0abdbd" d="M1268.7,1371.3L1333.5,1350.9L1336.9,1355.1L1272,1370.7Z"/><path color="#0abdbd" d="M1265.3,1371.9L1330.2,1348.1L1333.5,1350.9L1268.7,1371.3Z"/><path color="#0abdbd" d="M1262,1372.6L1326.8,1347.1L1330.2,1348.1L1265.3,1371.9Z"/><path color="#0abdbd" d="M1258.6,1373.2L1323.5,1347.3L1326.8,1347.1L1262,1372.6Z"/><path color="#0abdbd" d="M1255.2,1373.8L1320.1,1346.4L1323.5,1347.3L1258.6,1373.2Z"/><path color="#0abdbd" d="M1251.9,1374.5L1316.8,1344.6L1320.1,1346.4L1255.2,1373.8Z"/><path color="#0abdbd" d="M1248.5,1375.1L1313.4,1342.2L1316.8,1344.6L1251.9,1374.5Z"/><path color="#0abdbd" d="M1245.2,1375.7L1310.1,1339.5L1313.4,1342.2L1248.5,1375.1Z"/><path color="#0abdbd" d="M1241.8,1376.4L1306.7,1336.7L1310.1,1339.5L1245.2,1375.7Z"/><path color="#0abdbd" d="M1238.5,1377L1303.4,1334.1L1306.7,1336.7L1241.8,1376.4Z"/><path color="#0abdbd" d="M1235.1,1377.6L1300,1332L1303.4,1334.1L1238.5,1377Z"/><path color="#0bbdbd" d="M1231.8,1377.9L1296.7,1330.6L1300,1332L1235.1,1377.6Z"/><path color="#0dbdbb" d="M1228.4,1378L1293.3,1330.3L1296.7,1330.6L1231.8,1377.9Z"/><path color="#11beba" d="M1225,1377.7L1290,1331.1L1293.3,1330.3L1228.4,1378Z"/><path color="#15bfb7" d="M1221.7,1377.4L1286.6,1332.2L1290,1331.1L1225,1377.7Z"/><path color="#19bfb5" d="M1218.3,1377.1L1283.3,1333.6L1286.6,1332.2L1221.7,1377.4Z"/><path color="#1cc0b4" d="M1215,1376.8L1279.9,1334.9L1283.3,1333.6L1218.3,1377.1Z"/><path color="#1ec0b2" d="M1211.6,1376.8L1276.6,1336.1L1279.9,1334.9L1215,1376.8Z"/><path color="#1fc0b2" d="M1209.9,1376.8L1274.9,1336.6L1276.6,1336.1L1211.6,1376.8Z"/><path color="#20c1b1" d="M1208.3,1377L1273.2,1337.2L1274.9,1336.6L1209.9,1376.8Z"/><path color="#20c1b1" d="M1206.6,1377.3L1271.6,1342.3L1273.2,1337.2L1208.3,1377Z"/><path color="#1fc0b2" d="M1204.9,1377.8L1269.9,1352L1271.6,1342.3L1206.6,1377.3Z"/><path color="#1cc0b3" d="M1203.2,1378.9L1268.2,1363.8L1269.9,1352L1204.9,1377.8Z"/><path color="#19bfb5" d="M1201.6,1380.2L1266.5,1375.3L1268.2,1363.8L1203.2,1378.9Z"/><path color="#14bfb8" d="M1199.9,1381.7L1264.9,1384.1L1266.5,1375.3L1201.6,1380.2Z"/><path style="fill:url(#g121);stroke:url(#g121)" d="M1264.9,1384.1L1266.5,1375.3L1268.2,1363.8L1269.9,1352L1271.6,1342.3L1273.2,1337.2L1274.9,1336.6L1276.6,1336.1L1279.9,1334.9L1283.3,1333.6L1286.6,1332.2L1290,1331.1L1293.3,1330.3L1296.7,1330.6L1300,1332L1303.4,1334.1L1306.7,1336.7L1310.1,1339.5L1313.4,1342.2L1316.8,1344.6L1320.1,1346.4L1323.5,1347.3L1326.8,1347.1L1330.2,1348.1L1333.5,1350.9L1336.9,1355.1L1340.2,1360.1L1343.6,1365.5L1346.9,1370.8L1350.3,1375.4L1353.6,1379L1357,1381L1360.3,1381L1363.7,1381.3L1367,1382.2L1370.3,1383.2L1373.7,1383.9L1377,1383.6L1380.4,1383L1383.7,1382.3L1384.6,1382.2L1384.6,1382.2L1383.7,1382.3L1380.4,1383L1377,1383.6L1373.7,1384.2L1370.3,1384.9L1367,1385.5L1363.7,1386.1L1360.3,1386.7L1357,1387.6L1353.6,1389.1L1350.3,1391.2L1346.9,1393.7L1343.6,1396.5L1340.2,1399.4L1336.9,1402.3L1333.5,1405.1L1330.2,1407.5L1326.8,1409.5L1323.5,1410.8L1320.1,1411.6L1316.8,1412.3L1313.4,1413.2L1310.1,1414.1L1306.7,1415.2L1303.4,1416.2L1300,1417.4L1296.7,1418.5L1293.3,1419.7L1290,1420.8L1286.6,1421.9L1283.3,1423L1279.9,1424.1L1276.6,1425L1274.9,1425.5L1273.2,1425.9L1271.6,1426.3L1269.9,1426.7L1268.2,1427.1L1266.5,1426.9L1264.9,1424Z"/><path color="#0abdbd" d="M1373.7,1384.2L1438.4,1404.7L1441.8,1404.1L1377,1383.6Z"/><path color="#0abdbd" d="M1370.3,1384.9L1435.1,1405.4L1438.4,1404.7L1373.7,1384.2Z"/><path color="#0abdbd" d="M1367,1385.5L1431.8,1406L1435.1,1405.4L1370.3,1384.9Z"/><path color="#0abdbd" d="M1363.7,1386.1L1428.4,1406.6L1431.8,1406L1367,1385.5Z"/><path color="#0abdbd" d="M1360.3,1386.7L1425.1,1407.2L1428.4,1406.6L1363.7,1386.1Z"/><path color="#09bdbe" d="M1357,1387.6L1421.7,1407.9L1425.1,1407.2L1360.3,1386.7Z"/><path color="#07bcc0" d="M1353.6,1389.1L1418.4,1408.5L1421.7,1407.9L1357,1387.6Z"/><path color="#03bbc3" d="M1350.3,1391.2L1415.1,1409.1L1418.4,1408.5L1353.6,1389.1Z"/><path color="#01b9c6" d="M1346.9,1393.7L1411.7,1409.7L1415.1,1409.1L1350.3,1391.2Z"/><path color="#02b7cb" d="M1343.6,1396.5L1408.4,1410.4L1411.7,1409.7L1346.9,1393.7Z"/><path color="#06b5cf" d="M1340.2,1399.4L1405,1418.4L1408.4,1410.4L1343.6,1396.5Z"/><path color="#0cb3d3" d="M1336.9,1402.3L1401.7,1423.1L1405,1418.4L1340.2,1399.4Z"/><path color="#12b1d7" d="M1333.5,1405.1L1398.4,1423.6L1401.7,1423.1L1336.9,1402.3Z"/><path color="#16afd9" d="M1330.2,1407.5L1395,1424L1398.4,1423.6L1333.5,1405.1Z"/><path color="#19addc" d="M1326.8,1409.5L1391.7,1424.3L1395,1424L1330.2,1407.5Z"/><path color="#19acdc" d="M1323.5,1410.8L1388.3,1424.5L1391.7,1424.3L1326.8,1409.5Z"/><path color="#1aacdd" d="M1320.1,1411.6L1385,1424.7L1388.3,1424.5L1323.5,1410.8Z"/><path color="#1aacdd" d="M1316.8,1412.3L1381.6,1425L1385,1424.7L1320.1,1411.6Z"/><path color="#1aacdd" d="M1313.4,1413.2L1378.3,1425.2L1381.6,1425L1316.8,1412.3Z"/><path color="#1aabdd" d="M1310.1,1414.1L1375,1425.6L1378.3,1425.2L1313.4,1413.2Z"/><path color="#1babde" d="M1306.7,1415.2L1371.6,1426L1375,1425.6L1310.1,1414.1Z"/><path color="#1baadf" d="M1303.4,1416.2L1368.3,1426.5L1371.6,1426L1306.7,1415.2Z"/><path color="#1caadf" d="M1300,1417.4L1364.9,1435.8L1368.3,1426.5L1303.4,1416.2Z"/><path color="#1da9e0" d="M1296.7,1418.5L1361.6,1437L1364.9,1435.8L1300,1417.4Z"/><path color="#1da8e0" d="M1293.3,1419.7L1358.3,1438.7L1361.6,1437L1296.7,1418.5Z"/><path color="#1ea7e1" d="M1290,1420.8L1354.9,1440.7L1358.3,1438.7L1293.3,1419.7Z"/><path color="#1ea7e1" d="M1286.6,1421.9L1351.6,1442.6L1354.9,1440.7L1290,1420.8Z"/><path color="#1fa6e2" d="M1283.3,1423L1348.2,1444.3L1351.6,1442.6L1286.6,1421.9Z"/><path color="#1fa6e2" d="M1279.9,1424.1L1344.9,1445.3L1348.2,1444.3L1283.3,1423Z"/><path color="#20a5e2" d="M1276.6,1425L1341.5,1445.1L1344.9,1445.3L1279.9,1424.1Z"/><path color="#20a5e2" d="M1274.9,1425.5L1339.9,1444.5L1341.5,1445.1L1276.6,1425Z"/><path color="#20a5e2" d="M1273.2,1425.9L1338.2,1443.7L1339.9,1444.5L1274.9,1425.5Z"/><path color="#20a5e3" d="M1271.6,1426.3L1336.5,1442.8L1338.2,1443.7L1273.2,1425.9Z"/><path color="#20a5e3" d="M1269.9,1426.7L1334.9,1441.7L1336.5,1442.8L1271.6,1426.3Z"/><path color="#20a4e3" d="M1268.2,1427.1L1333.2,1440.7L1334.9,1441.7L1269.9,1426.7Z"/><path color="#1fa5e2" d="M1266.5,1426.9L1331.5,1439.7L1333.2,1440.7L1268.2,1427.1Z"/><path color="#1caadf" d="M1264.9,1424L1329.8,1438.8L1331.5,1439.7L1266.5,1426.9Z"/><path color="#0abdbd" d="M1384.6,1382.2L1449.3,1402.7L1741.7,1347.9L1677.6,1327.1Z"/><path color="#0abdbd" d="M1383.7,1382.3L1448.5,1402.8L1449.3,1402.7L1384.6,1382.2Z"/><path color="#0abdbd" d="M1380.4,1383L1445.1,1403.5L1448.5,1402.8L1383.7,1382.3Z"/><path color="#0abdbd" d="M1377,1383.6L1441.8,1402.9L1445.1,1403.5L1380.4,1383Z"/><path color="#0bbdbd" d="M1373.7,1383.9L1438.4,1400.7L1441.8,1402.9L1377,1383.6Z"/><path color="#10beba" d="M1370.3,1383.2L1435.1,1397.9L1438.4,1400.7L1373.7,1383.9Z"/><path color="#17bfb6" d="M1367,1382.2L1431.8,1395.7L1435.1,1397.9L1370.3,1383.2Z"/><path color="#1dc0b3" d="M1363.7,1381.3L1428.4,1395.1L1431.8,1395.7L1367,1382.2Z"/><path color="#20c1b1" d="M1360.3,1381L1425.1,1394.8L1428.4,1395.1L1363.7,1381.3Z"/><path color="#22c1b0" d="M1357,1381L1421.7,1393L1425.1,1394.8L1360.3,1381Z"/><path color="#29c3aa" d="M1353.6,1379L1418.4,1389.9L1421.7,1393L1357,1381Z"/><path color="#31c6a0" d="M1350.3,1375.4L1415.1,1385.9L1418.4,1389.9L1353.6,1379Z"/><path color="#3bc993" d="M1346.9,1370.8L1411.7,1381.4L1415.1,1385.9L1350.3,1375.4Z"/><path color="#4dcc82" d="M1343.6,1365.5L1408.4,1376.7L1411.7,1381.4L1346.9,1370.8Z"/><path color="#65cd6e" d="M1340.2,1360.1L1405,1372.1L1408.4,1376.7L1343.6,1365.5Z"/><path color="#7dcc5b" d="M1336.9,1355.1L1401.7,1368L1405,1372.1L1340.2,1360.1Z"/><path color="#92ca4b" d="M1333.5,1350.9L1398.4,1364.6L1401.7,1368L1336.9,1355.1Z"/><path color="#a1c840" d="M1330.2,1348.1L1395,1362.5L1398.4,1364.6L1333.5,1350.9Z"/><path color="#a8c73b" d="M1326.8,1347.1L1391.7,1361.8L1395,1362.5L1330.2,1348.1Z"/><path color="#aac73a" d="M1323.5,1347.3L1388.3,1361.9L1391.7,1361.8L1326.8,1347.1Z"/><path color="#b0c636" d="M1320.1,1346.4L1385,1360.7L1388.3,1361.9L1323.5,1347.3Z"/><path color="#b9c430" d="M1316.8,1344.6L1381.6,1358.5L1385,1360.7L1320.1,1346.4Z"/><path color="#c5c22a" d="M1313.4,1342.2L1378.3,1355.6L1381.6,1358.5L1316.8,1344.6Z"/><path color="#d1bf27" d="M1310.1,1339.5L1375,1352.5L1378.3,1355.6L1313.4,1342.2Z"/><path color="#dcbd29" d="M1306.7,1336.7L1371.6,1349.6L1375,1352.5L1310.1,1339.5Z"/><path color="#e6bb2d" d="M1303.4,1334.1L1368.3,1347.1L1371.6,1349.6L1306.7,1336.7Z"/><path color="#eeba34" d="M1300,1332L1364.9,1345.6L1368.3,1347.1L1303.4,1334.1Z"/><path color="#f3ba39" d="M1296.7,1330.6L1361.6,1345.5L1364.9,1345.6L1300,1332Z"/><path color="#f6ba3b" d="M1293.3,1330.3L1358.3,1346.4L1361.6,1345.5L1296.7,1330.6Z"/><path color="#f5ba3b" d="M1290,1331.1L1354.9,1347.7L1358.3,1346.4L1293.3,1330.3Z"/><path color="#f4ba39" d="M1286.6,1332.2L1351.6,1349.2L1354.9,1347.7L1290,1331.1Z"/><path color="#f2ba38" d="M1283.3,1333.6L1348.2,1350.8L1351.6,1349.2L1286.6,1332.2Z"/><path color="#f0ba36" d="M1279.9,1334.9L1344.9,1352.4L1348.2,1350.8L1283.3,1333.6Z"/><path color="#efba35" d="M1276.6,1336.1L1341.5,1353.6L1344.9,1352.4L1279.9,1334.9Z"/><path color="#eeba34" d="M1274.9,1336.6L1339.9,1354.1L1341.5,1353.6L1276.6,1336.1Z"/><path color="#eeba34" d="M1273.2,1337.2L1338.2,1354.7L1339.9,1354.1L1274.9,1336.6Z"/><path color="#dfbc2a" d="M1271.6,1342.3L1336.5,1360.2L1338.2,1354.7L1273.2,1337.2Z"/><path color="#bfc32d" d="M1269.9,1352L1334.9,1370.4L1336.5,1360.2L1271.6,1342.3Z"/><path color="#90ca4d" d="M1268.2,1363.8L1333.2,1382.9L1334.9,1370.4L1269.9,1352Z"/><path color="#5fcd73" d="M1266.5,1375.3L1331.5,1395L1333.2,1382.9L1268.2,1363.8Z"/><path color="#40ca8d" d="M1264.9,1384.1L1329.8,1404.3L1331.5,1395L1266.5,1375.3Z"/><path style="fill:url(#g122);stroke:url(#g122)" d="M1329.8,1404.3L1331.5,1395L1333.2,1382.9L1334.9,1370.4L1336.5,1360.2L1338.2,1354.7L1339.9,1354.1L1341.5,1353.6L1344.9,1352.4L1348.2,1350.8L1351.6,1349.2L1354.9,1347.7L1358.3,1346.4L1361.6,1345.5L1364.9,1345.6L1368.3,1347.1L1371.6,1349.6L1375,1352.5L1378.3,1355.6L1381.6,1358.5L1385,1360.7L1388.3,1361.9L1391.7,1361.8L1395,1362.5L1398.4,1364.6L1401.7,1368L1405,1372.1L1408.4,1376.7L1411.7,1381.4L1415.1,1385.9L1418.4,1389.9L1421.7,1393L1425.1,1394.8L1428.4,1395.1L1431.8,1395.7L1435.1,1397.9L1438.4,1400.7L1441.8,1402.9L1445.1,1403.5L1448.5,1402.8L1449.3,1402.7L1449.3,1402.7L1448.5,1402.8L1445.1,1403.5L1441.8,1404.1L1438.4,1404.7L1435.1,1405.4L1431.8,1406L1428.4,1406.6L1425.1,1407.2L1421.7,1407.9L1418.4,1408.5L1415.1,1409.1L1411.7,1409.7L1408.4,1410.4L1405,1418.4L1401.7,1423.1L1398.4,1423.6L1395,1424L1391.7,1424.3L1388.3,1424.5L1385,1424.7L1381.6,1425L1378.3,1425.2L1375,1425.6L1371.6,1426L1368.3,1426.5L1364.9,1435.8L1361.6,1437L1358.3,1438.7L1354.9,1440.7L1351.6,1442.6L1348.2,1444.3L1344.9,1445.3L1341.5,1445.1L1339.9,1444.5L1338.2,1443.7L1336.5,1442.8L1334.9,1441.7L1333.2,1440.7L1331.5,1439.7L1329.8,1438.8Z"/><path color="#0abdbd" d="M1438.4,1404.7L1503.2,1425.2L1506.5,1424.6L1441.8,1404.1Z"/><path color="#0abdbd" d="M1435.1,1405.4L1499.9,1425.8L1503.2,1425.2L1438.4,1404.7Z"/><path color="#0abdbd" d="M1431.8,1406L1496.5,1426.5L1499.9,1425.8L1435.1,1405.4Z"/><path color="#0abdbd" d="M1428.4,1406.6L1493.2,1427.1L1496.5,1426.5L1431.8,1406Z"/><path color="#0abdbd" d="M1425.1,1407.2L1489.9,1427.7L1493.2,1427.1L1428.4,1406.6Z"/><path color="#0abdbd" d="M1421.7,1407.9L1486.5,1428.3L1489.9,1427.7L1425.1,1407.2Z"/><path color="#0abdbd" d="M1418.4,1408.5L1483.2,1429L1486.5,1428.3L1421.7,1407.9Z"/><path color="#0abdbd" d="M1415.1,1409.1L1479.9,1429.6L1483.2,1429L1418.4,1408.5Z"/><path color="#0abdbd" d="M1411.7,1409.7L1476.5,1430.2L1479.9,1429.6L1415.1,1409.1Z"/><path color="#0abdbd" d="M1408.4,1410.4L1473.2,1430.8L1476.5,1430.2L1411.7,1409.7Z"/><path color="#03b7cc" d="M1405,1418.4L1469.9,1438.9L1473.2,1430.8L1408.4,1410.4Z"/><path color="#0db3d4" d="M1401.7,1423.1L1466.5,1443.6L1469.9,1438.9L1405,1418.4Z"/><path color="#0db3d3" d="M1398.4,1423.6L1463.2,1444.1L1466.5,1443.6L1401.7,1423.1Z"/><path color="#0cb3d3" d="M1395,1424L1459.9,1444.4L1463.2,1444.1L1398.4,1423.6Z"/><path color="#0bb3d2" d="M1391.7,1424.3L1456.5,1444.7L1459.9,1444.4L1395,1424Z"/><path color="#0ab4d2" d="M1388.3,1424.5L1453.2,1445L1456.5,1444.7L1391.7,1424.3Z"/><path color="#09b4d1" d="M1385,1424.7L1449.9,1445.2L1453.2,1445L1388.3,1424.5Z"/><path color="#08b5d0" d="M1381.6,1425L1446.5,1445.4L1449.9,1445.2L1385,1424.7Z"/><path color="#07b5cf" d="M1378.3,1425.2L1443.2,1445.7L1446.5,1445.4L1381.6,1425Z"/><path color="#06b5cf" d="M1375,1425.6L1439.8,1446L1443.2,1445.7L1378.3,1425.2Z"/><path color="#06b5cf" d="M1371.6,1426L1436.5,1446.4L1439.8,1446L1375,1425.6Z"/><path color="#06b5ce" d="M1368.3,1426.5L1433.2,1446.9L1436.5,1446.4L1371.6,1426Z"/><path color="#1aacdd" d="M1364.9,1435.8L1429.8,1456.2L1433.2,1446.9L1368.3,1426.5Z"/><path color="#1aabdd" d="M1361.6,1437L1426.5,1457.4L1429.8,1456.2L1364.9,1435.8Z"/><path color="#1caadf" d="M1358.3,1438.7L1423.2,1459.1L1426.5,1457.4L1361.6,1437Z"/><path color="#1da8e0" d="M1354.9,1440.7L1419.8,1461.1L1423.2,1459.1L1358.3,1438.7Z"/><path color="#1fa6e1" d="M1351.6,1442.6L1416.5,1463.1L1419.8,1461.1L1354.9,1440.7Z"/><path color="#20a5e2" d="M1348.2,1444.3L1413.2,1464.7L1416.5,1463.1L1351.6,1442.6Z"/><path color="#20a4e3" d="M1344.9,1445.3L1409.8,1465.7L1413.2,1464.7L1348.2,1444.3Z"/><path color="#1fa6e2" d="M1341.5,1445.1L1406.5,1465.5L1409.8,1465.7L1344.9,1445.3Z"/><path color="#1ea7e1" d="M1339.9,1444.5L1404.8,1465L1406.5,1465.5L1341.5,1445.1Z"/><path color="#1da8e0" d="M1338.2,1443.7L1403.2,1464.2L1404.8,1465L1339.9,1444.5Z"/><path color="#1caadf" d="M1336.5,1442.8L1401.5,1463.2L1403.2,1464.2L1338.2,1443.7Z"/><path color="#1aacdd" d="M1334.9,1441.7L1399.8,1462.2L1401.5,1463.2L1336.5,1442.8Z"/><path color="#18addb" d="M1333.2,1440.7L1398.2,1461.1L1399.8,1462.2L1334.9,1441.7Z"/><path color="#16afd9" d="M1331.5,1439.7L1396.5,1460.1L1398.2,1461.1L1333.2,1440.7Z"/><path color="#13b0d7" d="M1329.8,1438.8L1394.8,1459.2L1396.5,1460.1L1331.5,1439.7Z"/><path color="#0abdbd" d="M1449.3,1402.7L1514,1423.2L1805.8,1368.7L1741.7,1347.9Z"/><path color="#0abdbd" d="M1448.5,1402.8L1513.2,1423.4L1514,1423.2L1449.3,1402.7Z"/><path color="#0abdbd" d="M1445.1,1403.5L1509.9,1424L1513.2,1423.4L1448.5,1402.8Z"/><path color="#0ebebb" d="M1441.8,1402.9L1506.5,1423.4L1509.9,1424L1445.1,1403.5Z"/><path color="#1abfb5" d="M1438.4,1400.7L1503.2,1421.2L1506.5,1423.4L1441.8,1402.9Z"/><path color="#25c2ad" d="M1435.1,1397.9L1499.9,1418.4L1503.2,1421.2L1438.4,1400.7Z"/><path color="#2cc4a7" d="M1431.8,1395.7L1496.5,1416.2L1499.9,1418.4L1435.1,1397.9Z"/><path color="#2ec4a4" d="M1428.4,1395.1L1493.2,1415.6L1496.5,1416.2L1431.8,1395.7Z"/><path color="#2fc5a2" d="M1425.1,1394.8L1489.9,1415.3L1493.2,1415.6L1428.4,1395.1Z"/><path color="#34c79c" d="M1421.7,1393L1486.5,1413.5L1489.9,1415.3L1425.1,1394.8Z"/><path color="#3bc993" d="M1418.4,1389.9L1483.2,1410.4L1486.5,1413.5L1421.7,1393Z"/><path color="#49cb85" d="M1415.1,1385.9L1479.9,1406.4L1483.2,1410.4L1418.4,1389.9Z"/><path color="#5ccc75" d="M1411.7,1381.4L1476.5,1401.9L1479.9,1406.4L1415.1,1385.9Z"/><path color="#72cd63" d="M1408.4,1376.7L1473.2,1397.2L1476.5,1401.9L1411.7,1381.4Z"/><path color="#8acb52" d="M1405,1372.1L1469.9,1392.6L1473.2,1397.2L1408.4,1376.7Z"/><path color="#9ec942" d="M1401.7,1368L1466.5,1388.4L1469.9,1392.6L1405,1372.1Z"/><path color="#afc637" d="M1398.4,1364.6L1463.2,1385.1L1466.5,1388.4L1401.7,1368Z"/><path color="#bac430" d="M1395,1362.5L1459.9,1382.9L1463.2,1385.1L1398.4,1364.6Z"/><path color="#bfc32d" d="M1391.7,1361.8L1456.5,1382.2L1459.9,1382.9L1395,1362.5Z"/><path color="#c1c32c" d="M1388.3,1361.9L1453.2,1382.3L1456.5,1382.2L1391.7,1361.8Z"/><path color="#c8c129" d="M1385,1360.7L1449.9,1381.1L1453.2,1382.3L1388.3,1361.9Z"/><path color="#d2bf27" d="M1381.6,1358.5L1446.5,1378.9L1449.9,1381.1L1385,1360.7Z"/><path color="#ddbd29" d="M1378.3,1355.6L1443.2,1376.1L1446.5,1378.9L1381.6,1358.5Z"/><path color="#e9bb2f" d="M1375,1352.5L1439.8,1373L1443.2,1376.1L1378.3,1355.6Z"/><path color="#f2ba38" d="M1371.6,1349.6L1436.5,1370L1439.8,1373L1375,1352.5Z"/><path color="#f9bb3d" d="M1368.3,1347.1L1433.2,1367.6L1436.5,1370L1371.6,1349.6Z"/><path color="#fdbd3d" d="M1364.9,1345.6L1429.8,1366.1L1433.2,1367.6L1368.3,1347.1Z"/><path color="#febe3c" d="M1361.6,1345.5L1426.5,1365.9L1429.8,1366.1L1364.9,1345.6Z"/><path color="#febe3c" d="M1358.3,1346.4L1423.2,1366.8L1426.5,1365.9L1361.6,1345.5Z"/><path color="#fdbd3d" d="M1354.9,1347.7L1419.8,1368.1L1423.2,1366.8L1358.3,1346.4Z"/><path color="#fbbc3d" d="M1351.6,1349.2L1416.5,1369.6L1419.8,1368.1L1354.9,1347.7Z"/><path color="#f9bb3d" d="M1348.2,1350.8L1413.2,1371.3L1416.5,1369.6L1351.6,1349.2Z"/><path color="#f8ba3d" d="M1344.9,1352.4L1409.8,1372.8L1413.2,1371.3L1348.2,1350.8Z"/><path color="#f6ba3b" d="M1341.5,1353.6L1406.5,1374.1L1409.8,1372.8L1344.9,1352.4Z"/><path color="#f6ba3b" d="M1339.9,1354.1L1404.8,1374.5L1406.5,1374.1L1341.5,1353.6Z"/><path color="#f5ba3a" d="M1338.2,1354.7L1403.2,1375.1L1404.8,1374.5L1339.9,1354.1Z"/><path color="#e7bb2e" d="M1336.5,1360.2L1401.5,1380.6L1403.2,1375.1L1338.2,1354.7Z"/><path color="#c7c12a" d="M1334.9,1370.4L1399.8,1390.8L1401.5,1380.6L1336.5,1360.2Z"/><path color="#95ca49" d="M1333.2,1382.9L1398.2,1403.3L1399.8,1390.8L1334.9,1370.4Z"/><path color="#62cd70" d="M1331.5,1395L1396.5,1415.4L1398.2,1403.3L1333.2,1382.9Z"/><path color="#41ca8c" d="M1329.8,1404.3L1394.8,1424.7L1396.5,1415.4L1331.5,1395Z"/><path style="fill:url(#g123);stroke:url(#g123)" d="M1394.8,1424.7L1396.5,1415.4L1398.2,1403.3L1399.8,1390.8L1401.5,1380.6L1403.2,1375.1L1404.8,1374.5L1406.5,1374.1L1409.8,1372.8L1413.2,1371.3L1416.5,1369.6L1419.8,1368.1L1423.2,1366.8L1426.5,1365.9L1429.8,1366.1L1433.2,1367.6L1436.5,1370L1439.8,1373L1443.2,1376.1L1446.5,1378.9L1449.9,1381.1L1453.2,1382.3L1456.5,1382.2L1459.9,1382.9L1463.2,1385.1L1466.5,1388.4L1469.9,1392.6L1473.2,1397.2L1476.5,1401.9L1479.9,1406.4L1483.2,1410.4L1486.5,1413.5L1489.9,1415.3L1493.2,1415.6L1496.5,1416.2L1499.9,1418.4L1503.2,1421.2L1506.5,1423.4L1509.9,1424L1513.2,1423.4L1514,1423.2L1514,1423.2L1513.2,1423.4L1509.9,1424L1506.5,1424.6L1503.2,1425.2L1499.9,1425.8L1496.5,1426.5L1493.2,1427.1L1489.9,1427.7L1486.5,1428.3L1483.2,1429L1479.9,1429.6L1476.5,1430.2L1473.2,1430.8L1469.9,1438.9L1466.5,1443.6L1463.2,1444.1L1459.9,1444.4L1456.5,1444.7L1453.2,1445L1449.9,1445.2L1446.5,1445.4L1443.2,1445.7L1439.8,1446L1436.5,1446.4L1433.2,1446.9L1429.8,1456.2L1426.5,1457.4L1423.2,1459.1L1419.8,1461.1L1416.5,1463.1L1413.2,1464.7L1409.8,1465.7L1406.5,1465.5L1404.8,1465L1403.2,1464.2L1401.5,1463.2L1399.8,1462.2L1398.2,1461.1L1396.5,1460.1L1394.8,1459.2Z"/><path color="#0abdbd" d="M1503.2,1425.2L1568,1445.7L1571.3,1445.1L1506.5,1424.6Z"/><path color="#0abdbd" d="M1499.9,1425.8L1564.6,1446.3L1568,1445.7L1503.2,1425.2Z"/><path color="#0abdbd" d="M1496.5,1426.5L1561.3,1447L1564.6,1446.3L1499.9,1425.8Z"/><path color="#0abdbd" d="M1493.2,1427.1L1558,1447.6L1561.3,1447L1496.5,1426.5Z"/><path color="#0abdbd" d="M1489.9,1427.7L1554.6,1448.2L1558,1447.6L1493.2,1427.1Z"/><path color="#0abdbd" d="M1486.5,1428.3L1551.3,1448.8L1554.6,1448.2L1489.9,1427.7Z"/><path color="#0abdbd" d="M1483.2,1429L1548,1449.4L1551.3,1448.8L1486.5,1428.3Z"/><path color="#0abdbd" d="M1479.9,1429.6L1544.7,1450.1L1548,1449.4L1483.2,1429Z"/><path color="#0abdbd" d="M1476.5,1430.2L1541.3,1450.7L1544.7,1450.1L1479.9,1429.6Z"/><path color="#0abdbd" d="M1473.2,1430.8L1538,1451.3L1541.3,1450.7L1476.5,1430.2Z"/><path color="#03b7cc" d="M1469.9,1438.9L1534.7,1459.4L1538,1451.3L1473.2,1430.8Z"/><path color="#0db3d4" d="M1466.5,1443.6L1531.4,1464L1534.7,1459.4L1469.9,1438.9Z"/><path color="#0db3d3" d="M1463.2,1444.1L1528,1464.5L1531.4,1464L1466.5,1443.6Z"/><path color="#0cb3d3" d="M1459.9,1444.4L1524.7,1464.9L1528,1464.5L1463.2,1444.1Z"/><path color="#0bb3d2" d="M1456.5,1444.7L1521.4,1465.2L1524.7,1464.9L1459.9,1444.4Z"/><path color="#0ab4d2" d="M1453.2,1445L1518,1465.4L1521.4,1465.2L1456.5,1444.7Z"/><path color="#09b4d1" d="M1449.9,1445.2L1514.7,1465.6L1518,1465.4L1453.2,1445Z"/><path color="#08b5d0" d="M1446.5,1445.4L1511.4,1465.9L1514.7,1465.6L1449.9,1445.2Z"/><path color="#07b5cf" d="M1443.2,1445.7L1508.1,1466.1L1511.4,1465.9L1446.5,1445.4Z"/><path color="#06b5cf" d="M1439.8,1446L1504.7,1466.4L1508.1,1466.1L1443.2,1445.7Z"/><path color="#06b5cf" d="M1436.5,1446.4L1501.4,1466.9L1504.7,1466.4L1439.8,1446Z"/><path color="#06b5ce" d="M1433.2,1446.9L1498.1,1467.4L1501.4,1466.9L1436.5,1446.4Z"/><path color="#1aacdd" d="M1429.8,1456.2L1494.8,1476.7L1498.1,1467.4L1433.2,1446.9Z"/><path color="#1aabdd" d="M1426.5,1457.4L1491.4,1477.9L1494.8,1476.7L1429.8,1456.2Z"/><path color="#1caadf" d="M1423.2,1459.1L1488.1,1479.6L1491.4,1477.9L1426.5,1457.4Z"/><path color="#1da8e0" d="M1419.8,1461.1L1484.8,1481.5L1488.1,1479.6L1423.2,1459.1Z"/><path color="#1fa6e1" d="M1416.5,1463.1L1481.4,1483.5L1484.8,1481.5L1419.8,1461.1Z"/><path color="#20a5e2" d="M1413.2,1464.7L1478.1,1485.1L1481.4,1483.5L1416.5,1463.1Z"/><path color="#20a4e3" d="M1409.8,1465.7L1474.8,1486.1L1478.1,1485.1L1413.2,1464.7Z"/><path color="#1fa6e2" d="M1406.5,1465.5L1471.5,1485.9L1474.8,1486.1L1409.8,1465.7Z"/><path color="#1ea7e1" d="M1404.8,1465L1469.8,1485.4L1471.5,1485.9L1406.5,1465.5Z"/><path color="#1da8e0" d="M1403.2,1464.2L1468.1,1484.6L1469.8,1485.4L1404.8,1465Z"/><path color="#1caadf" d="M1401.5,1463.2L1466.5,1483.6L1468.1,1484.6L1403.2,1464.2Z"/><path color="#1aacdd" d="M1399.8,1462.2L1464.8,1482.6L1466.5,1483.6L1401.5,1463.2Z"/><path color="#18addb" d="M1398.2,1461.1L1463.1,1481.5L1464.8,1482.6L1399.8,1462.2Z"/><path color="#16afd9" d="M1396.5,1460.1L1461.5,1480.5L1463.1,1481.5L1398.2,1461.1Z"/><path color="#13b0d7" d="M1394.8,1459.2L1459.8,1479.6L1461.5,1480.5L1396.5,1460.1Z"/><path color="#0abdbd" d="M1514,1423.2L1578.8,1443.7L1869.9,1389.4L1805.8,1368.7Z"/><path color="#0abdbd" d="M1513.2,1423.4L1577.9,1443.9L1578.8,1443.7L1514,1423.2Z"/><path color="#0abdbd" d="M1509.9,1424L1574.6,1444.5L1577.9,1443.9L1513.2,1423.4Z"/><path color="#0ebebb" d="M1506.5,1423.4L1571.3,1443.9L1574.6,1444.5L1509.9,1424Z"/><path color="#1abfb5" d="M1503.2,1421.2L1568,1441.7L1571.3,1443.9L1506.5,1423.4Z"/><path color="#25c2ad" d="M1499.9,1418.4L1564.6,1438.9L1568,1441.7L1503.2,1421.2Z"/><path color="#2cc4a7" d="M1496.5,1416.2L1561.3,1436.7L1564.6,1438.9L1499.9,1418.4Z"/><path color="#2ec4a4" d="M1493.2,1415.6L1558,1436.1L1561.3,1436.7L1496.5,1416.2Z"/><path color="#2fc5a2" d="M1489.9,1415.3L1554.6,1435.8L1558,1436.1L1493.2,1415.6Z"/><path color="#34c79c" d="M1486.5,1413.5L1551.3,1434L1554.6,1435.8L1489.9,1415.3Z"/><path color="#3bc993" d="M1483.2,1410.4L1548,1430.9L1551.3,1434L1486.5,1413.5Z"/><path color="#49cb85" d="M1479.9,1406.4L1544.7,1426.9L1548,1430.9L1483.2,1410.4Z"/><path color="#5ccc75" d="M1476.5,1401.9L1541.3,1422.4L1544.7,1426.9L1479.9,1406.4Z"/><path color="#72cd63" d="M1473.2,1397.2L1538,1417.7L1541.3,1422.4L1476.5,1401.9Z"/><path color="#8acb52" d="M1469.9,1392.6L1534.7,1413L1538,1417.7L1473.2,1397.2Z"/><path color="#9ec942" d="M1466.5,1388.4L1531.4,1408.9L1534.7,1413L1469.9,1392.6Z"/><path color="#afc637" d="M1463.2,1385.1L1528,1405.6L1531.4,1408.9L1466.5,1388.4Z"/><path color="#bac430" d="M1459.9,1382.9L1524.7,1403.4L1528,1405.6L1463.2,1385.1Z"/><path color="#bfc32d" d="M1456.5,1382.2L1521.4,1402.7L1524.7,1403.4L1459.9,1382.9Z"/><path color="#c1c32c" d="M1453.2,1382.3L1518,1402.8L1521.4,1402.7L1456.5,1382.2Z"/><path color="#c8c129" d="M1449.9,1381.1L1514.7,1401.6L1518,1402.8L1453.2,1382.3Z"/><path color="#d2bf27" d="M1446.5,1378.9L1511.4,1399.4L1514.7,1401.6L1449.9,1381.1Z"/><path color="#ddbd29" d="M1443.2,1376.1L1508.1,1396.5L1511.4,1399.4L1446.5,1378.9Z"/><path color="#e9bb2f" d="M1439.8,1373L1504.7,1393.4L1508.1,1396.5L1443.2,1376.1Z"/><path color="#f2ba38" d="M1436.5,1370L1501.4,1390.4L1504.7,1393.4L1439.8,1373Z"/><path color="#f9bb3d" d="M1433.2,1367.6L1498.1,1388L1501.4,1390.4L1436.5,1370Z"/><path color="#fdbd3d" d="M1429.8,1366.1L1494.8,1386.5L1498.1,1388L1433.2,1367.6Z"/><path color="#febe3c" d="M1426.5,1365.9L1491.4,1386.3L1494.8,1386.5L1429.8,1366.1Z"/><path color="#febe3c" d="M1423.2,1366.8L1488.1,1387.2L1491.4,1386.3L1426.5,1365.9Z"/><path color="#fdbd3d" d="M1419.8,1368.1L1484.8,1388.5L1488.1,1387.2L1423.2,1366.8Z"/><path color="#fbbc3d" d="M1416.5,1369.6L1481.4,1390.1L1484.8,1388.5L1419.8,1368.1Z"/><path color="#f9bb3d" d="M1413.2,1371.3L1478.1,1391.7L1481.4,1390.1L1416.5,1369.6Z"/><path color="#f8ba3d" d="M1409.8,1372.8L1474.8,1393.2L1478.1,1391.7L1413.2,1371.3Z"/><path color="#f6ba3b" d="M1406.5,1374.1L1471.5,1394.5L1474.8,1393.2L1409.8,1372.8Z"/><path color="#f6ba3b" d="M1404.8,1374.5L1469.8,1394.9L1471.5,1394.5L1406.5,1374.1Z"/><path color="#f5ba3a" d="M1403.2,1375.1L1468.1,1395.5L1469.8,1394.9L1404.8,1374.5Z"/><path color="#e7bb2e" d="M1401.5,1380.6L1466.5,1401L1468.1,1395.5L1403.2,1375.1Z"/><path color="#c7c12a" d="M1399.8,1390.8L1464.8,1411.2L1466.5,1401L1401.5,1380.6Z"/><path color="#95ca49" d="M1398.2,1403.3L1463.1,1423.7L1464.8,1411.2L1399.8,1390.8Z"/><path color="#62cd70" d="M1396.5,1415.4L1461.5,1435.8L1463.1,1423.7L1398.2,1403.3Z"/><path color="#41ca8c" d="M1394.8,1424.7L1459.8,1445.1L1461.5,1435.8L1396.5,1415.4Z"/><path style="fill:url(#g124);stroke:url(#g124)" d="M1459.8,1445.1L1461.5,1435.8L1463.1,1423.7L1464.8,1411.2L1466.5,1401L1468.1,1395.5L1469.8,1394.9L1471.5,1394.5L1474.8,1393.2L1478.1,1391.7L1481.4,1390.1L1484.8,1388.5L1488.1,1387.2L1491.4,1386.3L1494.8,1386.5L1498.1,1388L1501.4,1390.4L1504.7,1393.4L1508.1,1396.5L1511.4,1399.4L1514.7,1401.6L1518,1402.8L1521.4,1402.7L1524.7,1403.4L1528,1405.6L1531.4,1408.9L1534.7,1413L1538,1417.7L1541.3,1422.4L1544.7,1426.9L1548,1430.9L1551.3,1434L1554.6,1435.8L1558,1436.1L1561.3,1436.7L1564.6,1438.9L1568,1441.7L1571.3,1443.9L1574.6,1444.5L1577.9,1443.9L1578.8,1443.7L1578.8,1443.7L1577.9,1443.9L1574.6,1444.5L1571.3,1445.1L1568,1445.7L1564.6,1446.3L1561.3,1447L1558,1447.6L1554.6,1448.2L1551.3,1448.8L1548,1449.4L1544.7,1450.1L1541.3,1450.7L1538,1451.3L1534.7,1459.4L1531.4,1464L1528,1464.5L1524.7,1464.9L1521.4,1465.2L1518,1465.4L1514.7,1465.6L1511.4,1465.9L1508.1,1466.1L1504.7,1466.4L1501.4,1466.9L1498.1,1467.4L1494.8,1476.7L1491.4,1477.9L1488.1,1479.6L1484.8,1481.5L1481.4,1483.5L1478.1,1485.1L1474.8,1486.1L1471.5,1485.9L1469.8,1485.4L1468.1,1484.6L1466.5,1483.6L1464.8,1482.6L1463.1,1481.5L1461.5,1480.5L1459.8,1479.6Z"/><path color="#0abdbd" d="M1568,1445.7L1632.7,1466.2L1636,1465.6L1571.3,1445.1Z"/><path color="#0abdbd" d="M1564.6,1446.3L1629.4,1466.8L1632.7,1466.2L1568,1445.7Z"/><path color="#0abdbd" d="M1561.3,1447L1626.1,1467.5L1629.4,1466.8L1564.6,1446.3Z"/><path color="#0abdbd" d="M1558,1447.6L1622.8,1468.1L1626.1,1467.5L1561.3,1447Z"/><path color="#0abdbd" d="M1554.6,1448.2L1619.4,1468.7L1622.8,1468.1L1558,1447.6Z"/><path color="#0abdbd" d="M1551.3,1448.8L1616.1,1469.3L1619.4,1468.7L1554.6,1448.2Z"/><path color="#0abdbd" d="M1548,1449.4L1612.8,1469.9L1616.1,1469.3L1551.3,1448.8Z"/><path color="#0abdbd" d="M1544.7,1450.1L1609.5,1470.5L1612.8,1469.9L1548,1449.4Z"/><path color="#0abdbd" d="M1541.3,1450.7L1606.2,1471.2L1609.5,1470.5L1544.7,1450.1Z"/><path color="#0abdbd" d="M1538,1451.3L1602.8,1471.8L1606.2,1471.2L1541.3,1450.7Z"/><path color="#03b7cc" d="M1534.7,1459.4L1599.5,1479.9L1602.8,1471.8L1538,1451.3Z"/><path color="#0db3d4" d="M1531.4,1464L1596.2,1484.5L1599.5,1479.9L1534.7,1459.4Z"/><path color="#0db3d3" d="M1528,1464.5L1592.9,1485L1596.2,1484.5L1531.4,1464Z"/><path color="#0cb3d3" d="M1524.7,1464.9L1589.6,1485.4L1592.9,1485L1528,1464.5Z"/><path color="#0bb3d2" d="M1521.4,1465.2L1586.2,1485.6L1589.6,1485.4L1524.7,1464.9Z"/><path color="#0ab4d2" d="M1518,1465.4L1582.9,1485.9L1586.2,1485.6L1521.4,1465.2Z"/><path color="#09b4d1" d="M1514.7,1465.6L1579.6,1486.1L1582.9,1485.9L1518,1465.4Z"/><path color="#08b5d0" d="M1511.4,1465.9L1576.3,1486.3L1579.6,1486.1L1514.7,1465.6Z"/><path color="#07b5cf" d="M1508.1,1466.1L1572.9,1486.6L1576.3,1486.3L1511.4,1465.9Z"/><path color="#06b5cf" d="M1504.7,1466.4L1569.6,1486.9L1572.9,1486.6L1508.1,1466.1Z"/><path color="#06b5cf" d="M1501.4,1466.9L1566.3,1487.3L1569.6,1486.9L1504.7,1466.4Z"/><path color="#06b5ce" d="M1498.1,1467.4L1563,1487.8L1566.3,1487.3L1501.4,1466.9Z"/><path color="#1aacdd" d="M1494.8,1476.7L1559.7,1497.1L1563,1487.8L1498.1,1467.4Z"/><path color="#1aabdd" d="M1491.4,1477.9L1556.3,1498.3L1559.7,1497.1L1494.8,1476.7Z"/><path color="#1caadf" d="M1488.1,1479.6L1553,1500L1556.3,1498.3L1491.4,1477.9Z"/><path color="#1da8e0" d="M1484.8,1481.5L1549.7,1502L1553,1500L1488.1,1479.6Z"/><path color="#1fa6e1" d="M1481.4,1483.5L1546.4,1503.9L1549.7,1502L1484.8,1481.5Z"/><path color="#20a5e2" d="M1478.1,1485.1L1543.1,1505.5L1546.4,1503.9L1481.4,1483.5Z"/><path color="#20a4e3" d="M1474.8,1486.1L1539.8,1506.5L1543.1,1505.5L1478.1,1485.1Z"/><path color="#1fa6e2" d="M1471.5,1485.9L1536.4,1506.4L1539.8,1506.5L1474.8,1486.1Z"/><path color="#1ea7e1" d="M1469.8,1485.4L1534.8,1505.8L1536.4,1506.4L1471.5,1485.9Z"/><path color="#1da8e0" d="M1468.1,1484.6L1533.1,1505L1534.8,1505.8L1469.8,1485.4Z"/><path color="#1caadf" d="M1466.5,1483.6L1531.4,1504L1533.1,1505L1468.1,1484.6Z"/><path color="#1aacdd" d="M1464.8,1482.6L1529.8,1503L1531.4,1504L1466.5,1483.6Z"/><path color="#18addb" d="M1463.1,1481.5L1528.1,1501.9L1529.8,1503L1464.8,1482.6Z"/><path color="#16afd9" d="M1461.5,1480.5L1526.5,1500.9L1528.1,1501.9L1463.1,1481.5Z"/><path color="#13b0d7" d="M1459.8,1479.6L1524.8,1500L1526.5,1500.9L1461.5,1480.5Z"/><path color="#0abdbd" d="M1578.8,1443.7L1643.5,1464.2L1934,1410.2L1869.9,1389.4Z"/><path color="#0abdbd" d="M1577.9,1443.9L1642.7,1464.3L1643.5,1464.2L1578.8,1443.7Z"/><path color="#0abdbd" d="M1574.6,1444.5L1639.3,1464.1L1642.7,1464.3L1577.9,1443.9Z"/><path color="#0ebebb" d="M1571.3,1443.9L1636,1463.2L1639.3,1464.1L1574.6,1444.5Z"/><path color="#1abfb5" d="M1568,1441.7L1632.7,1462.1L1636,1463.2L1571.3,1443.9Z"/><path color="#25c2ad" d="M1564.6,1438.9L1629.4,1461.4L1632.7,1462.1L1568,1441.7Z"/><path color="#2cc4a7" d="M1561.3,1436.7L1626.1,1461.7L1629.4,1461.4L1564.6,1438.9Z"/><path color="#2ec4a4" d="M1558,1436.1L1622.8,1461.4L1626.1,1461.7L1561.3,1436.7Z"/><path color="#2fc5a2" d="M1554.6,1435.8L1619.4,1460.2L1622.8,1461.4L1558,1436.1Z"/><path color="#34c79c" d="M1551.3,1434L1616.1,1458.3L1619.4,1460.2L1554.6,1435.8Z"/><path color="#3bc993" d="M1548,1430.9L1612.8,1455.7L1616.1,1458.3L1551.3,1434Z"/><path color="#49cb85" d="M1544.7,1426.9L1609.5,1452.7L1612.8,1455.7L1548,1430.9Z"/><path color="#5ccc75" d="M1541.3,1422.4L1606.2,1449.6L1609.5,1452.7L1544.7,1426.9Z"/><path color="#72cd63" d="M1538,1417.7L1602.8,1446.4L1606.2,1449.6L1541.3,1422.4Z"/><path color="#8acb52" d="M1534.7,1413L1599.5,1443.5L1602.8,1446.4L1538,1417.7Z"/><path color="#9ec942" d="M1531.4,1408.9L1596.2,1440.9L1599.5,1443.5L1534.7,1413Z"/><path color="#afc637" d="M1528,1405.6L1592.9,1438.9L1596.2,1440.9L1531.4,1408.9Z"/><path color="#bac430" d="M1524.7,1403.4L1589.6,1437.7L1592.9,1438.9L1528,1405.6Z"/><path color="#bfc32d" d="M1521.4,1402.7L1586.2,1437.5L1589.6,1437.7L1524.7,1403.4Z"/><path color="#c1c32c" d="M1518,1402.8L1582.9,1437.5L1586.2,1437.5L1521.4,1402.7Z"/><path color="#c8c129" d="M1514.7,1401.6L1579.6,1436L1582.9,1437.5L1518,1402.8Z"/><path color="#d2bf27" d="M1511.4,1399.4L1576.3,1433.2L1579.6,1436L1514.7,1401.6Z"/><path color="#ddbd29" d="M1508.1,1396.5L1572.9,1429.8L1576.3,1433.2L1511.4,1399.4Z"/><path color="#e9bb2f" d="M1504.7,1393.4L1569.6,1426.2L1572.9,1429.8L1508.1,1396.5Z"/><path color="#f2ba38" d="M1501.4,1390.4L1566.3,1422.9L1569.6,1426.2L1504.7,1393.4Z"/><path color="#f9bb3d" d="M1498.1,1388L1563,1420.5L1566.3,1422.9L1501.4,1390.4Z"/><path color="#fdbd3d" d="M1494.8,1386.5L1559.7,1419.5L1563,1420.5L1498.1,1388Z"/><path color="#febe3c" d="M1491.4,1386.3L1556.3,1420.2L1559.7,1419.5L1494.8,1386.5Z"/><path color="#febe3c" d="M1488.1,1387.2L1553,1421.8L1556.3,1420.2L1491.4,1386.3Z"/><path color="#fdbd3d" d="M1484.8,1388.5L1549.7,1424.1L1553,1421.8L1488.1,1387.2Z"/><path color="#fbbc3d" d="M1481.4,1390.1L1546.4,1426.5L1549.7,1424.1L1484.8,1388.5Z"/><path color="#f9bb3d" d="M1478.1,1391.7L1543.1,1428.9L1546.4,1426.5L1481.4,1390.1Z"/><path color="#f8ba3d" d="M1474.8,1393.2L1539.8,1431L1543.1,1428.9L1478.1,1391.7Z"/><path color="#f6ba3b" d="M1471.5,1394.5L1536.4,1432.3L1539.8,1431L1474.8,1393.2Z"/><path color="#f6ba3b" d="M1469.8,1394.9L1534.8,1433.2L1536.4,1432.3L1471.5,1394.5Z"/><path color="#f5ba3a" d="M1468.1,1395.5L1533.1,1437.8L1534.8,1433.2L1469.8,1394.9Z"/><path color="#e7bb2e" d="M1466.5,1401L1531.4,1445.2L1533.1,1437.8L1468.1,1395.5Z"/><path color="#c7c12a" d="M1464.8,1411.2L1529.8,1454.3L1531.4,1445.2L1466.5,1401Z"/><path color="#95ca49" d="M1463.1,1423.7L1528.1,1463.7L1529.8,1454.3L1464.8,1411.2Z"/><path color="#62cd70" d="M1461.5,1435.8L1526.5,1472.2L1528.1,1463.7L1463.1,1423.7Z"/><path color="#41ca8c" d="M1459.8,1445.1L1524.8,1478.3L1526.5,1472.2L1461.5,1435.8Z"/><path style="fill:url(#g125);stroke:url(#g125)" d="M1524.8,1478.3L1526.5,1472.2L1528.1,1463.7L1529.8,1454.3L1531.4,1445.2L1533.1,1437.8L1534.8,1433.2L1536.4,1432.3L1539.8,1431L1543.1,1428.9L1546.4,1426.5L1549.7,1424.1L1553,1421.8L1556.3,1420.2L1559.7,1419.5L1563,1420.5L1566.3,1422.9L1569.6,1426.2L1572.9,1429.8L1576.3,1433.2L1579.6,1436L1582.9,1437.5L1586.2,1437.5L1589.6,1437.7L1592.9,1438.9L1596.2,1440.9L1599.5,1443.5L1602.8,1446.4L1606.2,1449.6L1609.5,1452.7L1612.8,1455.7L1616.1,1458.3L1619.4,1460.2L1622.8,1461.4L1626.1,1461.7L1629.4,1461.4L1632.7,1462.1L1636,1463.2L1639.3,1464.1L1642.7,1464.3L1643.5,1464.2L1643.5,1464.2L1642.7,1464.4L1639.3,1465L1636,1465.6L1632.7,1466.2L1629.4,1466.8L1626.1,1467.5L1622.8,1468.1L1619.4,1468.7L1616.1,1469.3L1612.8,1469.9L1609.5,1470.5L1606.2,1471.2L1602.8,1471.8L1599.5,1479.9L1596.2,1484.5L1592.9,1485L1589.6,1485.4L1586.2,1485.6L1582.9,1485.9L1579.6,1486.1L1576.3,1486.3L1572.9,1486.6L1569.6,1486.9L1566.3,1487.3L1563,1487.8L1559.7,1497.1L1556.3,1498.3L1553,1500L1549.7,1502L1546.4,1503.9L1543.1,1505.5L1539.8,1506.5L1536.4,1506.4L1534.8,1505.8L1533.1,1505L1531.4,1504L1529.8,1503L1528.1,1501.9L1526.5,1500.9L1524.8,1500Z"/></g><path fill="#fff" d="M1194,1391.1L1259,1411.5L1259,1302.8L1194,1284.1ZM1259,1411.5L1324,1437.7L1324,1391.7L1259,1302.8ZM1324,1437.7L1389,1498.4L1389,1446.6L1324,1391.7ZM1389,1498.4L1454,1573.4L1454,1467L1389,1446.6ZM1454,1573.4L1519,1593.8L1519,1493.1L1454,1467Z"/><g class="r" clip-path="url(#c12)"><path color="#1caadf" d="M1199.9,1403.6L1264.9,1424"/><path color="#1caadf" d="M1264.9,1424L1329.8,1438.8"/><path color="#13b0d7" d="M1329.8,1438.8L1394.8,1424.7"/><path color="#41ca8c" d="M1394.8,1424.7L1459.8,1445.1"/><path color="#41ca8c" d="M1459.8,1445.1L1524.8,1478.3"/><path color="#18aedb" d="M1198.7,1400.4L1263.7,1420.8"/><path color="#18aedb" d="M1263.7,1420.8L1328.7,1438.3"/><path color="#12b1d6" d="M1328.7,1438.3L1393.7,1428.1"/><path color="#39c895" d="M1393.7,1428.1L1458.7,1448.5"/><path color="#39c895" d="M1458.7,1448.5L1523.6,1480.5"/><path color="#11b1d6" d="M1197.7,1397.5L1262.7,1417.9"/><path color="#11b1d6" d="M1262.7,1417.9L1327.7,1437.9"/><path color="#10b2d5" d="M1327.7,1437.9L1392.7,1429.3"/><path color="#36c898" d="M1392.7,1429.3L1457.7,1449.7"/><path color="#36c898" d="M1457.7,1449.7L1522.7,1481.4"/><path color="#0ab4d2" d="M1196.9,1395.2L1261.8,1415.6"/><path color="#0ab4d2" d="M1261.8,1415.6L1326.8,1437.7"/><path color="#0fb2d5" d="M1326.8,1437.7L1391.8,1433"/><path color="#31c5a1" d="M1391.8,1433L1456.8,1453.4"/><path color="#31c5a1" d="M1456.8,1453.4L1521.8,1483.9"/><path color="#06b5ce" d="M1196.2,1393.6L1261.2,1414"/><path color="#06b5ce" d="M1261.2,1414L1326.2,1437.6"/><path color="#0eb2d4" d="M1326.2,1437.6L1391.2,1437"/><path color="#29c3aa" d="M1391.2,1437L1456.2,1457.4"/><path color="#29c3aa" d="M1456.2,1457.4L1521.2,1486.6"/><path color="#03b6cc" d="M1195.7,1392.6L1260.7,1413"/><path color="#03b6cc" d="M1260.7,1413L1325.7,1437.6"/><path color="#0eb2d4" d="M1325.7,1437.6L1390.7,1440.2"/><path color="#21c1b0" d="M1390.7,1440.2L1455.7,1460.6"/><path color="#21c1b0" d="M1455.7,1460.6L1520.7,1488.8"/><path color="#01b8ca" d="M1195,1391.6L1260,1412"/><path color="#01b8ca" d="M1260,1412L1325,1437.6"/><path color="#0eb3d4" d="M1325,1437.6L1390,1443.9"/><path color="#14beb8" d="M1390,1443.9L1455,1464.3"/><path color="#14beb8" d="M1455,1464.3L1520,1491.3"/><path color="#01b8c9" d="M1194,1391.1L1259,1411.5"/><path color="#01b8c9" d="M1259,1411.5L1324,1437.7"/><path color="#0db3d4" d="M1324,1437.7L1389,1446.6"/><path color="#0abdbd" d="M1389,1446.6L1454,1467"/><path color="#0abdbd" d="M1454,1467L1519,1493.1"/><path color="#14bfb8" d="M1199.9,1381.7L1264.9,1384.1"/><path color="#40ca8d" d="M1264.9,1384.1L1329.8,1404.3"/><path color="#41ca8c" d="M1329.8,1404.3L1394.8,1459.2"/><path color="#13b0d7" d="M1394.8,1459.2L1459.8,1479.6"/><path color="#13b0d7" d="M1459.8,1479.6L1524.8,1500"/><path color="#11beb9" d="M1198.7,1382.7L1263.7,1387.3"/><path color="#39c895" d="M1263.7,1387.3L1328.7,1407.7"/><path color="#39c895" d="M1328.7,1407.7L1393.7,1458.7"/><path color="#12b1d6" d="M1393.7,1458.7L1458.7,1479.1"/><path color="#12b1d6" d="M1458.7,1479.1L1523.6,1499.5"/><path color="#0dbdbc" d="M1197,1384L1262,1391.2"/><path color="#32c69f" d="M1262,1391.2L1327,1411.7"/><path color="#32c69f" d="M1327,1411.7L1392,1458.2"/><path color="#0fb2d5" d="M1392,1458.2L1457,1478.6"/><path color="#0fb2d5" d="M1457,1478.6L1522,1499"/><path color="#0cbdbc" d="M1196.3,1384.4L1261.3,1395.2"/><path color="#2bc4a7" d="M1261.3,1395.2L1326.3,1415.6"/><path color="#2bc4a7" d="M1326.3,1415.6L1391.3,1458.1"/><path color="#0fb2d4" d="M1391.3,1458.1L1456.3,1478.6"/><path color="#0fb2d4" d="M1456.3,1478.6L1521.3,1499"/><path color="#0bbdbd" d="M1195.8,1384.7L1260.8,1398.3"/><path color="#24c1ae" d="M1260.8,1398.3L1325.8,1418.7"/><path color="#24c1ae" d="M1325.8,1418.7L1390.8,1458.1"/><path color="#0fb2d4" d="M1390.8,1458.1L1455.8,1478.9"/><path color="#10b2d5" d="M1455.8,1478.9L1520.8,1499.3"/><path color="#0bbdbd" d="M1195.2,1384.8L1260.2,1402.1"/><path color="#18bfb6" d="M1260.2,1402.1L1325.2,1422.4"/><path color="#18bfb6" d="M1325.2,1422.4L1390.2,1459.1"/><path color="#11b1d6" d="M1390.2,1459.1L1455.2,1481.7"/><path color="#16afd9" d="M1455.2,1481.7L1520.2,1502.1"/><path color="#0ebdbb" d="M1194.8,1384.1L1259.8,1402.8"/><path color="#15bfb7" d="M1259.8,1402.8L1324.8,1423.1"/><path color="#15bfb7" d="M1324.8,1423.1L1389.8,1461.1"/><path color="#15afd9" d="M1389.8,1461.1L1454.8,1487.1"/><path color="#1da8e0" d="M1454.8,1487.1L1519.8,1507.5"/><path color="#14bfb8" d="M1194.7,1382.6L1259.7,1401.8"/><path color="#19bfb5" d="M1259.7,1401.8L1324.7,1422.7"/><path color="#17bfb6" d="M1324.7,1422.7L1389.7,1463.2"/><path color="#19addc" d="M1389.7,1463.2L1454.7,1492.4"/><path color="#23a1e4" d="M1454.7,1492.4L1519.7,1512.8"/><path color="#22c1af" d="M1194.5,1378.8L1259.5,1398.4"/><path color="#25c2ae" d="M1259.5,1398.4L1324.5,1421.1"/><path color="#1dc0b3" d="M1324.5,1421.1L1389.5,1466.7"/><path color="#1da8e0" d="M1389.5,1466.7L1454.5,1501"/><path color="#2994ed" d="M1454.5,1501L1519.5,1521.4"/><path color="#36c899" d="M1194.3,1369.1L1259.3,1388.9"/><path color="#37c897" d="M1259.3,1388.9L1324.3,1417.2"/><path color="#29c3aa" d="M1324.3,1417.2L1389.3,1472.5"/><path color="#23a0e5" d="M1389.3,1472.5L1454.3,1514.9"/><path color="#317efb" d="M1454.3,1514.9L1519.3,1535.3"/><path color="#91ca4c" d="M1194.2,1344.8L1259.2,1364.5"/><path color="#94ca4a" d="M1259.2,1364.5L1324.2,1408.8"/><path color="#38c896" d="M1324.2,1408.8L1389.2,1482.2"/><path color="#2b92ee" d="M1389.2,1482.2L1454.2,1537.3"/><path color="#4756f7" d="M1454.2,1537.3L1519.2,1557.7"/><path color="#0abdbd" d="M1194,1391.1L1194,1284.1"/><path color="#0abdbd" d="M1259,1411.5L1259,1302.8"/><path color="#0abdbd" d="M1324,1437.7L1324,1391.7"/><path color="#0abdbd" d="M1389,1446.6L1389,1498.4"/><path color="#0abdbd" d="M1454,1467L1454,1573.4"/><path color="#0abdbd" d="M1519,1493.1L1519,1593.8"/><path color="#f6f21e" d="M1194,1284.1L1259,1302.8"/><path color="#f7f51b" d="M1259,1302.8L1324,1391.7"/><path color="#76cc60" d="M1324,1391.7L1389,1498.4"/><path color="#3777fe" d="M1389,1498.4L1454,1573.4"/><path color="#3e26a8" d="M1454,1573.4L1519,1593.8"/></g><path class="a" d="M1194,1270.3L1194,1501.6L1519,1603.6L1934,1526.4M1194,1500.4l-12.9,-2.7M1194,1385.4l-12.9,-2.7M1194,1270.3l-12.9,-2.7M1194,1501.6l-13.4,3.6M1356.5,1552.6l-13.4,3.6M1519,1603.6l-13.4,3.6M1519,1603.6l12.4,3.8M1726.5,1565l12.4,3.8M1934,1526.4l12.4,3.8"/><text x="1171.5" y="1509.9" text-anchor="end">-20</text><text x="1171.5" y="1397.9" text-anchor="end">0</text><text x="1171.5" y="1282.8" text-anchor="end">20</text><text x="1160" y="1549.1" text-anchor="middle">0</text><text x="1303.5" y="1602.6" text-anchor="middle">0.5</text><text x="1483" y="1654.6" text-anchor="middle">1</text><text x="1547" y="1657.6" text-anchor="middle">0</text><text x="1756.5" y="1618" text-anchor="middle">5</text><text x="1981" y="1577.4" text-anchor="middle">10</text><text x="1298" y="1697.6" text-anchor="middle" font-style="italic">ζ</text><text x="1783" y="1701.6" text-anchor="middle"><tspan font-style="italic">t</tspan>(s)</text><text x="1037" y="1358.1"><tspan font-style="italic">u</tspan><tspan dx="4" dy="23" font-size="36">32</tspan></text></g><g><path class="g" d="M182,2038.6L601.5,1959.6M601.5,1959.6L922,2063.4M182,1979.1L601.5,1900.1M601.5,1900.1L922,2003.9M182,1919.6L601.5,1840.6M601.5,1840.6L922,1944.4M182,1860.2L601.5,1781.2M601.5,1781.2L922,1885M391.8,2038.9L391.8,1807.6M601.5,1999.4L601.5,1768.1M761.8,2051.3L761.8,1820M922,2103.2L922,1871.9M391.8,2038.9L714.5,2141.8M601.5,1999.4L922,2103.2M182,2078.4L601.5,1999.4M344.5,2129.4L761.8,2051.3"/><g class="s" clip-path="url(#c03)"><path style="fill:url(#g030);stroke:url(#g030)" d="M187.9,1974.5L189.6,1972.9L191.2,1971.7L192.9,1971.1L194.6,1970.1L196.3,1968.5L197.9,1966.2L199.6,1963.4L203,1956.9L206.3,1949.8L209.7,1943L213,1937.5L216.4,1934.2L219.8,1934.5L223.1,1939.4L226.5,1946.5L229.8,1953.2L233.2,1957.1L236.5,1956.6L239.9,1954.4L243.2,1951.1L246.6,1947L250,1942.5L253.3,1937.9L256.7,1933.5L260,1929.6L263.4,1926.5L266.7,1924.6L270.1,1924.9L273.5,1929.1L276.8,1935.4L280.2,1941.3L283.5,1944.7L286.9,1948.3L290.2,1958L293.6,1958.1L296.9,1957.5L300.3,1956.8L301.6,1956.6L301.6,1956.6L300.3,1956.8L296.9,1957.5L293.6,1958.1L290.2,1958.7L286.9,1959.4L283.5,1961.2L280.2,1964.9L276.8,1969.6L273.5,1974.4L270.1,1978.5L266.7,1980.9L263.4,1981.7L260,1982.5L256.7,1983.4L253.3,1984.4L250,1985.6L246.6,1986.8L243.2,1988L239.9,1989.3L236.5,1990.7L233.2,1992L229.8,1993.4L226.5,1994.7L223.1,1996L219.8,1997.2L216.4,1998.3L213,1999.4L209.7,2000.4L206.3,2001.2L203,2001.9L199.6,2002L197.9,2001.7L196.3,2001.3L194.6,2000.8L192.9,2000.2L191.2,1999.6L189.6,1999L187.9,1998.5Z"/><path color="#18addb" d="M286.9,1959.4L351.7,1979.8L355,1979.2L290.2,1958.7Z"/><path color="#1aacdd" d="M283.5,1961.2L348.3,1981.7L351.7,1979.8L286.9,1959.4Z"/><path color="#1da8e0" d="M280.2,1964.9L345,1985.4L348.3,1981.7L283.5,1961.2Z"/><path color="#21a3e3" d="M276.8,1969.6L341.6,1990.1L345,1985.4L280.2,1964.9Z"/><path color="#249ee6" d="M273.5,1974.4L338.3,1994.9L341.6,1990.1L276.8,1969.6Z"/><path color="#2699e9" d="M270.1,1978.5L334.9,1999L338.3,1994.9L273.5,1974.4Z"/><path color="#2797eb" d="M266.7,1980.9L331.6,2001.4L334.9,1999L270.1,1978.5Z"/><path color="#2796eb" d="M263.4,1981.7L328.2,2002.1L331.6,2001.4L266.7,1980.9Z"/><path color="#2796eb" d="M260,1982.5L324.9,2002.9L328.2,2002.1L263.4,1981.7Z"/><path color="#2896ec" d="M256.7,1983.4L321.5,2003.9L324.9,2002.9L260,1982.5Z"/><path color="#2895ec" d="M253.3,1984.4L318.2,2004.9L321.5,2003.9L256.7,1983.4Z"/><path color="#2994ec" d="M250,1985.6L314.8,2006L318.2,2004.9L253.3,1984.4Z"/><path color="#2994ed" d="M246.6,1986.8L311.5,2007.2L314.8,2006L250,1985.6Z"/><path color="#2a93ee" d="M243.2,1988L308.1,2008.5L311.5,2007.2L246.6,1986.8Z"/><path color="#2b92ee" d="M239.9,1989.3L304.8,2009.8L308.1,2008.5L243.2,1988Z"/><path color="#2b91ef" d="M236.5,1990.7L301.4,2011.1L304.8,2009.8L239.9,1989.3Z"/><path color="#2c90f0" d="M233.2,1992L298.1,2012.5L301.4,2011.1L236.5,1990.7Z"/><path color="#2c8ff1" d="M229.8,1993.4L294.7,2013.8L298.1,2012.5L233.2,1992Z"/><path color="#2c8ef2" d="M226.5,1994.7L291.4,2015.1L294.7,2013.8L229.8,1993.4Z"/><path color="#2d8df2" d="M223.1,1996L288,2016.4L291.4,2015.1L226.5,1994.7Z"/><path color="#2d8cf3" d="M219.8,1997.2L284.7,2017.6L288,2016.4L223.1,1996Z"/><path color="#2d8bf4" d="M216.4,1998.3L281.3,2018.8L284.7,2017.6L219.8,1997.2Z"/><path color="#2d8af4" d="M213,1999.4L278,2019.8L281.3,2018.8L216.4,1998.3Z"/><path color="#2d8af4" d="M209.7,2000.4L274.6,2020.8L278,2019.8L213,1999.4Z"/><path color="#2d8af5" d="M206.3,2001.2L271.3,2021.6L274.6,2020.8L209.7,2000.4Z"/><path color="#2d8af5" d="M203,2001.9L267.9,2022.3L271.3,2021.6L206.3,2001.2Z"/><path color="#2d8af4" d="M199.6,2002L264.6,2022.4L267.9,2022.3L203,2001.9Z"/><path color="#2d8bf4" d="M197.9,2001.7L262.9,2022.1L264.6,2022.4L199.6,2002Z"/><path color="#2d8cf3" d="M196.3,2001.3L261.2,2021.7L262.9,2022.1L197.9,2001.7Z"/><path color="#2c8ef2" d="M194.6,2000.8L259.6,2021.2L261.2,2021.7L196.3,2001.3Z"/><path color="#2c8ff1" d="M192.9,2000.2L257.9,2020.6L259.6,2021.2L194.6,2000.8Z"/><path color="#2b90f0" d="M191.2,1999.6L256.2,2020L257.9,2020.6L192.9,2000.2Z"/><path color="#2b92ef" d="M189.6,1999L254.5,2019.4L256.2,2020L191.2,1999.6Z"/><path color="#2a93ee" d="M187.9,1998.5L252.9,2018.9L254.5,2019.4L189.6,1999Z"/><path color="#18addb" d="M301.6,1956.6L366.3,1977.1L665.6,1920.9L601.5,1900.1Z"/><path color="#18addb" d="M300.3,1956.8L365,1977.3L366.3,1977.1L301.6,1956.6Z"/><path color="#18addb" d="M296.9,1957.5L361.7,1978L365,1977.3L300.3,1956.8Z"/><path color="#18addb" d="M293.6,1958.1L358.3,1978.6L361.7,1978L296.9,1957.5Z"/><path color="#17aeda" d="M290.2,1958L355,1978.5L358.3,1978.6L293.6,1958.1Z"/><path color="#01b8c9" d="M286.9,1948.3L351.7,1968.8L355,1978.5L290.2,1958Z"/><path color="#04bbc1" d="M283.5,1944.7L348.3,1965.2L351.7,1968.8L286.9,1948.3Z"/><path color="#10beba" d="M280.2,1941.3L345,1961.8L348.3,1965.2L283.5,1944.7Z"/><path color="#26c2ad" d="M276.8,1935.4L341.6,1955.9L345,1961.8L280.2,1941.3Z"/><path color="#32c69e" d="M273.5,1929.1L338.3,1949.6L341.6,1955.9L276.8,1935.4Z"/><path color="#3bc992" d="M270.1,1924.9L334.9,1945.4L338.3,1949.6L273.5,1929.1Z"/><path color="#3dca90" d="M266.7,1924.6L331.6,1945.1L334.9,1945.4L270.1,1924.9Z"/><path color="#3bc993" d="M263.4,1926.5L328.2,1947L331.6,1945.1L266.7,1924.6Z"/><path color="#36c799" d="M260,1929.6L324.9,1950L328.2,1947L263.4,1926.5Z"/><path color="#31c5a1" d="M256.7,1933.5L321.5,1953.9L324.9,1950L260,1929.6Z"/><path color="#2ac3a9" d="M253.3,1937.9L318.2,1958.4L321.5,1953.9L256.7,1933.5Z"/><path color="#20c1b1" d="M250,1942.5L314.8,1963L318.2,1958.4L253.3,1937.9Z"/><path color="#13beb9" d="M246.6,1947L311.5,1967.5L314.8,1963L250,1942.5Z"/><path color="#07bcbf" d="M243.2,1951.1L308.1,1971.6L311.5,1967.5L246.6,1947Z"/><path color="#02bac4" d="M239.9,1954.4L304.8,1974.9L308.1,1971.6L243.2,1951.1Z"/><path color="#01b9c7" d="M236.5,1956.6L301.4,1977.1L304.8,1974.9L239.9,1954.4Z"/><path color="#01b9c7" d="M233.2,1957.1L298.1,1977.6L301.4,1977.1L236.5,1956.6Z"/><path color="#08bcbe" d="M229.8,1953.2L294.7,1973.7L298.1,1977.6L233.2,1957.1Z"/><path color="#22c1b0" d="M226.5,1946.5L291.4,1966.9L294.7,1973.7L229.8,1953.2Z"/><path color="#31c6a0" d="M223.1,1939.4L288,1959.8L291.4,1966.9L226.5,1946.5Z"/><path color="#3bc992" d="M219.8,1934.5L284.7,1954.9L288,1959.8L223.1,1939.4Z"/><path color="#3dc990" d="M216.4,1934.2L281.3,1954.6L284.7,1954.9L219.8,1934.5Z"/><path color="#37c897" d="M213,1937.5L278,1957.9L281.3,1954.6L216.4,1934.2Z"/><path color="#2fc5a2" d="M209.7,1943L274.6,1963.4L278,1957.9L213,1937.5Z"/><path color="#23c1af" d="M206.3,1949.8L271.3,1970.2L274.6,1963.4L209.7,1943Z"/><path color="#0dbdbc" d="M203,1956.9L267.9,1977.3L271.3,1970.2L206.3,1949.8Z"/><path color="#01b9c7" d="M199.6,1963.4L264.6,1983.9L267.9,1977.3L203,1956.9Z"/><path color="#02b7cb" d="M197.9,1966.2L262.9,1986.6L264.6,1983.9L199.6,1963.4Z"/><path color="#06b5cf" d="M196.3,1968.5L261.2,1988.9L262.9,1986.6L197.9,1966.2Z"/><path color="#09b4d1" d="M194.6,1970.1L259.6,1990.6L261.2,1988.9L196.3,1968.5Z"/><path color="#0bb3d2" d="M192.9,1971.1L257.9,1991.5L259.6,1990.6L194.6,1970.1Z"/><path color="#0cb3d3" d="M191.2,1971.7L256.2,1992.1L257.9,1991.5L192.9,1971.1Z"/><path color="#0eb2d4" d="M189.6,1972.9L254.5,1993.3L256.2,1992.1L191.2,1971.7Z"/><path color="#12b1d6" d="M187.9,1974.5L252.9,1994.9L254.5,1993.3L189.6,1972.9Z"/><path style="fill:url(#g031);stroke:url(#g031)" d="M252.9,1994.9L254.5,1993.3L256.2,1992.1L257.9,1991.5L259.6,1990.6L261.2,1988.9L262.9,1986.6L264.6,1983.9L267.9,1977.3L271.3,1970.2L274.6,1963.4L278,1957.9L281.3,1954.6L284.7,1954.9L288,1959.8L291.4,1966.9L294.7,1973.7L298.1,1977.6L301.4,1977.1L304.8,1974.9L308.1,1971.6L311.5,1967.5L314.8,1963L318.2,1958.4L321.5,1953.9L324.9,1950L328.2,1947L331.6,1945.1L334.9,1945.4L338.3,1949.6L341.6,1955.9L345,1961.8L348.3,1965.2L351.7,1968.8L355,1978.5L358.3,1978.6L361.7,1978L365,1977.3L366.3,1977.1L366.3,1977.1L365,1977.3L361.7,1978L358.3,1978.6L355,1979.2L351.7,1979.8L348.3,1981.7L345,1985.4L341.6,1990.1L338.3,1994.9L334.9,1999L331.6,2001.4L328.2,2002.1L324.9,2002.9L321.5,2003.9L318.2,2004.9L314.8,2006L311.5,2007.2L308.1,2008.5L304.8,2009.8L301.4,2011.1L298.1,2012.5L294.7,2013.8L291.4,2015.1L288,2016.4L284.7,2017.6L281.3,2018.8L278,2019.8L274.6,2020.8L271.3,2021.6L267.9,2022.3L264.6,2022.4L262.9,2022.1L261.2,2021.7L259.6,2021.2L257.9,2020.6L256.2,2020L254.5,2019.4L252.9,2018.9Z"/><path color="#18addb" d="M351.7,1979.8L416.4,2000.3L419.8,1999.7L355,1979.2Z"/><path color="#1aacdd" d="M348.3,1981.7L413.1,2004.6L416.4,2000.3L351.7,1979.8Z"/><path color="#1da8e0" d="M345,1985.4L409.7,2014.5L413.1,2004.6L348.3,1981.7Z"/><path color="#21a3e3" d="M341.6,1990.1L406.4,2027.4L409.7,2014.5L345,1985.4Z"/><path color="#249ee6" d="M338.3,1994.9L403.1,2040.5L406.4,2027.4L341.6,1990.1Z"/><path color="#2699e9" d="M334.9,1999L399.7,2051.4L403.1,2040.5L338.3,1994.9Z"/><path color="#2797eb" d="M331.6,2001.4L396.4,2057.4L399.7,2051.4L334.9,1999Z"/><path color="#2796eb" d="M328.2,2002.1L393,2058.4L396.4,2057.4L331.6,2001.4Z"/><path color="#2796eb" d="M324.9,2002.9L389.7,2059.8L393,2058.4L328.2,2002.1Z"/><path color="#2896ec" d="M321.5,2003.9L386.4,2061.7L389.7,2059.8L324.9,2002.9Z"/><path color="#2895ec" d="M318.2,2004.9L383,2063.9L386.4,2061.7L321.5,2003.9Z"/><path color="#2994ec" d="M314.8,2006L379.7,2066.2L383,2063.9L318.2,2004.9Z"/><path color="#2994ed" d="M311.5,2007.2L376.3,2068.6L379.7,2066.2L314.8,2006Z"/><path color="#2a93ee" d="M308.1,2008.5L373,2070.9L376.3,2068.6L311.5,2007.2Z"/><path color="#2b92ee" d="M304.8,2009.8L369.6,2073L373,2070.9L308.1,2008.5Z"/><path color="#2b91ef" d="M301.4,2011.1L366.3,2074.6L369.6,2073L304.8,2009.8Z"/><path color="#2c90f0" d="M298.1,2012.5L363,2075.7L366.3,2074.6L301.4,2011.1Z"/><path color="#2c8ff1" d="M294.7,2013.8L359.6,2076.3L363,2075.7L298.1,2012.5Z"/><path color="#2c8ef2" d="M291.4,2015.1L356.3,2076.4L359.6,2076.3L294.7,2013.8Z"/><path color="#2d8df2" d="M288,2016.4L352.9,2076.3L356.3,2076.4L291.4,2015.1Z"/><path color="#2d8cf3" d="M284.7,2017.6L349.6,2075.9L352.9,2076.3L288,2016.4Z"/><path color="#2d8bf4" d="M281.3,2018.8L346.3,2075.3L349.6,2075.9L284.7,2017.6Z"/><path color="#2d8af4" d="M278,2019.8L342.9,2074.7L346.3,2075.3L281.3,2018.8Z"/><path color="#2d8af4" d="M274.6,2020.8L339.6,2073.9L342.9,2074.7L278,2019.8Z"/><path color="#2d8af5" d="M271.3,2021.6L336.2,2073.2L339.6,2073.9L274.6,2020.8Z"/><path color="#2d8af5" d="M267.9,2022.3L332.9,2072.6L336.2,2073.2L271.3,2021.6Z"/><path color="#2d8af4" d="M264.6,2022.4L329.5,2072.1L332.9,2072.6L267.9,2022.3Z"/><path color="#2d8bf4" d="M262.9,2022.1L327.9,2071.9L329.5,2072.1L264.6,2022.4Z"/><path color="#2d8cf3" d="M261.2,2021.7L326.2,2071.8L327.9,2071.9L262.9,2022.1Z"/><path color="#2c8ef2" d="M259.6,2021.2L324.5,2071.7L326.2,2071.8L261.2,2021.7Z"/><path color="#2c8ff1" d="M257.9,2020.6L322.9,2071.7L324.5,2071.7L259.6,2021.2Z"/><path color="#2b90f0" d="M256.2,2020L321.2,2071.8L322.9,2071.7L257.9,2020.6Z"/><path color="#2b92ef" d="M254.5,2019.4L319.5,2072L321.2,2071.8L256.2,2020Z"/><path color="#2a93ee" d="M252.9,2018.9L317.8,2071.8L319.5,2072L254.5,2019.4Z"/><path color="#18addb" d="M366.3,1977.1L431,1997.6L729.7,1941.6L665.6,1920.9Z"/><path color="#18addb" d="M365,1977.3L429.8,1997.8L431,1997.6L366.3,1977.1Z"/><path color="#18addb" d="M361.7,1978L426.4,1998.5L429.8,1997.8L365,1977.3Z"/><path color="#18addb" d="M358.3,1978.6L423.1,1999.1L426.4,1998.5L361.7,1978Z"/><path color="#17aeda" d="M355,1978.5L419.8,1999L423.1,1999.1L358.3,1978.6Z"/><path color="#01b8c9" d="M351.7,1968.8L416.4,1989.3L419.8,1999L355,1978.5Z"/><path color="#04bbc1" d="M348.3,1965.2L413.1,1985.8L416.4,1989.3L351.7,1968.8Z"/><path color="#10beba" d="M345,1961.8L409.7,1982.9L413.1,1985.8L348.3,1965.2Z"/><path color="#26c2ad" d="M341.6,1955.9L406.4,1977.7L409.7,1982.9L345,1961.8Z"/><path color="#32c69e" d="M338.3,1949.6L403.1,1972.3L406.4,1977.7L341.6,1955.9Z"/><path color="#3bc992" d="M334.9,1945.4L399.7,1968.7L403.1,1972.3L338.3,1949.6Z"/><path color="#3dca90" d="M331.6,1945.1L396.4,1968.5L399.7,1968.7L334.9,1945.4Z"/><path color="#3bc993" d="M328.2,1947L393,1970.3L396.4,1968.5L331.6,1945.1Z"/><path color="#36c799" d="M324.9,1950L389.7,1973.1L393,1970.3L328.2,1947Z"/><path color="#31c5a1" d="M321.5,1953.9L386.4,1976.6L389.7,1973.1L324.9,1950Z"/><path color="#2ac3a9" d="M318.2,1958.4L383,1980.6L386.4,1976.6L321.5,1953.9Z"/><path color="#20c1b1" d="M314.8,1963L379.7,1984.8L383,1980.6L318.2,1958.4Z"/><path color="#13beb9" d="M311.5,1967.5L376.3,1988.8L379.7,1984.8L314.8,1963Z"/><path color="#07bcbf" d="M308.1,1971.6L373,1992.5L376.3,1988.8L311.5,1967.5Z"/><path color="#02bac4" d="M304.8,1974.9L369.6,1995.5L373,1992.5L308.1,1971.6Z"/><path color="#01b9c7" d="M301.4,1977.1L366.3,1997.6L369.6,1995.5L304.8,1974.9Z"/><path color="#01b9c7" d="M298.1,1977.6L363,1998.1L366.3,1997.6L301.4,1977.1Z"/><path color="#08bcbe" d="M294.7,1973.7L359.6,1994.7L363,1998.1L298.1,1977.6Z"/><path color="#22c1b0" d="M291.4,1966.9L356.3,1988.7L359.6,1994.7L294.7,1973.7Z"/><path color="#31c6a0" d="M288,1959.8L352.9,1982.5L356.3,1988.7L291.4,1966.9Z"/><path color="#3bc992" d="M284.7,1954.9L349.6,1978.2L352.9,1982.5L288,1959.8Z"/><path color="#3dc990" d="M281.3,1954.6L346.3,1978L349.6,1978.2L284.7,1954.9Z"/><path color="#37c897" d="M278,1957.9L342.9,1981.1L346.3,1978L281.3,1954.6Z"/><path color="#2fc5a2" d="M274.6,1963.4L339.6,1986.1L342.9,1981.1L278,1957.9Z"/><path color="#23c1af" d="M271.3,1970.2L336.2,1992.3L339.6,1986.1L274.6,1963.4Z"/><path color="#0dbdbc" d="M267.9,1977.3L332.9,1998.9L336.2,1992.3L271.3,1970.2Z"/><path color="#01b9c7" d="M264.6,1983.9L329.5,2004.9L332.9,1998.9L267.9,1977.3Z"/><path color="#02b7cb" d="M262.9,1986.6L327.9,2007.4L329.5,2004.9L264.6,1983.9Z"/><path color="#06b5cf" d="M261.2,1988.9L326.2,2009.5L327.9,2007.4L262.9,1986.6Z"/><path color="#09b4d1" d="M259.6,1990.6L324.5,2011L326.2,2009.5L261.2,1988.9Z"/><path color="#0bb3d2" d="M257.9,1991.5L322.9,2011.9L324.5,2011L259.6,1990.6Z"/><path color="#0cb3d3" d="M256.2,1992.1L321.2,2012.5L322.9,2011.9L257.9,1991.5Z"/><path color="#0eb2d4" d="M254.5,1993.3L319.5,2013.7L321.2,2012.5L256.2,1992.1Z"/><path color="#12b1d6" d="M252.9,1994.9L317.8,2015.3L319.5,2013.7L254.5,1993.3Z"/><path style="fill:url(#g032);stroke:url(#g032)" d="M317.8,2015.3L319.5,2013.7L321.2,2012.5L322.9,2011.9L324.5,2011L326.2,2009.5L327.9,2007.4L329.5,2004.9L332.9,1998.9L336.2,1992.3L339.6,1986.1L342.9,1981.1L346.3,1978L349.6,1978.2L352.9,1982.5L356.3,1988.7L359.6,1994.7L363,1998.1L366.3,1997.6L369.6,1995.5L373,1992.5L376.3,1988.8L379.7,1984.8L383,1980.6L386.4,1976.6L389.7,1973.1L393,1970.3L396.4,1968.5L399.7,1968.7L403.1,1972.3L406.4,1977.7L409.7,1982.9L413.1,1985.8L416.4,1989.3L419.8,1999L423.1,1999.1L426.4,1998.5L429.8,1997.8L431,1997.6L431,1997.6L429.8,1997.8L426.4,1998.5L423.1,1999.1L419.8,1999.7L416.4,2000.3L413.1,2004.6L409.7,2014.5L406.4,2027.4L403.1,2040.5L399.7,2051.4L396.4,2057.4L393,2058.4L389.7,2059.8L386.4,2061.7L383,2063.9L379.7,2066.2L376.3,2068.6L373,2070.9L369.6,2073L366.3,2074.6L363,2075.7L359.6,2076.3L356.3,2076.4L352.9,2076.3L349.6,2075.9L346.3,2075.3L342.9,2074.7L339.6,2073.9L336.2,2073.2L332.9,2072.6L329.5,2072.1L327.9,2071.9L326.2,2071.8L324.5,2071.7L322.9,2071.7L321.2,2071.8L319.5,2072L317.8,2071.8Z"/><path color="#18addb" d="M416.4,2000.3L481.2,2020.8L484.5,2020.2L419.8,1999.7Z"/><path color="#1ca9e0" d="M413.1,2004.6L477.9,2025.1L481.2,2020.8L416.4,2000.3Z"/><path color="#249de7" d="M409.7,2014.5L474.5,2035L477.9,2025.1L413.1,2004.6Z"/><path color="#2d8cf3" d="M406.4,2027.4L471.2,2047.8L474.5,2035L409.7,2014.5Z"/><path color="#3678fd" d="M403.1,2040.5L467.9,2061L471.2,2047.8L406.4,2027.4Z"/><path color="#4367fd" d="M399.7,2051.4L464.5,2071.9L467.9,2061L403.1,2040.5Z"/><path color="#465efb" d="M396.4,2057.4L461.2,2077.8L464.5,2071.9L399.7,2051.4Z"/><path color="#465dfa" d="M393,2058.4L457.9,2078.9L461.2,2077.8L396.4,2057.4Z"/><path color="#475cfa" d="M389.7,2059.8L454.5,2080.3L457.9,2078.9L393,2058.4Z"/><path color="#475af9" d="M386.4,2061.7L451.2,2082.1L454.5,2080.3L389.7,2059.8Z"/><path color="#4758f8" d="M383,2063.9L447.9,2084.3L451.2,2082.1L386.4,2061.7Z"/><path color="#4755f6" d="M379.7,2066.2L444.5,2086.7L447.9,2084.3L383,2063.9Z"/><path color="#4852f4" d="M376.3,2068.6L441.2,2089.1L444.5,2086.7L379.7,2066.2Z"/><path color="#484ff2" d="M373,2070.9L437.9,2091.4L441.2,2089.1L376.3,2068.6Z"/><path color="#484df0" d="M369.6,2073L434.5,2093.4L437.9,2091.4L373,2070.9Z"/><path color="#484cef" d="M366.3,2074.6L431.2,2095.1L434.5,2093.4L369.6,2073Z"/><path color="#484bee" d="M363,2075.7L427.8,2096.2L431.2,2095.1L366.3,2074.6Z"/><path color="#484bef" d="M359.6,2076.3L424.5,2096.7L427.8,2096.2L363,2075.7Z"/><path color="#484cef" d="M356.3,2076.4L421.2,2096.9L424.5,2096.7L359.6,2076.3Z"/><path color="#484df0" d="M352.9,2076.3L417.8,2096.7L421.2,2096.9L356.3,2076.4Z"/><path color="#484ff1" d="M349.6,2075.9L414.5,2096.3L417.8,2096.7L352.9,2076.3Z"/><path color="#4850f3" d="M346.3,2075.3L411.2,2095.8L414.5,2096.3L349.6,2075.9Z"/><path color="#4852f4" d="M342.9,2074.7L407.8,2095.1L411.2,2095.8L346.3,2075.3Z"/><path color="#4855f6" d="M339.6,2073.9L404.5,2094.4L407.8,2095.1L342.9,2074.7Z"/><path color="#4757f7" d="M336.2,2073.2L401.2,2093.6L404.5,2094.4L339.6,2073.9Z"/><path color="#4759f8" d="M332.9,2072.6L397.8,2093L401.2,2093.6L336.2,2073.2Z"/><path color="#475af9" d="M329.5,2072.1L394.5,2092.5L397.8,2093L332.9,2072.6Z"/><path color="#475bf9" d="M327.9,2071.9L392.8,2092.3L394.5,2092.5L329.5,2072.1Z"/><path color="#475cfa" d="M326.2,2071.8L391.2,2092.2L392.8,2092.3L327.9,2071.9Z"/><path color="#475cfa" d="M324.5,2071.7L389.5,2092.1L391.2,2092.2L326.2,2071.8Z"/><path color="#465dfa" d="M322.9,2071.7L387.8,2092.2L389.5,2092.1L324.5,2071.7Z"/><path color="#465dfb" d="M321.2,2071.8L386.2,2092.3L387.8,2092.2L322.9,2071.7Z"/><path color="#465dfb" d="M319.5,2072L384.5,2092.4L386.2,2092.3L321.2,2071.8Z"/><path color="#465efb" d="M317.8,2071.8L382.8,2092.2L384.5,2092.4L319.5,2072Z"/><path color="#18addb" d="M431,1997.6L495.8,2018.1L793.8,1962.4L729.7,1941.6Z"/><path color="#18addb" d="M429.8,1997.8L494.5,2018.3L495.8,2018.1L431,1997.6Z"/><path color="#18addb" d="M426.4,1998.5L491.2,2019L494.5,2018.3L429.8,1997.8Z"/><path color="#18addb" d="M423.1,1999.1L487.9,2019.6L491.2,2019L426.4,1998.5Z"/><path color="#17aeda" d="M419.8,1999L484.5,2019.5L487.9,2019.6L423.1,1999.1Z"/><path color="#01b8c9" d="M416.4,1989.3L481.2,2009.8L484.5,2019.5L419.8,1999Z"/><path color="#04bbc2" d="M413.1,1985.8L477.9,2006.2L481.2,2009.8L416.4,1989.3Z"/><path color="#0ebebb" d="M409.7,1982.9L474.5,2003.3L477.9,2006.2L413.1,1985.8Z"/><path color="#22c1af" d="M406.4,1977.7L471.2,1998.2L474.5,2003.3L409.7,1982.9Z"/><path color="#2fc5a3" d="M403.1,1972.3L467.9,1992.8L471.2,1998.2L406.4,1977.7Z"/><path color="#36c799" d="M399.7,1968.7L464.5,1989.2L467.9,1992.8L403.1,1972.3Z"/><path color="#37c897" d="M396.4,1968.5L461.2,1989L464.5,1989.2L399.7,1968.7Z"/><path color="#35c79a" d="M393,1970.3L457.9,1990.7L461.2,1989L396.4,1968.5Z"/><path color="#32c69f" d="M389.7,1973.1L454.5,1993.5L457.9,1990.7L393,1970.3Z"/><path color="#2dc4a5" d="M386.4,1976.6L451.2,1997.1L454.5,1993.5L389.7,1973.1Z"/><path color="#26c2ac" d="M383,1980.6L447.9,2001.1L451.2,1997.1L386.4,1976.6Z"/><path color="#1cc0b3" d="M379.7,1984.8L444.5,2005.2L447.9,2001.1L383,1980.6Z"/><path color="#0fbeba" d="M376.3,1988.8L441.2,2009.3L444.5,2005.2L379.7,1984.8Z"/><path color="#06bcc0" d="M373,1992.5L437.9,2013L441.2,2009.3L376.3,1988.8Z"/><path color="#02bac5" d="M369.6,1995.5L434.5,2016L437.9,2013L373,1992.5Z"/><path color="#01b9c7" d="M366.3,1997.6L431.2,2018L434.5,2016L369.6,1995.5Z"/><path color="#01b9c7" d="M363,1998.1L427.8,2018.5L431.2,2018L366.3,1997.6Z"/><path color="#07bcbf" d="M359.6,1994.7L424.5,2015.1L427.8,2018.5L363,1998.1Z"/><path color="#1dc0b3" d="M356.3,1988.7L421.2,2009.1L424.5,2015.1L359.6,1994.7Z"/><path color="#2ec4a4" d="M352.9,1982.5L417.8,2002.9L421.2,2009.1L356.3,1988.7Z"/><path color="#35c799" d="M349.6,1978.2L414.5,1998.6L417.8,2002.9L352.9,1982.5Z"/><path color="#37c898" d="M346.3,1978L411.2,1998.5L414.5,1998.6L349.6,1978.2Z"/><path color="#33c69d" d="M342.9,1981.1L407.8,2001.5L411.2,1998.5L346.3,1978Z"/><path color="#2cc4a7" d="M339.6,1986.1L404.5,2006.5L407.8,2001.5L342.9,1981.1Z"/><path color="#1ec0b2" d="M336.2,1992.3L401.2,2012.7L404.5,2006.5L339.6,1986.1Z"/><path color="#09bcbe" d="M332.9,1998.9L397.8,2019.3L401.2,2012.7L336.2,1992.3Z"/><path color="#01b8c8" d="M329.5,2004.9L394.5,2025.3L397.8,2019.3L332.9,1998.9Z"/><path color="#03b7cc" d="M327.9,2007.4L392.8,2027.8L394.5,2025.3L329.5,2004.9Z"/><path color="#06b5cf" d="M326.2,2009.5L391.2,2029.9L392.8,2027.8L327.9,2007.4Z"/><path color="#09b4d1" d="M324.5,2011L389.5,2031.4L391.2,2029.9L326.2,2009.5Z"/><path color="#0bb3d2" d="M322.9,2011.9L387.8,2032.3L389.5,2031.4L324.5,2011Z"/><path color="#0cb3d3" d="M321.2,2012.5L386.2,2032.9L387.8,2032.3L322.9,2011.9Z"/><path color="#0eb2d4" d="M319.5,2013.7L384.5,2034.1L386.2,2032.9L321.2,2012.5Z"/><path color="#12b1d6" d="M317.8,2015.3L382.8,2035.7L384.5,2034.1L319.5,2013.7Z"/><path style="fill:url(#g033);stroke:url(#g033)" d="M382.8,2035.7L384.5,2034.1L386.2,2032.9L387.8,2032.3L389.5,2031.4L391.2,2029.9L392.8,2027.8L394.5,2025.3L397.8,2019.3L401.2,2012.7L404.5,2006.5L407.8,2001.5L411.2,1998.5L414.5,1998.6L417.8,2002.9L421.2,2009.1L424.5,2015.1L427.8,2018.5L431.2,2018L434.5,2016L437.9,2013L441.2,2009.3L444.5,2005.2L447.9,2001.1L451.2,1997.1L454.5,1993.5L457.9,1990.7L461.2,1989L464.5,1989.2L467.9,1992.8L471.2,1998.2L474.5,2003.3L477.9,2006.2L481.2,2009.8L484.5,2019.5L487.9,2019.6L491.2,2019L494.5,2018.3L495.8,2018.1L495.8,2018.1L494.5,2018.3L491.2,2019L487.9,2019.6L484.5,2020.2L481.2,2020.8L477.9,2025.1L474.5,2035L471.2,2047.8L467.9,2061L464.5,2071.9L461.2,2077.8L457.9,2078.9L454.5,2080.3L451.2,2082.1L447.9,2084.3L444.5,2086.7L441.2,2089.1L437.9,2091.4L434.5,2093.4L431.2,2095.1L427.8,2096.2L424.5,2096.7L421.2,2096.9L417.8,2096.7L414.5,2096.3L411.2,2095.8L407.8,2095.1L404.5,2094.4L401.2,2093.6L397.8,2093L394.5,2092.5L392.8,2092.3L391.2,2092.2L389.5,2092.1L387.8,2092.2L386.2,2092.3L384.5,2092.4L382.8,2092.2Z"/><path color="#18addb" d="M487.9,2019.6L552.6,2044.4L556,2039.5L491.2,2019Z"/><path color="#18addb" d="M484.5,2020.2L549.3,2067.7L552.6,2044.4L487.9,2019.6Z"/><path color="#18addb" d="M481.2,2020.8L546,2082.9L549.3,2067.7L484.5,2020.2Z"/><path color="#1ca9e0" d="M477.9,2025.1L542.6,2083.3L546,2082.9L481.2,2020.8Z"/><path color="#249de7" d="M474.5,2035L539.3,2083.4L542.6,2083.3L477.9,2025.1Z"/><path color="#2d8cf3" d="M471.2,2047.8L536,2083.1L539.3,2083.4L474.5,2035Z"/><path color="#3678fd" d="M467.9,2061L532.7,2082.5L536,2083.1L471.2,2047.8Z"/><path color="#4367fd" d="M464.5,2071.9L529.3,2081.9L532.7,2082.5L467.9,2061Z"/><path color="#465efb" d="M461.2,2077.8L526,2081.1L529.3,2081.9L464.5,2071.9Z"/><path color="#465dfa" d="M457.9,2078.9L522.7,2080.3L526,2081.1L461.2,2077.8Z"/><path color="#475cfa" d="M454.5,2080.3L519.4,2079.5L522.7,2080.3L457.9,2078.9Z"/><path color="#475af9" d="M451.2,2082.1L516,2078.9L519.4,2079.5L454.5,2080.3Z"/><path color="#4758f8" d="M447.9,2084.3L512.7,2078.5L516,2078.9L451.2,2082.1Z"/><path color="#4755f6" d="M444.5,2086.7L509.4,2078.3L512.7,2078.5L447.9,2084.3Z"/><path color="#4852f4" d="M441.2,2089.1L506,2078.5L509.4,2078.3L444.5,2086.7Z"/><path color="#484ff2" d="M437.9,2091.4L502.7,2079.1L506,2078.5L441.2,2089.1Z"/><path color="#484df0" d="M434.5,2093.4L499.4,2079.7L502.7,2079.1L437.9,2091.4Z"/><path color="#484cef" d="M431.2,2095.1L496.1,2080.3L499.4,2079.7L434.5,2093.4Z"/><path color="#484bee" d="M427.8,2096.2L492.7,2081L496.1,2080.3L431.2,2095.1Z"/><path color="#484bef" d="M424.5,2096.7L489.4,2081.6L492.7,2081L427.8,2096.2Z"/><path color="#484cef" d="M421.2,2096.9L486.1,2082.2L489.4,2081.6L424.5,2096.7Z"/><path color="#484df0" d="M417.8,2096.7L482.8,2082.8L486.1,2082.2L421.2,2096.9Z"/><path color="#484ff1" d="M414.5,2096.3L479.4,2083.5L482.8,2082.8L417.8,2096.7Z"/><path color="#4850f3" d="M411.2,2095.8L476.1,2084.1L479.4,2083.5L414.5,2096.3Z"/><path color="#4852f4" d="M407.8,2095.1L472.8,2084.7L476.1,2084.1L411.2,2095.8Z"/><path color="#4855f6" d="M404.5,2094.4L469.4,2095.8L472.8,2084.7L407.8,2095.1Z"/><path color="#4757f7" d="M401.2,2093.6L466.1,2115.7L469.4,2095.8L404.5,2094.4Z"/><path color="#4759f8" d="M397.8,2093L462.8,2116.3L466.1,2115.7L401.2,2093.6Z"/><path color="#475af9" d="M394.5,2092.5L459.5,2116.9L462.8,2116.3L397.8,2093Z"/><path color="#475bf9" d="M392.8,2092.3L457.8,2117.2L459.5,2116.9L394.5,2092.5Z"/><path color="#475cfa" d="M391.2,2092.2L456.1,2117.5L457.8,2117.2L392.8,2092.3Z"/><path color="#475cfa" d="M389.5,2092.1L454.5,2117.8L456.1,2117.5L391.2,2092.2Z"/><path color="#465dfa" d="M387.8,2092.2L452.8,2118.1L454.5,2117.8L389.5,2092.1Z"/><path color="#465dfb" d="M386.2,2092.3L451.1,2118.5L452.8,2118.1L387.8,2092.2Z"/><path color="#465dfb" d="M384.5,2092.4L449.5,2118.8L451.1,2118.5L386.2,2092.3Z"/><path color="#465efb" d="M382.8,2092.2L447.8,2119.1L449.5,2118.8L384.5,2092.4Z"/><path color="#18addb" d="M495.8,2018.1L560.5,2038.6L857.9,1983.1L793.8,1962.4Z"/><path color="#18addb" d="M494.5,2018.3L559.3,2038.8L560.5,2038.6L495.8,2018.1Z"/><path color="#18addb" d="M491.2,2019L556,2039.5L559.3,2038.8L494.5,2018.3Z"/><path color="#18addb" d="M487.9,2019.6L552.6,2038.8L556,2039.5L491.2,2019Z"/><path color="#17aeda" d="M484.5,2019.5L549.3,2033L552.6,2038.8L487.9,2019.6Z"/><path color="#01b8c9" d="M481.2,2009.8L546,2029.4L549.3,2033L484.5,2019.5Z"/><path color="#04bbc2" d="M477.9,2006.2L542.6,2029.2L546,2029.4L481.2,2009.8Z"/><path color="#0ebebb" d="M474.5,2003.3L539.3,2027.8L542.6,2029.2L477.9,2006.2Z"/><path color="#22c1af" d="M471.2,1998.2L536,2025.7L539.3,2027.8L474.5,2003.3Z"/><path color="#2fc5a3" d="M467.9,1992.8L532.7,2023.5L536,2025.7L471.2,1998.2Z"/><path color="#36c799" d="M464.5,1989.2L529.3,2021.9L532.7,2023.5L467.9,1992.8Z"/><path color="#37c897" d="M461.2,1989L526,2021.3L529.3,2021.9L464.5,1989.2Z"/><path color="#35c79a" d="M457.9,1990.7L522.7,2022.1L526,2021.3L461.2,1989Z"/><path color="#32c69f" d="M454.5,1993.5L519.4,2023.7L522.7,2022.1L457.9,1990.7Z"/><path color="#2dc4a5" d="M451.2,1997.1L516,2025.9L519.4,2023.7L454.5,1993.5Z"/><path color="#26c2ac" d="M447.9,2001.1L512.7,2028.4L516,2025.9L451.2,1997.1Z"/><path color="#1cc0b3" d="M444.5,2005.2L509.4,2031.1L512.7,2028.4L447.9,2001.1Z"/><path color="#0fbeba" d="M441.2,2009.3L506,2033.6L509.4,2031.1L444.5,2005.2Z"/><path color="#06bcc0" d="M437.9,2013L502.7,2035.9L506,2033.6L441.2,2009.3Z"/><path color="#02bac5" d="M434.5,2016L499.4,2037.7L502.7,2035.9L437.9,2013Z"/><path color="#01b9c7" d="M431.2,2018L496.1,2038.7L499.4,2037.7L434.5,2016Z"/><path color="#01b9c7" d="M427.8,2018.5L492.7,2038.1L496.1,2038.7L431.2,2018Z"/><path color="#07bcbf" d="M424.5,2015.1L489.4,2035.8L492.7,2038.1L427.8,2018.5Z"/><path color="#1dc0b3" d="M421.2,2009.1L486.1,2032.9L489.4,2035.8L424.5,2015.1Z"/><path color="#2ec4a4" d="M417.8,2002.9L482.8,2030.6L486.1,2032.9L421.2,2009.1Z"/><path color="#35c799" d="M414.5,1998.6L479.4,2029.9L482.8,2030.6L417.8,2002.9Z"/><path color="#37c898" d="M411.2,1998.5L476.1,2031.4L479.4,2029.9L414.5,1998.6Z"/><path color="#33c69d" d="M407.8,2001.5L472.8,2034.3L476.1,2031.4L411.2,1998.5Z"/><path color="#2cc4a7" d="M404.5,2006.5L469.4,2038.1L472.8,2034.3L407.8,2001.5Z"/><path color="#1ec0b2" d="M401.2,2012.7L466.1,2042.2L469.4,2038.1L404.5,2006.5Z"/><path color="#09bcbe" d="M397.8,2019.3L462.8,2046.3L466.1,2042.2L401.2,2012.7Z"/><path color="#01b8c8" d="M394.5,2025.3L459.5,2049.6L462.8,2046.3L397.8,2019.3Z"/><path color="#03b7cc" d="M392.8,2027.8L457.8,2050.9L459.5,2049.6L394.5,2025.3Z"/><path color="#06b5cf" d="M391.2,2029.9L456.1,2051.9L457.8,2050.9L392.8,2027.8Z"/><path color="#09b4d1" d="M389.5,2031.4L454.5,2052.4L456.1,2051.9L391.2,2029.9Z"/><path color="#0bb3d2" d="M387.8,2032.3L452.8,2053L454.5,2052.4L389.5,2031.4Z"/><path color="#0cb3d3" d="M386.2,2032.9L451.1,2054.1L452.8,2053L387.8,2032.3Z"/><path color="#0eb2d4" d="M384.5,2034.1L449.5,2055.5L451.1,2054.1L386.2,2032.9Z"/><path color="#12b1d6" d="M382.8,2035.7L447.8,2056.9L449.5,2055.5L384.5,2034.1Z"/><path style="fill:url(#g034);stroke:url(#g034)" d="M447.8,2056.9L449.5,2055.5L451.1,2054.1L452.8,2053L454.5,2052.4L456.1,2051.9L457.8,2050.9L459.5,2049.6L462.8,2046.3L466.1,2042.2L469.4,2038.1L472.8,2034.3L476.1,2031.4L479.4,2029.9L482.8,2030.6L486.1,2032.9L489.4,2035.8L492.7,2038.1L496.1,2038.7L499.4,2037.7L502.7,2035.9L506,2033.6L509.4,2031.1L512.7,2028.4L516,2025.9L519.4,2023.7L522.7,2022.1L526,2021.3L529.3,2021.9L532.7,2023.5L536,2025.7L539.3,2027.8L542.6,2029.2L546,2029.4L549.3,2033L552.6,2038.8L556,2039.5L559.3,2038.8L560.5,2038.6L560.5,2038.6L559.3,2038.8L556,2039.5L552.6,2044.4L549.3,2067.7L546,2082.9L542.6,2083.3L539.3,2083.4L536,2083.1L532.7,2082.5L529.3,2081.9L526,2081.1L522.7,2080.3L519.4,2079.5L516,2078.9L512.7,2078.5L509.4,2078.3L506,2078.5L502.7,2079.1L499.4,2079.7L496.1,2080.3L492.7,2081L489.4,2081.6L486.1,2082.2L482.8,2082.8L479.4,2083.5L476.1,2084.1L472.8,2084.7L469.4,2095.8L466.1,2115.7L462.8,2116.3L459.5,2116.9L457.8,2117.2L456.1,2117.5L454.5,2117.8L452.8,2118.1L451.1,2118.5L449.5,2118.8L447.8,2119.1Z"/><path color="#18addb" d="M556,2039.5L620.7,2068.2L624,2059.3L559.3,2038.8Z"/><path color="#1da8e0" d="M552.6,2044.4L617.4,2090.4L620.7,2068.2L556,2039.5Z"/><path color="#2d89f5" d="M549.3,2067.7L614.1,2099.2L617.4,2090.4L552.6,2044.4Z"/><path color="#3c71ff" d="M546,2082.9L610.8,2099.4L614.1,2099.2L549.3,2067.7Z"/><path color="#3c72ff" d="M542.6,2083.3L607.4,2099.1L610.8,2099.4L546,2082.9Z"/><path color="#3b73fe" d="M539.3,2083.4L604.1,2098.4L607.4,2099.1L542.6,2083.3Z"/><path color="#3974fe" d="M536,2083.1L600.8,2097.4L604.1,2098.4L539.3,2083.4Z"/><path color="#3776fe" d="M532.7,2082.5L597.5,2096.1L600.8,2097.4L536,2083.1Z"/><path color="#3579fd" d="M529.3,2081.9L594.2,2094.8L597.5,2096.1L532.7,2082.5Z"/><path color="#337bfc" d="M526,2081.1L590.8,2093.4L594.2,2094.8L529.3,2081.9Z"/><path color="#317dfc" d="M522.7,2080.3L587.5,2092L590.8,2093.4L526,2081.1Z"/><path color="#3080fb" d="M519.4,2079.5L584.2,2090.8L587.5,2092L522.7,2080.3Z"/><path color="#2f82fa" d="M516,2078.9L580.9,2089.8L584.2,2090.8L519.4,2079.5Z"/><path color="#2e83f9" d="M512.7,2078.5L577.6,2089.1L580.9,2089.8L516,2078.9Z"/><path color="#2e84f8" d="M509.4,2078.3L574.2,2088.9L577.6,2089.1L512.7,2078.5Z"/><path color="#2e85f8" d="M506,2078.5L570.9,2089.1L574.2,2088.9L509.4,2078.3Z"/><path color="#2e85f8" d="M502.7,2079.1L567.6,2091.3L570.9,2089.1L506,2078.5Z"/><path color="#2e85f8" d="M499.4,2079.7L564.3,2095.8L567.6,2091.3L502.7,2079.1Z"/><path color="#2e85f8" d="M496.1,2080.3L560.9,2099.2L564.3,2095.8L499.4,2079.7Z"/><path color="#2e85f8" d="M492.7,2081L557.6,2099.7L560.9,2099.2L496.1,2080.3Z"/><path color="#2e85f8" d="M489.4,2081.6L554.3,2099.5L557.6,2099.7L492.7,2081Z"/><path color="#2e85f8" d="M486.1,2082.2L551,2098.9L554.3,2099.5L489.4,2081.6Z"/><path color="#2e85f8" d="M482.8,2082.8L547.7,2098.1L551,2098.9L486.1,2082.2Z"/><path color="#2e85f8" d="M479.4,2083.5L544.4,2097.1L547.7,2098.1L482.8,2082.8Z"/><path color="#2e85f8" d="M476.1,2084.1L541,2096.3L544.4,2097.1L479.4,2083.5Z"/><path color="#2e85f8" d="M472.8,2084.7L537.7,2095.8L541,2096.3L476.1,2084.1Z"/><path color="#3a74fe" d="M469.4,2095.8L534.4,2095.7L537.7,2095.8L472.8,2084.7Z"/><path color="#4854f5" d="M466.1,2115.7L531.1,2116.8L534.4,2095.7L469.4,2095.8Z"/><path color="#4854f5" d="M462.8,2116.3L527.8,2130.8L531.1,2116.8L466.1,2115.7Z"/><path color="#4854f5" d="M459.5,2116.9L524.4,2131.4L527.8,2130.8L462.8,2116.3Z"/><path color="#4854f5" d="M457.8,2117.2L522.8,2131.7L524.4,2131.4L459.5,2116.9Z"/><path color="#4854f5" d="M456.1,2117.5L521.1,2132L522.8,2131.7L457.8,2117.2Z"/><path color="#4854f5" d="M454.5,2117.8L519.4,2132.3L521.1,2132L456.1,2117.5Z"/><path color="#4854f5" d="M452.8,2118.1L517.8,2132.6L519.4,2132.3L454.5,2117.8Z"/><path color="#4854f5" d="M451.1,2118.5L516.1,2132.9L517.8,2132.6L452.8,2118.1Z"/><path color="#4854f5" d="M449.5,2118.8L514.5,2133.2L516.1,2132.9L451.1,2118.5Z"/><path color="#4854f5" d="M447.8,2119.1L512.8,2133.5L514.5,2133.2L449.5,2118.8Z"/><path color="#18addb" d="M560.5,2038.6L625.3,2059.1L922,2003.9L857.9,1983.1Z"/><path color="#18addb" d="M559.3,2038.8L624,2059.3L625.3,2059.1L560.5,2038.6Z"/><path color="#18addb" d="M556,2039.5L620.7,2059.9L624,2059.3L559.3,2038.8Z"/><path color="#16afd9" d="M552.6,2038.8L617.4,2057.1L620.7,2059.9L556,2039.5Z"/><path color="#07b5cf" d="M549.3,2033L614.1,2052.2L617.4,2057.1L552.6,2038.8Z"/><path color="#01b9c8" d="M546,2029.4L610.8,2049.9L614.1,2052.2L549.3,2033Z"/><path color="#01b9c6" d="M542.6,2029.2L607.4,2050.5L610.8,2049.9L546,2029.4Z"/><path color="#03bbc2" d="M539.3,2027.8L604.1,2051L607.4,2050.5L542.6,2029.2Z"/><path color="#0abdbd" d="M536,2025.7L600.8,2051.4L604.1,2051L539.3,2027.8Z"/><path color="#14bfb8" d="M532.7,2023.5L597.5,2051.7L600.8,2051.4L536,2025.7Z"/><path color="#1cc0b3" d="M529.3,2021.9L594.2,2052L597.5,2051.7L532.7,2023.5Z"/><path color="#20c1b1" d="M526,2021.3L590.8,2052.2L594.2,2052L529.3,2021.9Z"/><path color="#1fc1b1" d="M522.7,2022.1L587.5,2052.4L590.8,2052.2L526,2021.3Z"/><path color="#1cc0b3" d="M519.4,2023.7L584.2,2052.5L587.5,2052.4L522.7,2022.1Z"/><path color="#17bfb6" d="M516,2025.9L580.9,2052.7L584.2,2052.5L519.4,2023.7Z"/><path color="#10beba" d="M512.7,2028.4L577.6,2052.8L580.9,2052.7L516,2025.9Z"/><path color="#09bcbe" d="M509.4,2031.1L574.2,2053L577.6,2052.8L512.7,2028.4Z"/><path color="#04bbc2" d="M506,2033.6L570.9,2053.1L574.2,2053L509.4,2031.1Z"/><path color="#02bac5" d="M502.7,2035.9L567.6,2053.3L570.9,2053.1L506,2033.6Z"/><path color="#01b9c7" d="M499.4,2037.7L564.3,2053.6L567.6,2053.3L502.7,2035.9Z"/><path color="#01b9c8" d="M496.1,2038.7L560.9,2053.8L564.3,2053.6L499.4,2037.7Z"/><path color="#01bac5" d="M492.7,2038.1L557.6,2054.2L560.9,2053.8L496.1,2038.7Z"/><path color="#06bcc0" d="M489.4,2035.8L554.3,2054.6L557.6,2054.2L492.7,2038.1Z"/><path color="#12beb9" d="M486.1,2032.9L551,2055.1L554.3,2054.6L489.4,2035.8Z"/><path color="#1cc0b3" d="M482.8,2030.6L547.7,2055.7L551,2055.1L486.1,2032.9Z"/><path color="#20c1b1" d="M479.4,2029.9L544.4,2055.9L547.7,2055.7L482.8,2030.6Z"/><path color="#1dc0b3" d="M476.1,2031.4L541,2055.6L544.4,2055.9L479.4,2029.9Z"/><path color="#16bfb7" d="M472.8,2034.3L537.7,2055.2L541,2055.6L476.1,2031.4Z"/><path color="#0abdbd" d="M469.4,2038.1L534.4,2054.6L537.7,2055.2L472.8,2034.3Z"/><path color="#02bac4" d="M466.1,2042.2L531.1,2054.1L534.4,2054.6L469.4,2038.1Z"/><path color="#01b8ca" d="M462.8,2046.3L527.8,2053.9L531.1,2054.1L466.1,2042.2Z"/><path color="#06b5cf" d="M459.5,2049.6L524.4,2054.1L527.8,2053.9L462.8,2046.3Z"/><path color="#08b4d1" d="M457.8,2050.9L522.8,2054.6L524.4,2054.1L459.5,2049.6Z"/><path color="#0ab4d2" d="M456.1,2051.9L521.1,2056.1L522.8,2054.6L457.8,2050.9Z"/><path color="#0bb3d2" d="M454.5,2052.4L519.4,2058.7L521.1,2056.1L456.1,2051.9Z"/><path color="#0cb3d3" d="M452.8,2053L517.8,2062L519.4,2058.7L454.5,2052.4Z"/><path color="#0eb2d4" d="M451.1,2054.1L516.1,2065.7L517.8,2062L452.8,2053Z"/><path color="#11b1d6" d="M449.5,2055.5L514.5,2069.6L516.1,2065.7L451.1,2054.1Z"/><path color="#13b0d7" d="M447.8,2056.9L512.8,2073.3L514.5,2069.6L449.5,2055.5Z"/><path style="fill:url(#g035);stroke:url(#g035)" d="M512.8,2073.3L514.5,2069.6L516.1,2065.7L517.8,2062L519.4,2058.7L521.1,2056.1L522.8,2054.6L524.4,2054.1L527.8,2053.9L531.1,2054.1L534.4,2054.6L537.7,2055.2L541,2055.6L544.4,2055.9L547.7,2055.7L551,2055.1L554.3,2054.6L557.6,2054.2L560.9,2053.8L564.3,2053.6L567.6,2053.3L570.9,2053.1L574.2,2053L577.6,2052.8L580.9,2052.7L584.2,2052.5L587.5,2052.4L590.8,2052.2L594.2,2052L597.5,2051.7L600.8,2051.4L604.1,2051L607.4,2050.5L610.8,2049.9L614.1,2052.2L617.4,2057.1L620.7,2059.9L624,2059.3L625.3,2059.1L625.3,2059.1L624,2059.3L620.7,2068.2L617.4,2090.4L614.1,2099.2L610.8,2099.4L607.4,2099.1L604.1,2098.4L600.8,2097.4L597.5,2096.1L594.2,2094.8L590.8,2093.4L587.5,2092L584.2,2090.8L580.9,2089.8L577.6,2089.1L574.2,2088.9L570.9,2089.1L567.6,2091.3L564.3,2095.8L560.9,2099.2L557.6,2099.7L554.3,2099.5L551,2098.9L547.7,2098.1L544.4,2097.1L541,2096.3L537.7,2095.8L534.4,2095.7L531.1,2116.8L527.8,2130.8L524.4,2131.4L522.8,2131.7L521.1,2132L519.4,2132.3L517.8,2132.6L516.1,2132.9L514.5,2133.2L512.8,2133.5Z"/></g><path fill="#fff" d="M182,2078.4L247,2098.8L247,1999.5L182,1979.1ZM247,2098.8L312,2073.4L312,2019.9L247,1999.5ZM312,2073.4L377,2052.2L377,2014.1L312,2019.9ZM377,2052.2L442,2066.6L442,1929.9L377,2014.1ZM442,2066.6L507,2087L507,1950.3L442,1929.9Z"/><path style="fill:url(#f032);stroke:url(#f032);stroke-width:8;stroke-linejoin:round" clip-path="url(#c03)" d="M312,2072.9L377,2093.3L382.8,2035.7L317.8,2015.3Z"/><path style="fill:url(#f033);stroke:url(#f033);stroke-width:8;stroke-linejoin:round" clip-path="url(#c03)" d="M377,2093.3L442,2120.2L447.8,2056.9L382.8,2035.7Z"/><path style="fill:url(#f034);stroke:url(#f034);stroke-width:8;stroke-linejoin:round" clip-path="url(#c03)" d="M442,2120.2L507,2134.6L512.8,2073.3L447.8,2056.9Z"/><g class="r" clip-path="url(#c03)"><path color="#12b1d6" d="M187.9,1974.5L252.9,1994.9"/><path color="#12b1d6" d="M252.9,1994.9L317.8,2015.3"/><path color="#12b1d6" d="M317.8,2015.3L382.8,2092.2"/><path color="#465efb" d="M382.8,2092.2L447.8,2119.1"/><path color="#4854f5" d="M447.8,2119.1L512.8,2133.5"/><path color="#13b0d7" d="M187,1975.4L252,1995.8"/><path color="#13b0d7" d="M252,1995.8L317,2016.2"/><path color="#13b0d7" d="M317,2016.2L382,2088.6"/><path color="#4465fd" d="M382,2088.6L447,2119.2"/><path color="#4854f5" d="M447,2119.2L512,2133.7"/><path color="#14b0d8" d="M186.5,1975.9L251.5,1996.3"/><path color="#14b0d8" d="M251.5,1996.3L316.5,2016.7"/><path color="#14b0d8" d="M316.5,2016.7L381.5,2085"/><path color="#416bfe" d="M381.5,2085L446.5,2117.8"/><path color="#4757f7" d="M446.5,2117.8L511.5,2132.5"/><path color="#15afd8" d="M186,1976.4L251,1996.8"/><path color="#15afd8" d="M251,1996.8L316,2017.2"/><path color="#15afd8" d="M316,2017.2L381,2080.8"/><path color="#3c72ff" d="M381,2080.8L446,2113.9"/><path color="#465dfa" d="M446,2113.9L511,2128.9"/><path color="#15afd9" d="M185.7,1976.7L250.7,1997.1"/><path color="#15afd9" d="M250.7,1997.1L315.7,2017.5"/><path color="#15afd9" d="M315.7,2017.5L380.7,2077.7"/><path color="#3677fe" d="M380.7,2077.7L445.7,2110.1"/><path color="#4563fd" d="M445.7,2110.1L510.7,2125.6"/><path color="#16afd9" d="M185.4,1977L250.3,1997.4"/><path color="#16afd9" d="M250.3,1997.4L315.3,2017.8"/><path color="#16afd9" d="M315.3,2017.8L380.3,2074.5"/><path color="#317dfc" d="M380.3,2074.5L445.3,2105.7"/><path color="#416afe" d="M445.3,2105.7L510.3,2121.7"/><path color="#16afda" d="M185,1977.3L250,1997.7"/><path color="#16afda" d="M250,1997.7L315,2018.1"/><path color="#16afda" d="M315,2018.1L380,2071.2"/><path color="#2f82f9" d="M380,2071.2L445,2100.8"/><path color="#3b73fe" d="M445,2100.8L510,2117.3"/><path color="#16aeda" d="M184.7,1977.6L249.7,1998"/><path color="#16aeda" d="M249.7,1998L314.7,2018.4"/><path color="#16aeda" d="M314.7,2018.4L379.7,2068"/><path color="#2d87f6" d="M379.7,2068L444.7,2095.6"/><path color="#327cfc" d="M444.7,2095.6L509.7,2112.7"/><path color="#17aeda" d="M184.3,1977.9L249.3,1998.3"/><path color="#17aeda" d="M249.3,1998.3L314.3,2018.7"/><path color="#17aeda" d="M314.3,2018.7L379.3,2064.8"/><path color="#2d8cf3" d="M379.3,2064.8L444.3,2090.3"/><path color="#2e85f8" d="M444.3,2090.3L509.3,2108"/><path color="#17aeda" d="M184,1978.1L249,1998.6"/><path color="#17aeda" d="M249,1998.6L314,2019"/><path color="#17aeda" d="M314,2019L379,2061.9"/><path color="#2b91ef" d="M379,2061.9L444,2085.1"/><path color="#2d8df3" d="M444,2085.1L509,2103.4"/><path color="#18aedb" d="M183.7,1978.4L248.7,1998.8"/><path color="#18aedb" d="M248.7,1998.8L313.7,2019.2"/><path color="#18aedb" d="M313.7,2019.2L378.7,2059.2"/><path color="#2995ec" d="M378.7,2059.2L443.7,2080.2"/><path color="#2994ed" d="M443.7,2080.2L508.7,2099.1"/><path color="#18aedb" d="M183.3,1978.6L248.3,1999"/><path color="#18aedb" d="M248.3,1999L313.3,2019.4"/><path color="#18aedb" d="M313.3,2019.4L378.3,2056.8"/><path color="#2798ea" d="M378.3,2056.8L443.3,2075.8"/><path color="#269ae9" d="M443.3,2075.8L508.3,2095.1"/><path color="#18aedb" d="M183,1978.8L248,1999.2"/><path color="#18aedb" d="M248,1999.2L313,2019.6"/><path color="#18aedb" d="M313,2019.6L378,2054.9"/><path color="#269be8" d="M378,2054.9L443,2072"/><path color="#249fe5" d="M443,2072L508,2091.8"/><path color="#18addb" d="M182.5,1979L247.5,1999.4"/><path color="#18addb" d="M247.5,1999.4L312.5,2019.8"/><path color="#18addb" d="M312.5,2019.8L377.5,2052.9"/><path color="#249de6" d="M377.5,2052.9L442.5,2068.1"/><path color="#20a4e3" d="M442.5,2068.1L507.5,2088.3"/><path color="#18addb" d="M182,1979.1L247,1999.5"/><path color="#18addb" d="M247,1999.5L312,2019.9"/><path color="#18addb" d="M312,2019.9L377,2052.2"/><path color="#249ee6" d="M377,2052.2L442,2066.6"/><path color="#1fa6e1" d="M442,2066.6L507,2087"/><path color="#2a93ee" d="M187.9,1998.5L252.9,2018.9"/><path color="#2a93ee" d="M252.9,2018.9L317.8,2071.8"/><path color="#465efb" d="M317.8,2071.8L382.8,2035.7"/><path color="#12b1d6" d="M382.8,2035.7L447.8,2056.9"/><path color="#13b0d7" d="M447.8,2056.9L512.8,2073.3"/><path color="#2a93ed" d="M187,1998.3L252,2018.8"/><path color="#2a93ed" d="M252,2018.8L317,2068.2"/><path color="#4464fd" d="M317,2068.2L382,2036.6"/><path color="#13b0d7" d="M382,2036.6L447,2057.7"/><path color="#14b0d8" d="M447,2057.7L512,2075"/><path color="#2a93ed" d="M186.5,1998.3L251.5,2018.7"/><path color="#2a93ed" d="M251.5,2018.7L316.5,2064.7"/><path color="#416afe" d="M316.5,2064.7L381.5,2037.1"/><path color="#14b0d8" d="M381.5,2037.1L446.5,2058.1"/><path color="#15afd9" d="M446.5,2058.1L511.5,2076"/><path color="#2a93ed" d="M186,1998.3L251,2018.7"/><path color="#2a93ed" d="M251,2018.7L316,2060.5"/><path color="#3c72ff" d="M316,2060.5L381,2037.6"/><path color="#15afd8" d="M381,2037.6L446,2058.5"/><path color="#15afd9" d="M446,2058.5L511,2076.9"/><path color="#2a93ed" d="M185.7,1998.4L250.7,2018.8"/><path color="#2a93ed" d="M250.7,2018.8L315.7,2057.4"/><path color="#3777fe" d="M315.7,2057.4L380.7,2037.9"/><path color="#15afd9" d="M380.7,2037.9L445.7,2058.7"/><path color="#16afd9" d="M445.7,2058.7L510.7,2077.4"/><path color="#2a93ed" d="M185.4,1998.6L250.3,2019"/><path color="#2a93ed" d="M250.3,2019L315.3,2054.3"/><path color="#317dfc" d="M315.3,2054.3L380.3,2038.2"/><path color="#16afd9" d="M380.3,2038.2L445.3,2058.9"/><path color="#16afd9" d="M445.3,2058.9L510.3,2077.8"/><path color="#2a93ee" d="M185,1998.9L250,2019.3"/><path color="#2a93ee" d="M250,2019.3L315,2051.3"/><path color="#2f82fa" d="M315,2051.3L380,2038.5"/><path color="#16afd9" d="M380,2038.5L445,2058.9"/><path color="#16afd9" d="M445,2058.9L510,2078.2"/><path color="#2b92ef" d="M184.5,1999.9L249.5,2020.3"/><path color="#2b92ef" d="M249.5,2020.3L314.5,2047"/><path color="#2d88f6" d="M314.5,2047L379.5,2038.8"/><path color="#16aeda" d="M379.5,2038.8L444.5,2058.7"/><path color="#15afd9" d="M444.5,2058.7L509.5,2078.2"/><path color="#2c8ff1" d="M184,2002L249,2022.4"/><path color="#2c8ff1" d="M249,2022.4L314,2043.6"/><path color="#2c8ef2" d="M314,2043.6L379,2038.8"/><path color="#16afda" d="M379,2038.8L444,2057.4"/><path color="#13b1d7" d="M444,2057.4L509,2077.2"/><path color="#2d88f6" d="M183.5,2006.5L248.5,2026.9"/><path color="#2d88f6" d="M248.5,2026.9L313.5,2042"/><path color="#2c90f0" d="M313.5,2042L378.5,2038.3"/><path color="#15afd9" d="M378.5,2038.3L443.5,2053.4"/><path color="#08b4d0" d="M443.5,2053.4L508.5,2073.5"/><path color="#3080fb" d="M183.2,2012.1L248.2,2032.5"/><path color="#3080fb" d="M248.2,2032.5L313.2,2042.7"/><path color="#2c8ff1" d="M313.2,2042.7L378.2,2037.3"/><path color="#13b0d7" d="M378.2,2037.3L443.2,2047.2"/><path color="#01bac5" d="M443.2,2047.2L508.2,2067.4"/><path color="#3579fd" d="M183,2016.1L248,2036.5"/><path color="#3579fd" d="M248,2036.5L313,2043.8"/><path color="#2d8df2" d="M313,2043.8L378,2036.3"/><path color="#11b1d6" d="M378,2036.3L443,2042.2"/><path color="#0dbdbc" d="M443,2042.2L508,2062.4"/><path color="#3d70ff" d="M182.8,2021.2L247.8,2041.6"/><path color="#3d70ff" d="M247.8,2041.6L312.8,2045.7"/><path color="#2d8bf4" d="M312.8,2045.7L377.8,2035"/><path color="#0db3d3" d="M377.8,2035L442.8,2035.2"/><path color="#25c2ae" d="M442.8,2035.2L507.8,2055.5"/><path color="#4465fd" d="M182.7,2027.7L247.7,2048.1"/><path color="#4465fd" d="M247.7,2048.1L312.7,2048.4"/><path color="#2e87f7" d="M312.7,2048.4L377.7,2033.1"/><path color="#08b5d0" d="M377.7,2033.1L442.7,2025.4"/><path color="#36c898" d="M442.7,2025.4L507.7,2045.7"/><path color="#4758f8" d="M182.5,2036.1L247.5,2056.5"/><path color="#4758f8" d="M247.5,2056.5L312.5,2052.2"/><path color="#2f81fa" d="M312.5,2052.2L377.5,2030.4"/><path color="#03b7cb" d="M377.5,2030.4L442.5,2011.8"/><path color="#60cd72" d="M442.5,2011.8L507.5,2032.1"/><path color="#4747eb" d="M182.3,2046.9L247.3,2067.3"/><path color="#4747eb" d="M247.3,2067.3L312.3,2057.4"/><path color="#3578fd" d="M312.3,2057.4L377.3,2026.7"/><path color="#02bac5" d="M377.3,2026.7L442.3,1992.8"/><path color="#acc739" d="M442.3,1992.8L507.3,2013.2"/><path color="#4433cc" d="M182.2,2060.7L247.2,2081.1"/><path color="#4433cc" d="M247.2,2081.1L312.2,2064.3"/><path color="#406cfe" d="M312.2,2064.3L377.2,2021.4"/><path color="#0fbebb" d="M377.2,2021.4L442.2,1966.5"/><path color="#fabb3d" d="M442.2,1966.5L507.2,1986.9"/><path color="#18addb" d="M182,1979.1L182,2078.4"/><path color="#18addb" d="M247,1999.5L247,2098.8"/><path color="#18addb" d="M312,2019.9L312,2073.4"/><path color="#18addb" d="M377,2052.2L377,2014.1"/><path color="#18addb" d="M442,2066.6L442,1929.9"/><path color="#18addb" d="M507,2087L507,1950.3"/><path color="#3e26a8" d="M182,2078.4L247,2098.8"/><path color="#3e26a8" d="M247,2098.8L312,2073.4"/><path color="#465efb" d="M312,2073.4L377,2014.1"/><path color="#27c2ac" d="M377,2014.1L442,1929.9"/><path color="#f8f917" d="M442,1929.9L507,1950.3"/></g><path class="a" d="M182,1847.1L182,2078.4L507,2180.4L922,2103.2M182,2038.6l-12.9,-2.7M182,1979.1l-12.9,-2.7M182,1919.6l-12.9,-2.7M182,1860.2l-12.9,-2.7M182,2078.4l-13.4,3.6M344.5,2129.4l-13.4,3.6M507,2180.4l-13.4,3.6M507,2180.4l12.4,3.8M714.5,2141.8l12.4,3.8M922,2103.2l12.4,3.8"/><text x="159.5" y="2051.1" text-anchor="end">-10</text><text x="159.5" y="1991.6" text-anchor="end">0</text><text x="159.5" y="1932.1" text-anchor="end">10</text><text x="159.5" y="1872.7" text-anchor="end">20</text><text x="148" y="2128.4" text-anchor="middle">0</text><text x="291.5" y="2179.4" text-anchor="middle">0.5</text><text x="471" y="2231.4" text-anchor="middle">1</text><text x="535" y="2234.4" text-anchor="middle">0</text><text x="744.5" y="2194.8" text-anchor="middle">5</text><text x="969" y="2154.2" text-anchor="middle">10</text><text x="286" y="2274.4" text-anchor="middle" font-style="italic">ζ</text><text x="771" y="2278.4" text-anchor="middle"><tspan font-style="italic">t</tspan>(s)</text><text x="24.5" y="1934.9"><tspan font-style="italic">u</tspan><tspan dx="4" dy="23" font-size="36">41</tspan></text></g><g><path class="g" d="M1194,2076.7L1613.5,1997.7M1613.5,1997.7L1934,2101.5M1194,1961.9L1613.5,1882.9M1613.5,1882.9L1934,1986.7M1194,1847.1L1613.5,1768.1M1613.5,1768.1L1934,1871.9M1403.8,2038.9L1403.8,1807.6M1613.5,1999.4L1613.5,1768.1M1773.8,2051.3L1773.8,1820M1934,2103.2L1934,1871.9M1403.8,2038.9L1726.5,2141.8M1613.5,1999.4L1934,2103.2M1194,2078.4L1613.5,1999.4M1356.5,2129.4L1773.8,2051.3"/><g class="s" clip-path="url(#c13)"><path style="fill:url(#g130);stroke:url(#g130)" d="M1199.9,1960.8L1201.6,1960.5L1203.2,1960.2L1204.9,1959.8L1206.6,1959.5L1208.3,1959.2L1209.9,1958.8L1211.6,1958.5L1215,1957.7L1218.3,1956.8L1221.7,1955.9L1225,1955L1228.4,1954L1231.8,1953L1235.1,1951.9L1238.5,1950.9L1241.8,1949.8L1245.2,1948.7L1248.5,1947.7L1251.9,1946.7L1255.2,1945.7L1258.6,1944.7L1262,1943.8L1265.3,1943L1268.7,1942.2L1272,1941.5L1275.4,1940.4L1278.7,1936.7L1282.1,1931.2L1285.5,1925.3L1288.8,1920.3L1292.2,1917.6L1295.5,1926.5L1298.9,1941.2L1302.2,1941.5L1303.1,1941.3L1303.1,1941.3L1302.2,1941.5L1298.9,1942.1L1295.5,1945.2L1292.2,1962.3L1288.8,1967.1L1285.5,1968.3L1282.1,1970.1L1278.7,1972.1L1275.4,1974.4L1272,1976.8L1268.7,1979L1265.3,1981.1L1262,1982.8L1258.6,1984.1L1255.2,1984.8L1251.9,1985.6L1248.5,1986.4L1245.2,1987.3L1241.8,1988.3L1238.5,1989.4L1235.1,1990.5L1231.8,1991.6L1228.4,1992.7L1225,1993.9L1221.7,1995L1218.3,1996.1L1215,1997.2L1211.6,1998.2L1209.9,1998.6L1208.3,1999.1L1206.6,1999.5L1204.9,1999.9L1203.2,2000.3L1201.6,2000.6L1199.9,2000.5Z"/><path color="#03bbc2" d="M1295.5,1945.2L1360.3,1965.6L1363.7,1962.6L1298.9,1942.1Z"/><path color="#1caadf" d="M1292.2,1962.3L1357,1982.8L1360.3,1965.6L1295.5,1945.2Z"/><path color="#20a4e3" d="M1288.8,1967.1L1353.6,1987.6L1357,1982.8L1292.2,1962.3Z"/><path color="#21a3e3" d="M1285.5,1968.3L1350.3,1988.8L1353.6,1987.6L1288.8,1967.1Z"/><path color="#22a2e4" d="M1282.1,1970.1L1346.9,1990.5L1350.3,1988.8L1285.5,1968.3Z"/><path color="#23a0e5" d="M1278.7,1972.1L1343.6,1992.6L1346.9,1990.5L1282.1,1970.1Z"/><path color="#249ee6" d="M1275.4,1974.4L1340.2,1994.9L1343.6,1992.6L1278.7,1972.1Z"/><path color="#259be8" d="M1272,1976.8L1336.9,1997.2L1340.2,1994.9L1275.4,1974.4Z"/><path color="#2699e9" d="M1268.7,1979L1333.5,1999.5L1336.9,1997.2L1272,1976.8Z"/><path color="#2797eb" d="M1265.3,1981.1L1330.2,2001.6L1333.5,1999.5L1268.7,1979Z"/><path color="#2895ec" d="M1262,1982.8L1326.8,2003.3L1330.2,2001.6L1265.3,1981.1Z"/><path color="#2994ed" d="M1258.6,1984.1L1323.5,2004.5L1326.8,2003.3L1262,1982.8Z"/><path color="#2994ed" d="M1255.2,1984.8L1320.1,2005.3L1323.5,2004.5L1258.6,1984.1Z"/><path color="#2994ed" d="M1251.9,1985.6L1316.8,2006L1320.1,2005.3L1255.2,1984.8Z"/><path color="#2a93ed" d="M1248.5,1986.4L1313.4,2006.8L1316.8,2006L1251.9,1985.6Z"/><path color="#2a93ee" d="M1245.2,1987.3L1310.1,2007.8L1313.4,2006.8L1248.5,1986.4Z"/><path color="#2a92ee" d="M1241.8,1988.3L1306.7,2008.8L1310.1,2007.8L1245.2,1987.3Z"/><path color="#2b92ee" d="M1238.5,1989.4L1303.4,2009.8L1306.7,2008.8L1241.8,1988.3Z"/><path color="#2b91ef" d="M1235.1,1990.5L1300,2010.9L1303.4,2009.8L1238.5,1989.4Z"/><path color="#2b90f0" d="M1231.8,1991.6L1296.7,2012L1300,2010.9L1235.1,1990.5Z"/><path color="#2c8ff0" d="M1228.4,1992.7L1293.3,2013.2L1296.7,2012L1231.8,1991.6Z"/><path color="#2c8ff1" d="M1225,1993.9L1290,2014.3L1293.3,2013.2L1228.4,1992.7Z"/><path color="#2c8ef2" d="M1221.7,1995L1286.6,2015.4L1290,2014.3L1225,1993.9Z"/><path color="#2d8df2" d="M1218.3,1996.1L1283.3,2016.5L1286.6,2015.4L1221.7,1995Z"/><path color="#2d8cf3" d="M1215,1997.2L1279.9,2017.6L1283.3,2016.5L1218.3,1996.1Z"/><path color="#2d8cf3" d="M1211.6,1998.2L1276.6,2018.6L1279.9,2017.6L1215,1997.2Z"/><path color="#2d8cf3" d="M1209.9,1998.6L1274.9,2019L1276.6,2018.6L1211.6,1998.2Z"/><path color="#2d8bf3" d="M1208.3,1999.1L1273.2,2019.5L1274.9,2019L1209.9,1998.6Z"/><path color="#2d8bf4" d="M1206.6,1999.5L1271.6,2019.9L1273.2,2019.5L1208.3,1999.1Z"/><path color="#2d8bf4" d="M1204.9,1999.9L1269.9,2020.3L1271.6,2019.9L1206.6,1999.5Z"/><path color="#2d8bf4" d="M1203.2,2000.3L1268.2,2020.7L1269.9,2020.3L1204.9,1999.9Z"/><path color="#2d8bf4" d="M1201.6,2000.6L1266.5,2021L1268.2,2020.7L1203.2,2000.3Z"/><path color="#2d8cf3" d="M1199.9,2000.5L1264.9,2020.9L1266.5,2021L1201.6,2000.6Z"/><path color="#0abdbd" d="M1303.1,1941.3L1367.8,1961.8L1677.6,1903.6L1613.5,1882.9Z"/><path color="#0abdbd" d="M1302.2,1941.5L1367,1962L1367.8,1961.8L1303.1,1941.3Z"/><path color="#0ebdbb" d="M1298.9,1941.2L1363.7,1961.6L1367,1962L1302.2,1941.5Z"/><path color="#36c899" d="M1295.5,1926.5L1360.3,1947L1363.7,1961.6L1298.9,1941.2Z"/><path color="#53cc7d" d="M1292.2,1917.6L1357,1938.1L1360.3,1947L1295.5,1926.5Z"/><path color="#4bcb84" d="M1288.8,1920.3L1353.6,1940.8L1357,1938.1L1292.2,1917.6Z"/><path color="#3dc990" d="M1285.5,1925.3L1350.3,1945.8L1353.6,1940.8L1288.8,1920.3Z"/><path color="#32c69e" d="M1282.1,1931.2L1346.9,1951.7L1350.3,1945.8L1285.5,1925.3Z"/><path color="#29c3a9" d="M1278.7,1936.7L1343.6,1957.1L1346.9,1951.7L1282.1,1931.2Z"/><path color="#21c1b0" d="M1275.4,1940.4L1340.2,1960.8L1343.6,1957.1L1278.7,1936.7Z"/><path color="#20c1b1" d="M1272,1941.5L1336.9,1961.9L1340.2,1960.8L1275.4,1940.4Z"/><path color="#1fc1b1" d="M1268.7,1942.2L1333.5,1962.6L1336.9,1961.9L1272,1941.5Z"/><path color="#1fc0b2" d="M1265.3,1943L1330.2,1963.4L1333.5,1962.6L1268.7,1942.2Z"/><path color="#1ec0b2" d="M1262,1943.8L1326.8,1964.3L1330.2,1963.4L1265.3,1943Z"/><path color="#1dc0b3" d="M1258.6,1944.7L1323.5,1965.2L1326.8,1964.3L1262,1943.8Z"/><path color="#1cc0b3" d="M1255.2,1945.7L1320.1,1966.1L1323.5,1965.2L1258.6,1944.7Z"/><path color="#1bc0b4" d="M1251.9,1946.7L1316.8,1967.1L1320.1,1966.1L1255.2,1945.7Z"/><path color="#19bfb5" d="M1248.5,1947.7L1313.4,1968.1L1316.8,1967.1L1251.9,1946.7Z"/><path color="#18bfb6" d="M1245.2,1948.7L1310.1,1969.2L1313.4,1968.1L1248.5,1947.7Z"/><path color="#16bfb7" d="M1241.8,1949.8L1306.7,1970.2L1310.1,1969.2L1245.2,1948.7Z"/><path color="#14bfb8" d="M1238.5,1950.9L1303.4,1971.3L1306.7,1970.2L1241.8,1949.8Z"/><path color="#13beb9" d="M1235.1,1951.9L1300,1972.4L1303.4,1971.3L1238.5,1950.9Z"/><path color="#11beb9" d="M1231.8,1953L1296.7,1973.4L1300,1972.4L1235.1,1951.9Z"/><path color="#0fbeba" d="M1228.4,1954L1293.3,1974.4L1296.7,1973.4L1231.8,1953Z"/><path color="#0ebdbb" d="M1225,1955L1290,1975.4L1293.3,1974.4L1228.4,1954Z"/><path color="#0dbdbc" d="M1221.7,1955.9L1286.6,1976.4L1290,1975.4L1225,1955Z"/><path color="#0bbdbc" d="M1218.3,1956.8L1283.3,1977.3L1286.6,1976.4L1221.7,1955.9Z"/><path color="#0bbdbd" d="M1215,1957.7L1279.9,1978.1L1283.3,1977.3L1218.3,1956.8Z"/><path color="#0abdbd" d="M1211.6,1958.5L1276.6,1978.9L1279.9,1978.1L1215,1957.7Z"/><path color="#0abdbd" d="M1209.9,1958.8L1274.9,1979.3L1276.6,1978.9L1211.6,1958.5Z"/><path color="#0abdbd" d="M1208.3,1959.2L1273.2,1979.6L1274.9,1979.3L1209.9,1958.8Z"/><path color="#0abdbd" d="M1206.6,1959.5L1271.6,1979.9L1273.2,1979.6L1208.3,1959.2Z"/><path color="#0abdbd" d="M1204.9,1959.8L1269.9,1980.2L1271.6,1979.9L1206.6,1959.5Z"/><path color="#0abdbd" d="M1203.2,1960.2L1268.2,1980.6L1269.9,1980.2L1204.9,1959.8Z"/><path color="#0abdbd" d="M1201.6,1960.5L1266.5,1980.9L1268.2,1980.6L1203.2,1960.2Z"/><path color="#0abdbd" d="M1199.9,1960.8L1264.9,1981.2L1266.5,1980.9L1201.6,1960.5Z"/><path style="fill:url(#g131);stroke:url(#g131)" d="M1264.9,1981.2L1266.5,1980.9L1268.2,1980.6L1269.9,1980.2L1271.6,1979.9L1273.2,1979.6L1274.9,1979.3L1276.6,1978.9L1279.9,1978.1L1283.3,1977.3L1286.6,1976.4L1290,1975.4L1293.3,1974.4L1296.7,1973.4L1300,1972.4L1303.4,1971.3L1306.7,1970.2L1310.1,1969.2L1313.4,1968.1L1316.8,1967.1L1320.1,1966.1L1323.5,1965.2L1326.8,1964.3L1330.2,1963.4L1333.5,1962.6L1336.9,1961.9L1340.2,1960.8L1343.6,1957.1L1346.9,1951.7L1350.3,1945.8L1353.6,1940.8L1357,1938.1L1360.3,1947L1363.7,1961.6L1367,1962L1367.8,1961.8L1367.8,1961.8L1367,1962L1363.7,1962.6L1360.3,1965.6L1357,1982.8L1353.6,1987.6L1350.3,1988.8L1346.9,1990.5L1343.6,1992.6L1340.2,1994.9L1336.9,1997.2L1333.5,1999.5L1330.2,2001.6L1326.8,2003.3L1323.5,2004.5L1320.1,2005.3L1316.8,2006L1313.4,2006.8L1310.1,2007.8L1306.7,2008.8L1303.4,2009.8L1300,2010.9L1296.7,2012L1293.3,2013.2L1290,2014.3L1286.6,2015.4L1283.3,2016.5L1279.9,2017.6L1276.6,2018.6L1274.9,2019L1273.2,2019.5L1271.6,2019.9L1269.9,2020.3L1268.2,2020.7L1266.5,2021L1264.9,2020.9Z"/><path color="#03bbc2" d="M1360.3,1965.6L1425.1,1983.7L1428.4,1983.1L1363.7,1962.6Z"/><path color="#1caadf" d="M1357,1982.8L1421.7,2005.6L1425.1,1983.7L1360.3,1965.6Z"/><path color="#20a4e3" d="M1353.6,1987.6L1418.4,2013.7L1421.7,2005.6L1357,1982.8Z"/><path color="#21a3e3" d="M1350.3,1988.8L1415.1,2014.1L1418.4,2013.7L1353.6,1987.6Z"/><path color="#22a2e4" d="M1346.9,1990.5L1411.7,2014.3L1415.1,2014.1L1350.3,1988.8Z"/><path color="#23a0e5" d="M1343.6,1992.6L1408.4,2014.4L1411.7,2014.3L1346.9,1990.5Z"/><path color="#249ee6" d="M1340.2,1994.9L1405,2014.5L1408.4,2014.4L1343.6,1992.6Z"/><path color="#259be8" d="M1336.9,1997.2L1401.7,2014.7L1405,2014.5L1340.2,1994.9Z"/><path color="#2699e9" d="M1333.5,1999.5L1398.4,2014.9L1401.7,2014.7L1336.9,1997.2Z"/><path color="#2797eb" d="M1330.2,2001.6L1395,2015.3L1398.4,2014.9L1333.5,1999.5Z"/><path color="#2895ec" d="M1326.8,2003.3L1391.7,2023.3L1395,2015.3L1330.2,2001.6Z"/><path color="#2994ed" d="M1323.5,2004.5L1388.3,2027.9L1391.7,2023.3L1326.8,2003.3Z"/><path color="#2994ed" d="M1320.1,2005.3L1385,2028.3L1388.3,2027.9L1323.5,2004.5Z"/><path color="#2994ed" d="M1316.8,2006L1381.6,2028.7L1385,2028.3L1320.1,2005.3Z"/><path color="#2a93ed" d="M1313.4,2006.8L1378.3,2028.9L1381.6,2028.7L1316.8,2006Z"/><path color="#2a93ee" d="M1310.1,2007.8L1375,2029.1L1378.3,2028.9L1313.4,2006.8Z"/><path color="#2a92ee" d="M1306.7,2008.8L1371.6,2029.3L1375,2029.1L1310.1,2007.8Z"/><path color="#2b92ee" d="M1303.4,2009.8L1368.3,2029.5L1371.6,2029.3L1306.7,2008.8Z"/><path color="#2b91ef" d="M1300,2010.9L1364.9,2029.8L1368.3,2029.5L1303.4,2009.8Z"/><path color="#2b90f0" d="M1296.7,2012L1361.6,2030.2L1364.9,2029.8L1300,2010.9Z"/><path color="#2c8ff0" d="M1293.3,2013.2L1358.3,2030.7L1361.6,2030.2L1296.7,2012Z"/><path color="#2c8ff1" d="M1290,2014.3L1354.9,2045.7L1358.3,2030.7L1293.3,2013.2Z"/><path color="#2c8ef2" d="M1286.6,2015.4L1351.6,2046.1L1354.9,2045.7L1290,2014.3Z"/><path color="#2d8df2" d="M1283.3,2016.5L1348.2,2046.3L1351.6,2046.1L1286.6,2015.4Z"/><path color="#2d8cf3" d="M1279.9,2017.6L1344.9,2046.3L1348.2,2046.3L1283.3,2016.5Z"/><path color="#2d8cf3" d="M1276.6,2018.6L1341.5,2046.3L1344.9,2046.3L1279.9,2017.6Z"/><path color="#2d8cf3" d="M1274.9,2019L1339.9,2046.4L1341.5,2046.3L1276.6,2018.6Z"/><path color="#2d8bf3" d="M1273.2,2019.5L1338.2,2046.4L1339.9,2046.4L1274.9,2019Z"/><path color="#2d8bf4" d="M1271.6,2019.9L1336.5,2046.5L1338.2,2046.4L1273.2,2019.5Z"/><path color="#2d8bf4" d="M1269.9,2020.3L1334.9,2046.7L1336.5,2046.5L1271.6,2019.9Z"/><path color="#2d8bf4" d="M1268.2,2020.7L1333.2,2046.9L1334.9,2046.7L1269.9,2020.3Z"/><path color="#2d8bf4" d="M1266.5,2021L1331.5,2046.2L1333.2,2046.9L1268.2,2020.7Z"/><path color="#2d8cf3" d="M1264.9,2020.9L1329.8,2040.1L1331.5,2046.2L1266.5,2021Z"/><path color="#0abdbd" d="M1367.8,1961.8L1432.6,1982.3L1741.7,1924.4L1677.6,1903.6Z"/><path color="#0abdbd" d="M1367,1962L1431.8,1982.5L1432.6,1982.3L1367.8,1961.8Z"/><path color="#0ebdbb" d="M1363.7,1961.6L1428.4,1982.1L1431.8,1982.5L1367,1962Z"/><path color="#36c899" d="M1360.3,1947L1425.1,1967.4L1428.4,1982.1L1363.7,1961.6Z"/><path color="#53cc7d" d="M1357,1938.1L1421.7,1958.6L1425.1,1967.4L1360.3,1947Z"/><path color="#4bcb84" d="M1353.6,1940.8L1418.4,1961.3L1421.7,1958.6L1357,1938.1Z"/><path color="#3dc990" d="M1350.3,1945.8L1415.1,1966.2L1418.4,1961.3L1353.6,1940.8Z"/><path color="#32c69e" d="M1346.9,1951.7L1411.7,1972.1L1415.1,1966.2L1350.3,1945.8Z"/><path color="#29c3a9" d="M1343.6,1957.1L1408.4,1977.6L1411.7,1972.1L1346.9,1951.7Z"/><path color="#21c1b0" d="M1340.2,1960.8L1405,1981.3L1408.4,1977.6L1343.6,1957.1Z"/><path color="#20c1b1" d="M1336.9,1961.9L1401.7,1982.6L1405,1981.3L1340.2,1960.8Z"/><path color="#1fc1b1" d="M1333.5,1962.6L1398.4,1984.3L1401.7,1982.6L1336.9,1961.9Z"/><path color="#1fc0b2" d="M1330.2,1963.4L1395,1986.5L1398.4,1984.3L1333.5,1962.6Z"/><path color="#1ec0b2" d="M1326.8,1964.3L1391.7,1988.8L1395,1986.5L1330.2,1963.4Z"/><path color="#1dc0b3" d="M1323.5,1965.2L1388.3,1990.5L1391.7,1988.8L1326.8,1964.3Z"/><path color="#1cc0b3" d="M1320.1,1966.1L1385,1991.3L1388.3,1990.5L1323.5,1965.2Z"/><path color="#1bc0b4" d="M1316.8,1967.1L1381.6,1992L1385,1991.3L1320.1,1966.1Z"/><path color="#19bfb5" d="M1313.4,1968.1L1378.3,1992.9L1381.6,1992L1316.8,1967.1Z"/><path color="#18bfb6" d="M1310.1,1969.2L1375,1993.9L1378.3,1992.9L1313.4,1968.1Z"/><path color="#16bfb7" d="M1306.7,1970.2L1371.6,1995L1375,1993.9L1310.1,1969.2Z"/><path color="#14bfb8" d="M1303.4,1971.3L1368.3,1996.1L1371.6,1995L1306.7,1970.2Z"/><path color="#13beb9" d="M1300,1972.4L1364.9,1997.3L1368.3,1996.1L1303.4,1971.3Z"/><path color="#11beb9" d="M1296.7,1973.4L1361.6,1998.5L1364.9,1997.3L1300,1972.4Z"/><path color="#0fbeba" d="M1293.3,1974.4L1358.3,1999.7L1361.6,1998.5L1296.7,1973.4Z"/><path color="#0ebdbb" d="M1290,1975.4L1354.9,2000.9L1358.3,1999.7L1293.3,1974.4Z"/><path color="#0dbdbc" d="M1286.6,1976.4L1351.6,2002L1354.9,2000.9L1290,1975.4Z"/><path color="#0bbdbc" d="M1283.3,1977.3L1348.2,2003.1L1351.6,2002L1286.6,1976.4Z"/><path color="#0bbdbd" d="M1279.9,1978.1L1344.9,2004.1L1348.2,2003.1L1283.3,1977.3Z"/><path color="#0abdbd" d="M1276.6,1978.9L1341.5,2005L1344.9,2004.1L1279.9,1978.1Z"/><path color="#0abdbd" d="M1274.9,1979.3L1339.9,2005.4L1341.5,2005L1276.6,1978.9Z"/><path color="#0abdbd" d="M1273.2,1979.6L1338.2,2005.7L1339.9,2005.4L1274.9,1979.3Z"/><path color="#0abdbd" d="M1271.6,1979.9L1336.5,2006.1L1338.2,2005.7L1273.2,1979.6Z"/><path color="#0abdbd" d="M1269.9,1980.2L1334.9,2006.1L1336.5,2006.1L1271.6,1979.9Z"/><path color="#0abdbd" d="M1268.2,1980.6L1333.2,2005.7L1334.9,2006.1L1269.9,1980.2Z"/><path color="#0abdbd" d="M1266.5,1980.9L1331.5,2005L1333.2,2005.7L1268.2,1980.6Z"/><path color="#0abdbd" d="M1264.9,1981.2L1329.8,2004.2L1331.5,2005L1266.5,1980.9Z"/><path style="fill:url(#g132);stroke:url(#g132)" d="M1329.8,2004.2L1331.5,2005L1333.2,2005.7L1334.9,2006.1L1336.5,2006.1L1338.2,2005.7L1339.9,2005.4L1341.5,2005L1344.9,2004.1L1348.2,2003.1L1351.6,2002L1354.9,2000.9L1358.3,1999.7L1361.6,1998.5L1364.9,1997.3L1368.3,1996.1L1371.6,1995L1375,1993.9L1378.3,1992.9L1381.6,1992L1385,1991.3L1388.3,1990.5L1391.7,1988.8L1395,1986.5L1398.4,1984.3L1401.7,1982.6L1405,1981.3L1408.4,1977.6L1411.7,1972.1L1415.1,1966.2L1418.4,1961.3L1421.7,1958.6L1425.1,1967.4L1428.4,1982.1L1431.8,1982.5L1432.6,1982.3L1432.6,1982.3L1431.8,1982.5L1428.4,1983.1L1425.1,1983.7L1421.7,2005.6L1418.4,2013.7L1415.1,2014.1L1411.7,2014.3L1408.4,2014.4L1405,2014.5L1401.7,2014.7L1398.4,2014.9L1395,2015.3L1391.7,2023.3L1388.3,2027.9L1385,2028.3L1381.6,2028.7L1378.3,2028.9L1375,2029.1L1371.6,2029.3L1368.3,2029.5L1364.9,2029.8L1361.6,2030.2L1358.3,2030.7L1354.9,2045.7L1351.6,2046.1L1348.2,2046.3L1344.9,2046.3L1341.5,2046.3L1339.9,2046.4L1338.2,2046.4L1336.5,2046.5L1334.9,2046.7L1333.2,2046.9L1331.5,2046.2L1329.8,2040.1Z"/><path color="#0abdbd" d="M1425.1,1983.7L1489.9,2004.2L1493.2,2003.6L1428.4,1983.1Z"/><path color="#1ea7e1" d="M1421.7,2005.6L1486.5,2026.1L1489.9,2004.2L1425.1,1983.7Z"/><path color="#259ce7" d="M1418.4,2013.7L1483.2,2034.1L1486.5,2026.1L1421.7,2005.6Z"/><path color="#259de7" d="M1415.1,2014.1L1479.9,2034.5L1483.2,2034.1L1418.4,2013.7Z"/><path color="#249de6" d="M1411.7,2014.3L1476.5,2034.8L1479.9,2034.5L1415.1,2014.1Z"/><path color="#249ee6" d="M1408.4,2014.4L1473.2,2034.9L1476.5,2034.8L1411.7,2014.3Z"/><path color="#249fe6" d="M1405,2014.5L1469.9,2035L1473.2,2034.9L1408.4,2014.4Z"/><path color="#239fe5" d="M1401.7,2014.7L1466.5,2035.1L1469.9,2035L1405,2014.5Z"/><path color="#23a0e5" d="M1398.4,2014.9L1463.2,2035.3L1466.5,2035.1L1401.7,2014.7Z"/><path color="#23a0e5" d="M1395,2015.3L1459.9,2035.7L1463.2,2035.3L1398.4,2014.9Z"/><path color="#2896ec" d="M1391.7,2023.3L1456.5,2043.7L1459.9,2035.7L1395,2015.3Z"/><path color="#2c8ff0" d="M1388.3,2027.9L1453.2,2048.3L1456.5,2043.7L1391.7,2023.3Z"/><path color="#2c90f0" d="M1385,2028.3L1449.9,2048.8L1453.2,2048.3L1388.3,2027.9Z"/><path color="#2b90f0" d="M1381.6,2028.7L1446.5,2049.1L1449.9,2048.8L1385,2028.3Z"/><path color="#2b91ef" d="M1378.3,2028.9L1443.2,2049.4L1446.5,2049.1L1381.6,2028.7Z"/><path color="#2b91ef" d="M1375,2029.1L1439.8,2049.6L1443.2,2049.4L1378.3,2028.9Z"/><path color="#2a92ee" d="M1371.6,2029.3L1436.5,2049.8L1439.8,2049.6L1375,2029.1Z"/><path color="#2a93ee" d="M1368.3,2029.5L1433.2,2050L1436.5,2049.8L1371.6,2029.3Z"/><path color="#2a93ed" d="M1364.9,2029.8L1429.8,2050.3L1433.2,2050L1368.3,2029.5Z"/><path color="#2994ed" d="M1361.6,2030.2L1426.5,2050.6L1429.8,2050.3L1364.9,2029.8Z"/><path color="#2994ed" d="M1358.3,2030.7L1423.2,2051.1L1426.5,2050.6L1361.6,2030.2Z"/><path color="#327cfc" d="M1354.9,2045.7L1419.8,2066.1L1423.2,2051.1L1358.3,2030.7Z"/><path color="#317dfc" d="M1351.6,2046.1L1416.5,2066.5L1419.8,2066.1L1354.9,2045.7Z"/><path color="#317efb" d="M1348.2,2046.3L1413.2,2066.7L1416.5,2066.5L1351.6,2046.1Z"/><path color="#307ffb" d="M1344.9,2046.3L1409.8,2066.7L1413.2,2066.7L1348.2,2046.3Z"/><path color="#3080fb" d="M1341.5,2046.3L1406.5,2066.7L1409.8,2066.7L1344.9,2046.3Z"/><path color="#2f80fa" d="M1339.9,2046.4L1404.8,2066.8L1406.5,2066.7L1341.5,2046.3Z"/><path color="#2f81fa" d="M1338.2,2046.4L1403.2,2066.8L1404.8,2066.8L1339.9,2046.4Z"/><path color="#2f81fa" d="M1336.5,2046.5L1401.5,2066.9L1403.2,2066.8L1338.2,2046.4Z"/><path color="#2f81fa" d="M1334.9,2046.7L1399.8,2067.1L1401.5,2066.9L1336.5,2046.5Z"/><path color="#2f81fa" d="M1333.2,2046.9L1398.2,2067.3L1399.8,2067.1L1334.9,2046.7Z"/><path color="#2e83f9" d="M1331.5,2046.2L1396.5,2066.6L1398.2,2067.3L1333.2,2046.9Z"/><path color="#2c8ef2" d="M1329.8,2040.1L1394.8,2060.5L1396.5,2066.6L1331.5,2046.2Z"/><path color="#0abdbd" d="M1432.6,1982.3L1497.4,2002.8L1805.8,1945.2L1741.7,1924.4Z"/><path color="#0abdbd" d="M1431.8,1982.5L1496.5,2003L1497.4,2002.8L1432.6,1982.3Z"/><path color="#0ebdbb" d="M1428.4,1982.1L1493.2,2002.6L1496.5,2003L1431.8,1982.5Z"/><path color="#36c899" d="M1425.1,1967.4L1489.9,1987.9L1493.2,2002.6L1428.4,1982.1Z"/><path color="#53cc7d" d="M1421.7,1958.6L1486.5,1979.1L1489.9,1987.9L1425.1,1967.4Z"/><path color="#4bcb84" d="M1418.4,1961.3L1483.2,1981.7L1486.5,1979.1L1421.7,1958.6Z"/><path color="#3dc990" d="M1415.1,1966.2L1479.9,1986.7L1483.2,1981.7L1418.4,1961.3Z"/><path color="#32c69e" d="M1411.7,1972.1L1476.5,1992.6L1479.9,1986.7L1415.1,1966.2Z"/><path color="#29c3a9" d="M1408.4,1977.6L1473.2,1998.1L1476.5,1992.6L1411.7,1972.1Z"/><path color="#21c1b0" d="M1405,1981.3L1469.9,2001.8L1473.2,1998.1L1408.4,1977.6Z"/><path color="#1fc0b1" d="M1401.7,1982.6L1466.5,2003L1469.9,2001.8L1405,1981.3Z"/><path color="#1bc0b4" d="M1398.4,1984.3L1463.2,2004.7L1466.5,2003L1401.7,1982.6Z"/><path color="#15bfb7" d="M1395,1986.5L1459.9,2007L1463.2,2004.7L1398.4,1984.3Z"/><path color="#0fbebb" d="M1391.7,1988.8L1456.5,2009.2L1459.9,2007L1395,1986.5Z"/><path color="#0abdbd" d="M1388.3,1990.5L1453.2,2010.9L1456.5,2009.2L1391.7,1988.8Z"/><path color="#0abdbd" d="M1385,1991.3L1449.9,2011.7L1453.2,2010.9L1388.3,1990.5Z"/><path color="#0abdbe" d="M1381.6,1992L1446.5,2012.5L1449.9,2011.7L1385,1991.3Z"/><path color="#09bcbe" d="M1378.3,1992.9L1443.2,2013.4L1446.5,2012.5L1381.6,1992Z"/><path color="#08bcbf" d="M1375,1993.9L1439.8,2014.4L1443.2,2013.4L1378.3,1992.9Z"/><path color="#07bcc0" d="M1371.6,1995L1436.5,2015.4L1439.8,2014.4L1375,1993.9Z"/><path color="#05bbc1" d="M1368.3,1996.1L1433.2,2016.6L1436.5,2015.4L1371.6,1995Z"/><path color="#04bbc2" d="M1364.9,1997.3L1429.8,2017.8L1433.2,2016.6L1368.3,1996.1Z"/><path color="#02bbc3" d="M1361.6,1998.5L1426.5,2018.9L1429.8,2017.8L1364.9,1997.3Z"/><path color="#02bac4" d="M1358.3,1999.7L1423.2,2020.1L1426.5,2018.9L1361.6,1998.5Z"/><path color="#01bac5" d="M1354.9,2000.9L1419.8,2021.3L1423.2,2020.1L1358.3,1999.7Z"/><path color="#01b9c6" d="M1351.6,2002L1416.5,2022.4L1419.8,2021.3L1354.9,2000.9Z"/><path color="#01b9c7" d="M1348.2,2003.1L1413.2,2023.5L1416.5,2022.4L1351.6,2002Z"/><path color="#01b8c8" d="M1344.9,2004.1L1409.8,2024.5L1413.2,2023.5L1348.2,2003.1Z"/><path color="#01b8c9" d="M1341.5,2005L1406.5,2025.4L1409.8,2024.5L1344.9,2004.1Z"/><path color="#01b8c9" d="M1339.9,2005.4L1404.8,2025.8L1406.5,2025.4L1341.5,2005Z"/><path color="#01b8c9" d="M1338.2,2005.7L1403.2,2026.2L1404.8,2025.8L1339.9,2005.4Z"/><path color="#01b8c9" d="M1336.5,2006.1L1401.5,2026.5L1403.2,2026.2L1338.2,2005.7Z"/><path color="#01b8c8" d="M1334.9,2006.1L1399.8,2026.5L1401.5,2026.5L1336.5,2006.1Z"/><path color="#01b9c7" d="M1333.2,2005.7L1398.2,2026.1L1399.8,2026.5L1334.9,2006.1Z"/><path color="#02bac5" d="M1331.5,2005L1396.5,2025.4L1398.2,2026.1L1333.2,2005.7Z"/><path color="#03bbc3" d="M1329.8,2004.2L1394.8,2024.6L1396.5,2025.4L1331.5,2005Z"/><path style="fill:url(#g133);stroke:url(#g133)" d="M1394.8,2024.6L1396.5,2025.4L1398.2,2026.1L1399.8,2026.5L1401.5,2026.5L1403.2,2026.2L1404.8,2025.8L1406.5,2025.4L1409.8,2024.5L1413.2,2023.5L1416.5,2022.4L1419.8,2021.3L1423.2,2020.1L1426.5,2018.9L1429.8,2017.8L1433.2,2016.6L1436.5,2015.4L1439.8,2014.4L1443.2,2013.4L1446.5,2012.5L1449.9,2011.7L1453.2,2010.9L1456.5,2009.2L1459.9,2007L1463.2,2004.7L1466.5,2003L1469.9,2001.8L1473.2,1998.1L1476.5,1992.6L1479.9,1986.7L1483.2,1981.7L1486.5,1979.1L1489.9,1987.9L1493.2,2002.6L1496.5,2003L1497.4,2002.8L1497.4,2002.8L1496.5,2003L1493.2,2003.6L1489.9,2004.2L1486.5,2026.1L1483.2,2034.1L1479.9,2034.5L1476.5,2034.8L1473.2,2034.9L1469.9,2035L1466.5,2035.1L1463.2,2035.3L1459.9,2035.7L1456.5,2043.7L1453.2,2048.3L1449.9,2048.8L1446.5,2049.1L1443.2,2049.4L1439.8,2049.6L1436.5,2049.8L1433.2,2050L1429.8,2050.3L1426.5,2050.6L1423.2,2051.1L1419.8,2066.1L1416.5,2066.5L1413.2,2066.7L1409.8,2066.7L1406.5,2066.7L1404.8,2066.8L1403.2,2066.8L1401.5,2066.9L1399.8,2067.1L1398.2,2067.3L1396.5,2066.6L1394.8,2060.5Z"/><path color="#0abdbd" d="M1493.2,2003.6L1558,2024.1L1561.3,2023.5L1496.5,2003Z"/><path color="#0abdbd" d="M1489.9,2004.2L1554.6,2024.7L1558,2024.1L1493.2,2003.6Z"/><path color="#1ea7e1" d="M1486.5,2026.1L1551.3,2046.6L1554.6,2024.7L1489.9,2004.2Z"/><path color="#259ce7" d="M1483.2,2034.1L1548,2054.6L1551.3,2046.6L1486.5,2026.1Z"/><path color="#259de7" d="M1479.9,2034.5L1544.7,2055L1548,2054.6L1483.2,2034.1Z"/><path color="#249de6" d="M1476.5,2034.8L1541.3,2055.3L1544.7,2055L1479.9,2034.5Z"/><path color="#249ee6" d="M1473.2,2034.9L1538,2055.4L1541.3,2055.3L1476.5,2034.8Z"/><path color="#249fe6" d="M1469.9,2035L1534.7,2055.5L1538,2055.4L1473.2,2034.9Z"/><path color="#239fe5" d="M1466.5,2035.1L1531.4,2055.6L1534.7,2055.5L1469.9,2035Z"/><path color="#23a0e5" d="M1463.2,2035.3L1528,2055.8L1531.4,2055.6L1466.5,2035.1Z"/><path color="#23a0e5" d="M1459.9,2035.7L1524.7,2056.2L1528,2055.8L1463.2,2035.3Z"/><path color="#2896ec" d="M1456.5,2043.7L1521.4,2064.2L1524.7,2056.2L1459.9,2035.7Z"/><path color="#2c8ff0" d="M1453.2,2048.3L1518,2068.8L1521.4,2064.2L1456.5,2043.7Z"/><path color="#2c90f0" d="M1449.9,2048.8L1514.7,2069.2L1518,2068.8L1453.2,2048.3Z"/><path color="#2b90f0" d="M1446.5,2049.1L1511.4,2069.6L1514.7,2069.2L1449.9,2048.8Z"/><path color="#2b91ef" d="M1443.2,2049.4L1508.1,2069.8L1511.4,2069.6L1446.5,2049.1Z"/><path color="#2b91ef" d="M1439.8,2049.6L1504.7,2070L1508.1,2069.8L1443.2,2049.4Z"/><path color="#2a92ee" d="M1436.5,2049.8L1501.4,2070.2L1504.7,2070L1439.8,2049.6Z"/><path color="#2a93ee" d="M1433.2,2050L1498.1,2070.4L1501.4,2070.2L1436.5,2049.8Z"/><path color="#2a93ed" d="M1429.8,2050.3L1494.8,2070.7L1498.1,2070.4L1433.2,2050Z"/><path color="#2994ed" d="M1426.5,2050.6L1491.4,2071.1L1494.8,2070.7L1429.8,2050.3Z"/><path color="#2994ed" d="M1423.2,2051.1L1488.1,2071.6L1491.4,2071.1L1426.5,2050.6Z"/><path color="#327cfc" d="M1419.8,2066.1L1484.8,2086.5L1488.1,2071.6L1423.2,2051.1Z"/><path color="#317dfc" d="M1416.5,2066.5L1481.4,2087L1484.8,2086.5L1419.8,2066.1Z"/><path color="#317efb" d="M1413.2,2066.7L1478.1,2087.1L1481.4,2087L1416.5,2066.5Z"/><path color="#307ffb" d="M1409.8,2066.7L1474.8,2087.2L1478.1,2087.1L1413.2,2066.7Z"/><path color="#3080fb" d="M1406.5,2066.7L1471.5,2087.2L1474.8,2087.2L1409.8,2066.7Z"/><path color="#2f80fa" d="M1404.8,2066.8L1469.8,2087.2L1471.5,2087.2L1406.5,2066.7Z"/><path color="#2f81fa" d="M1403.2,2066.8L1468.1,2087.2L1469.8,2087.2L1404.8,2066.8Z"/><path color="#2f81fa" d="M1401.5,2066.9L1466.5,2087.3L1468.1,2087.2L1403.2,2066.8Z"/><path color="#2f81fa" d="M1399.8,2067.1L1464.8,2087.5L1466.5,2087.3L1401.5,2066.9Z"/><path color="#2f81fa" d="M1398.2,2067.3L1463.1,2087.7L1464.8,2087.5L1399.8,2067.1Z"/><path color="#2e83f9" d="M1396.5,2066.6L1461.5,2087L1463.1,2087.7L1398.2,2067.3Z"/><path color="#2c8ef2" d="M1394.8,2060.5L1459.8,2080.9L1461.5,2087L1396.5,2066.6Z"/><path color="#0abdbd" d="M1497.4,2002.8L1562.1,2023.3L1869.9,1965.9L1805.8,1945.2Z"/><path color="#0abdbd" d="M1496.5,2003L1561.3,2023.5L1562.1,2023.3L1497.4,2002.8Z"/><path color="#0ebdbb" d="M1493.2,2002.6L1558,2020.5L1561.3,2023.5L1496.5,2003Z"/><path color="#36c899" d="M1489.9,1987.9L1554.6,2009.9L1558,2020.5L1493.2,2002.6Z"/><path color="#53cc7d" d="M1486.5,1979.1L1551.3,2008.6L1554.6,2009.9L1489.9,1987.9Z"/><path color="#4bcb84" d="M1483.2,1981.7L1548,2012.1L1551.3,2008.6L1486.5,1979.1Z"/><path color="#3dc990" d="M1479.9,1986.7L1544.7,2017.1L1548,2012.1L1483.2,1981.7Z"/><path color="#32c69e" d="M1476.5,1992.6L1541.3,2021.9L1544.7,2017.1L1479.9,1986.7Z"/><path color="#29c3a9" d="M1473.2,1998.1L1538,2024.8L1541.3,2021.9L1476.5,1992.6Z"/><path color="#21c1b0" d="M1469.9,2001.8L1534.7,2025.9L1538,2024.8L1473.2,1998.1Z"/><path color="#1fc0b1" d="M1466.5,2003L1531.4,2027.8L1534.7,2025.9L1469.9,2001.8Z"/><path color="#1bc0b4" d="M1463.2,2004.7L1528,2030.3L1531.4,2027.8L1466.5,2003Z"/><path color="#15bfb7" d="M1459.9,2007L1524.7,2033L1528,2030.3L1463.2,2004.7Z"/><path color="#0fbebb" d="M1456.5,2009.2L1521.4,2035.4L1524.7,2033L1459.9,2007Z"/><path color="#0abdbd" d="M1453.2,2010.9L1518,2037.1L1521.4,2035.4L1456.5,2009.2Z"/><path color="#0abdbd" d="M1449.9,2011.7L1514.7,2037.9L1518,2037.1L1453.2,2010.9Z"/><path color="#0abdbe" d="M1446.5,2012.5L1511.4,2038.7L1514.7,2037.9L1449.9,2011.7Z"/><path color="#09bcbe" d="M1443.2,2013.4L1508.1,2039.6L1511.4,2038.7L1446.5,2012.5Z"/><path color="#08bcbf" d="M1439.8,2014.4L1504.7,2040.6L1508.1,2039.6L1443.2,2013.4Z"/><path color="#07bcc0" d="M1436.5,2015.4L1501.4,2041.6L1504.7,2040.6L1439.8,2014.4Z"/><path color="#05bbc1" d="M1433.2,2016.6L1498.1,2042.8L1501.4,2041.6L1436.5,2015.4Z"/><path color="#04bbc2" d="M1429.8,2017.8L1494.8,2043.9L1498.1,2042.8L1433.2,2016.6Z"/><path color="#02bbc3" d="M1426.5,2018.9L1491.4,2045.1L1494.8,2043.9L1429.8,2017.8Z"/><path color="#02bac4" d="M1423.2,2020.1L1488.1,2046.3L1491.4,2045.1L1426.5,2018.9Z"/><path color="#01bac5" d="M1419.8,2021.3L1484.8,2047.5L1488.1,2046.3L1423.2,2020.1Z"/><path color="#01b9c6" d="M1416.5,2022.4L1481.4,2048.6L1484.8,2047.5L1419.8,2021.3Z"/><path color="#01b9c7" d="M1413.2,2023.5L1478.1,2049.7L1481.4,2048.6L1416.5,2022.4Z"/><path color="#01b8c8" d="M1409.8,2024.5L1474.8,2050.7L1478.1,2049.7L1413.2,2023.5Z"/><path color="#01b8c9" d="M1406.5,2025.4L1471.5,2051.5L1474.8,2050.7L1409.8,2024.5Z"/><path color="#01b8c9" d="M1404.8,2025.8L1469.8,2051.9L1471.5,2051.5L1406.5,2025.4Z"/><path color="#01b8c9" d="M1403.2,2026.2L1468.1,2052.3L1469.8,2051.9L1404.8,2025.8Z"/><path color="#01b8c9" d="M1401.5,2026.5L1466.5,2052.6L1468.1,2052.3L1403.2,2026.2Z"/><path color="#01b8c8" d="M1399.8,2026.5L1464.8,2052.7L1466.5,2052.6L1401.5,2026.5Z"/><path color="#01b9c7" d="M1398.2,2026.1L1463.1,2052.3L1464.8,2052.7L1399.8,2026.5Z"/><path color="#02bac5" d="M1396.5,2025.4L1461.5,2051.6L1463.1,2052.3L1398.2,2026.1Z"/><path color="#03bbc3" d="M1394.8,2024.6L1459.8,2050.7L1461.5,2051.6L1396.5,2025.4Z"/><path style="fill:url(#g134);stroke:url(#g134)" d="M1459.8,2050.7L1461.5,2051.6L1463.1,2052.3L1464.8,2052.7L1466.5,2052.6L1468.1,2052.3L1469.8,2051.9L1471.5,2051.5L1474.8,2050.7L1478.1,2049.7L1481.4,2048.6L1484.8,2047.5L1488.1,2046.3L1491.4,2045.1L1494.8,2043.9L1498.1,2042.8L1501.4,2041.6L1504.7,2040.6L1508.1,2039.6L1511.4,2038.7L1514.7,2037.9L1518,2037.1L1521.4,2035.4L1524.7,2033L1528,2030.3L1531.4,2027.8L1534.7,2025.9L1538,2024.8L1541.3,2021.9L1544.7,2017.1L1548,2012.1L1551.3,2008.6L1554.6,2009.9L1558,2020.5L1561.3,2023.5L1562.1,2023.3L1562.1,2023.3L1561.3,2023.5L1558,2024.1L1554.6,2024.7L1551.3,2046.6L1548,2054.6L1544.7,2055L1541.3,2055.3L1538,2055.4L1534.7,2055.5L1531.4,2055.6L1528,2055.8L1524.7,2056.2L1521.4,2064.2L1518,2068.8L1514.7,2069.2L1511.4,2069.6L1508.1,2069.8L1504.7,2070L1501.4,2070.2L1498.1,2070.4L1494.8,2070.7L1491.4,2071.1L1488.1,2071.6L1484.8,2086.5L1481.4,2087L1478.1,2087.1L1474.8,2087.2L1471.5,2087.2L1469.8,2087.2L1468.1,2087.2L1466.5,2087.3L1464.8,2087.5L1463.1,2087.7L1461.5,2087L1459.8,2080.9Z"/><path color="#0abdbd" d="M1558,2024.1L1622.8,2044.6L1626.1,2044L1561.3,2023.5Z"/><path color="#0abdbd" d="M1554.6,2024.7L1619.4,2045.2L1622.8,2044.6L1558,2024.1Z"/><path color="#1ea7e1" d="M1551.3,2046.6L1616.1,2067.1L1619.4,2045.2L1554.6,2024.7Z"/><path color="#259ce7" d="M1548,2054.6L1612.8,2075.1L1616.1,2067.1L1551.3,2046.6Z"/><path color="#259de7" d="M1544.7,2055L1609.5,2075.5L1612.8,2075.1L1548,2054.6Z"/><path color="#249de6" d="M1541.3,2055.3L1606.2,2075.7L1609.5,2075.5L1544.7,2055Z"/><path color="#249ee6" d="M1538,2055.4L1602.8,2075.9L1606.2,2075.7L1541.3,2055.3Z"/><path color="#249fe6" d="M1534.7,2055.5L1599.5,2075.9L1602.8,2075.9L1538,2055.4Z"/><path color="#239fe5" d="M1531.4,2055.6L1596.2,2076.1L1599.5,2075.9L1534.7,2055.5Z"/><path color="#23a0e5" d="M1528,2055.8L1592.9,2076.3L1596.2,2076.1L1531.4,2055.6Z"/><path color="#23a0e5" d="M1524.7,2056.2L1589.6,2076.6L1592.9,2076.3L1528,2055.8Z"/><path color="#2896ec" d="M1521.4,2064.2L1586.2,2084.6L1589.6,2076.6L1524.7,2056.2Z"/><path color="#2c8ff0" d="M1518,2068.8L1582.9,2089.3L1586.2,2084.6L1521.4,2064.2Z"/><path color="#2c90f0" d="M1514.7,2069.2L1579.6,2089.7L1582.9,2089.3L1518,2068.8Z"/><path color="#2b90f0" d="M1511.4,2069.6L1576.3,2090L1579.6,2089.7L1514.7,2069.2Z"/><path color="#2b91ef" d="M1508.1,2069.8L1572.9,2090.3L1576.3,2090L1511.4,2069.6Z"/><path color="#2b91ef" d="M1504.7,2070L1569.6,2090.4L1572.9,2090.3L1508.1,2069.8Z"/><path color="#2a92ee" d="M1501.4,2070.2L1566.3,2090.6L1569.6,2090.4L1504.7,2070Z"/><path color="#2a93ee" d="M1498.1,2070.4L1563,2090.9L1566.3,2090.6L1501.4,2070.2Z"/><path color="#2a93ed" d="M1494.8,2070.7L1559.7,2091.1L1563,2090.9L1498.1,2070.4Z"/><path color="#2994ed" d="M1491.4,2071.1L1556.3,2091.5L1559.7,2091.1L1494.8,2070.7Z"/><path color="#2994ed" d="M1488.1,2071.6L1553,2092L1556.3,2091.5L1491.4,2071.1Z"/><path color="#327cfc" d="M1484.8,2086.5L1549.7,2107L1553,2092L1488.1,2071.6Z"/><path color="#317dfc" d="M1481.4,2087L1546.4,2107.4L1549.7,2107L1484.8,2086.5Z"/><path color="#317efb" d="M1478.1,2087.1L1543.1,2107.5L1546.4,2107.4L1481.4,2087Z"/><path color="#307ffb" d="M1474.8,2087.2L1539.8,2107.6L1543.1,2107.5L1478.1,2087.1Z"/><path color="#3080fb" d="M1471.5,2087.2L1536.4,2107.6L1539.8,2107.6L1474.8,2087.2Z"/><path color="#2f80fa" d="M1469.8,2087.2L1534.8,2107.6L1536.4,2107.6L1471.5,2087.2Z"/><path color="#2f81fa" d="M1468.1,2087.2L1533.1,2107.6L1534.8,2107.6L1469.8,2087.2Z"/><path color="#2f81fa" d="M1466.5,2087.3L1531.4,2107.7L1533.1,2107.6L1468.1,2087.2Z"/><path color="#2f81fa" d="M1464.8,2087.5L1529.8,2107.9L1531.4,2107.7L1466.5,2087.3Z"/><path color="#2f81fa" d="M1463.1,2087.7L1528.1,2108.1L1529.8,2107.9L1464.8,2087.5Z"/><path color="#2e83f9" d="M1461.5,2087L1526.5,2107.5L1528.1,2108.1L1463.1,2087.7Z"/><path color="#2c8ef2" d="M1459.8,2080.9L1524.8,2101.3L1526.5,2107.5L1461.5,2087Z"/><path color="#0abdbd" d="M1562.1,2023.3L1626.9,2043.8L1934,1986.7L1869.9,1965.9Z"/><path color="#0abdbd" d="M1561.3,2023.5L1626.1,2044L1626.9,2043.8L1562.1,2023.3Z"/><path color="#18bfb6" d="M1558,2020.5L1622.8,2041L1626.1,2044L1561.3,2023.5Z"/><path color="#34c79c" d="M1554.6,2009.9L1619.4,2030.4L1622.8,2041L1558,2020.5Z"/><path color="#37c897" d="M1551.3,2008.6L1616.1,2029L1619.4,2030.4L1554.6,2009.9Z"/><path color="#32c69f" d="M1548,2012.1L1612.8,2032.6L1616.1,2029L1551.3,2008.6Z"/><path color="#2ac3a9" d="M1544.7,2017.1L1609.5,2037.6L1612.8,2032.6L1548,2012.1Z"/><path color="#1ec0b2" d="M1541.3,2021.9L1606.2,2042.3L1609.5,2037.6L1544.7,2017.1Z"/><path color="#16bfb7" d="M1538,2024.8L1602.8,2045.3L1606.2,2042.3L1541.3,2021.9Z"/><path color="#14beb8" d="M1534.7,2025.9L1599.5,2046.4L1602.8,2045.3L1538,2024.8Z"/><path color="#0fbebb" d="M1531.4,2027.8L1596.2,2048.3L1599.5,2046.4L1534.7,2025.9Z"/><path color="#08bcbf" d="M1528,2030.3L1592.9,2050.8L1596.2,2048.3L1531.4,2027.8Z"/><path color="#02bbc3" d="M1524.7,2033L1589.6,2053.5L1592.9,2050.8L1528,2030.3Z"/><path color="#01b9c6" d="M1521.4,2035.4L1586.2,2055.9L1589.6,2053.5L1524.7,2033Z"/><path color="#01b8c9" d="M1518,2037.1L1582.9,2057.6L1586.2,2055.9L1521.4,2035.4Z"/><path color="#01b8c9" d="M1514.7,2037.9L1579.6,2058.4L1582.9,2057.6L1518,2037.1Z"/><path color="#01b8c9" d="M1511.4,2038.7L1576.3,2059.1L1579.6,2058.4L1514.7,2037.9Z"/><path color="#01b8ca" d="M1508.1,2039.6L1572.9,2060L1576.3,2059.1L1511.4,2038.7Z"/><path color="#01b7ca" d="M1504.7,2040.6L1569.6,2061L1572.9,2060L1508.1,2039.6Z"/><path color="#02b7cb" d="M1501.4,2041.6L1566.3,2062.1L1569.6,2061L1504.7,2040.6Z"/><path color="#03b7cc" d="M1498.1,2042.8L1563,2063.2L1566.3,2062.1L1501.4,2041.6Z"/><path color="#05b6cd" d="M1494.8,2043.9L1559.7,2064.4L1563,2063.2L1498.1,2042.8Z"/><path color="#06b5ce" d="M1491.4,2045.1L1556.3,2065.6L1559.7,2064.4L1494.8,2043.9Z"/><path color="#07b5cf" d="M1488.1,2046.3L1553,2066.7L1556.3,2065.6L1491.4,2045.1Z"/><path color="#08b4d0" d="M1484.8,2047.5L1549.7,2067.9L1553,2066.7L1488.1,2046.3Z"/><path color="#0ab4d1" d="M1481.4,2048.6L1546.4,2069L1549.7,2067.9L1484.8,2047.5Z"/><path color="#0bb3d2" d="M1478.1,2049.7L1543.1,2070.1L1546.4,2069L1481.4,2048.6Z"/><path color="#0cb3d3" d="M1474.8,2050.7L1539.8,2071.1L1543.1,2070.1L1478.1,2049.7Z"/><path color="#0db3d3" d="M1471.5,2051.5L1536.4,2072L1539.8,2071.1L1474.8,2050.7Z"/><path color="#0db3d3" d="M1469.8,2051.9L1534.8,2072.4L1536.4,2072L1471.5,2051.5Z"/><path color="#0db3d4" d="M1468.1,2052.3L1533.1,2072.7L1534.8,2072.4L1469.8,2051.9Z"/><path color="#0db3d4" d="M1466.5,2052.6L1531.4,2073.1L1533.1,2072.7L1468.1,2052.3Z"/><path color="#0db3d3" d="M1464.8,2052.7L1529.8,2073.1L1531.4,2073.1L1466.5,2052.6Z"/><path color="#0ab4d2" d="M1463.1,2052.3L1528.1,2072.7L1529.8,2073.1L1464.8,2052.7Z"/><path color="#07b5d0" d="M1461.5,2051.6L1526.5,2072L1528.1,2072.7L1463.1,2052.3Z"/><path color="#05b6ce" d="M1459.8,2050.7L1524.8,2071.1L1526.5,2072L1461.5,2051.6Z"/><path style="fill:url(#g135);stroke:url(#g135)" d="M1524.8,2071.1L1526.5,2072L1528.1,2072.7L1529.8,2073.1L1531.4,2073.1L1533.1,2072.7L1534.8,2072.4L1536.4,2072L1539.8,2071.1L1543.1,2070.1L1546.4,2069L1549.7,2067.9L1553,2066.7L1556.3,2065.6L1559.7,2064.4L1563,2063.2L1566.3,2062.1L1569.6,2061L1572.9,2060L1576.3,2059.1L1579.6,2058.4L1582.9,2057.6L1586.2,2055.9L1589.6,2053.5L1592.9,2050.8L1596.2,2048.3L1599.5,2046.4L1602.8,2045.3L1606.2,2042.3L1609.5,2037.6L1612.8,2032.6L1616.1,2029L1619.4,2030.4L1622.8,2041L1626.1,2044L1626.9,2043.8L1626.9,2043.8L1626.1,2044L1622.8,2044.6L1619.4,2045.2L1616.1,2067.1L1612.8,2075.1L1609.5,2075.5L1606.2,2075.7L1602.8,2075.9L1599.5,2075.9L1596.2,2076.1L1592.9,2076.3L1589.6,2076.6L1586.2,2084.6L1582.9,2089.3L1579.6,2089.7L1576.3,2090L1572.9,2090.3L1569.6,2090.4L1566.3,2090.6L1563,2090.9L1559.7,2091.1L1556.3,2091.5L1553,2092L1549.7,2107L1546.4,2107.4L1543.1,2107.5L1539.8,2107.6L1536.4,2107.6L1534.8,2107.6L1533.1,2107.6L1531.4,2107.7L1529.8,2107.9L1528.1,2108.1L1526.5,2107.5L1524.8,2101.3Z"/></g><path fill="#fff" d="M1194,1967.6L1259,1988L1259,1879.6L1194,1860.9ZM1259,1988L1324,2014.2L1324,1968.3L1259,1879.6ZM1324,2014.2L1389,2074.7L1389,2023.1L1324,1968.3ZM1389,2074.7L1454,2149.7L1454,2049.2L1389,2023.1ZM1454,2149.7L1519,2170.1L1519,2069.6L1454,2049.2Z"/><g class="r" clip-path="url(#c13)"><path color="#2d8cf3" d="M1199.9,2000.5L1264.9,2020.9"/><path color="#2d8cf3" d="M1264.9,2020.9L1329.8,2040.1"/><path color="#2c8ef2" d="M1329.8,2040.1L1394.8,2024.6"/><path color="#03bbc3" d="M1394.8,2024.6L1459.8,2050.7"/><path color="#05b6ce" d="M1459.8,2050.7L1524.8,2071.1"/><path color="#2c8ff0" d="M1199.2,1998.3L1264.2,2018.7"/><path color="#2c8ff0" d="M1264.2,2018.7L1329.2,2036.5"/><path color="#2a93ed" d="M1329.2,2036.5L1394.2,2024.3"/><path color="#04bbc2" d="M1394.2,2024.3L1459.2,2050.4"/><path color="#04b6cd" d="M1459.2,2050.4L1524.1,2070.8"/><path color="#2895ec" d="M1198.5,1994.6L1263.5,2015"/><path color="#2895ec" d="M1263.5,2015L1328.5,2032.6"/><path color="#2699e9" d="M1328.5,2032.6L1393.5,2023.9"/><path color="#05bbc1" d="M1393.5,2023.9L1458.5,2050.1"/><path color="#03b7cc" d="M1458.5,2050.1L1523.5,2070.5"/><path color="#269ae8" d="M1198,1991.1L1263,2011.5"/><path color="#269ae8" d="M1263,2011.5L1328,2029.6"/><path color="#249ee6" d="M1328,2029.6L1393,2023.7"/><path color="#06bcc0" d="M1393,2023.7L1458,2049.9"/><path color="#03b7cc" d="M1458,2049.9L1523,2070.3"/><path color="#23a0e5" d="M1197.5,1987.3L1262.5,2007.7"/><path color="#23a0e5" d="M1262.5,2007.7L1327.5,2026.6"/><path color="#22a2e4" d="M1327.5,2026.6L1392.5,2023.5"/><path color="#07bcc0" d="M1392.5,2023.5L1457.5,2049.7"/><path color="#02b7cb" d="M1457.5,2049.7L1522.5,2070.1"/><path color="#1fa6e2" d="M1197,1983.2L1262,2003.6"/><path color="#1fa6e2" d="M1262,2003.6L1327,2023.8"/><path color="#1fa6e1" d="M1327,2023.8L1392,2023.4"/><path color="#08bcbf" d="M1392,2023.4L1457,2049.5"/><path color="#02b7ca" d="M1457,2049.5L1522,2069.9"/><path color="#1aabdd" d="M1196.5,1979.3L1261.5,1999.7"/><path color="#1aabdd" d="M1261.5,1999.7L1326.5,2021.1"/><path color="#1caadf" d="M1326.5,2021.1L1391.5,2023.2"/><path color="#08bcbf" d="M1391.5,2023.2L1456.5,2049.4"/><path color="#01b8ca" d="M1456.5,2049.4L1521.5,2069.8"/><path color="#14b0d8" d="M1196,1975.6L1261,1996"/><path color="#14b0d8" d="M1261,1996L1326,2018.8"/><path color="#19addc" d="M1326,2018.8L1391,2023.1"/><path color="#09bcbe" d="M1391,2023.1L1456,2049.3"/><path color="#01b8ca" d="M1456,2049.3L1521,2069.7"/><path color="#0bb3d2" d="M1195.5,1972.3L1260.5,1992.7"/><path color="#0bb3d2" d="M1260.5,1992.7L1325.5,2016.8"/><path color="#15afd8" d="M1325.5,2016.8L1390.5,2023"/><path color="#09bdbe" d="M1390.5,2023L1455.5,2049.2"/><path color="#01b8c9" d="M1455.5,2049.2L1520.5,2069.6"/><path color="#03b7cc" d="M1194.8,1969.1L1259.8,1989.5"/><path color="#03b7cc" d="M1259.8,1989.5L1324.8,2015"/><path color="#10b2d5" d="M1324.8,2015L1389.8,2023"/><path color="#0abdbd" d="M1389.8,2023L1454.8,2049.1"/><path color="#01b8c9" d="M1454.8,2049.1L1519.8,2069.5"/><path color="#01b8c9" d="M1194,1967.6L1259,1988"/><path color="#01b8c9" d="M1259,1988L1324,2014.2"/><path color="#0db3d4" d="M1324,2014.2L1389,2023.1"/><path color="#0abdbd" d="M1389,2023.1L1454,2049.2"/><path color="#01b8c9" d="M1454,2049.2L1519,2069.6"/><path color="#0abdbd" d="M1199.9,1960.8L1264.9,1981.2"/><path color="#0abdbd" d="M1264.9,1981.2L1329.8,2004.2"/><path color="#03bbc3" d="M1329.8,2004.2L1394.8,2060.5"/><path color="#2c8ef2" d="M1394.8,2060.5L1459.8,2080.9"/><path color="#2c8ef2" d="M1459.8,2080.9L1524.8,2101.3"/><path color="#0abdbd" d="M1199.2,1960.9L1264.2,1981.3"/><path color="#0abdbd" d="M1264.2,1981.3L1329.2,2003.8"/><path color="#04bbc2" d="M1329.2,2003.8L1394.2,2056.9"/><path color="#2a93ed" d="M1394.2,2056.9L1459.2,2077.3"/><path color="#2a93ed" d="M1459.2,2077.3L1524.1,2097.7"/><path color="#0abdbd" d="M1198.5,1961L1263.5,1981.4"/><path color="#0abdbd" d="M1263.5,1981.4L1328.5,2003.5"/><path color="#05bbc1" d="M1328.5,2003.5L1393.5,2053"/><path color="#2699e9" d="M1393.5,2053L1458.5,2073.4"/><path color="#2699e9" d="M1458.5,2073.4L1523.5,2093.8"/><path color="#0abdbd" d="M1198,1961.1L1263,1981.5"/><path color="#0abdbd" d="M1263,1981.5L1328,2003.3"/><path color="#06bcc0" d="M1328,2003.3L1393,2050"/><path color="#249ee6" d="M1393,2050L1458,2070.4"/><path color="#249ee6" d="M1458,2070.4L1523,2090.8"/><path color="#0abdbd" d="M1197.5,1961.2L1262.5,1981.6"/><path color="#0abdbd" d="M1262.5,1981.6L1327.5,2003.1"/><path color="#07bcc0" d="M1327.5,2003.1L1392.5,2047"/><path color="#22a2e4" d="M1392.5,2047L1457.5,2067.4"/><path color="#22a2e4" d="M1457.5,2067.4L1522.5,2087.8"/><path color="#0abdbd" d="M1196.9,1961.4L1261.8,1981.8"/><path color="#0abdbd" d="M1261.8,1981.8L1326.8,2002.9"/><path color="#08bcbf" d="M1326.8,2002.9L1391.8,2043.3"/><path color="#1ea8e1" d="M1391.8,2043.3L1456.8,2063.7"/><path color="#1ea7e1" d="M1456.8,2063.7L1521.8,2084.1"/><path color="#0abdbd" d="M1196.2,1961.5L1261.2,1981.9"/><path color="#0abdbd" d="M1261.2,1981.9L1326.2,2002.7"/><path color="#09bcbe" d="M1326.2,2002.7L1391.2,2040"/><path color="#1aacdd" d="M1391.2,2040L1456.2,2060.5"/><path color="#1aacdd" d="M1456.2,2060.5L1521.2,2080.9"/><path color="#0ebdbb" d="M1194.8,1960.7L1259.8,1981.1"/><path color="#0ebdbb" d="M1259.8,1981.1L1324.8,2001.5"/><path color="#0ebdbb" d="M1324.8,2001.5L1389.8,2038.5"/><path color="#17aeda" d="M1389.8,2038.5L1454.8,2064.5"/><path color="#1ea7e1" d="M1454.8,2064.5L1519.8,2084.9"/><path color="#14bfb8" d="M1194.7,1959.2L1259.7,1979.5"/><path color="#14bfb8" d="M1259.7,1979.5L1324.7,2000.5"/><path color="#12beb9" d="M1324.7,2000.5L1389.7,2040.3"/><path color="#1aacdd" d="M1389.7,2040.3L1454.7,2069.5"/><path color="#23a0e5" d="M1454.7,2069.5L1519.7,2089.9"/><path color="#22c1b0" d="M1194.5,1955.3L1259.5,1975.6"/><path color="#23c1af" d="M1259.5,1975.6L1324.5,1998.3"/><path color="#1bc0b4" d="M1324.5,1998.3L1389.5,2043.5"/><path color="#1da8e0" d="M1389.5,2043.5L1454.5,2077.8"/><path color="#2994ed" d="M1454.5,2077.8L1519.5,2098.2"/><path color="#36c899" d="M1194.3,1945.7L1259.3,1965.8"/><path color="#36c898" d="M1259.3,1965.8L1324.3,1994"/><path color="#28c2ab" d="M1324.3,1994L1389.3,2049.1"/><path color="#23a0e5" d="M1389.3,2049.1L1454.3,2091.5"/><path color="#317efb" d="M1454.3,2091.5L1519.3,2111.9"/><path color="#91ca4c" d="M1194.2,1921.5L1259.2,1941.2"/><path color="#94ca4a" d="M1259.2,1941.2L1324.2,1985.4"/><path color="#38c896" d="M1324.2,1985.4L1389.2,2058.7"/><path color="#2b92ee" d="M1389.2,2058.7L1454.2,2113.7"/><path color="#4756f7" d="M1454.2,2113.7L1519.2,2134.1"/><path color="#0abdbd" d="M1194,1967.6L1194,1860.9"/><path color="#0abdbd" d="M1259,1988L1259,1879.6"/><path color="#0abdbd" d="M1324,2014.2L1324,1968.3"/><path color="#0abdbd" d="M1389,2023.1L1389,2074.7"/><path color="#0abdbd" d="M1454,2049.2L1454,2149.7"/><path color="#0abdbd" d="M1519,2069.6L1519,2170.1"/><path color="#f6f21e" d="M1194,1860.9L1259,1879.6"/><path color="#f7f51b" d="M1259,1879.6L1324,1968.3"/><path color="#76cc60" d="M1324,1968.3L1389,2074.7"/><path color="#3777fe" d="M1389,2074.7L1454,2149.7"/><path color="#3e26a8" d="M1454,2149.7L1519,2170.1"/></g><path class="a" d="M1194,1847.1L1194,2078.4L1519,2180.4L1934,2103.2M1194,2076.7l-12.9,-2.7M1194,1961.9l-12.9,-2.7M1194,1847.1l-12.9,-2.7M1194,2078.4l-13.4,3.6M1356.5,2129.4l-13.4,3.6M1519,2180.4l-13.4,3.6M1519,2180.4l12.4,3.8M1726.5,2141.8l12.4,3.8M1934,2103.2l12.4,3.8"/><text x="1171.5" y="2086.2" text-anchor="end">-20</text><text x="1171.5" y="1974.4" text-anchor="end">0</text><text x="1171.5" y="1859.6" text-anchor="end">20</text><text x="1160" y="2125.9" text-anchor="middle">0</text><text x="1303.5" y="2179.4" text-anchor="middle">0.5</text><text x="1483" y="2231.4" text-anchor="middle">1</text><text x="1547" y="2234.4" text-anchor="middle">0</text><text x="1756.5" y="2194.8" text-anchor="middle">5</text><text x="1981" y="2154.2" text-anchor="middle">10</text><text x="1298" y="2274.4" text-anchor="middle" font-style="italic">ζ</text><text x="1783" y="2278.4" text-anchor="middle"><tspan font-style="italic">t</tspan>(s)</text><text x="1036.5" y="1934.9"><tspan font-style="italic">u</tspan><tspan dx="4" dy="23" font-size="36">42</tspan></text></g></svg></body></html>
